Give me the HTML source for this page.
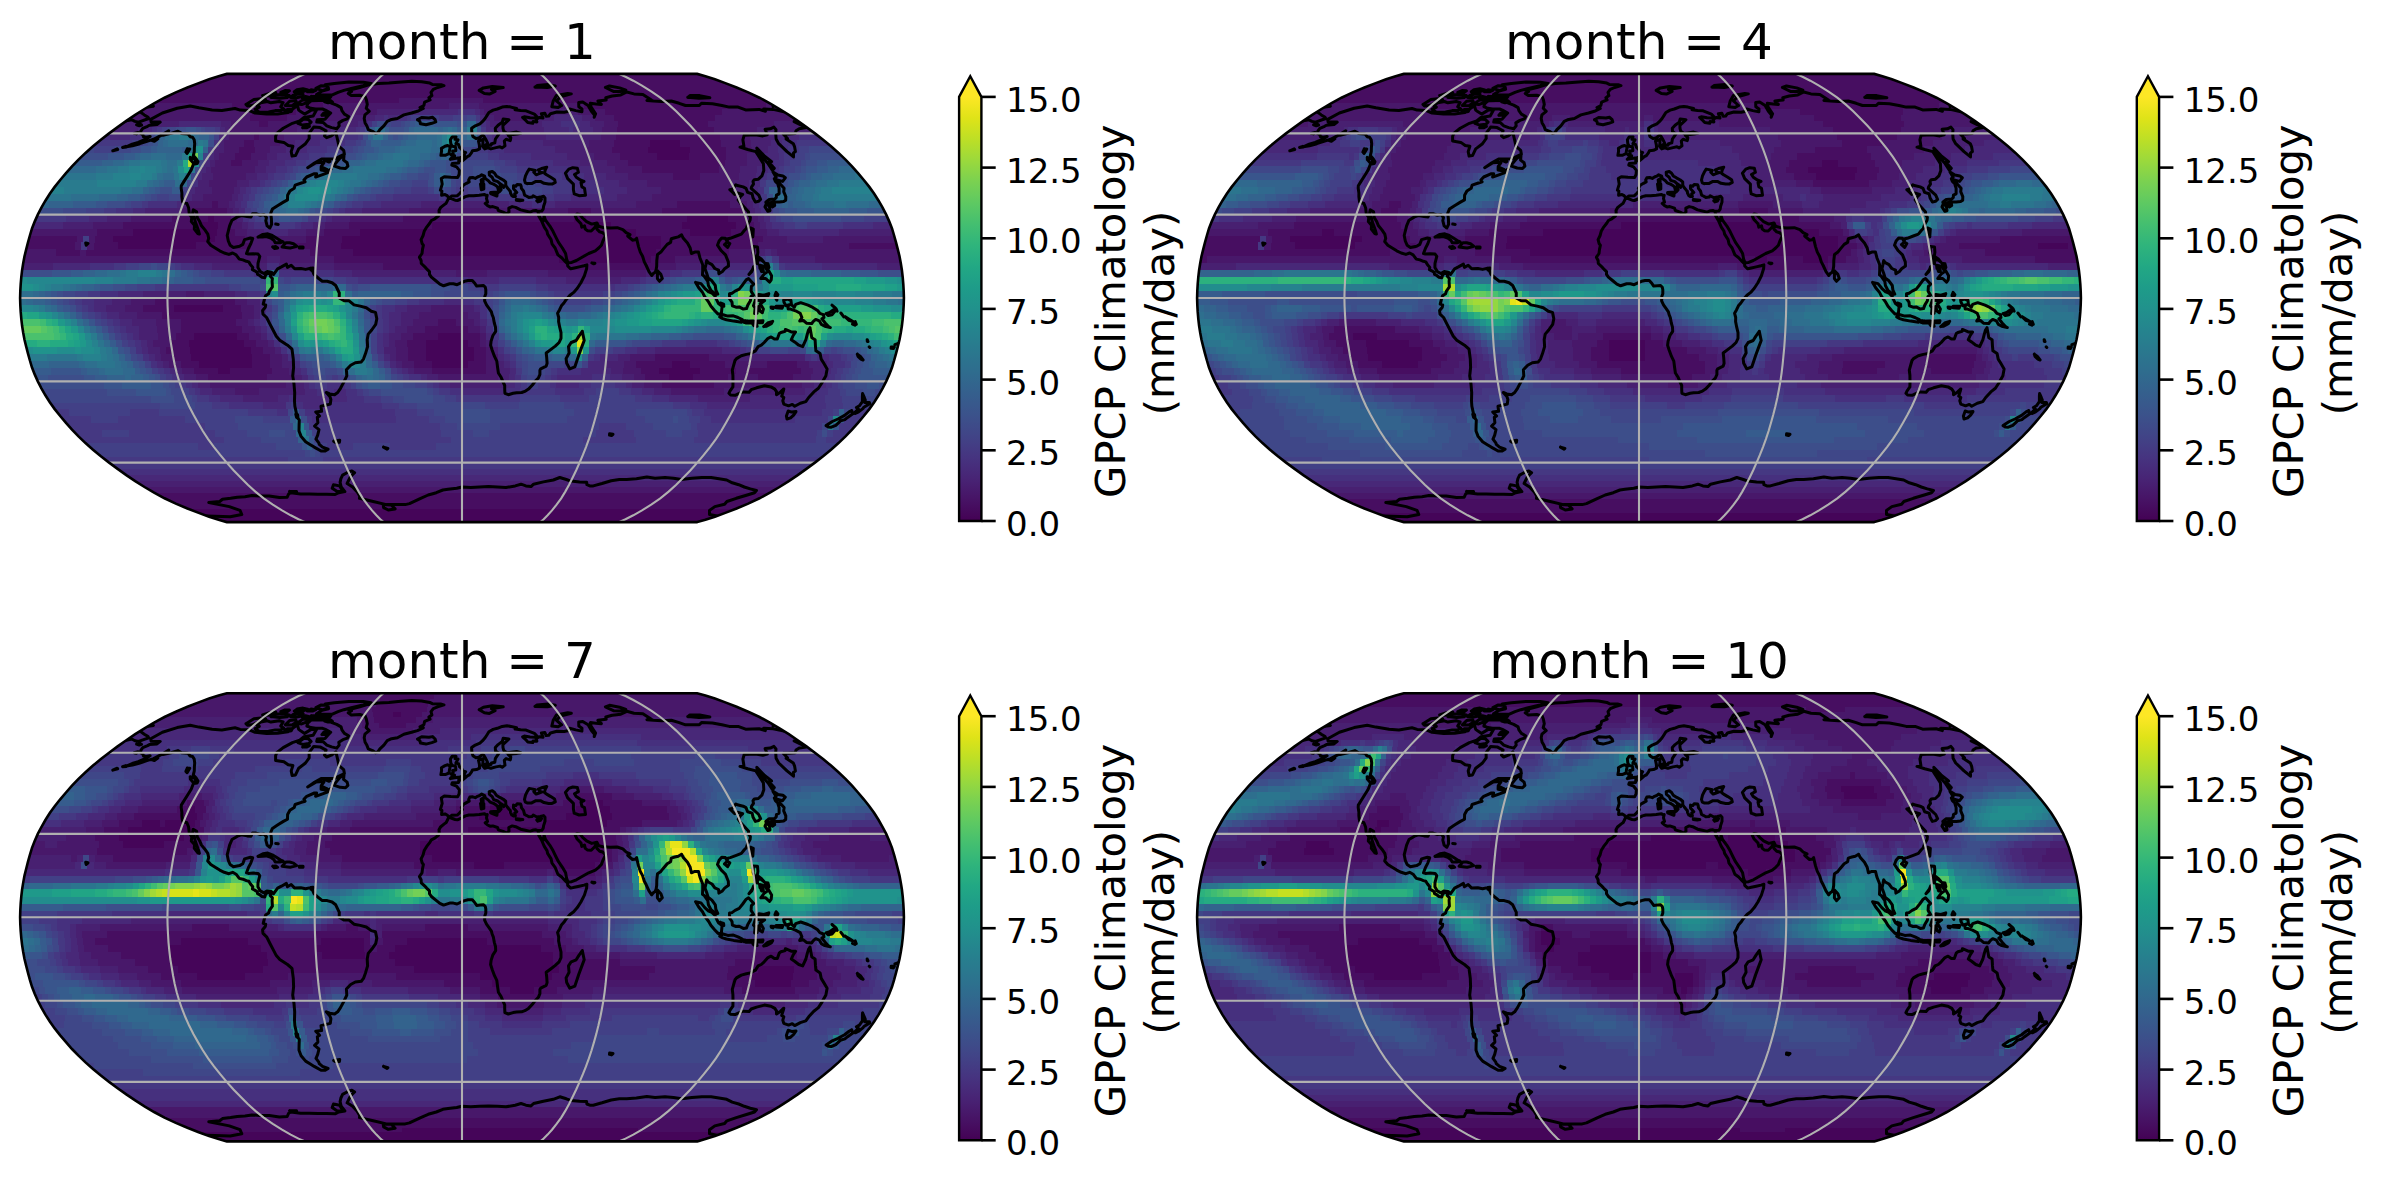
<!DOCTYPE html><html><head><meta charset="utf-8"><title>GPCP Climatology</title><style>html,body{margin:0;padding:0;background:#fff}svg{display:block}text{font-family:"DejaVu Sans","Liberation Sans",sans-serif;fill:#000}</style></head><body><svg width="2381" height="1181" viewBox="0 0 2381 1181">
<defs>
<linearGradient id="vg" gradientUnits="userSpaceOnUse" x1="0" y1="-201.1" x2="0" y2="223.0"><stop offset="0.00" stop-color="#fde725"/><stop offset="0.05" stop-color="#dfe318"/><stop offset="0.10" stop-color="#bddf26"/><stop offset="0.15" stop-color="#9bd93c"/><stop offset="0.20" stop-color="#7ad151"/><stop offset="0.25" stop-color="#5ec962"/><stop offset="0.30" stop-color="#44bf70"/><stop offset="0.35" stop-color="#2fb47c"/><stop offset="0.40" stop-color="#22a884"/><stop offset="0.45" stop-color="#1e9c89"/><stop offset="0.50" stop-color="#21918c"/><stop offset="0.55" stop-color="#25848e"/><stop offset="0.60" stop-color="#2a788e"/><stop offset="0.65" stop-color="#2f6c8e"/><stop offset="0.70" stop-color="#355f8d"/><stop offset="0.75" stop-color="#3b528b"/><stop offset="0.80" stop-color="#414487"/><stop offset="0.85" stop-color="#463480"/><stop offset="0.90" stop-color="#482475"/><stop offset="0.95" stop-color="#471365"/><stop offset="1.00" stop-color="#440154"/></linearGradient>
<clipPath id="cp"><path d="M235.2,224.1L243.4,221.8L252.9,218.7L263.3,214.9L274.6,210.5L286.2,205.6L297.5,200.3L307.9,194.7L317.5,189.0L326.8,183.1L335.7,177.1L344.4,170.9L352.9,164.6L361.1,158.2L369.0,151.7L376.5,145.1L383.5,138.4L390.0,131.7L396.0,124.8L401.8,118.0L407.3,111.1L412.2,104.2L416.6,97.3L420.6,90.3L424.2,83.4L427.3,76.4L430.0,69.5L432.1,62.5L434.0,55.6L435.8,48.6L437.5,41.7L438.8,34.7L439.9,27.8L440.7,20.8L441.3,13.9L441.7,6.9L441.9,0.0L441.7,-6.9L441.3,-13.9L440.7,-20.8L439.9,-27.8L438.8,-34.7L437.5,-41.7L435.8,-48.6L434.0,-55.6L432.1,-62.5L430.0,-69.5L427.3,-76.4L424.2,-83.4L420.6,-90.3L416.6,-97.3L412.2,-104.2L407.3,-111.1L401.8,-118.0L396.0,-124.8L390.0,-131.7L383.5,-138.4L376.5,-145.1L369.0,-151.7L361.1,-158.2L352.9,-164.6L344.4,-170.9L335.7,-177.1L326.8,-183.1L317.5,-189.0L307.9,-194.7L297.5,-200.3L286.2,-205.6L274.6,-210.5L263.3,-214.9L252.9,-218.7L243.4,-221.8L235.2,-224.1L-235.2,-224.1L-243.4,-221.8L-252.9,-218.7L-263.3,-214.9L-274.6,-210.5L-286.2,-205.6L-297.5,-200.3L-307.9,-194.7L-317.5,-189.0L-326.8,-183.1L-335.7,-177.1L-344.4,-170.9L-352.9,-164.6L-361.1,-158.2L-369.0,-151.7L-376.5,-145.1L-383.5,-138.4L-390.0,-131.7L-396.0,-124.8L-401.8,-118.0L-407.3,-111.1L-412.2,-104.2L-416.6,-97.3L-420.6,-90.3L-424.2,-83.4L-427.3,-76.4L-430.0,-69.5L-432.1,-62.5L-434.0,-55.6L-435.8,-48.6L-437.5,-41.7L-438.8,-34.7L-439.9,-27.8L-440.7,-20.8L-441.3,-13.9L-441.7,-6.9L-441.9,0.0L-441.7,6.9L-441.3,13.9L-440.7,20.8L-439.9,27.8L-438.8,34.7L-437.5,41.7L-435.8,48.6L-434.0,55.6L-432.1,62.5L-430.0,69.5L-427.3,76.4L-424.2,83.4L-420.6,90.3L-416.6,97.3L-412.2,104.2L-407.3,111.1L-401.8,118.0L-396.0,124.8L-390.0,131.7L-383.5,138.4L-376.5,145.1L-369.0,151.7L-361.1,158.2L-352.9,164.6L-344.4,170.9L-335.7,177.1L-326.8,183.1L-317.5,189.0L-307.9,194.7L-297.5,200.3L-286.2,205.6L-274.6,210.5L-263.3,214.9L-252.9,218.7L-243.4,221.8L-235.2,224.1Z"/></clipPath>
<path id="ol" d="M235.2,224.1L243.4,221.8L252.9,218.7L263.3,214.9L274.6,210.5L286.2,205.6L297.5,200.3L307.9,194.7L317.5,189.0L326.8,183.1L335.7,177.1L344.4,170.9L352.9,164.6L361.1,158.2L369.0,151.7L376.5,145.1L383.5,138.4L390.0,131.7L396.0,124.8L401.8,118.0L407.3,111.1L412.2,104.2L416.6,97.3L420.6,90.3L424.2,83.4L427.3,76.4L430.0,69.5L432.1,62.5L434.0,55.6L435.8,48.6L437.5,41.7L438.8,34.7L439.9,27.8L440.7,20.8L441.3,13.9L441.7,6.9L441.9,0.0L441.7,-6.9L441.3,-13.9L440.7,-20.8L439.9,-27.8L438.8,-34.7L437.5,-41.7L435.8,-48.6L434.0,-55.6L432.1,-62.5L430.0,-69.5L427.3,-76.4L424.2,-83.4L420.6,-90.3L416.6,-97.3L412.2,-104.2L407.3,-111.1L401.8,-118.0L396.0,-124.8L390.0,-131.7L383.5,-138.4L376.5,-145.1L369.0,-151.7L361.1,-158.2L352.9,-164.6L344.4,-170.9L335.7,-177.1L326.8,-183.1L317.5,-189.0L307.9,-194.7L297.5,-200.3L286.2,-205.6L274.6,-210.5L263.3,-214.9L252.9,-218.7L243.4,-221.8L235.2,-224.1L-235.2,-224.1L-243.4,-221.8L-252.9,-218.7L-263.3,-214.9L-274.6,-210.5L-286.2,-205.6L-297.5,-200.3L-307.9,-194.7L-317.5,-189.0L-326.8,-183.1L-335.7,-177.1L-344.4,-170.9L-352.9,-164.6L-361.1,-158.2L-369.0,-151.7L-376.5,-145.1L-383.5,-138.4L-390.0,-131.7L-396.0,-124.8L-401.8,-118.0L-407.3,-111.1L-412.2,-104.2L-416.6,-97.3L-420.6,-90.3L-424.2,-83.4L-427.3,-76.4L-430.0,-69.5L-432.1,-62.5L-434.0,-55.6L-435.8,-48.6L-437.5,-41.7L-438.8,-34.7L-439.9,-27.8L-440.7,-20.8L-441.3,-13.9L-441.7,-6.9L-441.9,0.0L-441.7,6.9L-441.3,13.9L-440.7,20.8L-439.9,27.8L-438.8,34.7L-437.5,41.7L-435.8,48.6L-434.0,55.6L-432.1,62.5L-430.0,69.5L-427.3,76.4L-424.2,83.4L-420.6,90.3L-416.6,97.3L-412.2,104.2L-407.3,111.1L-401.8,118.0L-396.0,124.8L-390.0,131.7L-383.5,138.4L-376.5,145.1L-369.0,151.7L-361.1,158.2L-352.9,164.6L-344.4,170.9L-335.7,177.1L-326.8,183.1L-317.5,189.0L-307.9,194.7L-297.5,200.3L-286.2,205.6L-274.6,210.5L-263.3,214.9L-252.9,218.7L-243.4,221.8L-235.2,224.1Z"/>
<g id="ov"><g clip-path="url(#cp)"><path d="M-311.3 -178.6L-299.6 -185L-284.8 -189.7L-271.8 -192L-263.1 -190.2L-249.9 -188.1L-240.1 -187.4L-227 -189.5L-221.8 -187.9L-213.2 -187.6L-206.9 -185L-195.4 -183.9L-184.3 -184.1L-174.1 -185.5L-164.6 -192.5L-163.3 -187.9L-161 -186.2L-157.4 -183.9L-150.8 -187.9L-145.5 -187.9L-148.8 -182L-158 -180.5L-162.3 -177.1L-169.6 -174.7L-178.8 -169.7L-185.3 -164.6L-186.4 -161.6L-186.4 -156.9L-178.1 -155.6L-173.8 -152.5L-169.1 -151.7L-170.8 -146.4L-169.9 -141.9L-166.5 -142.4L-163.3 -149.1L-156.5 -154.3L-152.8 -159.5L-152.9 -164.6L-148.3 -170.9L-141.9 -170.4L-135.9 -167.2L-137.5 -162.1L-135.4 -160.3L-130.6 -162.1L-126.1 -165.4L-124.4 -158.2L-123 -151.7L-118.3 -147.7L-117.6 -143.8L-127.7 -138.9L-140.4 -138.9L-148.5 -134.4L-154.3 -130.3L-146.1 -135.2L-139.5 -135.7L-138.1 -135.2L-140.8 -131.7L-140.9 -128.1L-134.7 -127L-130.8 -128.9L-134 -125.4L-141.5 -122.7L-146.4 -121L-145.4 -124.3L-147.6 -124.3L-155.3 -121L-158.1 -118L-156.9 -116.1L-160.6 -115L-166.9 -112.8L-167.8 -109.7L-172.1 -107L-174.4 -102.8L-174.5 -98.1L-178.6 -95.9L-184.1 -92.5L-189.6 -88.9L-191.3 -84.8L-190.6 -79.2L-190.4 -73.6L-192.2 -70L-194.9 -72.2L-196.2 -77.3L-195.5 -80.6L-198 -83.4L-201.6 -82.8L-206 -84.2L-209.6 -84.2L-211 -81.1L-214.9 -81.4L-220.6 -82.5L-224.5 -81.1L-230 -77.8L-232.4 -72.2L-234.8 -62.5L-233.7 -57L-231.9 -52.8L-228.6 -50.6L-222.4 -51.7L-219.2 -53.6L-217.4 -58.4L-211.6 -60L-209.3 -59.5L-211.2 -54.2L-213.4 -50L-215.5 -44.5L-213.6 -43.9L-208.8 -44.2L-203.9 -43.9L-202.2 -41.7L-204 -34.7L-204.1 -30.6L-201.7 -26.4L-198.1 -24.5L-194.8 -26.4L-190.7 -25.8L-188.4 -23.6L-184.4 -29.2L-180.6 -31.1L-175.6 -33.9L-174.6 -30.6L-170.8 -32.8L-167.3 -29.2L-161.2 -29.5L-156.4 -28.6L-151.4 -29.7L-149.1 -26.4L-148 -23.6L-143.3 -19.5L-139.7 -16.7L-134.8 -16.7L-129.9 -15.3L-126.3 -12.5L-122.7 -5L-122.8 0L-117.8 2.8L-112.9 2.8L-108 6.9L-101.8 8.1L-95.7 9.7L-90.7 13.3L-86.5 14.4L-85.2 20.8L-86.3 26.4L-90.3 32L-93.8 36.1L-94.8 41.7L-94.4 48.6L-96.5 55.6L-98.5 61.1L-100.7 63.9L-106.7 64.7L-111.3 67.2L-115.6 71.7L-115.2 77.8L-117.8 83.4L-121.5 90.3L-124.3 94.5L-127.4 96.7L-132.2 95.9L-135.7 94.5L-132.1 98.6L-131.1 101.4L-131.7 106.1L-141 108.3L-140.4 113.3L-146.3 113.9L-142.4 118L-144.7 119.4L-144.1 124.8L-147.4 128.1L-143 131.7L-144.3 137.1L-146 141.1L-143.2 144.8L-142.7 146.4L-139.5 149.1L-133.9 151.2L-136.8 153L-140.9 153L-147.8 149.1L-152.1 146.4L-156.4 143.8L-160.9 138.4L-163 133L-162.9 127.6L-162.7 122.1L-164.7 119.4L-165.9 113.9L-167.1 108.3L-167.5 102.8L-167.3 94.5L-168 86.1L-169.3 77.8L-168.4 69.5L-168.7 61.1L-170 51.1L-174.5 47.2L-182.2 42.2L-185.7 38.3L-188.3 33.3L-191.9 26.4L-195.4 19.5L-199 16.1L-199.4 12.5L-196.7 9.2L-196.3 6.9L-198.8 6.1L-197.6 1.4L-196.4 -2.2L-193.4 -4.2L-192.6 -6.9L-189.6 -11.1L-189.9 -16.7L-189.6 -19.5L-191.7 -21.7L-190.8 -23.6L-194.4 -25L-196.5 -22.8L-197.1 -20.3L-200 -20.8L-202.6 -22.8L-204.5 -23.6L-204.7 -25.6L-207.3 -27.2L-209.6 -28.3L-209.2 -30.6L-211.5 -33.3L-213.2 -36.1L-215.6 -36.7L-219.1 -38.1L-222.7 -38.9L-225.9 -43.1L-229.3 -45L-233.1 -43.6L-237.8 -45L-242.3 -47.2L-246.8 -50L-251.2 -52.8L-254.3 -56.4L-253.3 -59.7L-254.2 -63.9L-257.1 -68.1L-260.5 -72.2L-262.3 -76.4L-264.8 -80.6L-265.4 -86.1L-268.8 -88.1L-269.4 -84.8L-267.5 -79.2L-266.3 -75L-264.8 -70.9L-263.3 -66.7L-262.6 -63.9L-264.2 -64.5L-267.7 -68.9L-267.5 -72.8L-270.7 -76.4L-270.2 -80.6L-272.7 -84.2L-273.4 -90.3L-275.1 -94.5L-279.4 -95.9L-280.1 -101.4L-280.1 -105L-280.8 -109.7L-280.7 -112.2L-278 -116.6L-273.6 -123.5L-270.8 -128.1L-268.6 -133.8L-264.8 -134.4L-264 -136.3L-265.8 -139.2L-268.7 -142.4L-267.7 -146.4L-267.6 -150.4L-267.3 -154.3L-267.8 -158.2L-269.4 -160.8L-271.9 -161.3L-274 -164.1L-280.4 -164.6L-284.1 -166.7L-291.1 -164.6L-299 -162.8L-293.2 -167.2L-301.8 -162.1L-308.4 -158.7L-314.3 -156.9L-322.2 -154.3L-329.5 -152.2L-335.7 -151.2L-329.8 -153.8L-323.8 -155.6L-316.1 -159L-311.9 -161.6L-315.7 -160.8L-318.5 -161.3L-319.1 -163.3L-321.5 -164.6L-321 -167.2L-319.2 -169.7L-314.4 -171.7L-312.6 -172.7L-305 -173.4L-301.8 -175.9L-305.6 -175.9L-310.9 -176.1L-311.3 -178.6M-12.9 -100L-14.9 -102.3L-17 -103.4L-20.4 -102.8L-20.1 -107L-21.6 -107.8L-19.8 -113.9L-20.7 -119.4L-17.7 -121.3L-11.1 -120.7L-4.4 -120.5L-2.9 -123.5L-2.6 -127.6L-5.4 -131.1L-10.2 -133L-9.7 -134.6L-3.4 -134.9L-3.2 -137.6L.4 -137.1L3.4 -139.7L5.3 -141.4L7.4 -142.4L9.4 -145.1L10.4 -147.2L14.5 -147.7L17.6 -149.1L17.4 -153L16.5 -156.9L21 -158.7L20.9 -154.3L20.5 -151.7L22.7 -149.1L25.8 -150.1L28.9 -149.1L34 -150.4L38 -151.2L40.2 -150.1L43 -152.2L42.3 -156.9L44.1 -158.7L48.3 -157.4L48.8 -160.3L46.4 -162.6L51.2 -163.6L55.1 -163.9L58.8 -164.6L54.6 -165.9L48.9 -165.1L45.1 -164.4L41.8 -166.7L41 -169.7L40.9 -172.7L45.7 -177.1L46.9 -178.3L41.2 -179.1L40.3 -175.9L36.1 -172.7L33.3 -169.7L33.5 -166.4L36.9 -164.1L35.6 -162.1L33.4 -159L32.8 -155.1L29.5 -154.3L29 -152.7L26.3 -153L25.3 -155.6L23.6 -159L21.8 -162.1L20.7 -162.8L16.9 -160L14 -159.5L10.9 -161.6L9.8 -165.9L9.6 -169.7L13.3 -172.2L17.9 -174.2L20.6 -176.6L23.1 -179.5L25.4 -183.1L26.9 -185.5L31.1 -187.9L35.3 -189L40.2 -190.9L44.9 -191.6L48.9 -190.9L54.6 -189.5L53.1 -188.3L58.6 -187.6L64.1 -187.2L72.4 -183.9L75.2 -181L73.7 -180L68.1 -180.3L62.3 -181.2L60.6 -180.5L64.3 -177.1L65.8 -175.4L70.7 -174.7L71.1 -176.4L74.9 -176.1L74.1 -178.6L77.2 -180.5L81 -180L79.4 -184.3L82.9 -184.8L84.1 -181.7L86.7 -182L88.5 -184.3L94.9 -186L102.2 -185.8L107.1 -186.7L107.6 -189L113.8 -187.4L119.9 -186.2L120 -189L116.8 -191.3L116.7 -195.4L120.7 -195.9L126.1 -192.5L129.4 -186.7L132.5 -183.1L132.2 -180.7L133.6 -184.3L129 -191.3L128.3 -194.7L133.9 -194.1L139.4 -193.6L135.9 -197L144.2 -198.1L143.8 -200.3L150.2 -202L158.8 -203.1L164.8 -206L172 -204.1L180.9 -203.5L189.4 -198.1L184.9 -197.6L191.6 -197L199.7 -196.5L209.3 -197L217.2 -194.7L223.5 -192.5L230.4 -192.5L237.3 -192.5L239.5 -194.7L250.4 -194.3L259.9 -192.5L267.3 -190.9L276.1 -190.9L283.6 -188.1L290.3 -188.3L297.1 -188.6L303.4 -186.7L301.7 -189L311.2 -188.6L322 -186.2M-322 -186.2L-317.7 -183.1L-313.9 -180.7L-313.3 -179.5L-323.4 -175.9L-327.1 -176.6L-330.2 -178.3L-335.7 -177.1M335.7 -177.1L334.7 -175.9L332.1 -176.4L340.8 -172.2L344.2 -170.4L337.2 -169.2L334 -167.2L333.3 -164.6L326.1 -164.1L321.2 -164.1L325.5 -159.5L324.1 -159L331.3 -154.3L332.6 -151.2L333.4 -146.4L331.5 -145.1L331.5 -141.1L325 -146.4L316.7 -154.3L314.1 -159L313.7 -164.6L314 -168.4L311.9 -170.9L308.3 -169.2L303.1 -168.7L305.3 -163.3L300.8 -162.1L293.5 -163.3L282.2 -162.8L280.9 -158.2L281.9 -151.7L278 -150.9L285.7 -148.5L293.8 -146.4L297.2 -141.1L301.4 -134.4L301.8 -127.6L299.9 -122.1L296.4 -118.8L292.3 -118.3L291 -116.6L291.5 -113.9L289.6 -111.1L289.2 -109.7L296.7 -102.8L298.6 -98.6L296.5 -96.7L293.4 -95.9L291.1 -100L290.1 -104.2L285.6 -105.6L284 -109.7L281.2 -111.1L275.3 -112.5L273.8 -113.3L270.3 -108.9L267.8 -108.3L270.7 -105.6L272.7 -103.6L275.5 -105L280.7 -103.6L278.3 -101.4L276.2 -98.1L278.8 -94.5L282.7 -90.3L286.6 -86.1L286.4 -83.4L288.4 -80.6L288.1 -77.8L285.6 -73.6L284.3 -69.5L282.3 -67.5L279.4 -63.9L274.3 -62L268.2 -59.7L265.9 -59.2L265.1 -56.4L263.4 -59.7L259.7 -60L257.1 -57L255.5 -52.8L259.3 -47.2L263.5 -43.1L266.3 -36.1L266.5 -32L262.6 -29.2L260.4 -26.4L256.9 -24.2L256.6 -27.8L252.8 -29.5L250 -33.3L246.2 -35.3L244.7 -37.5L243.9 -33.3L243 -29.2L244.6 -25L246.1 -20L249.9 -17.2L253.3 -12.5L253.9 -7.8L255.8 -3.9L254 -3.6L249 -7.5L246.4 -12.5L245.8 -16.7L242.3 -21.7L240.5 -23.1L240.7 -27.8L240.7 -33.3L237.9 -40.3L236.5 -45.9L232.8 -45.9L229.4 -44.5L228.2 -50L225.5 -55L221.3 -59.7L219.6 -63.1L216.3 -61.1L212.8 -60.3L209.3 -59.2L208.6 -55.6L205.2 -53.6L201 -48.6L198.9 -45.9L195.5 -43.6L194.8 -37.5L194.7 -32L194.2 -28.6L193.2 -25.8L191.3 -24.5L189.7 -22.5L187 -26.4L184.2 -32.5L182.3 -36.1L180.6 -41.7L178.3 -45.9L176.5 -51.4L175.5 -55.6L174.6 -59.7L174 -58.4L170.5 -57.8L165.7 -62L168 -63.4L164.1 -65.3L160.9 -68.4L155.2 -70.3L148 -70L140.8 -70.6L136.6 -71.7L135 -75L129.7 -73.9L124.6 -76.4L120.6 -80L117.8 -83.4L114.9 -83.9L113.3 -82L114.9 -78.6L119 -74.2L119.8 -70.9L121.6 -71.7L122.5 -72.2L123.3 -68.9L125.6 -67.2L129.2 -67L132.5 -70.3L134.1 -72.8L135 -68.9L137.7 -66.1L140.7 -65.3L143.6 -62.5L140.9 -57L139.4 -52.8L136.7 -50L133.3 -47.2L126.7 -44.5L119.2 -40.3L114.4 -37.5L109.7 -35.6L106 -35.3L104.6 -38.9L103.6 -44.5L100.4 -50L96.5 -55.6L93.7 -61.1L91 -66.7L87.7 -72.2L83.5 -77.8L82.1 -82L81.4 -77.3L78.6 -79.2L76.8 -83.4L75.8 -86.7L79.8 -87L81.2 -88.9L81.6 -91.7L83 -95.9L83 -100L81.6 -101.7L78.3 -100.9L74.9 -100.3L71.2 -102.3L70.2 -100.9L66.8 -100.6L64.3 -102L62.6 -102.8L61.5 -107L59.4 -109.7L59.2 -111.7L58.6 -113.3L55.2 -113.6L53.8 -111.7L51.5 -112.2L51.5 -109.2L53.1 -107.5L54.8 -105.6L52.7 -104.2L53.4 -101.4L51.5 -101.4L49.8 -102.3L48.5 -105L48.3 -106.7L47.1 -108.1L45.3 -110.3L43.8 -112.5L43.7 -116.1L41.3 -118L37.8 -119.9L34.3 -122.1L32.6 -124.8L30.3 -126.5L27.2 -125.7L27.4 -122.9L30.2 -120.7L31.7 -117.7L35.8 -116.3L37.8 -114.4L41.8 -111.7L41.7 -110.6L38.4 -112.5L37.6 -110.3L39.1 -108.3L37.6 -106.4L35.9 -105.3L36.4 -107.8L35.5 -111.1L33.4 -112.8L31.5 -113.9L28.1 -115.2L26.4 -117.2L23.4 -119.4L22.6 -121.8L19.7 -123.2L17.7 -121.8L15.5 -121L13.3 -119.6L10.7 -120.5L7.8 -120.2L6.7 -118L7.2 -116.1L4.5 -114.7L1.6 -113L-.7 -109.7L.5 -107.8L-1.4 -105.6L-2.3 -104.5L-4.6 -102.3L-10.1 -102L-12.9 -100M65.2 -114.4L69.7 -114.4L73.9 -116.6L78.4 -116.6L82 -114.7L86.7 -113.9L90 -113.9L93.3 -115.5L92.6 -118.3L88.8 -120.7L84.6 -123.2L82.5 -124.8L83.1 -127.6L84.7 -130.8L82.6 -130.3L79.5 -129.5L76.4 -128.1L78 -125.7L80.2 -125.4L77.1 -124.3L74.2 -123.2L71.8 -125.7L73.3 -127.6L69.9 -128.4L67.2 -128.9L65.2 -125.7L63.5 -122.1L62.5 -118L63.3 -115.2L65.2 -114.4M112.2 -104.2L117.1 -102.3L123.5 -102.8L122.5 -109.7L119.9 -111.1L119 -115.2L122 -116.6L118.3 -118L114.3 -120.7L112.5 -123.5L116.4 -125.7L115.3 -129.8L110.8 -130.3L106.8 -128.9L103.4 -124.8L105.7 -119.4L111.4 -113.9L111.4 -108.3L112.2 -104.2M-13.6 -99.5L-12.2 -99.8L-6.9 -97.8L-4.6 -97.5L0 -99.5L3.4 -101.4L6.9 -102.3L11.5 -102.3L17.2 -102.8L22.5 -103.6L24.1 -102.3L25.2 -102.8L24.5 -99.5L25.5 -95.9L23.2 -94.5L25.6 -92.3L28 -91.1L30.8 -91.4L35.5 -89.8L36.3 -87.5L41.1 -85.9L44.7 -84.2L47 -86.1L46.8 -89.8L50.2 -91.4L53.7 -90.6L58.6 -88.1L63.4 -87L68.1 -85.9L71.5 -87.3L73.9 -87.5L75.8 -86.7L76.8 -83.4L76.7 -82L79.5 -77.3L82.3 -70.9L85 -66.7L85.6 -63.9L89.1 -58.4L90 -54.2L93.1 -50L95.9 -43.1L99.7 -40.3L103.6 -36.1L105.6 -34.2L105.7 -32L108.7 -29.2L112.3 -30L117.2 -31.1L122 -32.2L124.9 -33.1L124.6 -29.2L122.4 -22.2L118.9 -15.3L115.3 -9.7L111.7 -5.6L108 -2.8L104.3 1.4L101.9 5L99.4 7.8L97.6 11.7L95.6 15.3L96.7 19.5L96.6 23.6L97.7 29.2L99 34.7L99 40.3L97.1 44.5L93.3 48.1L89 51.4L84.2 55L84.7 59.7L85.1 65.3L84.2 68.1L78.7 70.9L77.9 72.2L77.9 76.4L76.4 80L73.1 83.4L70.4 87L66.5 91.1L62.8 93.4L59.7 94.5L54.6 94.8L51.1 95.3L46.3 96.7L42.9 95.3L42.7 91.1L42.7 87.5L40.8 83.4L39.1 79.2L36.4 75L35.6 69.5L34.8 63.1L32.5 58.4L30.2 52.2L28.6 47.2L29.1 43.1L30.9 37.5L33.7 33.3L33.5 29.2L32.3 25L31.3 19.5L30.1 16.7L29.4 13.9L27.5 11.1L24.5 6.9L22.6 2.8L22.8 -1.4L23.8 -4.2L23.8 -8.3L23.3 -10.8L21.6 -12.5L18.4 -12.2L14.7 -11.9L12.3 -15.3L10.3 -17.5L6.1 -17.5L2.5 -16.7L0 -15.6L-4.9 -13.3L-8.6 -14.2L-12.3 -14.2L-18.4 -12.2L-22.1 -13.9L-26.5 -17.5L-30.6 -20.8L-32.5 -23.6L-32.5 -26.4L-35.4 -29.2L-36.6 -30.6L-40.7 -34.5L-40.9 -37.5L-42.6 -40.8L-40 -44.5L-39.5 -48.6L-38.6 -52.8L-39.8 -54.2L-40.9 -58.4L-38.9 -62.5L-37.8 -66.7L-35.3 -70.9L-32.1 -75L-30.6 -77.5L-27.2 -79.2L-23.6 -82L-22.8 -84.8L-23 -87.5L-21.5 -90.3L-17.7 -93.4L-15.8 -94.8L-14.3 -97.8L-13.6 -99.5M-86.3 -164.6L-89.5 -166.7L-93.7 -168.4L-95.2 -172.2L-96.9 -175.1L-97.8 -179.5L-97.1 -183.1L-92.8 -186.7L-95.8 -189.7L-94.7 -193.6L-95.6 -198.1L-96.8 -201.3L-102.3 -202.8L-110.7 -202.4L-113.8 -204.5L-110.4 -206.6L-113.4 -207.6L-102.2 -210.5L-94 -212.9L-83.8 -214.4L-73.1 -214.9L-63.8 -215.8L-50.3 -216.7L-40.4 -216.2L-32.2 -214.9L-29.7 -213.6L-20.8 -213.2L-18 -212.4L-24.4 -210.5L-28.7 -208.6L-31 -205.6L-30.1 -202.4L-33.1 -200.3L-31.9 -198.1L-37.4 -195.9L-38.1 -192.5L-42 -190.4L-38.7 -189.5L-44.6 -186.7L-50.4 -185L-58.1 -183.1L-64.6 -179.5L-70.4 -178.6L-74.8 -176.6L-78.1 -172.2L-82.1 -168.4L-84.1 -165.4L-86.3 -164.6M-125.2 -169.2L-130.4 -170.4L-135.2 -172.2L-138.9 -175.6L-145.3 -175.9L-144.7 -178.3L-137 -178.8L-134.2 -182L-131.3 -185L-136.6 -187.9L-139.4 -189L-146.4 -189L-151.2 -189.7L-155.1 -191.3L-154.3 -194.3L-150.9 -197.2L-142.9 -197.6L-136.4 -197.4L-132.5 -195.9L-130 -194.7L-125.3 -192.9L-120.9 -190.4L-120.1 -187.4L-117.6 -183.9L-113.4 -181.5L-114.7 -179.1L-119.1 -177.6L-123.2 -175.1L-122.8 -172.2L-125.2 -169.2M-206.9 -188.6L-202.6 -185.8L-193.4 -186L-186.8 -187.4L-181.4 -187.4L-178.2 -189L-181.3 -191.3L-178.9 -195.4L-182.8 -196.5L-191.1 -195.2L-194.6 -196.5L-201.3 -195.2L-205.3 -192.5L-202.7 -190.9L-206.9 -188.6M-216 -193.6L-214.5 -192L-209.6 -192.5L-202.2 -195.9L-196.4 -198.5L-201.4 -199.2L-208.1 -198.5L-216 -193.6M-145.4 -203.5L-137.7 -203.1L-129.6 -203.1L-124 -205.6L-118.1 -207.6L-110.7 -209.6L-99 -212.4L-91 -214.6L-98.7 -215.8L-113 -215.9L-127.7 -214.6L-136.8 -213.2L-133.8 -210.9L-133.4 -208.6L-139.9 -207L-145.4 -203.5M-150.7 -201.6L-140.9 -201.6L-131.2 -201.3L-133 -199.4L-143.2 -199.2L-152.7 -199.6L-150.7 -201.6M-191.1 -200.7L-182.3 -199.8L-174.9 -200.5L-172.6 -202.4L-178 -203.3L-187.7 -203.3L-191.1 -200.7M-146.1 -209.6L-139.4 -207.4L-133.8 -209.6L-135.4 -212L-141.2 -212.2L-146.1 -209.6M-164.8 -194.1L-160.3 -193.4L-153.8 -195.9L-154.2 -198.1L-159.3 -198.1L-164.8 -194.1M-176.7 -192.5L-170 -192.2L-165.3 -195.4L-166.4 -197.6L-172.4 -196.7L-176.7 -192.5M-164 -174.7L-159.4 -172.9L-153.3 -173.7L-150.9 -175.9L-153.8 -178.6L-158.1 -179.1L-164 -174.7M-128.3 -132.2L-121.8 -130L-116.5 -129.5L-114.1 -131.9L-114.9 -135.2L-118.4 -137.9L-118 -142.4L-122.1 -139.7L-125.5 -135.7L-128.3 -132.2M-271.8 -140.6L-267 -138.9L-265.8 -134.4L-268.7 -134.9L-271.7 -138.4L-271.8 -140.6M-204 -60.9L-199.1 -63.6L-194.2 -64.2L-189.7 -62.5L-185.2 -59.7L-181.8 -57.5L-178.9 -56.1L-182.1 -55.3L-186.9 -55.3L-187.9 -57.5L-191.2 -60L-195.8 -61.4L-199.4 -61.1L-204 -60.9M-179.9 -51.1L-176.1 -55.3L-172.4 -55.3L-168.5 -54.2L-165.3 -51.7L-168.1 -50.9L-171.8 -50L-174.2 -50.3L-179.9 -51.1M-189.3 -51.1L-186.1 -51.4L-184.4 -50L-187.6 -49.5L-189.3 -51.1M-162.5 -51.1L-158.9 -51.1L-159 -50L-162.6 -50L-162.5 -51.1M-44.5 -178.3L-40.4 -180.5L-33.1 -180L-29.4 -180.7L-26.9 -178.3L-26.2 -176.1L-30.2 -174.7L-36 -173.2L-41.5 -174.2L-42.1 -176.6L-44.5 -178.3M-11.7 -138.7L-7.4 -139.5L-2.1 -140.3L2.7 -141.6L2.1 -143.2L3.6 -145.6L.6 -146.4L0 -148.3L-2.5 -150.6L-3.5 -153.5L-6.1 -154.3L-4 -158.2L-7 -158.7L-6 -161L-9.9 -161L-11.6 -158.2L-11.2 -154.3L-9.8 -151.7L-6.6 -151.2L-6.2 -148.5L-6.2 -147.2L-9.4 -146.9L-8.8 -144.6L-10.9 -143.2L-7.4 -142.2L-9.5 -141.1L-11.7 -138.7M-21.1 -142.7L-16.8 -142.7L-13 -144.3L-12.5 -147.7L-11.7 -151.2L-14.3 -152.5L-17 -151.7L-20.6 -149.6L-20.4 -146.9L-21.1 -142.7M17.2 -207.6L22.4 -204.5L27.4 -203.9L33.1 -206.6L29.5 -208.6L41.2 -210.5L30.3 -211.5L21.4 -210.1L17.2 -207.6M89.8 -191.3L96.2 -190.6L99.6 -192.5L94.5 -197L98.4 -201.3L109.3 -204.1L105.8 -204.5L94.4 -202.4L91.2 -197L89.8 -191.3M73 -210.9L85.4 -210.5L93.3 -212L86.1 -213.4L75 -212.4L73 -210.9M151.4 -206.6L158 -206.4L163.9 -207.8L157.6 -210.1L147.5 -212L143.4 -210.5L151.4 -206.6M225.8 -200.7L237 -199.8L247.9 -200.3L237.7 -202.4L227.9 -202.4L225.8 -200.7M311.1 -191.3L311.8 -192.5M-311.8 -192.5L-308.6 -191.8L-314.1 -191.1M304.2 -94.5L307.5 -95.3L312.9 -96.1L317.2 -95.9L321.6 -96.4L323.7 -97.8L323.8 -101.4L321.7 -106.4L322.1 -109.7L317.5 -114.7L315.8 -113.9L317.1 -109.7L317.1 -104.2L314.4 -102.8L314.3 -100.6L312.8 -98.9L307.2 -98.6L303.8 -95.9L304.2 -94.5M304.3 -94.2L307.4 -91.7L308 -87.3L305.9 -86.7L303 -91.1L304.3 -94.2M308 -94.2L312.3 -95L312.7 -92.5L310.4 -91.1L308 -94.2M314.9 -115.2L315.2 -118L320.6 -116.6L323.3 -120.2L320.9 -122.1L315.9 -122.9L311 -125.9L314.1 -120.7L312.3 -119.4L313.4 -116.6L314.9 -115.2M310.5 -127.6L312.3 -129.8L306.8 -135.7L309.6 -136.3L302 -142.4L294.8 -149.9L295.3 -147.7L300 -141.1L306.1 -134.4L310.5 -127.6M288.9 -70L291.3 -68.9L290.8 -61.1L288.3 -63.9L288.9 -70M262.5 -53.4L265.2 -55.9L267.8 -54.5L265.6 -50.6L262.5 -53.4M195.5 -27.2L198.9 -23.6L200.3 -19.5L197.5 -16.7L195.4 -19.5L195.5 -27.2M291.3 -51.4L295.5 -51.1L295.9 -45.9L295.3 -41.7L299.3 -38.9L302.2 -35.6L299 -38.1L296.5 -38.3L293.6 -39.7L291.2 -44.5L291.3 -51.4M298.8 -19.5L302.1 -23.9L306.7 -27.2L309.6 -22.2L309.2 -18.1L307.6 -15.8L303.7 -19.5L298.8 -19.5M303 -34.7L306 -34.2L306.9 -30.6L305.5 -27.8L304 -30.6L303 -34.7M297.6 -32.8L300.7 -32L301.4 -26.4L299.5 -26.4L297.6 -32.8M287 -23.6L289.7 -26.4L291.7 -31.4L290.7 -28.6L287 -23.6M267.5 -4.2L270 -4.7L273.1 -6.9L277.2 -8.9L280.7 -13.3L284.2 -18.1L286.5 -19.5L290.4 -15.3L291.7 -13.9L289.4 -11.7L289.1 -6.9L291.6 -2.8L288.9 -1.4L288.4 2.8L285.9 6.9L284.5 10.6L281.3 11.1L277.2 8.9L274 9.2L270.4 7.8L270 4.2L267.6 .8L267.5 -4.2M233.6 -15.6L239 -14.4L242.8 -9.7L246.6 -6.1L249.8 -5L252.8 -2.2L254.8 2.2L256.5 5.6L260.1 8.3L259.3 16.1L256.1 16.1L252.6 12.5L249 8.3L246.7 4.2L243 -.8L240.5 -5.6L236.7 -10.3L233.6 -15.6M257.7 18.9L261 16.7L265.8 18.1L271.4 17.8L276 19.5L280.3 21.7L279.6 24.2L271.6 23.1L264.4 21.7L260.8 20.6L257.7 18.9M283.8 23.3L291.2 23.1L291.1 24.7L283.7 25L283.8 23.3M293.1 23.3L301 22.8L300.4 24.7L293 24.7L293.1 23.3M301.7 28.6L305.7 25L310.7 23.3L309.3 25.6L304.2 28.3L301.7 28.6M292.6 15.6L293.1 9.7L291.5 7.8L294.1 0L295.1 -2.5L297 -3.6L301.9 -2.8L306.8 -4.4L305.6 -1.4L302.7 -1.1L298.3 -1.4L295.3 -1.4L294.8 2.2L297.8 2.5L302.7 2.5L299.4 5L298.2 5.6L301.4 11.1L300.3 14.7L297.9 13.1L296.9 8.3L295.1 9.7L295.1 15.3L292.6 15.6M313 -2.8L314.1 -5.6L315.9 -3.3L314.7 -.8L314.9 2.2L313.5 0L313 -2.8M314 8.3L320.9 8.3L320.1 10.3L314 9.7L314 8.3M321.6 2.2L325.3 1.1L328.9 2.2L329.5 6.9L332.4 9.2L333.7 6.4L338.7 4.7L346 7.2L350.8 9.4L355.6 12.5L357.8 15.3L361.4 16.7L362 19.5L359.9 20.8L363.2 25L366.5 28.6L368.3 29.5L362.8 28.3L359.4 26.4L357.3 22.8L353.7 21.4L351.1 23.6L349.7 25.6L344.8 25.3L341.4 22.5L337.7 23.1L339.9 19.5L338.2 15.3L333.5 12.8L328.6 11.1L326.2 11.1L325.8 8.3L328.3 6.4L323.9 7.8L322 4.2L321.6 2.2M364 15.6L367.7 14.4L371.5 11.7L373.5 12.5L370 16.7L366.3 17.5L364 15.6M370 7.2L374 10.6L375.1 13.1L373.3 10L370 7.2M383.3 18.9L388 21.7L391 23.6L386.7 22.2L383.3 18.9M405.2 41.7L406 43.6L405.3 43.3L405.2 41.7M395.3 56.1L398.4 58.4L401.1 62L398.9 61.1L396 58.4L395.3 56.1M429.2 48.9L432.4 48.9L431.5 50.6L429.1 50.3L429.2 48.9M348 29.7L349.8 39.7L353.1 41.7L353.5 48.6L353.9 52.8L358.1 55.6L359.2 61.1L361.8 65.3L365.1 70.9L363.9 77.8L360 84.8L356.4 90.3L351.8 93.9L346.7 99.5L343.8 103.6L338.3 105.3L332.7 108.3L330.3 106.4L326.6 107.8L321.8 106.1L320.8 102.8L321.8 99.5L319.7 98.1L321.3 93.1L321.8 90.9L318.6 93.9L314.5 96.7L314.5 93.6L312.8 91.1L309 88.9L302.4 87.8L294.6 89.8L289.2 91.7L287.1 94.2L281.4 93.9L277.3 95.3L273.1 97.3L268.6 97L266.9 95.3L268.1 92.8L270.9 88.9L271 83.4L270.9 77.3L270.3 72.2L271.4 68.1L273 62.5L274.5 60.6L279.3 57.8L284.4 56.4L288.2 55.6L293.5 52.8L296.1 48.6L299.3 47.2L302.2 44.5L306 40.3L309.1 38.9L312.4 41.1L315.3 41.1L317.3 35.6L318.9 34.5L323.2 33.3L323.4 31.4L329.2 33.9L333.6 33.9L331.2 37.5L329.3 41.7L332.6 43.9L336.8 47.2L340.7 48.6L343.9 41.7L345.3 36.1L346.5 32L348 29.7M326.2 113L329.6 114.1L334 113.6L331.6 117.2L328.6 119.9L325 121L324.4 118L326.2 113M400.6 95.6L402.2 99.2L403.3 102L402.8 104.5L407.4 104.5L407.8 105.6L401.9 109.2L400.9 110.6L396.6 113.9L393.3 115.5L393 114.4L396.4 111.1L394.4 109.5L397.4 107.8L400.4 103.6L400.4 98.1L400.6 95.6M389.7 112.5L390.8 115.8L385.6 119.4L382.9 121.6L378.5 122.9L373.8 127.3L369.3 129.2L366.3 128.9L364.1 127.6L370.3 123.5L376 121L382.6 117.4L387.1 113.9L389.7 112.5M120.3 33.3L122.2 42.5L119.9 48.6L116.8 57L112.8 68.9L107.8 70.9L104.7 65.3L104.1 60.6L107.1 55L106.5 48.6L109.2 44.5L114.2 42.5L116.9 38.1L120.3 33.3M-376.3 -55L-374 -54.5L-375.8 -52.8L-376.3 -55M147.6 135.7L151 136.3L149.5 137.6L147.5 137.1L147.6 135.7M-128.3 143.2L-122.3 142.2L-122.6 144.3L-126.8 144.3L-128.3 143.2M-78.5 149.1L-74.1 150.4L-74.9 151.2L-78.5 149.1M28.6 -105.6L35.4 -106.1L34.9 -102L28.6 -104.5L28.6 -105.6M18.5 -113.9L21.8 -113.9L21.8 -108.9L19.3 -108.3L18.5 -113.9M19.2 -118L21.1 -119.4L21.1 -115.2L19.5 -115.5L19.2 -118M54.3 -98.6L60.8 -97.8L57.9 -97.3L54.3 -97.8L54.3 -98.6M74.8 -97.3L79.6 -98.9L78.5 -97L75.8 -96.1L74.8 -97.3M-254.9 218L-231.8 218.7L-220.2 216.5L-222 212.4L-232.7 208.6L-253.2 204.5L-242.3 203.5L-239.5 201.3L-231.4 200.3L-224.7 199.2L-217 198.7L-210.1 197.6L-201.2 198.1L-192.8 198.1L-182.6 199.6L-174.8 199.2L-173.3 195.9L-171.1 194.7L-161.4 195.9L-152.9 195.9L-144.1 196.3L-135.6 196.3L-126.9 196.5L-123.2 194.7L-117.1 193.6L-120.8 189L-121.9 184.3L-121.1 180.7L-119.4 177.1L-115 174.7L-110.1 172.9L-107.4 174.7L-111.3 178.3L-113.2 182L-114.9 185.5L-109.4 189L-105 193.6L-102.3 198.1L-102.5 200.3L-88.8 203.5L-75.7 206.6L-66.2 206.6L-56.8 206.6L-52.5 205.6L-45.6 202.4L-41.3 200.3L-33.8 197L-25.7 194.7L-19.1 192L-13.9 191.3L-5.3 190.2L0 189L8.8 189.5L17.6 189L26.5 188.6L35.3 189L44 189.5L53.2 187.9L59 186.2L63.9 187.9L69 188.6L71.6 186.2L81.4 183.9L91.3 182L97.8 179.5L104.3 181.5L108.9 183.1L117.6 183.9L124.6 184.3L124.9 186.7L127.8 187.9L131.3 187.9L140 185.5L149.2 182.7L157.3 181.5L164.7 181.5L174.4 180.7L184.9 179.1L193.1 180.3L203 179.5L211.5 180.3L219.5 181.5L229.9 180.3L239.9 179.5L249.1 179.5L257 180.7L264.7 182L270.2 184.8L276.7 186.7L282.3 189L288.3 190.9L294.5 192.5L292.5 194.7L285.3 197L274.3 200.3L264.9 203.5L262.6 206.2L252.8 208.6L247.5 212.4L247.5 216.5L254.9 218M-199.4 -202.4L-194.3 -202L-186.6 -203.5L-186.3 -205.4L-191.7 -204.9L-199.4 -202.4M-171.4 -200.7L-165.3 -200.3L-159.7 -201.6L-158.9 -203.7L-163.2 -204.1L-168.8 -202.8L-171.4 -200.7M-159.7 -200L-156.3 -199.4L-153.4 -200.9L-156.4 -201.6L-159.7 -200M-167.7 -206.2L-159.8 -206.2L-154.3 -208L-159 -209.2L-165 -208.2L-167.7 -206.2M-154.8 -206.4L-149.5 -206.2L-146.2 -207.6L-151 -208.2L-154.8 -206.4M-181.2 -205.6L-175.2 -205.4L-172.6 -207.2L-177 -207.4L-181.2 -205.6M-177.2 -187.2L-174.8 -185.8L-170.8 -186.5L-169.6 -188.8L-174.2 -188.6L-177.2 -187.2M-140.1 -182.7L-135.9 -182.9L-135.1 -184.8L-138.2 -185L-140.1 -182.7M-137.3 -196.3L-133.9 -195.2L-129.5 -195.9L-131.3 -197.4L-135.5 -197.4L-137.3 -196.3M-159.3 -170.2L-155.5 -170.2L-152.6 -171.7L-156.1 -172.2L-159.3 -170.2M-137.6 -137.9L-132.9 -136L-132.1 -136.5L-135.4 -138.1L-137.6 -137.9M-140.1 -129.2L-135.9 -127.8L-135.3 -128.7L-139.1 -130.3L-140.1 -129.2M-274.7 -149.3L-272.2 -149.1L-274.9 -144.6L-276.1 -145.9L-274.7 -149.3M-310.5 -157.7L-307.6 -156.7L-304.2 -159.2L-306.6 -159.5L-310.5 -157.7M-339.4 -150.6L-335.6 -150.9L-336.2 -151.7L-339.4 -150.6M-349.2 -147.2L-344.3 -148.5L-344.8 -149.1L-349.2 -147.2M-325.4 -173.2L-322.7 -172.2L-320.4 -172.9L-321.9 -173.9L-325.4 -173.2M-327.8 -164.6L-325.5 -164.1L-323.8 -165.6L-327.8 -164.6M293.2 -37.2L295.4 -37L295.5 -34.2L294.2 -35L293.2 -37.2M297.6 -32.8L300.4 -32L299.5 -29.2L298 -29.5L297.6 -32.8M303.4 -31.7L305.1 -31.1L305.9 -28.3L304.7 -28.3L303.4 -31.7M258.4 5L261.6 6.1L261.8 8.3L259.6 7.2L258.4 5M280.2 22.8L283.1 22.8L282.3 24.5L280.2 22.8M283.8 23.1L285.6 23.1L284.9 24.7L283.7 24.5L283.8 23.1M290.9 26.4L294.6 26.7L295.1 28.3L292 27.8L290.9 26.4M309.1 8.9L312 9.2L311 10.6L309.3 10L309.1 8.9M129.9 -35L132.9 -34.7L131.7 -34.2L129.9 -35M22.9 -152.5L25.4 -154.3L25.2 -152.2L22.9 -152.5M-150.9 -29.7L-149 -30L-149.1 -28.1L-151 -28.1L-150.9 -29.7M-186.3 -73.9L-183.8 -73.6M-166.2 116.3L-164.5 116.6L-163.9 120.5L-165.4 119.4L-166.2 116.3M-128.5 186.7L-122.4 187.9L-118.8 193.6L-124.8 193.6L-129.8 190.2L-128.5 186.7M-172.4 193.4L-165.5 193.4L-165.3 194.5L-171.5 194.3L-172.4 193.4M-78.8 206.6L-70.7 207L-66.9 210.9L-73.7 212L-78.4 209.6L-78.8 206.6M432.9 46.7L436.4 45.3M407.2 48.9L407.8 49.5M393.2 23.6L394.3 26.4M390.5 26.1L393 27.2M378.9 15L381.8 18.9" fill="none" stroke="#000" stroke-width="3" stroke-linejoin="round" stroke-linecap="round"/><path d="M-352.9 164.6H352.9M-424.2 83.4H424.2M-441.9 0H441.9M-424.2 -83.4H424.2M-352.9 -164.6H352.9M-156.8 224.1L-163.5 221.3L-171.3 217.3L-180 212.4L-189.2 206.6L-198.3 200.3L-206.6 193.6L-214.2 186.7L-221.4 179.5L-228.5 172.2L-235.3 164.6L-241.8 156.9L-248 149.1L-253.9 141.1L-259.2 133L-264 124.8L-268.6 116.6L-272.9 108.3L-276.6 100L-279.9 91.7L-282.8 83.4L-285.3 75L-287.3 66.7L-288.9 58.4L-290.3 50L-291.7 41.7L-292.7 33.3L-293.5 25L-294 16.7L-294.4 8.3L-294.6 0L-294.4 -8.3L-294 -16.7L-293.5 -25L-292.7 -33.3L-291.7 -41.7L-290.3 -50L-288.9 -58.4L-287.3 -66.7L-285.3 -75L-282.8 -83.4L-279.9 -91.7L-276.6 -100L-272.9 -108.3L-268.6 -116.6L-264 -124.8L-259.2 -133L-253.9 -141.1L-248 -149.1L-241.8 -156.9L-235.3 -164.6L-228.5 -172.2L-221.4 -179.5L-214.2 -186.7L-206.6 -193.6L-198.3 -200.3L-189.2 -206.6L-180 -212.4L-171.3 -217.3L-163.5 -221.3L-156.8 -224.1M-78.4 224.1L-81.7 221.3L-85.6 217.3L-90 212.4L-94.6 206.6L-99.2 200.3L-103.3 193.6L-107.1 186.7L-110.7 179.5L-114.2 172.2L-117.6 164.6L-120.9 156.9L-124 149.1L-126.9 141.1L-129.6 133L-132 124.8L-134.3 116.6L-136.4 108.3L-138.3 100L-139.9 91.7L-141.4 83.4L-142.6 75L-143.6 66.7L-144.4 58.4L-145.2 50L-145.8 41.7L-146.3 33.3L-146.7 25L-147 16.7L-147.2 8.3L-147.3 0L-147.2 -8.3L-147 -16.7L-146.7 -25L-146.3 -33.3L-145.8 -41.7L-145.2 -50L-144.4 -58.4L-143.6 -66.7L-142.6 -75L-141.4 -83.4L-139.9 -91.7L-138.3 -100L-136.4 -108.3L-134.3 -116.6L-132 -124.8L-129.6 -133L-126.9 -141.1L-124 -149.1L-120.9 -156.9L-117.6 -164.6L-114.2 -172.2L-110.7 -179.5L-107.1 -186.7L-103.3 -193.6L-99.2 -200.3L-94.6 -206.6L-90 -212.4L-85.6 -217.3L-81.7 -221.3L-78.4 -224.1M0 224.1L0 221.3L0 217.3L0 212.4L0 206.6L0 200.3L0 193.6L0 186.7L0 179.5L0 172.2L0 164.6L0 156.9L0 149.1L0 141.1L0 133L0 124.8L0 116.6L0 108.3L0 100L0 91.7L0 83.4L0 75L0 66.7L0 58.4L0 50L0 41.7L0 33.3L0 25L0 16.7L0 8.3L0 0L0 -8.3L0 -16.7L0 -25L0 -33.3L0 -41.7L0 -50L0 -58.4L0 -66.7L0 -75L0 -83.4L0 -91.7L0 -100L0 -108.3L0 -116.6L0 -124.8L0 -133L0 -141.1L0 -149.1L0 -156.9L0 -164.6L0 -172.2L0 -179.5L0 -186.7L0 -193.6L0 -200.3L0 -206.6L0 -212.4L0 -217.3L0 -221.3L0 -224.1M78.4 224.1L81.7 221.3L85.6 217.3L90 212.4L94.6 206.6L99.2 200.3L103.3 193.6L107.1 186.7L110.7 179.5L114.2 172.2L117.6 164.6L120.9 156.9L124 149.1L126.9 141.1L129.6 133L132 124.8L134.3 116.6L136.4 108.3L138.3 100L139.9 91.7L141.4 83.4L142.6 75L143.6 66.7L144.4 58.4L145.2 50L145.8 41.7L146.3 33.3L146.7 25L147 16.7L147.2 8.3L147.3 0L147.2 -8.3L147 -16.7L146.7 -25L146.3 -33.3L145.8 -41.7L145.2 -50L144.4 -58.4L143.6 -66.7L142.6 -75L141.4 -83.4L139.9 -91.7L138.3 -100L136.4 -108.3L134.3 -116.6L132 -124.8L129.6 -133L126.9 -141.1L124 -149.1L120.9 -156.9L117.6 -164.6L114.2 -172.2L110.7 -179.5L107.1 -186.7L103.3 -193.6L99.2 -200.3L94.6 -206.6L90 -212.4L85.6 -217.3L81.7 -221.3L78.4 -224.1M156.8 224.1L163.5 221.3L171.3 217.3L180 212.4L189.2 206.6L198.3 200.3L206.6 193.6L214.2 186.7L221.4 179.5L228.5 172.2L235.3 164.6L241.8 156.9L248 149.1L253.9 141.1L259.2 133L264 124.8L268.6 116.6L272.9 108.3L276.6 100L279.9 91.7L282.8 83.4L285.3 75L287.3 66.7L288.9 58.4L290.3 50L291.7 41.7L292.7 33.3L293.5 25L294 16.7L294.4 8.3L294.6 0L294.4 -8.3L294 -16.7L293.5 -25L292.7 -33.3L291.7 -41.7L290.3 -50L288.9 -58.4L287.3 -66.7L285.3 -75L282.8 -83.4L279.9 -91.7L276.6 -100L272.9 -108.3L268.6 -116.6L264 -124.8L259.2 -133L253.9 -141.1L248 -149.1L241.8 -156.9L235.3 -164.6L228.5 -172.2L221.4 -179.5L214.2 -186.7L206.6 -193.6L198.3 -200.3L189.2 -206.6L180 -212.4L171.3 -217.3L163.5 -221.3L156.8 -224.1" fill="none" stroke="#b0b0b0" stroke-width="2.1"/></g><use href="#ol" fill="none" stroke="#000" stroke-width="2.6"/></g>
</defs>
<g transform="translate(462.0 298.0)">
<g clip-path="url(#cp)"><use href="#ol" fill="#450559"/>
<g shape-rendering="crispEdges"><path fill="#470e61" d="M-284.4 205.6h568.7v5.3h-568.7zM-295.9 200.3h591.8v5.6h-591.8zM-306.8 194.7h613.6v5.8h-613.6zM-316.8 189h633.6v6h-633.6zM-326.2 183.1h652.4v6.2h-652.4zM-335.3 177.1h670.5v6.3h-670.5zM-344.1 170.9h688.2v6.5h-688.2zM-352.7 164.6h705.4v6.6h-705.4zM-361 158.2h722.1v6.7h-722.1zM-369.1 151.7h738.2v6.8h-738.2zM-376.8 145.1h753.6v6.9h-753.6zM-384.1 138.4h768.2v7h-768.2zM-390.8 131.7h781.6v7.1h-781.6zM-397 124.8h794.1v7.1h-794.1zM-403 118h805.9v7.2h-805.9zM-408.6 111.1h817.2v7.2h-817.2zM-413.8 104.2h827.5v7.2h-827.5zM-418.4 97.3h836.8v7.2h-836.8zM-422.6 90.3h845.3v7.2h-845.3zM-426.5 83.4h853v7.2h-853zM-429.8 76.4h636.9v7.2h-636.9zM230.7 76.4h199.2v7.2h-199.2zM-432.7 69.5h188.6v7.2h-188.6zM-232.2 69.5h428.7v7.2h-428.7zM238.2 69.5h194.5v7.2h-194.5zM-435.1 62.5h171.6v7.2h-171.6zM-209.6 62.5h179.6v7.2h-179.6zM6 62.5h203.6v7.2h-203.6zM227.5 62.5h207.6v7.2h-207.6zM-437.1 55.6h166.4v7.2h-166.4zM-210.5 55.6h174.4v7.2h-174.4zM12 55.6h425.1v7.2h-425.1zM-439 48.6h167.1v7.2h-167.1zM-211.4 48.6h175.2v7.2h-175.2zM12.1 48.6h426.9v7.2h-426.9zM-440.7 41.7h167.8v7.2h-167.8zM-218.3 41.7h182v7.2h-182zM6.1 41.7h434.6v7.2h-434.6zM-442.2 34.7h174.4v7.2h-174.4zM-225.2 34.7h200.8v7.2h-200.8zM0 34.7h442.2v7.2h-442.2zM-443.4 27.8h886.7v7.2h-886.7zM-444.3 20.8h888.6v7.2h-888.6zM-445 13.9h890v7.2h-890zM-445.5 6.9h157.3v7.2h-157.3zM-239.1 6.9h684.7v7.2h-684.7zM-445.8 0h891.6v7.2h-891.6zM-445.8 -6.9h891.6v7.2h-891.6zM-445.5 -13.9h891v7.2h-891zM-445 -20.8h890v7.2h-890zM-444.3 -27.8h888.6v7.2h-888.6zM-443.4 -34.7h886.7v7.2h-886.7zM-442.2 -41.7h539.6v7.2h-539.6zM188.7 -41.7h253.5v7.2h-253.5zM-440.7 -48.6h331.5v7.2h-331.5zM194.1 -48.6h246.6v7.2h-246.6zM-439 -55.6h94.6v7.2h-94.6zM-265.8 -55.6h145v7.2h-145zM199.4 -55.6h239.6v7.2h-239.6zM-437.1 -62.5h88.2v7.2h-88.2zM-246.6 -62.5h126.3v7.2h-126.3zM198.5 -62.5h238.6v7.2h-238.6zM-435.1 -69.5h105.8v7.2h-105.8zM-245.5 -69.5h143.7v7.2h-143.7zM173.6 -69.5h53.9v7.2h-53.9zM269.4 -69.5h165.7v7.2h-165.7zM-432.7 -76.4h164.8v7.2h-164.8zM-244.1 -76.4h214.4v7.2h-214.4zM148.9 -76.4h71.5v7.2h-71.5zM273.9 -76.4h158.8v7.2h-158.8zM-429.8 -83.4h175.5v7.2h-175.5zM-248.4 -83.4h360.8v7.2h-360.8zM124.2 -83.4h100.5v7.2h-100.5zM266.2 -83.4h163.7v7.2h-163.7zM-426.5 -90.3h853v7.2h-853zM-422.6 -97.3h845.3v7.2h-845.3zM-418.4 -104.2h836.8v7.2h-836.8zM-413.8 -111.1h827.5v7.2h-827.5zM-408.6 -118h817.2v7.2h-817.2zM-403 -124.8h805.9v7.2h-805.9zM-397 -131.7h794.1v7.1h-794.1zM-390.8 -138.4h781.6v7.1h-781.6zM-384.1 -145.1h579.4v7h-579.4zM227 -145.1h157.1v7h-157.1zM-376.8 -151.7h563.2v6.9h-563.2zM227.8 -151.7h149v6.9h-149zM-369.1 -158.2h556.7v6.8h-556.7zM218 -158.2h151v6.8h-151zM-361 -164.6h722.1v6.7h-722.1zM-352.7 -170.9h705.4v6.6h-705.4zM-344.1 -177.1h688.2v6.5h-688.2zM-335.3 -183.1h670.5v6.3h-670.5zM-326.2 -189h652.4v6.2h-652.4zM-316.8 -194.7h633.6v6h-633.6zM-306.8 -200.3h613.6v5.8h-613.6zM-295.9 -205.6h591.8v5.6h-591.8zM-284.4 -210.5h568.7v5.3h-568.7zM-272.9 -214.9h545.7v4.7h-545.7zM-262 -218.7h524v4.1h-524zM-252 -221.8h504v3.4h-504zM-243.1 -224.1h486.2v2.6h-486.2z"/><path fill="#48186a" d="M-316.8 189h633.6v6h-633.6zM-326.2 183.1h652.4v6.2h-652.4zM-335.3 177.1h670.5v6.3h-670.5zM-344.1 170.9h688.2v6.5h-688.2zM-352.7 164.6h705.4v6.6h-705.4zM-361 158.2h722.1v6.7h-722.1zM-369.1 151.7h738.2v6.8h-738.2zM-376.8 145.1h753.6v6.9h-753.6zM-384.1 138.4h768.2v7h-768.2zM-390.8 131.7h781.6v7.1h-781.6zM-397 124.8h794.1v7.1h-794.1zM-403 118h805.9v7.2h-805.9zM-408.6 111.1h817.2v7.2h-817.2zM-413.8 104.2h827.5v7.2h-827.5zM-418.4 97.3h836.8v7.2h-836.8zM-422.6 90.3h845.3v7.2h-845.3zM-426.5 83.4h626v7.2h-626zM252.3 83.4h174.2v7.2h-174.2zM-429.8 76.4h175.5v7.2h-175.5zM-195.2 76.4h378.5v7.2h-378.5zM266.2 76.4h29.6v7.2h-29.6zM331.2 76.4h98.6v7.2h-98.6zM-432.7 69.5h164.8v7.2h-164.8zM-190.5 69.5h160.8v7.2h-160.8zM23.8 69.5h154.8v7.2h-154.8zM273.9 69.5h11.9v7.2h-11.9zM339.4 69.5h93.3v7.2h-93.3zM-435.1 62.5h153.7v7.2h-153.7zM-191.6 62.5h143.7v7.2h-143.7zM23.9 62.5h149.7v7.2h-149.7zM263.4 62.5h41.9v7.2h-41.9zM335.3 62.5h99.8v7.2h-99.8zM-437.1 55.6h148.4v7.2h-148.4zM-192.5 55.6h138.4v7.2h-138.4zM24.1 55.6h168.4v7.2h-168.4zM246.6 55.6h190.5v7.2h-190.5zM-439 48.6h142.9v7.2h-142.9zM-199.4 48.6h145v7.2h-145zM24.2 48.6h414.8v7.2h-414.8zM-440.7 41.7h149.6v7.2h-149.6zM-206.2 41.7h151.6v7.2h-151.6zM18.2 41.7h422.5v7.2h-422.5zM-442.2 34.7h156.1v7.2h-156.1zM-213 34.7h164.3v7.2h-164.3zM18.3 34.7h423.9v7.2h-423.9zM-443.4 27.8h162.7v7.2h-162.7zM-219.7 27.8h183.1v7.2h-183.1zM6.1 27.8h437.3v7.2h-437.3zM-444.3 20.8h163v7.2h-163zM-226.3 20.8h201.8v7.2h-201.8zM-6.1 20.8h450.4v7.2h-450.4zM-445 13.9h144.9v7.2h-144.9zM-220.5 13.9h665.5v7.2h-665.5zM-445.5 6.9h126.6v7.2h-126.6zM-220.8 6.9h666.3v7.2h-666.3zM-445.8 0h139v7.2h-139zM-227 0h672.9v7.2h-672.9zM-445.8 -6.9h891.6v7.2h-891.6zM-445.5 -13.9h891v7.2h-891zM-445 -20.8h890v7.2h-890zM-444.3 -27.8h888.6v7.2h-888.6zM-443.4 -34.7h364v7.2h-364zM195.3 -34.7h248.1v7.2h-248.1zM-442.2 -41.7h314.4v7.2h-314.4zM213 -41.7h229.2v7.2h-229.2zM-440.7 -48.6h34.3v7.2h-34.3zM-382.1 -48.6h6.1v7.2h-6.1zM-230.5 -48.6h78.8v7.2h-78.8zM266.9 -48.6h173.8v7.2h-173.8zM-386.6 -55.6h18.1v7.2h-18.1zM-211.4 -55.6h42.3v7.2h-42.3zM296 -55.6h90.6v7.2h-90.6zM-385 -62.5h18v7.2h-18zM-216.6 -62.5h60.2v7.2h-60.2zM300.8 -62.5h136.3v7.2h-136.3zM-435.1 -69.5h69.9v7.2h-69.9zM-227.5 -69.5h89.8v7.2h-89.8zM293.4 -69.5h141.7v7.2h-141.7zM-432.7 -76.4h93.3v7.2h-93.3zM-232.2 -76.4h119.1v7.2h-119.1zM291.8 -76.4h141v7.2h-141zM-429.8 -83.4h140v7.2h-140zM-230.7 -83.4h171.5v7.2h-171.5zM283.9 -83.4h145.9v7.2h-145.9zM-426.5 -90.3h156.6v7.2h-156.6zM-234.7 -90.3h340.3v7.2h-340.3zM129.1 -90.3h70.4v7.2h-70.4zM281.7 -90.3h144.8v7.2h-144.8zM-422.6 -97.3h172.6v7.2h-172.6zM-244.2 -97.3h459.3v7.2h-459.3zM267.5 -97.3h155.2v7.2h-155.2zM-418.4 -104.2h836.8v7.2h-836.8zM-413.8 -111.1h827.5v7.2h-827.5zM-408.6 -118h817.2v7.2h-817.2zM-403 -124.8h613.5v7.2h-613.5zM238.3 -124.8h164.7v7.2h-164.7zM-397 -131.7h577.2v7.1h-577.2zM256.6 -131.7h140.5v7.1h-140.5zM-390.8 -138.4h159.8v7.1h-159.8zM-220.3 -138.4h386.8v7.1h-386.8zM263.3 -138.4h127.6v7.1h-127.6zM-384.1 -145.1h157.1v7h-157.1zM-211.2 -145.1h369.5v7h-369.5zM263.9 -145.1h120.1v7h-120.1zM-376.8 -151.7h154.2v6.9h-154.2zM-207.1 -151.7h357.3v6.9h-357.3zM264.1 -151.7h112.7v6.9h-112.7zM-369.1 -158.2h151v6.8h-151zM-207.9 -158.2h360v6.8h-360zM258.6 -158.2h110.5v6.8h-110.5zM-361 -164.6h152.8v6.7h-152.8zM-203.3 -164.6h357v6.7h-357zM257.9 -164.6h103.2v6.7h-103.2zM-352.7 -170.9h507.7v6.6h-507.7zM251.8 -170.9h100.9v6.6h-100.9zM-344.1 -177.1h141v6.5h-141zM-193.7 -177.1h349.5v6.5h-349.5zM245.6 -177.1h98.5v6.5h-98.5zM-335.3 -183.1h123.6v6.3h-123.6zM-174.8 -183.1h326.7v6.3h-326.7zM253.1 -183.1h82.2v6.3h-82.2zM-326.2 -189h115.9v6.2h-115.9zM-165.6 -189h308.8v6.2h-308.8zM259.6 -189h66.7v6.2h-66.7zM-316.8 -194.7h86.5v6h-86.5zM-139 -194.7h260.7v6h-260.7zM304.1 -194.7h12.7v6h-12.7zM-63.1 -200.3h84.1v5.8h-84.1z"/><path fill="#482071" d="M-326.2 183.1h652.4v6.2h-652.4zM-335.3 177.1h670.5v6.3h-670.5zM-344.1 170.9h688.2v6.5h-688.2zM-352.7 164.6h705.4v6.6h-705.4zM-361 158.2h722.1v6.7h-722.1zM-369.1 151.7h738.2v6.8h-738.2zM-376.8 145.1h753.6v6.9h-753.6zM-384.1 138.4h768.2v7h-768.2zM-390.8 131.7h781.6v7.1h-781.6zM-397 124.8h794.1v7.1h-794.1zM-403 118h805.9v7.2h-805.9zM-408.6 111.1h817.2v7.2h-817.2zM-413.8 104.2h827.5v7.2h-827.5zM-418.4 97.3h836.8v7.2h-836.8zM-422.6 90.3h195.9v7.2h-195.9zM-203.5 90.3h412.8v7.2h-412.8zM261.7 90.3h161v7.2h-161zM-426.5 83.4h174.2v7.2h-174.2zM-176 83.4h357.9v7.2h-357.9zM340.3 83.4h86.1v7.2h-86.1zM-429.8 76.4h163.7v7.2h-163.7zM-171.5 76.4h147.9v7.2h-147.9zM35.5 76.4h136v7.2h-136zM349 76.4h80.9v7.2h-80.9zM-432.7 69.5h152.9v7.2h-152.9zM-172.7 69.5h125v7.2h-125zM35.7 69.5h125v7.2h-125zM351.3 69.5h81.4v7.2h-81.4zM-435.1 62.5h141.7v7.2h-141.7zM-179.6 62.5h119.7v7.2h-119.7zM35.9 62.5h125.7v7.2h-125.7zM347.3 62.5h87.8v7.2h-87.8zM-437.1 55.6h136.3v7.2h-136.3zM-180.5 55.6h114.3v7.2h-114.3zM36.1 55.6h132.3v7.2h-132.3zM276.7 55.6h160.4v7.2h-160.4zM-439 48.6h136.9v7.2h-136.9zM-187.3 48.6h120.8v7.2h-120.8zM30.2 48.6h408.7v7.2h-408.7zM-440.7 41.7h131.4v7.2h-131.4zM-194.1 41.7h127.4v7.2h-127.4zM24.3 41.7h416.4v7.2h-416.4zM-442.2 34.7h137.9v7.2h-137.9zM-200.8 34.7h140v7.2h-140zM24.3 34.7h417.8v7.2h-417.8zM-443.4 27.8h138.3v7.2h-138.3zM-207.5 27.8h152.6v7.2h-152.6zM18.3 27.8h425.1v7.2h-425.1zM-444.3 20.8h138.5v7.2h-138.5zM-214 20.8h165.1v7.2h-165.1zM12.2 20.8h432.1v7.2h-432.1zM-445 13.9h120.4v7.2h-120.4zM-208.3 13.9h165.4v7.2h-165.4zM6.1 13.9h438.9v7.2h-438.9zM-445.5 6.9h108.2v7.2h-108.2zM-208.5 6.9h177.8v7.2h-177.8zM0 6.9h445.5v7.2h-445.5zM-445.8 0h114.5v7.2h-114.5zM-214.8 0h660.6v7.2h-660.6zM-445.8 -6.9h169.7v7.2h-169.7zM-257.7 -6.9h703.5v7.2h-703.5zM-445.5 -13.9h891v7.2h-891zM-445 -20.8h890v7.2h-890zM-444.3 -27.8h438.2v7.2h-438.2zM24.5 -27.8h61.2v7.2h-61.2zM183.5 -27.8h260.8v7.2h-260.8zM-443.4 -34.7h315.2v7.2h-315.2zM213.6 -34.7h229.8v7.2h-229.8zM-194.7 -41.7h12.2v7.2h-12.2zM292.1 -41.7h60.9v7.2h-60.9zM297.2 -48.6h18.2v7.2h-18.2zM-380.6 -55.6h6v7.2h-6zM-379 -62.5h6v7.2h-6zM324.8 -62.5h36.1v7.2h-36.1zM-215.5 -69.5h59.9v7.2h-59.9zM305.4 -69.5h129.7v7.2h-129.7zM-432.7 -76.4h63.5v7.2h-63.5zM-220.3 -76.4h83.4v7.2h-83.4zM297.7 -76.4h135v7.2h-135zM-429.8 -83.4h98.6v7.2h-98.6zM-224.8 -83.4h112.4v7.2h-112.4zM295.7 -83.4h134.1v7.2h-134.1zM-426.5 -90.3h144.8v7.2h-144.8zM-228.8 -90.3h176v7.2h-176zM287.5 -90.3h139v7.2h-139zM-422.6 -97.3h149.4v7.2h-149.4zM-232.6 -97.3h407v7.2h-407zM284.9 -97.3h137.7v7.2h-137.7zM-418.4 -104.2h159.4v7.2h-159.4zM-230.2 -104.2h420.2v7.2h-420.2zM276.3 -104.2h142.1v7.2h-142.1zM-413.8 -111.1h163.4v7.2h-163.4zM-227.6 -111.1h426.8v7.2h-426.8zM267.5 -111.1h146.3v7.2h-146.3zM-408.6 -118h155.7v7.2h-155.7zM-224.8 -118h410.2v7.2h-410.2zM269.7 -118h138.9v7.2h-138.9zM-403 -124.8h153.6v7.2h-153.6zM-216.1 -124.8h382.3v7.2h-382.3zM277.1 -124.8h125.9v7.2h-125.9zM-397 -131.7h145.9v7.1h-145.9zM-207.4 -131.7h360.3v7.1h-360.3zM278.4 -131.7h118.6v7.1h-118.6zM-390.8 -138.4h143.7v7.1h-143.7zM-204.2 -138.4h349.2v7.1h-349.2zM284.7 -138.4h106.1v7.1h-106.1zM-384.1 -145.1h141.3v7h-141.3zM-195.3 -145.1h327.3v7h-327.3zM285.1 -145.1h99v7h-99zM-376.8 -151.7h138.6v6.9h-138.6zM-191.6 -151.7h315.8v6.9h-315.8zM290 -151.7h86.8v6.9h-86.8zM-369.1 -158.2h130.8v6.8h-130.8zM-182.5 -158.2h309.3v6.8h-309.3zM289 -158.2h80.1v6.8h-80.1zM-361 -164.6h128v6.7h-128zM-178.5 -164.6h317.4v6.7h-317.4zM287.6 -164.6h73.4v6.7h-73.4zM-352.7 -170.9h120.2v6.6h-120.2zM-164.7 -170.9h305.1v6.6h-305.1zM295.4 -170.9h57.3v6.6h-57.3zM-344.1 -177.1h112.6v6.5h-112.6zM-151.2 -177.1h292.9v6.5h-292.9zM311.8 -177.1h32.3v6.5h-32.3zM-115 -183.1h147.2v6.3h-147.2zM73.6 -183.1h59.8v6.3h-59.8zM-85 -189h107.4v6.2h-107.4zM89.5 -189h26.9v6.2h-26.9zM-13 -194.7h30.4v6h-30.4z"/><path fill="#482878" d="M-335.3 177.1h670.5v6.3h-670.5zM-344.1 170.9h688.2v6.5h-688.2zM-352.7 164.6h705.4v6.6h-705.4zM-361 158.2h722.1v6.7h-722.1zM-369.1 151.7h738.2v6.8h-738.2zM-376.8 145.1h753.6v6.9h-753.6zM-384.1 138.4h768.2v7h-768.2zM-390.8 131.7h781.6v7.1h-781.6zM-397 124.8h794.1v7.1h-794.1zM-403 118h805.9v7.2h-805.9zM-408.6 111.1h817.2v7.2h-817.2zM-413.8 104.2h827.5v7.2h-827.5zM-418.4 97.3h199.7v7.2h-199.7zM-184.2 97.3h420.2v7.2h-420.2zM287.8 97.3h130.6v7.2h-130.6zM-422.6 90.3h172.6v7.2h-172.6zM-157 90.3h348.9v7.2h-348.9zM343.1 90.3h79.6v7.2h-79.6zM-426.5 83.4h162.4v7.2h-162.4zM-158.4 83.4h146.7v7.2h-146.7zM41.1 83.4h129.1v7.2h-129.1zM352.1 83.4h74.4v7.2h-74.4zM-429.8 76.4h151.9v7.2h-151.9zM-159.7 76.4h124.2v7.2h-124.2zM47.3 76.4h112.4v7.2h-112.4zM360.8 76.4h69.1v7.2h-69.1zM-432.7 69.5h146.9v7.2h-146.9zM-166.7 69.5h113.1v7.2h-113.1zM47.6 69.5h101.2v7.2h-101.2zM363.2 69.5h69.5v7.2h-69.5zM-435.1 62.5h135.7v7.2h-135.7zM-167.6 62.5h101.8v7.2h-101.8zM41.9 62.5h101.8v7.2h-101.8zM365.2 62.5h69.9v7.2h-69.9zM-437.1 55.6h130.3v7.2h-130.3zM-174.4 55.6h102.3v7.2h-102.3zM36.1 55.6h120.3v7.2h-120.3zM342.9 55.6h94.2v7.2h-94.2zM-439 48.6h124.8v7.2h-124.8zM-181.2 48.6h102.7v7.2h-102.7zM36.2 48.6h157.1v7.2h-157.1zM259.8 48.6h179.2v7.2h-179.2zM-440.7 41.7h125.3v7.2h-125.3zM-188 41.7h115.2v7.2h-115.2zM30.3 41.7h410.4v7.2h-410.4zM-442.2 34.7h119.6v7.2h-119.6zM-194.7 34.7h121.7v7.2h-121.7zM24.3 34.7h417.8v7.2h-417.8zM-443.4 27.8h119.9v7.2h-119.9zM-201.4 27.8h134.3v7.2h-134.3zM24.4 27.8h419v7.2h-419zM-444.3 20.8h114.1v7.2h-114.1zM-207.9 20.8h146.8v7.2h-146.8zM18.3 20.8h426v7.2h-426zM-445 13.9h102v7.2h-102zM-202.1 13.9h140.9v7.2h-140.9zM18.4 13.9h426.6v7.2h-426.6zM-445.5 6.9h89.8v7.2h-89.8zM-202.4 6.9h147.2v7.2h-147.2zM12.3 6.9h433.2v7.2h-433.2zM-445.8 0h96v7.2h-96zM-202.5 0h648.3v7.2h-648.3zM-445.8 -6.9h126.7v7.2h-126.7zM-227 -6.9h672.9v7.2h-672.9zM-445.5 -13.9h891v7.2h-891zM-445 -20.8h549.1v7.2h-549.1zM159.3 -20.8h285.8v7.2h-285.8zM-444.3 -27.8h334.2v7.2h-334.2zM195.7 -27.8h248.6v7.2h-248.6zM-408.9 -34.7h158.7v7.2h-158.7zM-195.3 -34.7h12.2v7.2h-12.2zM238 -34.7h177v7.2h-177zM292.1 -41.7h24.3v7.2h-24.3zM303.3 -48.6h6.1v7.2h-6.1zM-380.6 -55.6h6v7.2h-6zM-379 -62.5h6v7.2h-6zM-197.6 -69.5h23.9v7.2h-23.9zM317.3 -69.5h59.9v7.2h-59.9zM-432.7 -76.4h33.8v7.2h-33.8zM-214.4 -76.4h65.5v7.2h-65.5zM303.7 -76.4h129v7.2h-129zM-429.8 -83.4h75v7.2h-75zM-218.8 -83.4h88.7v7.2h-88.7zM301.6 -83.4h128.2v7.2h-128.2zM-426.5 -90.3h109.6v7.2h-109.6zM-223 -90.3h123.2v7.2h-123.2zM293.4 -90.3h133.1v7.2h-133.1zM-422.6 -97.3h143.5v7.2h-143.5zM-226.8 -97.3h186.1v7.2h-186.1zM46.5 -97.3h46.5v7.2h-46.5zM290.7 -97.3h131.9v7.2h-131.9zM-418.4 -104.2h147.9v7.2h-147.9zM-224.5 -104.2h379.9v7.2h-379.9zM287.8 -104.2h130.6v7.2h-130.6zM-413.8 -111.1h146.3v7.2h-146.3zM-222 -111.1h387v7.2h-387zM284.6 -111.1h129.2v7.2h-129.2zM-408.6 -118h144.5v7.2h-144.5zM-213.5 -118h370.9v7.2h-370.9zM286.6 -118h122v7.2h-122zM-403 -124.8h142.5v7.2h-142.5zM-205 -124.8h349.1v7.2h-349.1zM293.7 -124.8h109.3v7.2h-109.3zM-397 -131.7h140.5v7.1h-140.5zM-196.5 -131.7h327.5v7.1h-327.5zM294.8 -131.7h102.3v7.1h-102.3zM-390.8 -138.4h138.3v7.1h-138.3zM-193.4 -138.4h311.6v7.1h-311.6zM300.9 -138.4h90v7.1h-90zM-384.1 -145.1h136v7h-136zM-184.8 -145.1h290.3v7h-290.3zM300.9 -145.1h83.2v7h-83.2zM-376.8 -151.7h128.3v6.9h-128.3zM-176 -151.7h269.2v6.9h-269.2zM305.5 -151.7h71.3v6.9h-71.3zM-369.1 -158.2h125.7v6.8h-125.7zM-167.3 -158.2h248.5v6.8h-248.5zM309.3 -158.2h59.8v6.8h-59.8zM-361 -164.6h123v6.7h-123zM-153.7 -164.6h198.4v6.7h-198.4zM84.3 -164.6h34.7v6.7h-34.7zM312.4 -164.6h48.6v6.7h-48.6zM-324.5 -170.9h87.2v6.6h-87.2zM-130.8 -170.9h164.7v6.6h-164.7zM82.3 -170.9h48.4v6.6h-48.4zM-283.4 -177.1h42.5v6.5h-42.5zM-103.9 -177.1h132.3v6.5h-132.3zM80.3 -177.1h47.2v6.5h-47.2zM-87.4 -183.1h110.4v6.3h-110.4zM92 -183.1h27.6v6.3h-27.6zM-49.2 -189h67.1v6.2h-67.1z"/><path fill="#46307e" d="M-344.1 170.9h688.2v6.5h-688.2zM-352.7 164.6h705.4v6.6h-705.4zM-361 158.2h722.1v6.7h-722.1zM-369.1 151.7h738.2v6.8h-738.2zM-376.8 145.1h753.6v6.9h-753.6zM-384.1 138.4h768.2v7h-768.2zM-390.8 131.7h781.6v7.1h-781.6zM-397 124.8h794.1v7.1h-794.1zM-403 118h805.9v7.2h-805.9zM-408.6 111.1h817.2v7.2h-817.2zM-413.8 104.2h214.6v7.2h-214.6zM-176.4 104.2h17.1v7.2h-17.1zM-136.6 104.2h381.3v7.2h-381.3zM324.4 104.2h89.4v7.2h-89.4zM-418.4 97.3h176.7v7.2h-176.7zM-172.7 97.3h5.8v7.2h-5.8zM-115.1 97.3h322.3v7.2h-322.3zM345.3 97.3h73.1v7.2h-73.1zM-422.6 90.3h161v7.2h-161zM-145.4 90.3h17.4v7.2h-17.4zM-116.3 90.3h116.3v7.2h-116.3zM40.7 90.3h139.5v7.2h-139.5zM354.7 90.3h68v7.2h-68zM-426.5 83.4h156.6v7.2h-156.6zM-152.6 83.4h129.1v7.2h-129.1zM52.8 83.4h41.1v7.2h-41.1zM117.4 83.4h46.9v7.2h-46.9zM363.8 83.4h62.7v7.2h-62.7zM-429.8 76.4h145.9v7.2h-145.9zM-153.8 76.4h112.4v7.2h-112.4zM53.2 76.4h41.4v7.2h-41.4zM130.1 76.4h17.7v7.2h-17.7zM366.7 76.4h63.1v7.2h-63.1zM-432.7 69.5h141v7.2h-141zM-160.8 69.5h101.2v7.2h-101.2zM53.6 69.5h65.5v7.2h-65.5zM369.2 69.5h63.5v7.2h-63.5zM-435.1 62.5h129.7v7.2h-129.7zM-167.6 62.5h95.8v7.2h-95.8zM47.9 62.5h77.8v7.2h-77.8zM371.2 62.5h63.9v7.2h-63.9zM-437.1 55.6h124.3v7.2h-124.3zM-174.4 55.6h96.2v7.2h-96.2zM42.1 55.6h96.2v7.2h-96.2zM342.9 55.6h18v7.2h-18zM366.9 55.6h70.2v7.2h-70.2zM-439 48.6h118.8v7.2h-118.8zM-181.2 48.6h102.7v7.2h-102.7zM36.2 48.6h138.9v7.2h-138.9zM277.9 48.6h161.1v7.2h-161.1zM-440.7 41.7h119.2v7.2h-119.2zM-188 41.7h109.2v7.2h-109.2zM30.3 41.7h410.4v7.2h-410.4zM-442.2 34.7h113.5v7.2h-113.5zM-194.7 34.7h115.6v7.2h-115.6zM30.4 34.7h411.8v7.2h-411.8zM-443.4 27.8h107.7v7.2h-107.7zM-195.3 27.8h122v7.2h-122zM24.4 27.8h419v7.2h-419zM-444.3 20.8h101.8v7.2h-101.8zM-201.8 20.8h128.4v7.2h-128.4zM24.5 20.8h419.8v7.2h-419.8zM-445 13.9h89.8v7.2h-89.8zM-202.1 13.9h128.6v7.2h-128.6zM18.4 13.9h426.6v7.2h-426.6zM-445.5 6.9h77.6v7.2h-77.6zM-196.2 6.9h128.8v7.2h-128.8zM18.4 6.9h427.1v7.2h-427.1zM-445.8 0h77.6v7.2h-77.6zM-202.5 0h184.1v7.2h-184.1zM0 0h445.8v7.2h-445.8zM-445.8 -6.9h102.2v7.2h-102.2zM-214.8 -6.9h660.6v7.2h-660.6zM-445.5 -13.9h891v7.2h-891zM-445 -20.8h451.1v7.2h-451.1zM36.8 -20.8h36.8v7.2h-36.8zM177.6 -20.8h267.4v7.2h-267.4zM-444.3 -27.8h315.9v7.2h-315.9zM207.9 -27.8h236.4v7.2h-236.4zM-372.2 -34.7h103.7v7.2h-103.7zM-195.3 -34.7h12.2v7.2h-12.2zM292.9 -34.7h67.1v7.2h-67.1zM298.2 -41.7h18.3v7.2h-18.3zM-380.6 -55.6h6v7.2h-6zM-379 -62.5h6v7.2h-6zM-208.4 -76.4h47.6v7.2h-47.6zM309.6 -76.4h101.2v7.2h-101.2zM-429.8 -83.4h57.2v7.2h-57.2zM-218.8 -83.4h82.8v7.2h-82.8zM307.6 -83.4h122.3v7.2h-122.3zM-426.5 -90.3h97.9v7.2h-97.9zM-217.1 -90.3h99.8v7.2h-99.8zM299.3 -90.3h127.2v7.2h-127.2zM-422.6 -97.3h137.7v7.2h-137.7zM-221 -97.3h139.5v7.2h-139.5zM69.8 -97.3h11.6v7.2h-11.6zM296.5 -97.3h126.1v7.2h-126.1zM-418.4 -104.2h142.1v7.2h-142.1zM-218.7 -104.2h328.1v7.2h-328.1zM299.3 -104.2h119.1v7.2h-119.1zM-413.8 -111.1h140.6v7.2h-140.6zM-216.3 -111.1h358.5v7.2h-358.5zM295.9 -111.1h117.8v7.2h-117.8zM-408.6 -118h144.5v7.2h-144.5zM-202.3 -118h337.2v7.2h-337.2zM297.8 -118h110.8v7.2h-110.8zM-403 -124.8h137v7.2h-137zM-193.9 -124.8h315.8v7.2h-315.8zM299.2 -124.8h103.7v7.2h-103.7zM-397 -131.7h135v7.1h-135zM-185.6 -131.7h294.8v7.1h-294.8zM305.7 -131.7h91.3v7.1h-91.3zM-390.8 -138.4h132.9v7.1h-132.9zM-177.3 -138.4h268.6v7.1h-268.6zM311.6 -138.4h79.2v7.1h-79.2zM-384.1 -145.1h130.7v7h-130.7zM-168.9 -145.1h237.6v7h-237.6zM316.7 -145.1h67.3v7h-67.3zM-376.8 -151.7h128.3v6.9h-128.3zM-155.3 -151.7h196.8v6.9h-196.8zM315.8 -151.7h61v6.9h-61zM-369.1 -158.2h125.7v6.8h-125.7zM-142 -158.2h172.4v6.8h-172.4zM319.5 -158.2h49.6v6.8h-49.6zM-361 -164.6h9v6.7h-9zM-332.2 -164.6h89.3v6.7h-89.3zM-124 -164.6h153.7v6.7h-153.7zM337.2 -164.6h23.8v6.7h-23.8zM-310 -170.9h67.8v6.6h-67.8zM-106.5 -170.9h130.8v6.6h-130.8zM106.5 -170.9h4.8v6.6h-4.8zM-94.5 -177.1h118.1v6.5h-118.1zM99.2 -177.1h18.9v6.5h-18.9zM-78.2 -183.1h4.6v6.3h-4.6zM-64.4 -183.1h82.8v6.3h-82.8zM-4.5 -189h17.9v6.2h-17.9z"/><path fill="#453882" d="M-352.7 164.6h705.4v6.6h-705.4zM-361 158.2h722.1v6.7h-722.1zM-369.1 151.7h738.2v6.8h-738.2zM-376.8 145.1h753.6v6.9h-753.6zM-384.1 138.4h768.2v7h-768.2zM-390.8 131.7h781.6v7.1h-781.6zM-397 124.8h794.1v7.1h-794.1zM-403 118h253.4v7.2h-253.4zM-66.5 118h315.8v7.2h-315.8zM332.5 118h70.5v7.2h-70.5zM-408.6 111.1h223.2v7.2h-223.2zM-174.2 111.1h16.9v7.2h-16.9zM-67.4 111.1h309.1v7.2h-309.1zM359.6 111.1h49v7.2h-49zM-413.8 104.2h180.4v7.2h-180.4zM-176.4 104.2h11.4v7.2h-11.4zM-79.7 104.2h307.3v7.2h-307.3zM364.2 104.2h49.5v7.2h-49.5zM-418.4 97.3h165.2v7.2h-165.2zM-97.8 97.3h287.8v7.2h-287.8zM362.6 97.3h55.8v7.2h-55.8zM-422.6 90.3h155.2v7.2h-155.2zM-104.7 90.3h93v7.2h-93zM58.1 90.3h34.9v7.2h-34.9zM122.1 90.3h46.5v7.2h-46.5zM366.3 90.3h56.3v7.2h-56.3zM-426.5 83.4h150.7v7.2h-150.7zM-146.7 83.4h11.7v7.2h-11.7zM-117.4 83.4h88v7.2h-88zM58.7 83.4h29.3v7.2h-29.3zM129.1 83.4h23.5v7.2h-23.5zM369.7 83.4h56.8v7.2h-56.8zM-429.8 76.4h140v7.2h-140zM-153.8 76.4h100.5v7.2h-100.5zM59.1 76.4h29.6v7.2h-29.6zM372.6 76.4h57.2v7.2h-57.2zM-432.7 69.5h135v7.2h-135zM-154.8 69.5h89.3v7.2h-89.3zM53.6 69.5h41.7v7.2h-41.7zM375.1 69.5h57.6v7.2h-57.6zM-435.1 62.5h123.7v7.2h-123.7zM-161.7 62.5h89.8v7.2h-89.8zM53.9 62.5h71.8v7.2h-71.8zM383.2 62.5h51.9v7.2h-51.9zM-437.1 55.6h118.3v7.2h-118.3zM-168.4 55.6h90.2v7.2h-90.2zM48.1 55.6h84.2v7.2h-84.2zM348.9 55.6h6v7.2h-6zM379 55.6h58.1v7.2h-58.1zM-439 48.6h112.7v7.2h-112.7zM-175.2 48.6h90.6v7.2h-90.6zM42.3 48.6h120.8v7.2h-120.8zM283.9 48.6h155v7.2h-155zM-440.7 41.7h113.2v7.2h-113.2zM-182 41.7h97v7.2h-97zM36.4 41.7h188v7.2h-188zM254.7 41.7h186v7.2h-186zM-442.2 34.7h107.5v7.2h-107.5zM-188.7 34.7h103.5v7.2h-103.5zM30.4 34.7h411.8v7.2h-411.8zM-443.4 27.8h101.6v7.2h-101.6zM-195.3 27.8h115.9v7.2h-115.9zM30.5 27.8h412.9v7.2h-412.9zM-444.3 20.8h95.7v7.2h-95.7zM-195.7 20.8h116.2v7.2h-116.2zM24.5 20.8h419.8v7.2h-419.8zM-445 13.9h83.6v7.2h-83.6zM-196 13.9h116.4v7.2h-116.4zM24.5 13.9h420.5v7.2h-420.5zM-445.5 6.9h71.5v7.2h-71.5zM-196.2 6.9h116.5v7.2h-116.5zM24.5 6.9h421v7.2h-421zM-445.8 0h65.4v7.2h-65.4zM-196.4 0h153.4v7.2h-153.4zM12.3 0h433.5v7.2h-433.5zM-445.8 -6.9h83.8v7.2h-83.8zM-202.5 -6.9h648.3v7.2h-648.3zM-445.5 -13.9h531.4v7.2h-531.4zM153.3 -13.9h292.2v7.2h-292.2zM-445 -20.8h340.9v7.2h-340.9zM183.8 -20.8h261.3v7.2h-261.3zM-444.3 -27.8h236.4v7.2h-236.4zM-195.7 -27.8h12.2v7.2h-12.2zM220.2 -27.8h224.2v7.2h-224.2zM-347.8 -34.7h67.1v7.2h-67.1zM292.9 -34.7h30.5v7.2h-30.5zM298.2 -41.7h18.3v7.2h-18.3zM-380.6 -55.6h6v7.2h-6zM-379 -62.5h6v7.2h-6zM-196.5 -76.4h29.8v7.2h-29.8zM321.5 -76.4h59.5v7.2h-59.5zM-429.8 -83.4h33.6v7.2h-33.6zM-212.9 -83.4h71v7.2h-71zM307.6 -83.4h122.3v7.2h-122.3zM-426.5 -90.3h80.3v7.2h-80.3zM-217.1 -90.3h93.9v7.2h-93.9zM305.1 -90.3h121.4v7.2h-121.4zM-422.6 -97.3h108.7v7.2h-108.7zM-215.1 -97.3h116.3v7.2h-116.3zM302.4 -97.3h120.3v7.2h-120.3zM-418.4 -104.2h142.1v7.2h-142.1zM-213 -104.2h143.9v7.2h-143.9zM-23 -104.2h5.8v7.2h-5.8zM34.5 -104.2h57.6v7.2h-57.6zM299.3 -104.2h119.1v7.2h-119.1zM-413.8 -111.1h140.6v7.2h-140.6zM-210.6 -111.1h324.4v7.2h-324.4zM301.6 -111.1h112.1v7.2h-112.1zM-408.6 -118h138.9v7.2h-138.9zM-196.7 -118h309.1v7.2h-309.1zM297.8 -118h110.8v7.2h-110.8zM-403 -124.8h137v7.2h-137zM-188.4 -124.8h288.1v7.2h-288.1zM304.8 -124.8h98.2v7.2h-98.2zM-397 -131.7h135v7.1h-135zM-174.7 -131.7h256.6v7.1h-256.6zM316.6 -131.7h80.4v7.1h-80.4zM-390.8 -138.4h132.9v7.1h-132.9zM-166.5 -138.4h220.3v7.1h-220.3zM322.3 -138.4h68.5v7.1h-68.5zM-384.1 -145.1h130.7v7h-130.7zM-153.1 -145.1h190v7h-190zM322 -145.1h62.1v7h-62.1zM-376.8 -151.7h128.3v6.9h-128.3zM-134.6 -151.7h160.5v6.9h-160.5zM326.2 -151.7h50.6v6.9h-50.6zM-369.1 -158.2h120.6v6.8h-120.6zM-116.6 -158.2h142v6.8h-142zM334.7 -158.2h34.4v6.8h-34.4zM-322.3 -164.6h79.3v6.7h-79.3zM-104.1 -164.6h128.9v6.7h-128.9zM-305.1 -170.9h63v6.6h-63zM-101.7 -170.9h125.9v6.6h-125.9zM-89.7 -177.1h108.6v6.5h-108.6zM-55.2 -183.1h73.6v6.3h-73.6z"/><path fill="#424086" d="M-173.6 158.2h34.7v6.7h-34.7zM-369.1 151.7h738.2v6.8h-738.2zM-376.8 145.1h112.7v6.9h-112.7zM-248.5 145.1h113.9v6.9h-113.9zM-108.7 145.1h36.2v6.9h-36.2zM-25.9 145.1h402.7v6.9h-402.7zM-237.6 138.4h95v7h-95zM-10.6 138.4h132v7h-132zM174.2 138.4h58.1v7h-58.1zM353.7 138.4h10.6v7h-10.6zM-360 131.7h26.9v7.1h-26.9zM-247.1 131.7h102.1v7.1h-102.1zM-21.5 131.7h155.8v7.1h-155.8zM171.9 131.7h64.5v7.1h-64.5zM354.6 131.7h16.1v7.1h-16.1zM-256.6 124.8h103.7v7.1h-103.7zM-21.8 124.8h158.3v7.1h-158.3zM163.8 124.8h71v7.1h-71zM360.3 124.8h16.4v7.1h-16.4zM-371.3 118h27.7v7.2h-27.7zM-277.1 118h121.9v7.2h-121.9zM-33.2 118h271.5v7.2h-271.5zM365.7 118h16.6v7.2h-16.6zM-393.4 111.1h61.8v7.2h-61.8zM-303.5 111.1h89.9v7.2h-89.9zM-174.2 111.1h16.9v7.2h-16.9zM-45 111.1h275.4v7.2h-275.4zM370.9 111.1h16.9v7.2h-16.9zM-413.8 104.2h163.4v7.2h-163.4zM-170.7 104.2h5.7v7.2h-5.7zM-62.6 104.2h273.2v7.2h-273.2zM381.3 104.2h32.5v7.2h-32.5zM-418.4 97.3h153.7v7.2h-153.7zM-80.6 97.3h74.8v7.2h-74.8zM57.6 97.3h40.3v7.2h-40.3zM126.6 97.3h46v7.2h-46zM379.9 97.3h38.5v7.2h-38.5zM-422.6 90.3h149.4v7.2h-149.4zM-98.8 90.3h75.6v7.2h-75.6zM133.7 90.3h23.3v7.2h-23.3zM377.9 90.3h44.7v7.2h-44.7zM-426.5 83.4h144.8v7.2h-144.8zM-111.5 83.4h76.3v7.2h-76.3zM64.5 83.4h11.7v7.2h-11.7zM375.5 83.4h50.9v7.2h-50.9zM-429.8 76.4h134.1v7.2h-134.1zM-147.9 76.4h17.7v7.2h-17.7zM-124.2 76.4h65.1v7.2h-65.1zM59.1 76.4h23.7v7.2h-23.7zM378.5 76.4h51.3v7.2h-51.3zM-432.7 69.5h129v7.2h-129zM-154.8 69.5h83.4v7.2h-83.4zM59.5 69.5h29.8v7.2h-29.8zM381.1 69.5h51.6v7.2h-51.6zM-435.1 62.5h123.7v7.2h-123.7zM-161.7 62.5h83.8v7.2h-83.8zM53.9 62.5h71.8v7.2h-71.8zM389.2 62.5h45.9v7.2h-45.9zM-437.1 55.6h118.3v7.2h-118.3zM-168.4 55.6h84.2v7.2h-84.2zM54.1 55.6h72.2v7.2h-72.2zM385 55.6h52.1v7.2h-52.1zM-439 48.6h112.7v7.2h-112.7zM-175.2 48.6h90.6v7.2h-90.6zM42.3 48.6h108.7v7.2h-108.7zM296 48.6h142.9v7.2h-142.9zM-440.7 41.7h107.1v7.2h-107.1zM-182 41.7h97v7.2h-97zM36.4 41.7h163.8v7.2h-163.8zM266.9 41.7h173.8v7.2h-173.8zM-442.2 34.7h101.4v7.2h-101.4zM-188.7 34.7h103.5v7.2h-103.5zM36.5 34.7h405.7v7.2h-405.7zM-443.4 27.8h95.5v7.2h-95.5zM-189.2 27.8h103.7v7.2h-103.7zM30.5 27.8h412.9v7.2h-412.9zM-444.3 20.8h89.6v7.2h-89.6zM-195.7 20.8h110.1v7.2h-110.1zM30.6 20.8h413.7v7.2h-413.7zM-445 13.9h77.5v7.2h-77.5zM-196 13.9h110.3v7.2h-110.3zM24.5 13.9h420.5v7.2h-420.5zM-445.5 6.9h65.3v7.2h-65.3zM-190.1 6.9h104.2v7.2h-104.2zM24.5 6.9h421v7.2h-421zM-445.8 0h59.2v7.2h-59.2zM-196.4 0h141.1v7.2h-141.1zM24.5 0h421.3v7.2h-421.3zM-445.8 -6.9h71.5v7.2h-71.5zM-196.4 -6.9h288.4v7.2h-288.4zM141.1 -6.9h304.7v7.2h-304.7zM-445.5 -13.9h138.9v7.2h-138.9zM-233 -13.9h251.4v7.2h-251.4zM36.8 -13.9h36.8v7.2h-36.8zM165.6 -13.9h279.9v7.2h-279.9zM-445 -20.8h328.6v7.2h-328.6zM196 -20.8h249v7.2h-249zM-444.3 -27.8h205.8v7.2h-205.8zM-195.7 -27.8h12.2v7.2h-12.2zM238.5 -27.8h24.5v7.2h-24.5zM293.5 -27.8h150.8v7.2h-150.8zM-335.6 -34.7h48.8v7.2h-48.8zM299 -34.7h18.3v7.2h-18.3zM298.2 -41.7h12.2v7.2h-12.2zM-379 -62.5h6v7.2h-6zM333.4 -76.4h11.9v7.2h-11.9zM-207 -83.4h53.2v7.2h-53.2zM313.5 -83.4h116.4v7.2h-116.4zM-426.5 -90.3h68.5v7.2h-68.5zM-211.2 -90.3h82.1v7.2h-82.1zM311 -90.3h115.5v7.2h-115.5zM-422.6 -97.3h102.8v7.2h-102.8zM-215.1 -97.3h104.7v7.2h-104.7zM308.2 -97.3h114.5v7.2h-114.5zM-418.4 -104.2h136.4v7.2h-136.4zM-207.2 -104.2h120.9v7.2h-120.9zM63.3 -104.2h17.3v7.2h-17.3zM305.1 -104.2h113.4v7.2h-113.4zM-413.8 -111.1h140.6v7.2h-140.6zM-204.9 -111.1h153.7v7.2h-153.7zM-34.1 -111.1h28.5v7.2h-28.5zM5.7 -111.1h85.4v7.2h-85.4zM301.6 -111.1h112.1v7.2h-112.1zM-408.6 -118h138.9v7.2h-138.9zM-191.1 -118h281v7.2h-281zM303.5 -118h105.2v7.2h-105.2zM-403 -124.8h137v7.2h-137zM-177.3 -124.8h249.4v7.2h-249.4zM315.8 -124.8h87.1v7.2h-87.1zM-397 -131.7h135v7.1h-135zM-169.2 -131.7h223.8v7.1h-223.8zM322.1 -131.7h75v7.1h-75zM-390.8 -138.4h132.9v7.1h-132.9zM-155.8 -138.4h198.8v7.1h-198.8zM327.7 -138.4h63.1v7.1h-63.1zM-384.1 -145.1h130.7v7h-130.7zM-137.3 -145.1h163.6v7h-163.6zM332.6 -145.1h51.5v7h-51.5zM-376.8 -151.7h123.1v6.9h-123.1zM-119.1 -151.7h134.6v6.9h-134.6zM336.6 -151.7h40.2v6.9h-40.2zM-329.6 -158.2h81.1v6.8h-81.1zM-106.5 -158.2h126.8v6.8h-126.8zM-317.4 -164.6h74.4v6.7h-74.4zM-99.2 -164.6h119v6.7h-119zM-300.3 -170.9h53.3v6.6h-53.3zM-96.9 -170.9h116.2v6.6h-116.2zM-89.7 -177.1h108.6v6.5h-108.6zM-50.6 -183.1h27.6v6.3h-27.6zM-9.2 -183.1h23v6.3h-23z"/><path fill="#3f4788" d="M-157.2 151.7h15.2v6.8h-15.2zM-186.4 145.1h41.4v6.9h-41.4zM-200.6 138.4h52.8v7h-52.8zM-214.9 131.7h64.5v7.1h-64.5zM10.7 131.7h16.1v7.1h-16.1zM204.2 131.7h16.1v7.1h-16.1zM360 131.7h5.4v7.1h-5.4zM-223.8 124.8h71v7.1h-71zM-5.5 124.8h43.7v7.1h-43.7zM191.1 124.8h38.2v7.1h-38.2zM360.3 124.8h16.4v7.1h-16.4zM-227.2 118h27.7v7.2h-27.7zM-171.8 118h16.6v7.2h-16.6zM-16.6 118h121.9v7.2h-121.9zM182.9 118h44.3v7.2h-44.3zM365.7 118h16.6v7.2h-16.6zM-174.2 111.1h11.2v7.2h-11.2zM-28.1 111.1h140.5v7.2h-140.5zM174.2 111.1h50.6v7.2h-50.6zM376.5 111.1h11.2v7.2h-11.2zM-301.6 104.2h34.1v7.2h-34.1zM-45.5 104.2h68.3v7.2h-68.3zM56.9 104.2h45.5v7.2h-45.5zM-418.4 97.3h147.9v7.2h-147.9zM-69.1 97.3h51.8v7.2h-51.8zM402.9 97.3h15.5v7.2h-15.5zM-422.6 90.3h143.5v7.2h-143.5zM-93 90.3h64v7.2h-64zM383.8 90.3h38.9v7.2h-38.9zM-426.5 83.4h139v7.2h-139zM-105.6 83.4h58.7v7.2h-58.7zM381.4 83.4h45.1v7.2h-45.1zM-429.8 76.4h128.2v7.2h-128.2zM-141.9 76.4h5.9v7.2h-5.9zM-118.3 76.4h53.2v7.2h-53.2zM65.1 76.4h11.8v7.2h-11.8zM384.4 76.4h45.4v7.2h-45.4zM-432.7 69.5h123.1v7.2h-123.1zM-148.9 69.5h77.4v7.2h-77.4zM59.5 69.5h23.8v7.2h-23.8zM387 69.5h45.7v7.2h-45.7zM-435.1 62.5h117.8v7.2h-117.8zM-155.7 62.5h77.8v7.2h-77.8zM59.9 62.5h41.9v7.2h-41.9zM107.8 62.5h12v7.2h-12zM389.2 62.5h45.9v7.2h-45.9zM-437.1 55.6h112.3v7.2h-112.3zM-162.4 55.6h78.2v7.2h-78.2zM54.1 55.6h72.2v7.2h-72.2zM391 55.6h46.1v7.2h-46.1zM-439 48.6h106.7v7.2h-106.7zM-169.1 48.6h78.5v7.2h-78.5zM48.3 48.6h84.6v7.2h-84.6zM308.1 48.6h18.1v7.2h-18.1zM338.3 48.6h30.2v7.2h-30.2zM374.5 48.6h64.4v7.2h-64.4zM-440.7 41.7h101v7.2h-101zM-175.9 41.7h84.9v7.2h-84.9zM42.5 41.7h145.6v7.2h-145.6zM272.9 41.7h167.8v7.2h-167.8zM-442.2 34.7h95.3v7.2h-95.3zM-182.6 34.7h91.3v7.2h-91.3zM36.5 34.7h405.7v7.2h-405.7zM-443.4 27.8h89.4v7.2h-89.4zM-189.2 27.8h103.7v7.2h-103.7zM30.5 27.8h412.9v7.2h-412.9zM-444.3 20.8h83.5v7.2h-83.5zM-189.6 20.8h104v7.2h-104zM30.6 20.8h413.7v7.2h-413.7zM-445 13.9h71.4v7.2h-71.4zM-189.9 13.9h98v7.2h-98zM30.6 13.9h414.4v7.2h-414.4zM-445.5 6.9h59.2v7.2h-59.2zM-190.1 6.9h98.1v7.2h-98.1zM30.7 6.9h414.8v7.2h-414.8zM-445.8 0h53.1v7.2h-53.1zM-196.4 0h128.9v7.2h-128.9zM30.7 0h67.5v7.2h-67.5zM128.9 0h317v7.2h-317zM-445.8 -6.9h59.2v7.2h-59.2zM-196.4 -6.9h214.8v7.2h-214.8zM30.7 -6.9h55.2v7.2h-55.2zM153.4 -6.9h292.4v7.2h-292.4zM-445.5 -13.9h120.5v7.2h-120.5zM-220.8 -13.9h226.9v7.2h-226.9zM171.7 -13.9h273.8v7.2h-273.8zM-445 -20.8h267.4v7.2h-267.4zM-171.5 -20.8h42.9v7.2h-42.9zM202.1 -20.8h242.9v7.2h-242.9zM-444.3 -27.8h193.6v7.2h-193.6zM-195.7 -27.8h12.2v7.2h-12.2zM244.6 -27.8h12.2v7.2h-12.2zM293.5 -27.8h150.8v7.2h-150.8zM-323.4 -34.7h30.5v7.2h-30.5zM299 -34.7h18.3v7.2h-18.3zM304.3 -41.7h6.1v7.2h-6.1zM-201.1 -83.4h47.3v7.2h-47.3zM319.4 -83.4h82.8v7.2h-82.8zM-426.5 -90.3h50.9v7.2h-50.9zM-205.4 -90.3h70.4v7.2h-70.4zM311 -90.3h115.5v7.2h-115.5zM-422.6 -97.3h91.2v7.2h-91.2zM-209.3 -97.3h93v7.2h-93zM308.2 -97.3h114.5v7.2h-114.5zM-418.4 -104.2h113.4v7.2h-113.4zM-293.5 -104.2h11.5v7.2h-11.5zM-207.2 -104.2h115.1v7.2h-115.1zM305.1 -104.2h113.4v7.2h-113.4zM-413.8 -111.1h134.9v7.2h-134.9zM-199.2 -111.1h130.9v7.2h-130.9zM-28.5 -111.1h17.1v7.2h-17.1zM34.1 -111.1h45.5v7.2h-45.5zM301.6 -111.1h112.1v7.2h-112.1zM-408.6 -118h138.9v7.2h-138.9zM-185.4 -118h134.9v7.2h-134.9zM-33.7 -118h28.1v7.2h-28.1zM5.6 -118h67.4v7.2h-67.4zM303.5 -118h105.2v7.2h-105.2zM-403 -124.8h137v7.2h-137zM-171.8 -124.8h227.2v7.2h-227.2zM321.4 -124.8h81.6v7.2h-81.6zM-397 -131.7h135v7.1h-135zM-163.8 -131.7h202v7.1h-202zM333 -131.7h64v7.1h-64zM-390.8 -138.4h132.9v7.1h-132.9zM-145.1 -138.4h177.3v7.1h-177.3zM338.5 -138.4h52.4v7.1h-52.4zM-384.1 -145.1h125.4v7h-125.4zM-126.7 -145.1h132v7h-132zM343.1 -145.1h41v7h-41zM-376.8 -151.7h9.2v6.9h-9.2zM-346.9 -151.7h93.2v6.9h-93.2zM-108.7 -151.7h119.1v6.9h-119.1zM346.9 -151.7h29.9v6.9h-29.9zM-319.5 -158.2h71v6.8h-71zM-101.4 -158.2h116.6v6.8h-116.6zM-312.4 -164.6h64.5v6.7h-64.5zM-99.2 -164.6h119v6.7h-119zM-295.4 -170.9h38.7v6.6h-38.7zM-96.9 -170.9h116.2v6.6h-116.2zM-85 -177.1h14.2v6.5h-14.2zM-61.4 -177.1h80.3v6.5h-80.3zM4.6 -183.1h9.2v6.3h-9.2z"/><path fill="#3d4e8a" d="M-152.1 151.7h5.1v6.8h-5.1zM-160.5 145.1h15.5v6.9h-15.5zM-163.6 138.4h15.8v7h-15.8zM-193.4 131.7h16.1v7.1h-16.1zM-166.5 131.7h16.1v7.1h-16.1zM360 131.7h5.4v7.1h-5.4zM-169.2 124.8h16.4v7.1h-16.4zM365.7 124.8h10.9v7.1h-10.9zM-171.8 118h16.6v7.2h-16.6zM0 118h27.7v7.2h-27.7zM210.6 118h5.5v7.2h-5.5zM371.3 118h11.1v7.2h-11.1zM-168.6 111.1h5.6v7.2h-5.6zM0 111.1h28.1v7.2h-28.1zM376.5 111.1h5.6v7.2h-5.6zM-310.8 97.3h23v7.2h-23zM-57.6 97.3h28.8v7.2h-28.8zM-354.7 90.3h64v7.2h-64zM-81.4 90.3h46.5v7.2h-46.5zM401.2 90.3h11.6v7.2h-11.6zM-426.5 83.4h133.1v7.2h-133.1zM-105.6 83.4h46.9v7.2h-46.9zM393.1 83.4h33.3v7.2h-33.3zM-429.8 76.4h128.2v7.2h-128.2zM-112.4 76.4h41.4v7.2h-41.4zM390.4 76.4h39.5v7.2h-39.5zM-432.7 69.5h123.1v7.2h-123.1zM-142.9 69.5h6v7.2h-6zM-125 69.5h53.6v7.2h-53.6zM65.5 69.5h11.9v7.2h-11.9zM393 69.5h39.7v7.2h-39.7zM-435.1 62.5h117.8v7.2h-117.8zM-149.7 62.5h65.9v7.2h-65.9zM65.9 62.5h18v7.2h-18zM113.8 62.5h6v7.2h-6zM395.2 62.5h39.9v7.2h-39.9zM-437.1 55.6h106.3v7.2h-106.3zM-162.4 55.6h72.2v7.2h-72.2zM60.2 55.6h66.2v7.2h-66.2zM397 55.6h40.1v7.2h-40.1zM-439 48.6h106.7v7.2h-106.7zM-169.1 48.6h78.5v7.2h-78.5zM54.4 48.6h78.5v7.2h-78.5zM344.3 48.6h18.1v7.2h-18.1zM380.6 48.6h58.4v7.2h-58.4zM-440.7 41.7h101v7.2h-101zM-175.9 41.7h84.9v7.2h-84.9zM42.5 41.7h127.4v7.2h-127.4zM279 41.7h161.7v7.2h-161.7zM-442.2 34.7h95.3v7.2h-95.3zM-182.6 34.7h91.3v7.2h-91.3zM36.5 34.7h405.7v7.2h-405.7zM-443.4 27.8h89.4v7.2h-89.4zM-189.2 27.8h97.6v7.2h-97.6zM36.6 27.8h406.8v7.2h-406.8zM-444.3 20.8h77.4v7.2h-77.4zM-189.6 20.8h97.8v7.2h-97.8zM30.6 20.8h413.7v7.2h-413.7zM-445 13.9h65.3v7.2h-65.3zM-189.9 13.9h98v7.2h-98zM30.6 13.9h414.4v7.2h-414.4zM-445.5 6.9h59.2v7.2h-59.2zM-184 6.9h92v7.2h-92zM30.7 6.9h414.8v7.2h-414.8zM-445.8 0h47v7.2h-47zM-190.2 0h110.5v7.2h-110.5zM36.8 0h55.2v7.2h-55.2zM141.1 0h304.7v7.2h-304.7zM-445.8 -6.9h47v7.2h-47zM-196.4 -6.9h178v7.2h-178zM36.8 -6.9h36.8v7.2h-36.8zM159.5 -6.9h286.3v7.2h-286.3zM-445.5 -13.9h108.2v7.2h-108.2zM-202.4 -13.9h92v7.2h-92zM-104.2 -13.9h92v7.2h-92zM177.8 -13.9h267.7v7.2h-267.7zM-445 -20.8h242.9v7.2h-242.9zM-196 -20.8h12.3v7.2h-12.3zM208.3 -20.8h236.8v7.2h-236.8zM-444.3 -27.8h181.3v7.2h-181.3zM-195.7 -27.8h12.2v7.2h-12.2zM244.6 -27.8h12.2v7.2h-12.2zM299.7 -27.8h144.7v7.2h-144.7zM-311.2 -34.7h6.1v7.2h-6.1zM299 -34.7h18.3v7.2h-18.3zM304.3 -41.7h6.1v7.2h-6.1zM-189.3 -83.4h29.6v7.2h-29.6zM331.2 -83.4h47.3v7.2h-47.3zM-426.5 -90.3h27.5v7.2h-27.5zM-205.4 -90.3h64.5v7.2h-64.5zM316.9 -90.3h109.6v7.2h-109.6zM-422.6 -97.3h85.4v7.2h-85.4zM-203.5 -97.3h81.4v7.2h-81.4zM314 -97.3h108.7v7.2h-108.7zM-418.4 -104.2h107.6v7.2h-107.6zM-201.5 -104.2h97.8v7.2h-97.8zM305.1 -104.2h113.4v7.2h-113.4zM-413.8 -111.1h134.9v7.2h-134.9zM-193.5 -111.1h113.8v7.2h-113.8zM-28.5 -111.1h11.4v7.2h-11.4zM39.8 -111.1h11.4v7.2h-11.4zM307.3 -111.1h106.4v7.2h-106.4zM-408.6 -118h133.2v7.2h-133.2zM-179.8 -118h118v7.2h-118zM-33.7 -118h22.5v7.2h-22.5zM33.7 -118h16.9v7.2h-16.9zM320.3 -118h88.3v7.2h-88.3zM-403 -124.8h131.4v7.2h-131.4zM-166.2 -124.8h121.9v7.2h-121.9zM-33.2 -124.8h22.2v7.2h-22.2zM11.1 -124.8h27.7v7.2h-27.7zM326.9 -124.8h76v7.2h-76zM-397 -131.7h129.6v7.1h-129.6zM-152.8 -131.7h141.9v7.1h-141.9zM10.9 -131.7h21.8v7.1h-21.8zM338.5 -131.7h58.6v7.1h-58.6zM-390.8 -138.4h127.6v7.1h-127.6zM-134.3 -138.4h123.6v7.1h-123.6zM343.8 -138.4h47v7.1h-47zM-384.1 -145.1h125.4v7h-125.4zM-116.1 -145.1h110.9v7h-110.9zM348.4 -145.1h35.7v7h-35.7zM-331.4 -151.7h77.7v6.9h-77.7zM-103.6 -151.7h103.6v6.9h-103.6zM-314.4 -158.2h65.9v6.8h-65.9zM-96.3 -158.2h111.6v6.8h-111.6zM-307.4 -164.6h59.5v6.7h-59.5zM-99.2 -164.6h119v6.7h-119zM-285.7 -170.9h24.2v6.6h-24.2zM-92 -170.9h111.4v6.6h-111.4zM-85 -177.1h9.4v6.5h-9.4zM-56.7 -177.1h70.9v6.5h-70.9z"/><path fill="#39558c" d="M-160.5 145.1h10.4v6.9h-10.4zM-163.6 138.4h15.8v7h-15.8zM-166.5 131.7h16.1v7.1h-16.1zM-169.2 124.8h16.4v7.1h-16.4zM365.7 124.8h10.9v7.1h-10.9zM-171.8 118h11.1v7.2h-11.1zM371.3 118h11.1v7.2h-11.1zM-168.6 111.1h5.6v7.2h-5.6zM376.5 111.1h5.6v7.2h-5.6zM-325.6 90.3h29.1v7.2h-29.1zM-357.9 83.4h58.7v7.2h-58.7zM-99.8 83.4h29.3v7.2h-29.3zM404.9 83.4h11.7v7.2h-11.7zM-429.8 76.4h15.8v7.2h-15.8zM-378.5 76.4h71v7.2h-71zM-112.4 76.4h41.4v7.2h-41.4zM396.3 76.4h33.6v7.2h-33.6zM-432.7 69.5h117.1v7.2h-117.1zM-119.1 69.5h41.7v7.2h-41.7zM398.9 69.5h33.8v7.2h-33.8zM-435.1 62.5h111.8v7.2h-111.8zM-143.7 62.5h59.9v7.2h-59.9zM113.8 62.5h6v7.2h-6zM401.2 62.5h33.9v7.2h-33.9zM-437.1 55.6h106.3v7.2h-106.3zM-162.4 55.6h72.2v7.2h-72.2zM66.2 55.6h60.2v7.2h-60.2zM403 55.6h34.1v7.2h-34.1zM-439 48.6h100.7v7.2h-100.7zM-169.1 48.6h78.5v7.2h-78.5zM54.4 48.6h72.5v7.2h-72.5zM344.3 48.6h18.1v7.2h-18.1zM392.7 48.6h46.3v7.2h-46.3zM-440.7 41.7h95v7.2h-95zM-175.9 41.7h84.9v7.2h-84.9zM48.5 41.7h115.2v7.2h-115.2zM285.1 41.7h155.6v7.2h-155.6zM-442.2 34.7h89.2v7.2h-89.2zM-176.5 34.7h85.2v7.2h-85.2zM42.6 34.7h188.7v7.2h-188.7zM261.7 34.7h180.5v7.2h-180.5zM-443.4 27.8h83.3v7.2h-83.3zM-183.1 27.8h91.5v7.2h-91.5zM36.6 27.8h406.8v7.2h-406.8zM-444.3 20.8h77.4v7.2h-77.4zM-189.6 20.8h97.8v7.2h-97.8zM36.7 20.8h407.6v7.2h-407.6zM-445 13.9h65.3v7.2h-65.3zM-183.8 13.9h85.8v7.2h-85.8zM36.8 13.9h408.3v7.2h-408.3zM-445.5 6.9h53.1v7.2h-53.1zM-184 6.9h85.8v7.2h-85.8zM36.8 6.9h61.3v7.2h-61.3zM122.6 6.9h322.9v7.2h-322.9zM-445.8 0h40.8v7.2h-40.8zM-190.2 0h104.3v7.2h-104.3zM36.8 0h49.1v7.2h-49.1zM147.3 0h298.5v7.2h-298.5zM-445.8 -6.9h40.8v7.2h-40.8zM-196.4 -6.9h165.7v7.2h-165.7zM43 -6.9h24.5v7.2h-24.5zM165.7 -6.9h280.1v7.2h-280.1zM-445.5 -13.9h96v7.2h-96zM-196.2 -13.9h79.7v7.2h-79.7zM-92 -13.9h61.3v7.2h-61.3zM184 -13.9h261.5v7.2h-261.5zM-445 -20.8h187.8v7.2h-187.8zM-196 -20.8h12.3v7.2h-12.3zM214.4 -20.8h49v7.2h-49zM269.5 -20.8h175.5v7.2h-175.5zM-409.7 -27.8h140.7v7.2h-140.7zM-195.7 -27.8h12.2v7.2h-12.2zM299.7 -27.8h116.2v7.2h-116.2zM299 -34.7h18.3v7.2h-18.3zM-183.4 -83.4h11.8v7.2h-11.8zM-199.5 -90.3h52.8v7.2h-52.8zM322.7 -90.3h103.8v7.2h-103.8zM-422.6 -97.3h68v7.2h-68zM-197.7 -97.3h69.8v7.2h-69.8zM314 -97.3h108.7v7.2h-108.7zM-418.4 -104.2h101.8v7.2h-101.8zM-195.7 -104.2h86.3v7.2h-86.3zM310.8 -104.2h107.6v7.2h-107.6zM-413.8 -111.1h112.1v7.2h-112.1zM-290.3 -111.1h11.4v7.2h-11.4zM-187.8 -111.1h96.8v7.2h-96.8zM307.3 -111.1h106.4v7.2h-106.4zM-408.6 -118h133.2v7.2h-133.2zM-174.2 -118h101.2v7.2h-101.2zM-28.1 -118h16.9v7.2h-16.9zM325.9 -118h82.7v7.2h-82.7zM-403 -124.8h131.4v7.2h-131.4zM-166.2 -124.8h110.8v7.2h-110.8zM-27.7 -124.8h16.6v7.2h-16.6zM338 -124.8h65v7.2h-65zM-397 -131.7h129.6v7.1h-129.6zM-147.4 -131.7h109.2v7.1h-109.2zM-27.3 -131.7h10.9v7.1h-10.9zM343.9 -131.7h53.1v7.1h-53.1zM-390.8 -138.4h127.6v7.1h-127.6zM-128.9 -138.4h112.8v7.1h-112.8zM354.6 -138.4h36.2v7.1h-36.2zM-353.7 -145.1h95v7h-95zM-105.6 -145.1h100.3v7h-100.3zM-321 -151.7h67.3v6.9h-67.3zM-98.4 -151.7h98.4v6.9h-98.4zM-309.3 -158.2h55.8v6.8h-55.8zM-96.3 -158.2h111.6v6.8h-111.6zM-307.4 -164.6h59.5v6.7h-59.5zM-94.2 -164.6h24.8v6.7h-24.8zM-64.5 -164.6h79.3v6.7h-79.3zM-276.1 -170.9h9.7v6.6h-9.7zM-92 -170.9h19.4v6.6h-19.4zM-58.1 -170.9h77.5v6.6h-77.5zM-52 -177.1h47.2v6.5h-47.2zM0 -177.1h14.2v6.5h-14.2z"/><path fill="#365c8d" d="M-155.3 145.1h5.2v6.9h-5.2zM-163.6 138.4h10.6v7h-10.6zM-166.5 131.7h16.1v7.1h-16.1zM-169.2 124.8h10.9v7.1h-10.9zM365.7 124.8h5.5v7.1h-5.5zM-171.8 118h11.1v7.2h-11.1zM371.3 118h5.5v7.2h-5.5zM-168.6 111.1h5.6v7.2h-5.6zM376.5 111.1h5.6v7.2h-5.6zM-340.3 83.4h29.3v7.2h-29.3zM-93.9 83.4h11.7v7.2h-11.7zM-366.7 76.4h53.2v7.2h-53.2zM-106.5 76.4h29.6v7.2h-29.6zM-432.7 69.5h21.9v7.2h-21.9zM-381.1 69.5h59.5v7.2h-59.5zM-119.1 69.5h41.7v7.2h-41.7zM410.9 69.5h21.9v7.2h-21.9zM-435.1 62.5h105.8v7.2h-105.8zM-131.7 62.5h47.9v7.2h-47.9zM407.1 62.5h27.9v7.2h-27.9zM-437.1 55.6h100.2v7.2h-100.2zM-156.4 55.6h66.2v7.2h-66.2zM72.2 55.6h54.1v7.2h-54.1zM409 55.6h28.1v7.2h-28.1zM-439 48.6h94.6v7.2h-94.6zM-169.1 48.6h78.5v7.2h-78.5zM60.4 48.6h66.5v7.2h-66.5zM344.3 48.6h18.1v7.2h-18.1zM398.7 48.6h40.2v7.2h-40.2zM-440.7 41.7h95v7.2h-95zM-169.8 41.7h72.8v7.2h-72.8zM48.5 41.7h97v7.2h-97zM291.1 41.7h149.6v7.2h-149.6zM-442.2 34.7h89.2v7.2h-89.2zM-176.5 34.7h79.1v7.2h-79.1zM42.6 34.7h176.5v7.2h-176.5zM273.9 34.7h168.3v7.2h-168.3zM-443.4 27.8h83.3v7.2h-83.3zM-183.1 27.8h85.4v7.2h-85.4zM36.6 27.8h406.8v7.2h-406.8zM-444.3 20.8h71.3v7.2h-71.3zM-183.5 20.8h85.6v7.2h-85.6zM36.7 20.8h407.6v7.2h-407.6zM-445 13.9h59.1v7.2h-59.1zM-183.8 13.9h85.8v7.2h-85.8zM36.8 13.9h408.3v7.2h-408.3zM-445.5 6.9h46.9v7.2h-46.9zM-184 6.9h85.8v7.2h-85.8zM36.8 6.9h55.2v7.2h-55.2zM128.8 6.9h316.7v7.2h-316.7zM-445.8 0h34.7v7.2h-34.7zM-184.1 0h92v7.2h-92zM43 0h36.8v7.2h-36.8zM153.4 0h292.4v7.2h-292.4zM-445.8 -6.9h34.7v7.2h-34.7zM-196.4 -6.9h147.3v7.2h-147.3zM171.8 -6.9h274v7.2h-274zM-445.5 -13.9h83.7v7.2h-83.7zM-196.2 -13.9h12.3v7.2h-12.3zM-171.7 -13.9h55.2v7.2h-55.2zM190.1 -13.9h255.4v7.2h-255.4zM-445 -20.8h175.5v7.2h-175.5zM-196 -20.8h12.3v7.2h-12.3zM232.8 -20.8h30.6v7.2h-30.6zM275.6 -20.8h12.3v7.2h-12.3zM294 -20.8h151v7.2h-151zM-391.4 -27.8h116.2v7.2h-116.2zM-195.7 -27.8h12.2v7.2h-12.2zM299.7 -27.8h97.8v7.2h-97.8zM299 -34.7h18.3v7.2h-18.3zM-193.6 -90.3h41.1v7.2h-41.1zM334.5 -90.3h70.4v7.2h-70.4zM-422.6 -97.3h56.3v7.2h-56.3zM-197.7 -97.3h69.8v7.2h-69.8zM314 -97.3h108.7v7.2h-108.7zM-418.4 -104.2h96.1v7.2h-96.1zM-189.9 -104.2h74.8v7.2h-74.8zM310.8 -104.2h107.6v7.2h-107.6zM-413.8 -111.1h106.4v7.2h-106.4zM-290.3 -111.1h11.4v7.2h-11.4zM-182.1 -111.1h85.4v7.2h-85.4zM307.3 -111.1h106.4v7.2h-106.4zM-408.6 -118h133.2v7.2h-133.2zM-174.2 -118h95.5v7.2h-95.5zM-28.1 -118h16.9v7.2h-16.9zM331.5 -118h77.1v7.2h-77.1zM-403 -124.8h131.4v7.2h-131.4zM-160.7 -124.8h99.7v7.2h-99.7zM-27.7 -124.8h16.6v7.2h-16.6zM343.6 -124.8h59.4v7.2h-59.4zM-397 -131.7h129.6v7.1h-129.6zM-141.9 -131.7h98.3v7.1h-98.3zM354.8 -131.7h42.2v7.1h-42.2zM-390.8 -138.4h127.6v7.1h-127.6zM-118.2 -138.4h86v7.1h-86zM365.3 -138.4h25.5v7.1h-25.5zM-337.9 -145.1h79.2v7h-79.2zM-100.3 -145.1h89.7v7h-89.7zM-310.7 -151.7h57v6.9h-57zM-88 -151.7h82.8v6.9h-82.8zM-304.2 -158.2h50.7v6.8h-50.7zM-91.3 -158.2h91.3v6.8h-91.3zM-302.5 -164.6h49.6v6.7h-49.6zM-94.2 -164.6h19.8v6.7h-19.8zM-59.5 -164.6h74.4v6.7h-74.4zM-92 -170.9h19.4v6.6h-19.4zM-53.3 -170.9h67.8v6.6h-67.8zM-47.2 -177.1h18.9v6.5h-18.9zM4.7 -177.1h9.4v6.5h-9.4z"/><path fill="#33638d" d="M-155.3 145.1h5.2v6.9h-5.2zM-163.6 138.4h10.6v7h-10.6zM-166.5 131.7h10.7v7.1h-10.7zM-169.2 124.8h10.9v7.1h-10.9zM365.7 124.8h5.5v7.1h-5.5zM-166.2 118h5.5v7.2h-5.5zM371.3 118h5.5v7.2h-5.5zM376.5 111.1h5.6v7.2h-5.6zM-354.9 76.4h35.5v7.2h-35.5zM-106.5 76.4h29.6v7.2h-29.6zM-375.1 69.5h47.6v7.2h-47.6zM-119.1 69.5h35.7v7.2h-35.7zM-435.1 62.5h105.8v7.2h-105.8zM-125.7 62.5h35.9v7.2h-35.9zM413.1 62.5h22v7.2h-22zM-437.1 55.6h100.2v7.2h-100.2zM-138.4 55.6h48.1v7.2h-48.1zM90.2 55.6h12v7.2h-12zM108.3 55.6h18v7.2h-18zM409 55.6h28.1v7.2h-28.1zM-439 48.6h94.6v7.2h-94.6zM-163.1 48.6h66.5v7.2h-66.5zM60.4 48.6h66.5v7.2h-66.5zM344.3 48.6h12.1v7.2h-12.1zM404.7 48.6h34.2v7.2h-34.2zM-440.7 41.7h88.9v7.2h-88.9zM-169.8 41.7h72.8v7.2h-72.8zM54.6 41.7h78.8v7.2h-78.8zM297.2 41.7h143.5v7.2h-143.5zM-442.2 34.7h83.1v7.2h-83.1zM-176.5 34.7h79.1v7.2h-79.1zM42.6 34.7h164.3v7.2h-164.3zM273.9 34.7h168.3v7.2h-168.3zM-443.4 27.8h77.2v7.2h-77.2zM-183.1 27.8h85.4v7.2h-85.4zM36.6 27.8h406.8v7.2h-406.8zM-444.3 20.8h71.3v7.2h-71.3zM-183.5 20.8h85.6v7.2h-85.6zM36.7 20.8h407.6v7.2h-407.6zM-445 13.9h59.1v7.2h-59.1zM-183.8 13.9h85.8v7.2h-85.8zM36.8 13.9h408.3v7.2h-408.3zM-445.5 6.9h40.8v7.2h-40.8zM-177.8 6.9h79.7v7.2h-79.7zM42.9 6.9h42.9v7.2h-42.9zM141 6.9h304.5v7.2h-304.5zM-445.8 0h28.5v7.2h-28.5zM-178 0h85.9v7.2h-85.9zM43 0h30.7v7.2h-30.7zM159.5 0h286.3v7.2h-286.3zM-445.8 -6.9h28.5v7.2h-28.5zM-196.4 -6.9h12.3v7.2h-12.3zM-178 -6.9h67.5v7.2h-67.5zM-104.3 -6.9h43v7.2h-43zM178 -6.9h267.9v7.2h-267.9zM-445.5 -13.9h77.6v7.2h-77.6zM-196.2 -13.9h12.3v7.2h-12.3zM-165.6 -13.9h49.1v7.2h-49.1zM196.2 -13.9h249.3v7.2h-249.3zM-445 -20.8h157.1v7.2h-157.1zM-196 -20.8h12.3v7.2h-12.3zM238.9 -20.8h18.4v7.2h-18.4zM300.1 -20.8h144.9v7.2h-144.9zM-379.1 -27.8h97.8v7.2h-97.8zM-195.7 -27.8h12.2v7.2h-12.2zM299.7 -27.8h79.5v7.2h-79.5zM299 -34.7h12.2v7.2h-12.2zM-187.8 -90.3h35.2v7.2h-35.2zM352.1 -90.3h35.2v7.2h-35.2zM-422.6 -97.3h33.1v7.2h-33.1zM-191.9 -97.3h58.1v7.2h-58.1zM319.8 -97.3h5.8v7.2h-5.8zM331.4 -97.3h91.2v7.2h-91.2zM-418.4 -104.2h84.6v7.2h-84.6zM-184.2 -104.2h69.1v7.2h-69.1zM310.8 -104.2h107.6v7.2h-107.6zM-413.8 -111.1h100.8v7.2h-100.8zM-182.1 -111.1h79.7v7.2h-79.7zM307.3 -111.1h11.4v7.2h-11.4zM330.1 -111.1h83.7v7.2h-83.7zM-408.6 -118h110.8v7.2h-110.8zM-286.6 -118h11.2v7.2h-11.2zM-168.6 -118h84.3v7.2h-84.3zM-22.5 -118h5.6v7.2h-5.6zM337.2 -118h71.4v7.2h-71.4zM-403 -124.8h131.4v7.2h-131.4zM-155.2 -124.8h83.1v7.2h-83.1zM-22.2 -124.8h5.5v7.2h-5.5zM349.1 -124.8h53.9v7.2h-53.9zM-397 -131.7h129.6v7.1h-129.6zM-136.5 -131.7h81.9v7.1h-81.9zM365.7 -131.7h31.3v7.1h-31.3zM-360 -138.4h96.7v7.1h-96.7zM-112.8 -138.4h75.2v7.1h-75.2zM-327.3 -145.1h68.6v7h-68.6zM-95 -145.1h68.6v7h-68.6zM-21.1 -145.1h10.6v7h-10.6zM-305.5 -151.7h25.9v6.9h-25.9zM-274.4 -151.7h20.7v6.9h-20.7zM-82.8 -151.7h77.7v6.9h-77.7zM-304.2 -158.2h50.7v6.8h-50.7zM-91.3 -158.2h10.1v6.8h-10.1zM-60.8 -158.2h60.8v6.8h-60.8zM-302.5 -164.6h49.6v6.7h-49.6zM-94.2 -164.6h19.8v6.7h-19.8zM-54.5 -164.6h69.4v6.7h-69.4zM-87.2 -170.9h9.7v6.6h-9.7zM-53.3 -170.9h48.4v6.6h-48.4zM0 -170.9h14.5v6.6h-14.5zM-42.5 -177.1h4.7v6.5h-4.7zM4.7 -177.1h9.4v6.5h-9.4z"/><path fill="#30698e" d="M-158.4 138.4h5.3v7h-5.3zM-166.5 131.7h10.7v7.1h-10.7zM-169.2 124.8h10.9v7.1h-10.9zM365.7 124.8h5.5v7.1h-5.5zM-166.2 118h5.5v7.2h-5.5zM371.3 118h5.5v7.2h-5.5zM-337.1 76.4h5.9v7.2h-5.9zM-100.5 76.4h17.7v7.2h-17.7zM-363.2 69.5h35.7v7.2h-35.7zM-113.1 69.5h29.8v7.2h-29.8zM-435.1 62.5h22v7.2h-22zM-383.2 62.5h47.9v7.2h-47.9zM-125.7 62.5h35.9v7.2h-35.9zM425.1 62.5h10v7.2h-10zM-437.1 55.6h94.2v7.2h-94.2zM-132.3 55.6h36.1v7.2h-36.1zM108.3 55.6h12v7.2h-12zM415.1 55.6h22v7.2h-22zM-439 48.6h94.6v7.2h-94.6zM-163.1 48.6h66.5v7.2h-66.5zM66.5 48.6h60.4v7.2h-60.4zM344.3 48.6h12.1v7.2h-12.1zM404.7 48.6h34.2v7.2h-34.2zM-440.7 41.7h88.9v7.2h-88.9zM-169.8 41.7h72.8v7.2h-72.8zM54.6 41.7h78.8v7.2h-78.8zM297.2 41.7h72.8v7.2h-72.8zM382.1 41.7h58.6v7.2h-58.6zM-442.2 34.7h83.1v7.2h-83.1zM-176.5 34.7h79.1v7.2h-79.1zM48.7 34.7h140v7.2h-140zM280 34.7h162.2v7.2h-162.2zM-443.4 27.8h77.2v7.2h-77.2zM-177 27.8h79.3v7.2h-79.3zM42.7 27.8h400.7v7.2h-400.7zM-444.3 20.8h65.2v7.2h-65.2zM-183.5 20.8h85.6v7.2h-85.6zM36.7 20.8h407.6v7.2h-407.6zM-445 13.9h53v7.2h-53zM-183.8 13.9h79.6v7.2h-79.6zM42.9 13.9h61.3v7.2h-61.3zM116.4 13.9h328.6v7.2h-328.6zM-445.5 6.9h40.8v7.2h-40.8zM-177.8 6.9h79.7v7.2h-79.7zM42.9 6.9h42.9v7.2h-42.9zM147.2 6.9h298.3v7.2h-298.3zM-445.8 0h16.3v7.2h-16.3zM-178 0h79.8v7.2h-79.8zM49.1 0h18.4v7.2h-18.4zM165.7 0h280.1v7.2h-280.1zM-445.8 -6.9h22.4v7.2h-22.4zM-196.4 -6.9h12.3v7.2h-12.3zM-171.8 -6.9h61.4v7.2h-61.4zM184.1 -6.9h261.7v7.2h-261.7zM-445.5 -13.9h65.3v7.2h-65.3zM-196.2 -13.9h12.3v7.2h-12.3zM-128.8 -13.9h12.3v7.2h-12.3zM202.4 -13.9h243.1v7.2h-243.1zM-445 -20.8h151v7.2h-151zM-196 -20.8h12.3v7.2h-12.3zM245 -20.8h12.3v7.2h-12.3zM300.1 -20.8h144.9v7.2h-144.9zM-366.9 -27.8h79.5v7.2h-79.5zM-195.7 -27.8h12.2v7.2h-12.2zM299.7 -27.8h48.9v7.2h-48.9zM305.1 -34.7h6.1v7.2h-6.1zM-181.9 -90.3h23.5v7.2h-23.5zM-422.6 -97.3h9.8v7.2h-9.8zM-186.1 -97.3h46.5v7.2h-46.5zM343.1 -97.3h79.6v7.2h-79.6zM-418.4 -104.2h73.1v7.2h-73.1zM-184.2 -104.2h63.3v7.2h-63.3zM310.8 -104.2h11.5v7.2h-11.5zM333.8 -104.2h84.6v7.2h-84.6zM-413.8 -111.1h95.1v7.2h-95.1zM-176.4 -111.1h68.3v7.2h-68.3zM335.8 -111.1h78v7.2h-78zM-408.6 -118h105.2v7.2h-105.2zM-286.6 -118h11.2v7.2h-11.2zM-168.6 -118h78.7v7.2h-78.7zM-22.5 -118h5.6v7.2h-5.6zM348.4 -118h60.2v7.2h-60.2zM-403 -124.8h131.4v7.2h-131.4zM-149.6 -124.8h72v7.2h-72zM-22.2 -124.8h5.5v7.2h-5.5zM360.2 -124.8h42.8v7.2h-42.8zM-397 -131.7h129.6v7.1h-129.6zM-131 -131.7h71v7.1h-71zM376.7 -131.7h20.4v7.1h-20.4zM-349.2 -138.4h86v7.1h-86zM-102.1 -138.4h59.1v7.1h-59.1zM-322 -145.1h63.3v7h-63.3zM-84.5 -145.1h52.8v7h-52.8zM-274.4 -151.7h15.5v6.9h-15.5zM-67.3 -151.7h62.1v6.9h-62.1zM-299.2 -158.2h45.6v6.8h-45.6zM-55.8 -158.2h50.7v6.8h-50.7zM-297.5 -164.6h34.7v6.7h-34.7zM-89.3 -164.6h9.9v6.7h-9.9zM-44.6 -164.6h39.7v6.7h-39.7zM5 -164.6h9.9v6.7h-9.9zM-87.2 -170.9h9.7v6.6h-9.7zM-48.4 -170.9h24.2v6.6h-24.2zM-19.4 -170.9h14.5v6.6h-14.5zM4.8 -170.9h9.7v6.6h-9.7zM4.7 -177.1h9.4v6.5h-9.4z"/><path fill="#2e6f8e" d="M-158.4 138.4h5.3v7h-5.3zM-161.2 131.7h5.4v7.1h-5.4zM-163.8 124.8h5.5v7.1h-5.5zM365.7 124.8h5.5v7.1h-5.5zM-166.2 118h5.5v7.2h-5.5zM371.3 118h5.5v7.2h-5.5zM-94.6 76.4h5.9v7.2h-5.9zM-357.3 69.5h17.9v7.2h-17.9zM-113.1 69.5h23.8v7.2h-23.8zM-377.2 62.5h35.9v7.2h-35.9zM-119.7 62.5h23.9v7.2h-23.9zM-437.1 55.6h94.2v7.2h-94.2zM-132.3 55.6h36.1v7.2h-36.1zM114.3 55.6h6v7.2h-6zM421.1 55.6h16v7.2h-16zM-439 48.6h88.6v7.2h-88.6zM-163.1 48.6h66.5v7.2h-66.5zM72.5 48.6h54.4v7.2h-54.4zM350.4 48.6h6v7.2h-6zM410.8 48.6h28.2v7.2h-28.2zM-440.7 41.7h82.8v7.2h-82.8zM-169.8 41.7h72.8v7.2h-72.8zM60.7 41.7h66.7v7.2h-66.7zM303.3 41.7h60.7v7.2h-60.7zM394.2 41.7h46.5v7.2h-46.5zM-442.2 34.7h77v7.2h-77zM-170.4 34.7h73v7.2h-73zM48.7 34.7h127.8v7.2h-127.8zM286 34.7h156.1v7.2h-156.1zM-443.4 27.8h71.1v7.2h-71.1zM-177 27.8h79.3v7.2h-79.3zM42.7 27.8h201.4v7.2h-201.4zM262.4 27.8h181v7.2h-181zM-444.3 20.8h65.2v7.2h-65.2zM-177.3 20.8h73.4v7.2h-73.4zM42.8 20.8h401.5v7.2h-401.5zM-445 13.9h53v7.2h-53zM-177.6 13.9h73.5v7.2h-73.5zM42.9 13.9h49v7.2h-49zM128.6 13.9h316.4v7.2h-316.4zM-445.5 6.9h34.7v7.2h-34.7zM-177.8 6.9h73.6v7.2h-73.6zM49.1 6.9h30.7v7.2h-30.7zM153.3 6.9h292.2v7.2h-292.2zM-445.8 0h10.1v7.2h-10.1zM-178 0h79.8v7.2h-79.8zM171.8 0h274v7.2h-274zM-445.8 -6.9h16.3v7.2h-16.3zM-196.4 -6.9h12.3v7.2h-12.3zM-171.8 -6.9h61.4v7.2h-61.4zM184.1 -6.9h261.7v7.2h-261.7zM-445.5 -13.9h59.2v7.2h-59.2zM-196.2 -13.9h12.3v7.2h-12.3zM-128.8 -13.9h6.1v7.2h-6.1zM208.5 -13.9h237v7.2h-237zM-445 -20.8h144.9v7.2h-144.9zM-196 -20.8h12.3v7.2h-12.3zM245 -20.8h12.3v7.2h-12.3zM300.1 -20.8h144.9v7.2h-144.9zM-354.7 -27.8h67.3v7.2h-67.3zM299.7 -27.8h24.5v7.2h-24.5zM305.1 -34.7h6.1v7.2h-6.1zM-176 -90.3h11.7v7.2h-11.7zM-180.3 -97.3h40.7v7.2h-40.7zM348.9 -97.3h58.1v7.2h-58.1zM-418.4 -104.2h55.8v7.2h-55.8zM-178.4 -104.2h51.8v7.2h-51.8zM316.6 -104.2h5.8v7.2h-5.8zM339.6 -104.2h78.8v7.2h-78.8zM-413.8 -111.1h95.1v7.2h-95.1zM-176.4 -111.1h68.3v7.2h-68.3zM341.5 -111.1h72.3v7.2h-72.3zM-408.6 -118h99.5v7.2h-99.5zM-286.6 -118h5.6v7.2h-5.6zM-163 -118h67.4v7.2h-67.4zM354 -118h54.6v7.2h-54.6zM-403 -124.8h103.7v7.2h-103.7zM-288.1 -124.8h16.6v7.2h-16.6zM-144.1 -124.8h61v7.2h-61zM371.3 -124.8h31.7v7.2h-31.7zM-365.7 -131.7h98.3v7.1h-98.3zM-120.1 -131.7h54.6v7.1h-54.6zM-338.5 -138.4h75.2v7.1h-75.2zM-96.7 -138.4h43v7.1h-43zM-311.5 -145.1h15.8v7h-15.8zM-279.8 -145.1h21.1v7h-21.1zM-79.2 -145.1h37v7h-37zM-274.4 -151.7h15.5v6.9h-15.5zM-62.1 -151.7h31.1v6.9h-31.1zM-20.7 -151.7h15.5v6.9h-15.5zM-294.1 -158.2h20.3v6.8h-20.3zM-263.7 -158.2h10.1v6.8h-10.1zM-45.6 -158.2h15.2v6.8h-15.2zM-25.4 -158.2h20.3v6.8h-20.3zM-297.5 -164.6h29.8v6.7h-29.8zM-89.3 -164.6h9.9v6.7h-9.9zM-24.8 -164.6h19.8v6.7h-19.8zM5 -164.6h9.9v6.7h-9.9zM-87.2 -170.9h9.7v6.6h-9.7zM-14.5 -170.9h4.8v6.6h-4.8zM4.8 -170.9h9.7v6.6h-9.7z"/><path fill="#2b758e" d="M-158.4 138.4h5.3v7h-5.3zM-161.2 131.7h5.4v7.1h-5.4zM-163.8 124.8h5.5v7.1h-5.5zM365.7 124.8h5.5v7.1h-5.5zM-166.2 118h5.5v7.2h-5.5zM371.3 118h5.5v7.2h-5.5zM-107.2 69.5h17.9v7.2h-17.9zM-365.2 62.5h18v7.2h-18zM-119.7 62.5h23.9v7.2h-23.9zM-437.1 55.6h88.2v7.2h-88.2zM-126.3 55.6h30.1v7.2h-30.1zM114.3 55.6h6v7.2h-6zM427.1 55.6h10v7.2h-10zM-439 48.6h88.6v7.2h-88.6zM-163.1 48.6h66.5v7.2h-66.5zM72.5 48.6h54.4v7.2h-54.4zM416.8 48.6h22.1v7.2h-22.1zM-440.7 41.7h82.8v7.2h-82.8zM-163.8 41.7h66.7v7.2h-66.7zM60.7 41.7h66.7v7.2h-66.7zM309.3 41.7h24.3v7.2h-24.3zM339.7 41.7h24.3v7.2h-24.3zM400.3 41.7h40.4v7.2h-40.4zM-442.2 34.7h77v7.2h-77zM-170.4 34.7h66.9v7.2h-66.9zM54.8 34.7h109.5v7.2h-109.5zM286 34.7h156.1v7.2h-156.1zM-443.4 27.8h71.1v7.2h-71.1zM-177 27.8h73.2v7.2h-73.2zM48.8 27.8h183.1v7.2h-183.1zM268.5 27.8h174.9v7.2h-174.9zM-444.3 20.8h59v7.2h-59zM-177.3 20.8h73.4v7.2h-73.4zM42.8 20.8h401.5v7.2h-401.5zM-445 13.9h46.9v7.2h-46.9zM-177.6 13.9h73.5v7.2h-73.5zM49 13.9h42.9v7.2h-42.9zM134.8 13.9h310.3v7.2h-310.3zM-445.5 6.9h28.5v7.2h-28.5zM-177.8 6.9h73.6v7.2h-73.6zM49.1 6.9h24.5v7.2h-24.5zM159.4 6.9h286.1v7.2h-286.1zM-171.8 0h73.6v7.2h-73.6zM178 0h257.7v7.2h-257.7zM-196.4 -6.9h12.3v7.2h-12.3zM-165.7 -6.9h49.1v7.2h-49.1zM190.2 -6.9h255.6v7.2h-255.6zM-445.5 -13.9h53.1v7.2h-53.1zM-196.2 -13.9h12.3v7.2h-12.3zM214.6 -13.9h49.1v7.2h-49.1zM269.8 -13.9h175.7v7.2h-175.7zM-445 -20.8h132.6v7.2h-132.6zM-196 -20.8h12.3v7.2h-12.3zM245 -20.8h12.3v7.2h-12.3zM300.1 -20.8h144.9v7.2h-144.9zM-342.5 -27.8h48.9v7.2h-48.9zM299.7 -27.8h18.3v7.2h-18.3zM305.1 -34.7h6.1v7.2h-6.1zM-180.3 -97.3h34.9v7.2h-34.9zM372.1 -97.3h11.6v7.2h-11.6zM-418.4 -104.2h27v7.2h-27zM-178.4 -104.2h51.8v7.2h-51.8zM351.1 -104.2h67.3v7.2h-67.3zM-413.8 -111.1h83.7v7.2h-83.7zM-170.7 -111.1h56.9v7.2h-56.9zM352.9 -111.1h60.9v7.2h-60.9zM-408.6 -118h93.9v7.2h-93.9zM-157.3 -118h56.2v7.2h-56.2zM365.3 -118h43.3v7.2h-43.3zM-403 -124.8h98.2v7.2h-98.2zM-288.1 -124.8h16.6v7.2h-16.6zM-138.5 -124.8h44.3v7.2h-44.3zM393.4 -124.8h9.5v7.2h-9.5zM-354.8 -131.7h60v7.1h-60zM-289.3 -131.7h21.8v7.1h-21.8zM-109.2 -131.7h32.8v7.1h-32.8zM-333.1 -138.4h37.6v7.1h-37.6zM-284.7 -138.4h21.5v7.1h-21.5zM-86 -138.4h26.9v7.1h-26.9zM-279.8 -145.1h21.1v7h-21.1zM-68.6 -145.1h15.8v7h-15.8zM-269.2 -151.7h10.4v6.9h-10.4zM-20.7 -151.7h10.4v6.9h-10.4zM-263.7 -158.2h10.1v6.8h-10.1zM-20.3 -158.2h15.2v6.8h-15.2zM-292.6 -164.6h24.8v6.7h-24.8zM-89.3 -164.6h9.9v6.7h-9.9zM-19.8 -164.6h14.9v6.7h-14.9zM4.8 -170.9h9.7v6.6h-9.7z"/><path fill="#297b8e" d="M-161.2 131.7h5.4v7.1h-5.4zM-163.8 124.8h5.5v7.1h-5.5zM365.7 124.8h5.5v7.1h-5.5zM371.3 118h5.5v7.2h-5.5zM-107.2 69.5h11.9v7.2h-11.9zM-119.7 62.5h23.9v7.2h-23.9zM-437.1 55.6h22v7.2h-22zM-385 55.6h30.1v7.2h-30.1zM-126.3 55.6h30.1v7.2h-30.1zM114.3 55.6h6v7.2h-6zM-439 48.6h82.5v7.2h-82.5zM-157.1 48.6h6v7.2h-6zM-138.9 48.6h42.3v7.2h-42.3zM84.6 48.6h42.3v7.2h-42.3zM416.8 48.6h22.1v7.2h-22.1zM-440.7 41.7h76.8v7.2h-76.8zM-163.8 41.7h60.7v7.2h-60.7zM66.7 41.7h60.7v7.2h-60.7zM339.7 41.7h24.3v7.2h-24.3zM406.4 41.7h34.3v7.2h-34.3zM-442.2 34.7h77v7.2h-77zM-170.4 34.7h66.9v7.2h-66.9zM54.8 34.7h79.1v7.2h-79.1zM292.1 34.7h150.1v7.2h-150.1zM-443.4 27.8h65v7.2h-65zM-177 27.8h73.2v7.2h-73.2zM48.8 27.8h177v7.2h-177zM274.6 27.8h168.8v7.2h-168.8zM-444.3 20.8h59v7.2h-59zM-177.3 20.8h73.4v7.2h-73.4zM48.9 20.8h395.4v7.2h-395.4zM-445 13.9h46.9v7.2h-46.9zM-177.6 13.9h67.4v7.2h-67.4zM49 13.9h36.8v7.2h-36.8zM140.9 13.9h304.1v7.2h-304.1zM-445.5 6.9h28.5v7.2h-28.5zM-171.7 6.9h67.5v7.2h-67.5zM61.3 6.9h6.1v7.2h-6.1zM165.6 6.9h279.9v7.2h-279.9zM-171.8 0h67.5v7.2h-67.5zM178 0h245.5v7.2h-245.5zM-196.4 -6.9h12.3v7.2h-12.3zM-159.5 -6.9h18.4v7.2h-18.4zM-135 -6.9h18.4v7.2h-18.4zM196.4 -6.9h233.2v7.2h-233.2zM-445.5 -13.9h46.9v7.2h-46.9zM-196.2 -13.9h12.3v7.2h-12.3zM220.8 -13.9h42.9v7.2h-42.9zM269.8 -13.9h24.5v7.2h-24.5zM300.5 -13.9h145v7.2h-145zM-445 -20.8h120.4v7.2h-120.4zM-196 -20.8h12.3v7.2h-12.3zM245 -20.8h12.3v7.2h-12.3zM300.1 -20.8h144.9v7.2h-144.9zM-336.3 -27.8h36.7v7.2h-36.7zM299.7 -27.8h18.3v7.2h-18.3zM305.1 -34.7h6.1v7.2h-6.1zM-174.4 -97.3h23.3v7.2h-23.3zM-172.7 -104.2h40.3v7.2h-40.3zM356.9 -104.2h61.6v7.2h-61.6zM-413.8 -111.1h72.3v7.2h-72.3zM-170.7 -111.1h51.2v7.2h-51.2zM358.5 -111.1h55.2v7.2h-55.2zM-408.6 -118h93.9v7.2h-93.9zM-157.3 -118h45v7.2h-45zM376.5 -118h32.1v7.2h-32.1zM-365.7 -124.8h61v7.2h-61zM-282.6 -124.8h5.5v7.2h-5.5zM-133 -124.8h27.7v7.2h-27.7zM-343.9 -131.7h43.7v7.1h-43.7zM-283.9 -131.7h16.4v7.1h-16.4zM-322.3 -138.4h21.5v7.1h-21.5zM-284.7 -138.4h21.5v7.1h-21.5zM-279.8 -145.1h21.1v7h-21.1zM-269.2 -151.7h10.4v6.9h-10.4zM-15.5 -151.7h5.2v6.9h-5.2zM-263.7 -158.2h5.1v6.8h-5.1zM-20.3 -158.2h15.2v6.8h-15.2zM-282.7 -164.6h9.9v6.7h-9.9zM-19.8 -164.6h14.9v6.7h-14.9zM4.8 -170.9h9.7v6.6h-9.7z"/><path fill="#26828e" d="M-161.2 131.7h5.4v7.1h-5.4zM-163.8 124.8h5.5v7.1h-5.5zM371.3 118h5.5v7.2h-5.5zM-113.8 62.5h12v7.2h-12zM-379 55.6h18v7.2h-18zM-126.3 55.6h24.1v7.2h-24.1zM114.3 55.6h6v7.2h-6zM-439 48.6h76.5v7.2h-76.5zM-138.9 48.6h36.2v7.2h-36.2zM90.6 48.6h12.1v7.2h-12.1zM108.7 48.6h18.1v7.2h-18.1zM422.9 48.6h16.1v7.2h-16.1zM-440.7 41.7h76.8v7.2h-76.8zM-163.8 41.7h60.7v7.2h-60.7zM66.7 41.7h60.7v7.2h-60.7zM345.7 41.7h18.2v7.2h-18.2zM406.4 41.7h34.3v7.2h-34.3zM-442.2 34.7h70.9v7.2h-70.9zM-170.4 34.7h66.9v7.2h-66.9zM60.9 34.7h66.9v7.2h-66.9zM292.1 34.7h150.1v7.2h-150.1zM-443.4 27.8h65v7.2h-65zM-170.9 27.8h67.1v7.2h-67.1zM54.9 27.8h164.8v7.2h-164.8zM280.7 27.8h162.7v7.2h-162.7zM-444.3 20.8h59v7.2h-59zM-177.3 20.8h73.4v7.2h-73.4zM55 20.8h48.9v7.2h-48.9zM116.2 20.8h328.1v7.2h-328.1zM-445 13.9h40.8v7.2h-40.8zM-177.6 13.9h67.4v7.2h-67.4zM55.1 13.9h24.5v7.2h-24.5zM147 13.9h298v7.2h-298zM-445.5 6.9h22.4v7.2h-22.4zM-171.7 6.9h61.3v7.2h-61.3zM171.7 6.9h273.8v7.2h-273.8zM-165.7 0h61.4v7.2h-61.4zM184.1 0h227v7.2h-227zM-196.4 -6.9h12.3v7.2h-12.3zM-135 -6.9h18.4v7.2h-18.4zM196.4 -6.9h214.8v7.2h-214.8zM-445.5 -13.9h34.7v7.2h-34.7zM-196.2 -13.9h12.3v7.2h-12.3zM233 -13.9h24.5v7.2h-24.5zM269.8 -13.9h18.4v7.2h-18.4zM300.5 -13.9h145v7.2h-145zM-445 -20.8h95.9v7.2h-95.9zM-196 -20.8h12.3v7.2h-12.3zM245 -20.8h12.3v7.2h-12.3zM300.1 -20.8h144.9v7.2h-144.9zM-324.1 -27.8h18.3v7.2h-18.3zM305.8 -27.8h12.2v7.2h-12.2zM305.1 -34.7h6.1v7.2h-6.1zM-174.4 -97.3h17.4v7.2h-17.4zM-172.7 -104.2h34.5v7.2h-34.5zM-413.8 -111.1h15.4v7.2h-15.4zM-165 -111.1h39.8v7.2h-39.8zM369.9 -111.1h43.8v7.2h-43.8zM-365.3 -118h39.3v7.2h-39.3zM-151.7 -118h33.7v7.2h-33.7zM-349.1 -124.8h38.8v7.2h-38.8zM-282.6 -124.8h5.5v7.2h-5.5zM-333 -131.7h27.3v7.1h-27.3zM-283.9 -131.7h10.9v7.1h-10.9zM-279.4 -138.4h16.1v7.1h-16.1zM-274.5 -145.1h15.8v7h-15.8zM-269.2 -151.7h10.4v6.9h-10.4zM-20.3 -158.2h10.1v6.8h-10.1zM-14.9 -164.6h5v6.7h-5zM9.7 -170.9h4.8v6.6h-4.8z"/><path fill="#24878e" d="M-161.2 131.7h5.4v7.1h-5.4zM-163.8 124.8h5.5v7.1h-5.5zM371.3 118h5.5v7.2h-5.5zM-113.8 62.5h12v7.2h-12zM-120.3 55.6h18v7.2h-18zM114.3 55.6h6v7.2h-6zM-439 48.6h76.5v7.2h-76.5zM-132.9 48.6h30.2v7.2h-30.2zM90.6 48.6h12.1v7.2h-12.1zM108.7 48.6h18.1v7.2h-18.1zM428.9 48.6h10v7.2h-10zM-440.7 41.7h70.7v7.2h-70.7zM-163.8 41.7h60.7v7.2h-60.7zM72.8 41.7h54.6v7.2h-54.6zM345.7 41.7h12.1v7.2h-12.1zM412.4 41.7h28.3v7.2h-28.3zM-442.2 34.7h70.9v7.2h-70.9zM-170.4 34.7h66.9v7.2h-66.9zM60.9 34.7h66.9v7.2h-66.9zM298.2 34.7h144v7.2h-144zM-443.4 27.8h65v7.2h-65zM-170.9 27.8h67.1v7.2h-67.1zM54.9 27.8h158.7v7.2h-158.7zM280.7 27.8h162.7v7.2h-162.7zM-444.3 20.8h52.9v7.2h-52.9zM-171.2 20.8h61.2v7.2h-61.2zM55 20.8h42.8v7.2h-42.8zM116.2 20.8h6.1v7.2h-6.1zM140.7 20.8h303.7v7.2h-303.7zM-445 13.9h40.8v7.2h-40.8zM-171.5 13.9h61.3v7.2h-61.3zM61.3 13.9h18.4v7.2h-18.4zM153.1 13.9h291.9v7.2h-291.9zM-445.5 6.9h16.3v7.2h-16.3zM-171.7 6.9h61.3v7.2h-61.3zM171.7 6.9h273.8v7.2h-273.8zM-165.7 0h61.4v7.2h-61.4zM190.2 0h202.5v7.2h-202.5zM-190.2 -6.9h6.1v7.2h-6.1zM-128.9 -6.9h12.3v7.2h-12.3zM202.5 -6.9h116.6v7.2h-116.6zM331.4 -6.9h18.4v7.2h-18.4zM374.3 -6.9h18.4v7.2h-18.4zM-445.5 -13.9h28.5v7.2h-28.5zM-196.2 -13.9h12.3v7.2h-12.3zM239.1 -13.9h18.4v7.2h-18.4zM269.8 -13.9h18.4v7.2h-18.4zM300.5 -13.9h145v7.2h-145zM-445 -20.8h77.5v7.2h-77.5zM-196 -20.8h12.3v7.2h-12.3zM300.1 -20.8h144.9v7.2h-144.9zM305.8 -27.8h12.2v7.2h-12.2zM-166.9 -104.2h28.8v7.2h-28.8zM-165 -111.1h34.1v7.2h-34.1zM-146.1 -118h22.5v7.2h-22.5zM-332.5 -124.8h11.1v7.2h-11.1zM-322.1 -131.7h5.5v7.1h-5.5zM-283.9 -131.7h10.9v7.1h-10.9zM-279.4 -138.4h16.1v7.1h-16.1zM-274.5 -145.1h10.6v7h-10.6zM-269.2 -151.7h10.4v6.9h-10.4zM-15.2 -158.2h5.1v6.8h-5.1zM-14.9 -164.6h5v6.7h-5z"/><path fill="#228d8d" d="M371.3 118h5.5v7.2h-5.5zM-120.3 55.6h18v7.2h-18zM114.3 55.6h6v7.2h-6zM-439 48.6h70.5v7.2h-70.5zM-132.9 48.6h30.2v7.2h-30.2zM108.7 48.6h18.1v7.2h-18.1zM428.9 48.6h10v7.2h-10zM-440.7 41.7h70.7v7.2h-70.7zM-163.8 41.7h60.7v7.2h-60.7zM72.8 41.7h54.6v7.2h-54.6zM345.7 41.7h12.1v7.2h-12.1zM418.5 41.7h22.2v7.2h-22.2zM-442.2 34.7h64.9v7.2h-64.9zM-164.3 34.7h60.9v7.2h-60.9zM66.9 34.7h60.9v7.2h-60.9zM298.2 34.7h73v7.2h-73zM389.5 34.7h52.7v7.2h-52.7zM-443.4 27.8h58.9v7.2h-58.9zM-170.9 27.8h61v7.2h-61zM61 27.8h67.1v7.2h-67.1zM152.6 27.8h36.6v7.2h-36.6zM280.7 27.8h162.7v7.2h-162.7zM-444.3 20.8h52.9v7.2h-52.9zM-171.2 20.8h61.2v7.2h-61.2zM61.2 20.8h30.6v7.2h-30.6zM146.8 20.8h97.8v7.2h-97.8zM263 20.8h181.3v7.2h-181.3zM-445 13.9h34.6v7.2h-34.6zM-171.5 13.9h55.1v7.2h-55.1zM159.3 13.9h285.8v7.2h-285.8zM-171.7 6.9h55.2v7.2h-55.2zM177.8 6.9h267.7v7.2h-267.7zM-165.7 0h55.2v7.2h-55.2zM190.2 0h171.8v7.2h-171.8zM-190.2 -6.9h6.1v7.2h-6.1zM-128.9 -6.9h12.3v7.2h-12.3zM208.6 -6.9h49.1v7.2h-49.1zM263.9 -6.9h49.1v7.2h-49.1zM-445.5 -13.9h22.4v7.2h-22.4zM-196.2 -13.9h12.3v7.2h-12.3zM239.1 -13.9h18.4v7.2h-18.4zM275.9 -13.9h12.3v7.2h-12.3zM306.6 -13.9h138.9v7.2h-138.9zM-445 -20.8h10.1v7.2h-10.1zM-196 -20.8h12.3v7.2h-12.3zM306.3 -20.8h138.8v7.2h-138.8zM305.8 -27.8h12.2v7.2h-12.2zM-166.9 -104.2h23v7.2h-23zM-159.4 -111.1h28.5v7.2h-28.5zM-283.9 -131.7h10.9v7.1h-10.9zM-279.4 -138.4h16.1v7.1h-16.1zM-274.5 -145.1h10.6v7h-10.6zM-269.2 -151.7h10.4v6.9h-10.4zM-15.2 -158.2h5.1v6.8h-5.1zM-14.9 -164.6h5v6.7h-5z"/><path fill="#20938c" d="M-120.3 55.6h18v7.2h-18zM114.3 55.6h6v7.2h-6zM-428.9 48.6h24.2v7.2h-24.2zM-386.6 48.6h6v7.2h-6zM-126.9 48.6h24.2v7.2h-24.2zM108.7 48.6h18.1v7.2h-18.1zM-440.7 41.7h64.7v7.2h-64.7zM-157.7 41.7h54.6v7.2h-54.6zM72.8 41.7h54.6v7.2h-54.6zM345.7 41.7h12.1v7.2h-12.1zM418.5 41.7h22.2v7.2h-22.2zM-442.2 34.7h64.9v7.2h-64.9zM-164.3 34.7h54.8v7.2h-54.8zM66.9 34.7h60.9v7.2h-60.9zM304.3 34.7h60.9v7.2h-60.9zM401.7 34.7h40.5v7.2h-40.5zM-443.4 27.8h58.9v7.2h-58.9zM-170.9 27.8h61v7.2h-61zM61 27.8h67.1v7.2h-67.1zM286.8 27.8h156.6v7.2h-156.6zM-444.3 20.8h46.8v7.2h-46.8zM-171.2 20.8h61.2v7.2h-61.2zM61.2 20.8h24.5v7.2h-24.5zM152.9 20.8h85.6v7.2h-85.6zM269.1 20.8h175.2v7.2h-175.2zM-445 13.9h34.6v7.2h-34.6zM-171.5 13.9h55.1v7.2h-55.1zM165.4 13.9h279.6v7.2h-279.6zM-165.6 6.9h49.1v7.2h-49.1zM184 6.9h245.3v7.2h-245.3zM-159.5 0h18.4v7.2h-18.4zM-135 0h18.4v7.2h-18.4zM196.4 0h116.6v7.2h-116.6zM325.2 0h30.7v7.2h-30.7zM-128.9 -6.9h12.3v7.2h-12.3zM214.8 -6.9h43v7.2h-43zM270 -6.9h30.7v7.2h-30.7zM-445.5 -13.9h16.3v7.2h-16.3zM-196.2 -13.9h12.3v7.2h-12.3zM239.1 -13.9h18.4v7.2h-18.4zM275.9 -13.9h12.3v7.2h-12.3zM306.6 -13.9h138.9v7.2h-138.9zM-196 -20.8h12.3v7.2h-12.3zM306.3 -20.8h128.6v7.2h-128.6zM305.8 -27.8h6.1v7.2h-6.1zM-153.7 -111.1h11.4v7.2h-11.4zM-278.4 -131.7h5.5v7.1h-5.5zM-279.4 -138.4h10.7v7.1h-10.7zM-274.5 -145.1h10.6v7h-10.6zM-264.1 -151.7h5.2v6.9h-5.2zM-15.2 -158.2h5.1v6.8h-5.1z"/><path fill="#1f998a" d="M-120.3 55.6h12v7.2h-12zM-126.9 48.6h24.2v7.2h-24.2zM108.7 48.6h12.1v7.2h-12.1zM-440.7 41.7h64.7v7.2h-64.7zM-157.7 41.7h6.1v7.2h-6.1zM-145.6 41.7h36.4v7.2h-36.4zM78.8 41.7h48.5v7.2h-48.5zM345.7 41.7h12.1v7.2h-12.1zM424.6 41.7h16.1v7.2h-16.1zM-442.2 34.7h64.9v7.2h-64.9zM-164.3 34.7h54.8v7.2h-54.8zM66.9 34.7h60.9v7.2h-60.9zM304.3 34.7h60.9v7.2h-60.9zM407.8 34.7h34.4v7.2h-34.4zM-443.4 27.8h58.9v7.2h-58.9zM-164.8 27.8h54.9v7.2h-54.9zM67.1 27.8h36.6v7.2h-36.6zM109.8 27.8h18.3v7.2h-18.3zM286.8 27.8h156.6v7.2h-156.6zM-444.3 20.8h46.8v7.2h-46.8zM-171.2 20.8h61.2v7.2h-61.2zM67.3 20.8h18.3v7.2h-18.3zM165.1 20.8h67.3v7.2h-67.3zM275.2 20.8h169.1v7.2h-169.1zM-445 13.9h28.5v7.2h-28.5zM-171.5 13.9h55.1v7.2h-55.1zM171.5 13.9h273.5v7.2h-273.5zM-165.6 6.9h42.9v7.2h-42.9zM184 6.9h226.9v7.2h-226.9zM-128.9 0h12.3v7.2h-12.3zM196.4 0h116.6v7.2h-116.6zM331.4 0h18.4v7.2h-18.4zM-128.9 -6.9h12.3v7.2h-12.3zM220.9 -6.9h36.8v7.2h-36.8zM270 -6.9h30.7v7.2h-30.7zM-196.2 -13.9h12.3v7.2h-12.3zM245.3 -13.9h12.3v7.2h-12.3zM275.9 -13.9h6.1v7.2h-6.1zM306.6 -13.9h138.9v7.2h-138.9zM-196 -20.8h12.3v7.2h-12.3zM306.3 -20.8h116.4v7.2h-116.4zM305.8 -27.8h6.1v7.2h-6.1zM-278.4 -131.7h5.5v7.1h-5.5zM-279.4 -138.4h10.7v7.1h-10.7zM-274.5 -145.1h10.6v7h-10.6z"/><path fill="#1fa088" d="M-114.3 55.6h6v7.2h-6zM-126.9 48.6h18.1v7.2h-18.1zM114.8 48.6h6v7.2h-6zM-440.7 41.7h58.6v7.2h-58.6zM-139.5 41.7h30.3v7.2h-30.3zM91 41.7h12.1v7.2h-12.1zM109.2 41.7h18.2v7.2h-18.2zM345.7 41.7h12.1v7.2h-12.1zM430.6 41.7h10.1v7.2h-10.1zM-442.2 34.7h58.8v7.2h-58.8zM-164.3 34.7h54.8v7.2h-54.8zM73 34.7h54.8v7.2h-54.8zM310.4 34.7h24.3v7.2h-24.3zM340.8 34.7h24.3v7.2h-24.3zM407.8 34.7h34.4v7.2h-34.4zM-443.4 27.8h52.8v7.2h-52.8zM-164.8 27.8h54.9v7.2h-54.9zM67.1 27.8h30.5v7.2h-30.5zM115.9 27.8h12.2v7.2h-12.2zM292.9 27.8h150.5v7.2h-150.5zM-444.3 20.8h40.7v7.2h-40.7zM-171.2 20.8h55v7.2h-55zM73.4 20.8h6.1v7.2h-6.1zM177.3 20.8h48.9v7.2h-48.9zM275.2 20.8h169.1v7.2h-169.1zM-445 13.9h22.4v7.2h-22.4zM-165.4 13.9h49v7.2h-49zM177.6 13.9h267.4v7.2h-267.4zM-165.6 6.9h42.9v7.2h-42.9zM190.1 6.9h208.5v7.2h-208.5zM-128.9 0h12.3v7.2h-12.3zM202.5 0h55.2v7.2h-55.2zM263.9 0h43v7.2h-43zM337.5 0h6.1v7.2h-6.1zM-128.9 -6.9h12.3v7.2h-12.3zM233.2 -6.9h24.5v7.2h-24.5zM270 -6.9h24.5v7.2h-24.5zM-196.2 -13.9h12.3v7.2h-12.3zM245.3 -13.9h12.3v7.2h-12.3zM331.1 -13.9h104.2v7.2h-104.2zM-196 -20.8h12.3v7.2h-12.3zM306.3 -20.8h98v7.2h-98zM305.8 -27.8h6.1v7.2h-6.1zM-278.4 -131.7h5.5v7.1h-5.5zM-279.4 -138.4h10.7v7.1h-10.7zM-274.5 -145.1h10.6v7h-10.6z"/><path fill="#21a585" d="M-120.8 48.6h12.1v7.2h-12.1zM114.8 48.6h6v7.2h-6zM-440.7 41.7h52.5v7.2h-52.5zM-133.4 41.7h24.3v7.2h-24.3zM97 41.7h6.1v7.2h-6.1zM109.2 41.7h18.2v7.2h-18.2zM345.7 41.7h12.1v7.2h-12.1zM430.6 41.7h10.1v7.2h-10.1zM-442.2 34.7h58.8v7.2h-58.8zM-158.2 34.7h48.7v7.2h-48.7zM73 34.7h30.4v7.2h-30.4zM109.5 34.7h18.3v7.2h-18.3zM316.5 34.7h12.2v7.2h-12.2zM340.8 34.7h18.3v7.2h-18.3zM413.8 34.7h28.3v7.2h-28.3zM-443.4 27.8h52.8v7.2h-52.8zM-164.8 27.8h48.8v7.2h-48.8zM73.2 27.8h18.3v7.2h-18.3zM115.9 27.8h6.1v7.2h-6.1zM299 27.8h144.4v7.2h-144.4zM-444.3 20.8h40.7v7.2h-40.7zM-165.1 20.8h48.9v7.2h-48.9zM189.6 20.8h30.6v7.2h-30.6zM281.3 20.8h163v7.2h-163zM-445 13.9h22.4v7.2h-22.4zM-165.4 13.9h42.9v7.2h-42.9zM183.8 13.9h261.3v7.2h-261.3zM-159.4 6.9h30.7v7.2h-30.7zM196.2 6.9h116.5v7.2h-116.5zM318.9 6.9h49.1v7.2h-49.1zM-128.9 0h12.3v7.2h-12.3zM208.6 0h49.1v7.2h-49.1zM270 0h36.8v7.2h-36.8zM-128.9 -6.9h12.3v7.2h-12.3zM239.3 -6.9h18.4v7.2h-18.4zM270 -6.9h24.5v7.2h-24.5zM-196.2 -13.9h12.3v7.2h-12.3zM245.3 -13.9h12.3v7.2h-12.3zM355.7 -13.9h67.5v7.2h-67.5zM-196 -20.8h12.3v7.2h-12.3zM306.3 -20.8h12.3v7.2h-12.3zM330.8 -20.8h61.3v7.2h-61.3zM305.8 -27.8h6.1v7.2h-6.1zM-278.4 -131.7h5.5v7.1h-5.5zM-279.4 -138.4h10.7v7.1h-10.7zM-274.5 -145.1h10.6v7h-10.6z"/><path fill="#25ab82" d="M-120.8 48.6h12.1v7.2h-12.1zM114.8 48.6h6v7.2h-6zM-440.7 41.7h46.5v7.2h-46.5zM-133.4 41.7h24.3v7.2h-24.3zM109.2 41.7h18.2v7.2h-18.2zM351.8 41.7h6.1v7.2h-6.1zM-442.2 34.7h52.7v7.2h-52.7zM-158.2 34.7h42.6v7.2h-42.6zM73 34.7h30.4v7.2h-30.4zM109.5 34.7h18.3v7.2h-18.3zM340.8 34.7h18.3v7.2h-18.3zM419.9 34.7h22.3v7.2h-22.3zM-443.4 27.8h46.7v7.2h-46.7zM-164.8 27.8h48.8v7.2h-48.8zM73.2 27.8h12.2v7.2h-12.2zM115.9 27.8h6.1v7.2h-6.1zM305.1 27.8h79.3v7.2h-79.3zM390.6 27.8h52.8v7.2h-52.8zM-444.3 20.8h40.7v7.2h-40.7zM-165.1 20.8h48.9v7.2h-48.9zM281.3 20.8h163v7.2h-163zM-445 13.9h10.1v7.2h-10.1zM-165.4 13.9h42.9v7.2h-42.9zM189.9 13.9h255.1v7.2h-255.1zM-153.3 6.9h18.4v7.2h-18.4zM202.4 6.9h104.2v7.2h-104.2zM325 6.9h36.8v7.2h-36.8zM-128.9 0h12.3v7.2h-12.3zM214.8 0h43v7.2h-43zM270 0h36.8v7.2h-36.8zM-128.9 -6.9h12.3v7.2h-12.3zM239.3 -6.9h18.4v7.2h-18.4zM270 -6.9h24.5v7.2h-24.5zM-196.2 -13.9h12.3v7.2h-12.3zM245.3 -13.9h6.1v7.2h-6.1zM374.1 -13.9h24.5v7.2h-24.5zM-196 -20.8h12.3v7.2h-12.3zM306.3 -20.8h12.3v7.2h-12.3zM-279.4 -138.4h10.7v7.1h-10.7zM-269.2 -145.1h5.3v7h-5.3z"/><path fill="#2cb17e" d="M114.8 48.6h6v7.2h-6zM-424.6 41.7h12.1v7.2h-12.1zM-127.4 41.7h12.1v7.2h-12.1zM109.2 41.7h18.2v7.2h-18.2zM-442.2 34.7h46.6v7.2h-46.6zM-158.2 34.7h42.6v7.2h-42.6zM79.1 34.7h6.1v7.2h-6.1zM109.5 34.7h18.3v7.2h-18.3zM346.9 34.7h12.2v7.2h-12.2zM426 34.7h16.2v7.2h-16.2zM-443.4 27.8h46.7v7.2h-46.7zM-164.8 27.8h48.8v7.2h-48.8zM73.2 27.8h12.2v7.2h-12.2zM115.9 27.8h6.1v7.2h-6.1zM305.1 27.8h67.1v7.2h-67.1zM402.8 27.8h40.6v7.2h-40.6zM-444.3 20.8h34.6v7.2h-34.6zM-165.1 20.8h48.9v7.2h-48.9zM281.3 20.8h163v7.2h-163zM-165.4 13.9h42.9v7.2h-42.9zM196 13.9h36.8v7.2h-36.8zM238.9 13.9h12.3v7.2h-12.3zM257.3 13.9h171.5v7.2h-171.5zM202.4 6.9h104.2v7.2h-104.2zM325 6.9h30.7v7.2h-30.7zM-128.9 0h12.3v7.2h-12.3zM233.2 0h24.5v7.2h-24.5zM270 0h30.7v7.2h-30.7zM-128.9 -6.9h12.3v7.2h-12.3zM239.3 -6.9h12.3v7.2h-12.3zM270 -6.9h18.4v7.2h-18.4zM-196.2 -13.9h12.3v7.2h-12.3zM-196 -20.8h12.3v7.2h-12.3zM-274 -138.4h5.4v7.1h-5.4zM-269.2 -145.1h5.3v7h-5.3z"/><path fill="#34b679" d="M114.8 48.6h6v7.2h-6zM-121.3 41.7h6.1v7.2h-6.1zM109.2 41.7h12.1v7.2h-12.1zM-442.2 34.7h46.6v7.2h-46.6zM-146.1 34.7h30.4v7.2h-30.4zM115.6 34.7h6.1v7.2h-6.1zM346.9 34.7h12.2v7.2h-12.2zM432.1 34.7h10.1v7.2h-10.1zM-443.4 27.8h40.6v7.2h-40.6zM-158.7 27.8h42.7v7.2h-42.7zM115.9 27.8h6.1v7.2h-6.1zM311.2 27.8h54.9v7.2h-54.9zM408.9 27.8h34.5v7.2h-34.5zM-444.3 20.8h28.5v7.2h-28.5zM-165.1 20.8h42.8v7.2h-42.8zM281.3 20.8h163v7.2h-163zM-159.3 13.9h30.6v7.2h-30.6zM202.1 13.9h24.5v7.2h-24.5zM263.4 13.9h42.9v7.2h-42.9zM318.5 13.9h61.3v7.2h-61.3zM208.5 6.9h98.1v7.2h-98.1zM331.1 6.9h24.5v7.2h-24.5zM-128.9 0h12.3v7.2h-12.3zM233.2 0h18.4v7.2h-18.4zM270 0h30.7v7.2h-30.7zM-128.9 -6.9h6.1v7.2h-6.1zM239.3 -6.9h12.3v7.2h-12.3zM276.1 -6.9h12.3v7.2h-12.3zM-196.2 -13.9h12.3v7.2h-12.3zM-196 -20.8h12.3v7.2h-12.3zM-274 -138.4h5.4v7.1h-5.4zM-269.2 -145.1h5.3v7h-5.3z"/><path fill="#3fbc73" d="M114.8 48.6h6v7.2h-6zM115.2 41.7h6.1v7.2h-6.1zM-442.2 34.7h40.5v7.2h-40.5zM-140 34.7h18.3v7.2h-18.3zM115.6 34.7h6.1v7.2h-6.1zM346.9 34.7h12.2v7.2h-12.2zM432.1 34.7h10.1v7.2h-10.1zM-443.4 27.8h40.6v7.2h-40.6zM-158.7 27.8h36.6v7.2h-36.6zM317.3 27.8h18.3v7.2h-18.3zM341.7 27.8h18.3v7.2h-18.3zM421.1 27.8h22.3v7.2h-22.3zM-444.3 20.8h28.5v7.2h-28.5zM-159 20.8h36.7v7.2h-36.7zM287.4 20.8h12.2v7.2h-12.2zM318 20.8h61.2v7.2h-61.2zM409.7 20.8h34.6v7.2h-34.6zM-159.3 13.9h30.6v7.2h-30.6zM275.6 13.9h30.6v7.2h-30.6zM324.6 13.9h36.8v7.2h-36.8zM239.1 6.9h12.3v7.2h-12.3zM263.7 6.9h42.9v7.2h-42.9zM331.1 6.9h24.5v7.2h-24.5zM239.3 0h12.3v7.2h-12.3zM270 0h30.7v7.2h-30.7zM239.3 -6.9h12.3v7.2h-12.3zM276.1 -6.9h12.3v7.2h-12.3zM-196.2 -13.9h12.3v7.2h-12.3zM-274 -138.4h5.4v7.1h-5.4zM-269.2 -145.1h5.3v7h-5.3z"/><path fill="#4ac16d" d="M114.8 48.6h6v7.2h-6zM115.2 41.7h6.1v7.2h-6.1zM-442.2 34.7h34.4v7.2h-34.4zM-133.9 34.7h6.1v7.2h-6.1zM115.6 34.7h6.1v7.2h-6.1zM346.9 34.7h12.2v7.2h-12.2zM-443.4 27.8h34.5v7.2h-34.5zM-152.6 27.8h30.5v7.2h-30.5zM323.4 27.8h6.1v7.2h-6.1zM347.8 27.8h12.2v7.2h-12.2zM427.2 27.8h16.2v7.2h-16.2zM-444.3 20.8h22.3v7.2h-22.3zM-159 20.8h36.7v7.2h-36.7zM287.4 20.8h6.1v7.2h-6.1zM318 20.8h42.8v7.2h-42.8zM422 20.8h22.3v7.2h-22.3zM-153.1 13.9h18.4v7.2h-18.4zM281.8 13.9h18.4v7.2h-18.4zM324.6 13.9h36.8v7.2h-36.8zM239.1 6.9h12.3v7.2h-12.3zM269.8 6.9h30.7v7.2h-30.7zM331.1 6.9h18.4v7.2h-18.4zM239.3 0h12.3v7.2h-12.3zM276.1 0h18.4v7.2h-18.4zM245.5 -6.9h6.1v7.2h-6.1zM276.1 -6.9h12.3v7.2h-12.3zM-196.2 -13.9h12.3v7.2h-12.3zM-274 -138.4h5.4v7.1h-5.4zM-269.2 -145.1h5.3v7h-5.3z"/><path fill="#56c667" d="M114.8 48.6h6v7.2h-6zM115.2 41.7h6.1v7.2h-6.1zM115.6 34.7h6.1v7.2h-6.1zM346.9 34.7h6.1v7.2h-6.1zM-443.4 27.8h28.4v7.2h-28.4zM-152.6 27.8h30.5v7.2h-30.5zM347.8 27.8h6.1v7.2h-6.1zM433.3 27.8h10.1v7.2h-10.1zM-152.9 20.8h24.5v7.2h-24.5zM330.2 20.8h24.5v7.2h-24.5zM281.8 13.9h18.4v7.2h-18.4zM330.8 13.9h24.5v7.2h-24.5zM239.1 6.9h12.3v7.2h-12.3zM288.2 6.9h12.3v7.2h-12.3zM337.3 6.9h12.3v7.2h-12.3zM239.3 0h12.3v7.2h-12.3zM276.1 0h18.4v7.2h-18.4zM245.5 -6.9h6.1v7.2h-6.1zM276.1 -6.9h12.3v7.2h-12.3zM-190.1 -13.9h6.1v7.2h-6.1zM-274 -138.4h5.4v7.1h-5.4zM-269.2 -145.1h5.3v7h-5.3z"/><path fill="#65cb5e" d="M114.8 48.6h6v7.2h-6zM115.2 41.7h6.1v7.2h-6.1zM115.6 34.7h6.1v7.2h-6.1zM346.9 34.7h6.1v7.2h-6.1zM-443.4 27.8h22.3v7.2h-22.3zM-146.5 27.8h18.3v7.2h-18.3zM347.8 27.8h6.1v7.2h-6.1zM-152.9 20.8h24.5v7.2h-24.5zM287.9 13.9h12.3v7.2h-12.3zM330.8 13.9h24.5v7.2h-24.5zM239.1 6.9h12.3v7.2h-12.3zM288.2 6.9h12.3v7.2h-12.3zM239.3 0h12.3v7.2h-12.3zM276.1 0h12.3v7.2h-12.3zM276.1 -6.9h12.3v7.2h-12.3zM-274 -138.4h5.4v7.1h-5.4zM-269.2 -145.1h5.3v7h-5.3z"/><path fill="#73d056" d="M114.8 48.6h6v7.2h-6zM115.2 41.7h6.1v7.2h-6.1zM115.6 34.7h6.1v7.2h-6.1zM-140.4 27.8h6.1v7.2h-6.1zM-146.8 20.8h12.2v7.2h-12.2zM287.9 13.9h6.1v7.2h-6.1zM330.8 13.9h18.4v7.2h-18.4zM294.3 6.9h6.1v7.2h-6.1zM276.1 0h12.3v7.2h-12.3zM276.1 -6.9h12.3v7.2h-12.3zM-274 -138.4h5.4v7.1h-5.4zM-269.2 -145.1h5.3v7h-5.3z"/><path fill="#84d44b" d="M114.8 48.6h6v7.2h-6zM115.2 41.7h6.1v7.2h-6.1zM115.6 34.7h6.1v7.2h-6.1zM336.9 13.9h12.3v7.2h-12.3zM276.1 -6.9h6.1v7.2h-6.1zM-274 -138.4h5.4v7.1h-5.4z"/><path fill="#93d741" d="M115.2 41.7h6.1v7.2h-6.1zM115.6 34.7h6.1v7.2h-6.1zM-274 -138.4h5.4v7.1h-5.4z"/><path fill="#a2da37" d="M115.2 41.7h6.1v7.2h-6.1zM115.6 34.7h6.1v7.2h-6.1zM-274 -138.4h5.4v7.1h-5.4z"/><path fill="#b5de2b" d="M115.2 41.7h6.1v7.2h-6.1zM-274 -138.4h5.4v7.1h-5.4z"/><path fill="#c5e021" d="M115.2 41.7h6.1v7.2h-6.1z"/><path fill="#d8e219" d="M115.2 41.7h6.1v7.2h-6.1z"/><path fill="#e7e419" d="M115.2 41.7h6.1v7.2h-6.1z"/></g></g>
<use href="#ov"/>
<text x="0" y="-239.4" font-size="50" text-anchor="middle">month = 1</text>
<g transform="translate(0.0 0)"><path d="M497.1 223.0V-201.1L508.25 -221.8L519.4 -201.1V223.0Z" fill="url(#vg)" stroke="#000" stroke-width="2.4" stroke-linejoin="miter"/><path d="M519.4 223.0h14.3" stroke="#000" stroke-width="2.6"/><text x="544.0" y="238.0" font-size="34">0.0</text><path d="M519.4 152.3h14.3" stroke="#000" stroke-width="2.6"/><text x="544.0" y="167.3" font-size="34">2.5</text><path d="M519.4 81.6h14.3" stroke="#000" stroke-width="2.6"/><text x="544.0" y="96.6" font-size="34">5.0</text><path d="M519.4 10.9h14.3" stroke="#000" stroke-width="2.6"/><text x="544.0" y="25.9" font-size="34">7.5</text><path d="M519.4 -59.7h14.3" stroke="#000" stroke-width="2.6"/><text x="544.0" y="-44.7" font-size="34">10.0</text><path d="M519.4 -130.4h14.3" stroke="#000" stroke-width="2.6"/><text x="544.0" y="-115.4" font-size="34">12.5</text><path d="M519.4 -201.1h14.3" stroke="#000" stroke-width="2.6"/><text x="544.0" y="-186.1" font-size="34">15.0</text><text transform="translate(663.0 13.2) rotate(-90)" font-size="41.7" text-anchor="middle">GPCP Climatology</text><text transform="translate(712.0 15.0) rotate(-90)" font-size="41.7" text-anchor="middle">(mm/day)</text></g>
</g>
<g transform="translate(1639.0 298.0)">
<g clip-path="url(#cp)"><use href="#ol" fill="#450559"/>
<g shape-rendering="crispEdges"><path fill="#470e61" d="M-272.9 210.5h545.7v4.7h-545.7zM-284.4 205.6h568.7v5.3h-568.7zM-295.9 200.3h591.8v5.6h-591.8zM-306.8 194.7h613.6v5.8h-613.6zM-316.8 189h633.6v6h-633.6zM-326.2 183.1h652.4v6.2h-652.4zM-335.3 177.1h670.5v6.3h-670.5zM-344.1 170.9h688.2v6.5h-688.2zM-352.7 164.6h705.4v6.6h-705.4zM-361 158.2h722.1v6.7h-722.1zM-369.1 151.7h738.2v6.8h-738.2zM-376.8 145.1h753.6v6.9h-753.6zM-384.1 138.4h768.2v7h-768.2zM-390.8 131.7h781.6v7.1h-781.6zM-397 124.8h794.1v7.1h-794.1zM-403 118h805.9v7.2h-805.9zM-408.6 111.1h817.2v7.2h-817.2zM-413.8 104.2h827.5v7.2h-827.5zM-418.4 97.3h836.8v7.2h-836.8zM-422.6 90.3h845.3v7.2h-845.3zM-426.5 83.4h853v7.2h-853zM-429.8 76.4h859.7v7.2h-859.7zM-432.7 69.5h865.4v7.2h-865.4zM-435.1 62.5h177.6v7.2h-177.6zM-221.5 62.5h656.6v7.2h-656.6zM-437.1 55.6h166.4v7.2h-166.4zM-216.6 55.6h186.5v7.2h-186.5zM6 55.6h431.1v7.2h-431.1zM-439 48.6h167.1v7.2h-167.1zM-217.5 48.6h187.3v7.2h-187.3zM6 48.6h432.9v7.2h-432.9zM-440.7 41.7h167.8v7.2h-167.8zM-230.5 41.7h200.2v7.2h-200.2zM6.1 41.7h434.6v7.2h-434.6zM-442.2 34.7h156.1v7.2h-156.1zM-261.7 34.7h703.9v7.2h-703.9zM-443.4 27.8h886.7v7.2h-886.7zM-444.3 20.8h888.6v7.2h-888.6zM-445 13.9h890v7.2h-890zM-445.5 6.9h891v7.2h-891zM-445.8 0h891.6v7.2h-891.6zM-445.8 -6.9h891.6v7.2h-891.6zM-445.5 -13.9h891v7.2h-891zM-445 -20.8h890v7.2h-890zM-444.3 -27.8h888.6v7.2h-888.6zM-443.4 -34.7h886.7v7.2h-886.7zM-442.2 -41.7h557.8v7.2h-557.8zM127.8 -41.7h36.5v7.2h-36.5zM188.7 -41.7h253.5v7.2h-253.5zM-440.7 -48.6h331.5v7.2h-331.5zM200.2 -48.6h240.5v7.2h-240.5zM-439 -55.6h94.6v7.2h-94.6zM-283.9 -55.6h151v7.2h-151zM199.4 -55.6h199.4v7.2h-199.4zM428.9 -55.6h10v7.2h-10zM-437.1 -62.5h88.2v7.2h-88.2zM-276.7 -62.5h144.4v7.2h-144.4zM198.5 -62.5h238.6v7.2h-238.6zM-435.1 -69.5h117.8v7.2h-117.8zM-305.4 -69.5h209.6v7.2h-209.6zM179.6 -69.5h255.5v7.2h-255.5zM-432.7 -76.4h414.9v7.2h-414.9zM142.9 -76.4h289.8v7.2h-289.8zM-429.8 -83.4h542.2v7.2h-542.2zM118.3 -83.4h311.6v7.2h-311.6zM-426.5 -90.3h853v7.2h-853zM-422.6 -97.3h845.3v7.2h-845.3zM-418.4 -104.2h836.8v7.2h-836.8zM-413.8 -111.1h827.5v7.2h-827.5zM-408.6 -118h817.2v7.2h-817.2zM-403 -124.8h580.3v7.2h-580.3zM216.1 -124.8h186.9v7.2h-186.9zM-397 -131.7h566.3v7.1h-566.3zM218.4 -131.7h178.7v7.1h-178.7zM-390.8 -138.4h573.5v7.1h-573.5zM198.8 -138.4h192v7.1h-192zM-384.1 -145.1h768.2v7h-768.2zM-376.8 -151.7h753.6v6.9h-753.6zM-369.1 -158.2h738.2v6.8h-738.2zM-361 -164.6h722.1v6.7h-722.1zM-352.7 -170.9h705.4v6.6h-705.4zM-344.1 -177.1h688.2v6.5h-688.2zM-335.3 -183.1h670.5v6.3h-670.5zM-326.2 -189h652.4v6.2h-652.4zM-316.8 -194.7h633.6v6h-633.6zM-306.8 -200.3h613.6v5.8h-613.6zM-295.9 -205.6h591.8v5.6h-591.8zM-284.4 -210.5h568.7v5.3h-568.7zM-272.9 -214.9h545.7v4.7h-545.7zM-262 -218.7h524v4.1h-524zM-252 -221.8h504v3.4h-504zM-243.1 -224.1h486.2v2.6h-486.2z"/><path fill="#48186a" d="M-306.8 194.7h613.6v5.8h-613.6zM-316.8 189h633.6v6h-633.6zM-326.2 183.1h652.4v6.2h-652.4zM-335.3 177.1h670.5v6.3h-670.5zM-344.1 170.9h688.2v6.5h-688.2zM-352.7 164.6h705.4v6.6h-705.4zM-361 158.2h722.1v6.7h-722.1zM-369.1 151.7h738.2v6.8h-738.2zM-376.8 145.1h753.6v6.9h-753.6zM-384.1 138.4h768.2v7h-768.2zM-390.8 131.7h781.6v7.1h-781.6zM-397 124.8h794.1v7.1h-794.1zM-403 118h805.9v7.2h-805.9zM-408.6 111.1h817.2v7.2h-817.2zM-413.8 104.2h827.5v7.2h-827.5zM-418.4 97.3h836.8v7.2h-836.8zM-422.6 90.3h845.3v7.2h-845.3zM-426.5 83.4h853v7.2h-853zM-429.8 76.4h465.3v7.2h-465.3zM53.2 76.4h376.6v7.2h-376.6zM-432.7 69.5h170.7v7.2h-170.7zM-208.4 69.5h190.5v7.2h-190.5zM65.5 69.5h137v7.2h-137zM238.2 69.5h53.6v7.2h-53.6zM333.4 69.5h99.3v7.2h-99.3zM-435.1 62.5h153.7v7.2h-153.7zM-197.6 62.5h155.7v7.2h-155.7zM65.9 62.5h137.7v7.2h-137.7zM245.5 62.5h41.9v7.2h-41.9zM335.3 62.5h99.8v7.2h-99.8zM-437.1 55.6h148.4v7.2h-148.4zM-192.5 55.6h144.4v7.2h-144.4zM60.2 55.6h228.6v7.2h-228.6zM336.9 55.6h100.2v7.2h-100.2zM-439 48.6h142.9v7.2h-142.9zM-199.4 48.6h151v7.2h-151zM48.3 48.6h390.6v7.2h-390.6zM-440.7 41.7h137.4v7.2h-137.4zM-206.2 41.7h163.8v7.2h-163.8zM24.3 41.7h416.4v7.2h-416.4zM-442.2 34.7h131.8v7.2h-131.8zM-219.1 34.7h182.6v7.2h-182.6zM12.2 34.7h430v7.2h-430zM-443.4 27.8h138.3v7.2h-138.3zM-244.1 27.8h687.5v7.2h-687.5zM-444.3 20.8h888.6v7.2h-888.6zM-445 13.9h890v7.2h-890zM-445.5 6.9h891v7.2h-891zM-445.8 0h891.6v7.2h-891.6zM-445.8 -6.9h891.6v7.2h-891.6zM-445.5 -13.9h891v7.2h-891zM-445 -20.8h890v7.2h-890zM-444.3 -27.8h888.6v7.2h-888.6zM-443.4 -34.7h553.2v7.2h-553.2zM189.2 -34.7h254.2v7.2h-254.2zM-432.1 -41.7h304.3v7.2h-304.3zM206.9 -41.7h188.7v7.2h-188.7zM-248.7 -48.6h84.9v7.2h-84.9zM212.3 -48.6h133.4v7.2h-133.4zM-380.6 -55.6h12.1v7.2h-12.1zM-223.5 -55.6h36.2v7.2h-36.2zM217.5 -55.6h102.7v7.2h-102.7zM-379 -62.5h12v7.2h-12zM-228.6 -62.5h54.1v7.2h-54.1zM210.5 -62.5h150.4v7.2h-150.4zM-435.1 -69.5h63.9v7.2h-63.9zM-233.5 -69.5h83.8v7.2h-83.8zM203.6 -69.5h231.5v7.2h-231.5zM-432.7 -76.4h87.4v7.2h-87.4zM-238.2 -76.4h119.1v7.2h-119.1zM190.5 -76.4h242.2v7.2h-242.2zM-429.8 -83.4h163.7v7.2h-163.7zM-242.5 -83.4h212.9v7.2h-212.9zM159.7 -83.4h270.2v7.2h-270.2zM-426.5 -90.3h168.3v7.2h-168.3zM-240.6 -90.3h340.3v7.2h-340.3zM129.1 -90.3h297.4v7.2h-297.4zM-422.6 -97.3h172.6v7.2h-172.6zM-238.4 -97.3h661v7.2h-661zM-418.4 -104.2h836.8v7.2h-836.8zM-413.8 -111.1h827.5v7.2h-827.5zM-408.6 -118h582.8v7.2h-582.8zM230.4 -118h178.2v7.2h-178.2zM-403 -124.8h558.1v7.2h-558.1zM238.3 -124.8h164.7v7.2h-164.7zM-397 -131.7h544.4v7.1h-544.4zM240.2 -131.7h156.8v7.1h-156.8zM-390.8 -138.4h541.2v7.1h-541.2zM236.4 -138.4h154.4v7.1h-154.4zM-384.1 -145.1h542.5v7h-542.5zM232.3 -145.1h151.8v7h-151.8zM-376.8 -151.7h552.8v6.9h-552.8zM227.8 -151.7h149v6.9h-149zM-369.1 -158.2h571.9v6.8h-571.9zM243.4 -158.2h125.7v6.8h-125.7zM-361 -164.6h559.4v6.7h-559.4zM257.9 -164.6h103.2v6.7h-103.2zM-352.7 -170.9h546.4v6.6h-546.4zM261.5 -170.9h91.2v6.6h-91.2zM-344.1 -177.1h528.3v6.5h-528.3zM264.5 -177.1h79.6v6.5h-79.6zM-335.3 -183.1h510.1v6.3h-510.1zM262.3 -183.1h73v6.3h-73zM-326.2 -189h487.3v6.2h-487.3zM264 -189h62.2v6.2h-62.2zM-316.8 -194.7h103.9v6h-103.9zM-152.1 -194.7h269.3v6h-269.3zM299.8 -194.7h17v6h-17z"/><path fill="#482071" d="M-316.8 189h633.6v6h-633.6zM-326.2 183.1h652.4v6.2h-652.4zM-335.3 177.1h670.5v6.3h-670.5zM-344.1 170.9h688.2v6.5h-688.2zM-352.7 164.6h705.4v6.6h-705.4zM-361 158.2h722.1v6.7h-722.1zM-369.1 151.7h738.2v6.8h-738.2zM-376.8 145.1h753.6v6.9h-753.6zM-384.1 138.4h768.2v7h-768.2zM-390.8 131.7h781.6v7.1h-781.6zM-397 124.8h794.1v7.1h-794.1zM-403 118h805.9v7.2h-805.9zM-408.6 111.1h817.2v7.2h-817.2zM-413.8 104.2h827.5v7.2h-827.5zM-418.4 97.3h836.8v7.2h-836.8zM-422.6 90.3h845.3v7.2h-845.3zM-426.5 83.4h455.8v7.2h-455.8zM58.7 83.4h367.8v7.2h-367.8zM-429.8 76.4h169.6v7.2h-169.6zM-201.1 76.4h183.4v7.2h-183.4zM71 76.4h118.3v7.2h-118.3zM260.2 76.4h11.8v7.2h-11.8zM337.1 76.4h92.7v7.2h-92.7zM-432.7 69.5h152.9v7.2h-152.9zM-184.6 69.5h137v7.2h-137zM77.4 69.5h101.2v7.2h-101.2zM345.4 69.5h87.4v7.2h-87.4zM-435.1 62.5h141.7v7.2h-141.7zM-179.6 62.5h119.7v7.2h-119.7zM77.8 62.5h101.8v7.2h-101.8zM347.3 62.5h87.8v7.2h-87.8zM-437.1 55.6h136.3v7.2h-136.3zM-174.4 55.6h108.3v7.2h-108.3zM78.2 55.6h114.3v7.2h-114.3zM342.9 55.6h94.2v7.2h-94.2zM-439 48.6h130.9v7.2h-130.9zM-181.2 48.6h114.8v7.2h-114.8zM66.5 48.6h223.5v7.2h-223.5zM338.3 48.6h100.7v7.2h-100.7zM-440.7 41.7h125.3v7.2h-125.3zM-194.1 41.7h127.4v7.2h-127.4zM42.5 41.7h398.2v7.2h-398.2zM-442.2 34.7h125.7v7.2h-125.7zM-206.9 34.7h121.7v7.2h-121.7zM-66.9 34.7h6.1v7.2h-6.1zM24.3 34.7h417.8v7.2h-417.8zM-443.4 27.8h126v7.2h-126zM-219.7 27.8h128.2v7.2h-128.2zM-67.1 27.8h24.4v7.2h-24.4zM12.2 27.8h431.2v7.2h-431.2zM-444.3 20.8h144.7v7.2h-144.7zM-263 20.8h177.3v7.2h-177.3zM-73.4 20.8h517.7v7.2h-517.7zM-445 13.9h890v7.2h-890zM-445.5 6.9h891v7.2h-891zM-445.8 0h891.6v7.2h-891.6zM-445.8 -6.9h891.6v7.2h-891.6zM-445.5 -13.9h891v7.2h-891zM-445 -20.8h890v7.2h-890zM-444.3 -27.8h888.6v7.2h-888.6zM-443.4 -34.7h327.4v7.2h-327.4zM79.3 -34.7h18.3v7.2h-18.3zM195.3 -34.7h248.1v7.2h-248.1zM-194.7 -41.7h12.2v7.2h-12.2zM219.1 -41.7h103.5v7.2h-103.5zM218.3 -48.6h66.7v7.2h-66.7zM-380.6 -55.6h6v7.2h-6zM223.5 -55.6h72.5v7.2h-72.5zM-379 -62.5h6v7.2h-6zM216.6 -62.5h90.2v7.2h-90.2zM-221.5 -69.5h47.9v7.2h-47.9zM209.6 -69.5h173.6v7.2h-173.6zM-432.7 -76.4h51.6v7.2h-51.6zM-226.3 -76.4h77.4v7.2h-77.4zM202.5 -76.4h230.3v7.2h-230.3zM-429.8 -83.4h86.8v7.2h-86.8zM-230.7 -83.4h118.3v7.2h-118.3zM195.2 -83.4h234.7v7.2h-234.7zM-426.5 -90.3h144.8v7.2h-144.8zM-228.8 -90.3h199.5v7.2h-199.5zM164.3 -90.3h262.2v7.2h-262.2zM-422.6 -97.3h155.2v7.2h-155.2zM-226.8 -97.3h325.6v7.2h-325.6zM133.7 -97.3h288.9v7.2h-288.9zM-418.4 -104.2h159.4v7.2h-159.4zM-224.5 -104.2h642.9v7.2h-642.9zM-413.8 -111.1h157.7v7.2h-157.7zM-227.6 -111.1h409.8v7.2h-409.8zM233.3 -111.1h180.4v7.2h-180.4zM-408.6 -118h155.7v7.2h-155.7zM-219.2 -118h376.5v7.2h-376.5zM252.9 -118h155.7v7.2h-155.7zM-403 -124.8h153.6v7.2h-153.6zM-216.1 -124.8h349.1v7.2h-349.1zM260.4 -124.8h142.5v7.2h-142.5zM-397 -131.7h145.9v7.1h-145.9zM-207.4 -131.7h338.5v7.1h-338.5zM262 -131.7h135v7.1h-135zM-390.8 -138.4h143.7v7.1h-143.7zM-204.2 -138.4h333.1v7.1h-333.1zM263.3 -138.4h127.6v7.1h-127.6zM-384.1 -145.1h136v7h-136zM-195.3 -145.1h327.3v7h-327.3zM274.5 -145.1h109.6v7h-109.6zM-376.8 -151.7h133.4v6.9h-133.4zM-191.6 -151.7h326.2v6.9h-326.2zM284.8 -151.7h92v6.9h-92zM-369.1 -158.2h130.8v6.8h-130.8zM-187.6 -158.2h329.6v6.8h-329.6zM294.1 -158.2h75v6.8h-75zM-361 -164.6h128v6.7h-128zM-183.5 -164.6h322.3v6.7h-322.3zM302.5 -164.6h58.5v6.7h-58.5zM-352.7 -170.9h120.2v6.6h-120.2zM-169.5 -170.9h300.3v6.6h-300.3zM310 -170.9h42.7v6.6h-42.7zM-330.6 -177.1h94.5v6.5h-94.5zM-137 -177.1h217.3v6.5h-217.3zM-87.4 -183.1h18.4v6.3h-18.4zM4.6 -183.1h9.2v6.3h-9.2z"/><path fill="#482878" d="M-326.2 183.1h652.4v6.2h-652.4zM-335.3 177.1h670.5v6.3h-670.5zM-344.1 170.9h688.2v6.5h-688.2zM-352.7 164.6h705.4v6.6h-705.4zM-361 158.2h722.1v6.7h-722.1zM-369.1 151.7h738.2v6.8h-738.2zM-376.8 145.1h753.6v6.9h-753.6zM-384.1 138.4h768.2v7h-768.2zM-390.8 131.7h781.6v7.1h-781.6zM-397 124.8h794.1v7.1h-794.1zM-403 118h805.9v7.2h-805.9zM-408.6 111.1h817.2v7.2h-817.2zM-413.8 104.2h827.5v7.2h-827.5zM-418.4 97.3h836.8v7.2h-836.8zM-422.6 90.3h845.3v7.2h-845.3zM-426.5 83.4h180v7.2h-180zM-205.4 83.4h193.6v7.2h-193.6zM70.4 83.4h111.5v7.2h-111.5zM340.3 83.4h86.1v7.2h-86.1zM-429.8 76.4h151.9v7.2h-151.9zM-177.4 76.4h130.1v7.2h-130.1zM82.8 76.4h82.8v7.2h-82.8zM349 76.4h80.9v7.2h-80.9zM-432.7 69.5h141v7.2h-141zM-166.7 69.5h101.2v7.2h-101.2zM89.3 69.5h71.5v7.2h-71.5zM351.3 69.5h81.4v7.2h-81.4zM-435.1 62.5h129.7v7.2h-129.7zM-161.7 62.5h77.8v7.2h-77.8zM89.8 62.5h65.9v7.2h-65.9zM353.3 62.5h81.8v7.2h-81.8zM-437.1 55.6h124.3v7.2h-124.3zM-162.4 55.6h72.2v7.2h-72.2zM90.2 55.6h78.2v7.2h-78.2zM348.9 55.6h88.2v7.2h-88.2zM-439 48.6h118.8v7.2h-118.8zM-169.1 48.6h78.5v7.2h-78.5zM78.5 48.6h126.9v7.2h-126.9zM344.3 48.6h94.6v7.2h-94.6zM-440.7 41.7h119.2v7.2h-119.2zM-182 41.7h91v7.2h-91zM60.7 41.7h242.6v7.2h-242.6zM333.6 41.7h107.1v7.2h-107.1zM-442.2 34.7h113.5v7.2h-113.5zM-194.7 34.7h97.4v7.2h-97.4zM36.5 34.7h405.7v7.2h-405.7zM-443.4 27.8h119.9v7.2h-119.9zM-207.5 27.8h109.8v7.2h-109.8zM24.4 27.8h419v7.2h-419zM-444.3 20.8h132.4v7.2h-132.4zM-238.5 20.8h140.7v7.2h-140.7zM-61.2 20.8h18.3v7.2h-18.3zM6.1 20.8h438.2v7.2h-438.2zM-445 13.9h890v7.2h-890zM-445.5 6.9h891v7.2h-891zM-445.8 0h891.6v7.2h-891.6zM-445.8 -6.9h891.6v7.2h-891.6zM-445.5 -13.9h891v7.2h-891zM-445 -20.8h890v7.2h-890zM-444.3 -27.8h554.4v7.2h-554.4zM183.5 -27.8h260.8v7.2h-260.8zM-402.8 -34.7h152.6v7.2h-152.6zM-201.4 -34.7h61v7.2h-61zM219.7 -34.7h189.2v7.2h-189.2zM225.2 -41.7h54.8v7.2h-54.8zM224.4 -48.6h48.5v7.2h-48.5zM-380.6 -55.6h6v7.2h-6zM229.6 -55.6h54.4v7.2h-54.4zM-379 -62.5h6v7.2h-6zM228.6 -62.5h72.2v7.2h-72.2zM-209.6 -69.5h18v7.2h-18zM209.6 -69.5h107.8v7.2h-107.8zM-220.3 -76.4h53.6v7.2h-53.6zM208.4 -76.4h224.3v7.2h-224.3zM-429.8 -83.4h63.1v7.2h-63.1zM-224.8 -83.4h88.7v7.2h-88.7zM207 -83.4h222.8v7.2h-222.8zM-426.5 -90.3h97.9v7.2h-97.9zM-223 -90.3h123.2v7.2h-123.2zM211.2 -90.3h215.2v7.2h-215.2zM-422.6 -97.3h143.5v7.2h-143.5zM-221 -97.3h215.1v7.2h-215.1zM162.8 -97.3h17.4v7.2h-17.4zM226.8 -97.3h195.9v7.2h-195.9zM-418.4 -104.2h147.9v7.2h-147.9zM-218.7 -104.2h322.3v7.2h-322.3zM143.9 -104.2h40.3v7.2h-40.3zM241.7 -104.2h176.7v7.2h-176.7zM-413.8 -111.1h146.3v7.2h-146.3zM-216.3 -111.1h387v7.2h-387zM256.1 -111.1h157.7v7.2h-157.7zM-408.6 -118h144.5v7.2h-144.5zM-213.5 -118h331.5v7.2h-331.5zM269.7 -118h138.9v7.2h-138.9zM-403 -124.8h137v7.2h-137zM-205 -124.8h315.8v7.2h-315.8zM277.1 -124.8h125.9v7.2h-125.9zM-397 -131.7h135v7.1h-135zM-196.5 -131.7h305.7v7.1h-305.7zM283.9 -131.7h113.2v7.1h-113.2zM-390.8 -138.4h132.9v7.1h-132.9zM-188 -138.4h290.1v7.1h-290.1zM295.5 -138.4h95.3v7.1h-95.3zM-384.1 -145.1h130.7v7h-130.7zM-179.5 -145.1h279.8v7h-279.8zM311.5 -145.1h72.6v7h-72.6zM-376.8 -151.7h123.1v6.9h-123.1zM-170.9 -151.7h264.1v6.9h-264.1zM326.2 -151.7h50.6v6.9h-50.6zM-369.1 -158.2h120.6v6.8h-120.6zM-157.2 -158.2h238.3v6.8h-238.3zM344.8 -158.2h24.3v6.8h-24.3zM-317.4 -164.6h74.4v6.7h-74.4zM-109.1 -164.6h128.9v6.7h-128.9zM-295.4 -170.9h53.3v6.6h-53.3zM-101.7 -170.9h67.8v6.6h-67.8zM-14.5 -170.9h4.8v6.6h-4.8zM0 -170.9h19.4v6.6h-19.4zM-89.7 -177.1h18.9v6.5h-18.9zM4.7 -177.1h9.4v6.5h-9.4z"/><path fill="#46307e" d="M-335.3 177.1h670.5v6.3h-670.5zM-344.1 170.9h688.2v6.5h-688.2zM-352.7 164.6h705.4v6.6h-705.4zM-361 158.2h722.1v6.7h-722.1zM-369.1 151.7h738.2v6.8h-738.2zM-376.8 145.1h753.6v6.9h-753.6zM-384.1 138.4h768.2v7h-768.2zM-390.8 131.7h781.6v7.1h-781.6zM-397 124.8h794.1v7.1h-794.1zM-403 118h805.9v7.2h-805.9zM-408.6 111.1h817.2v7.2h-817.2zM-413.8 104.2h827.5v7.2h-827.5zM-418.4 97.3h836.8v7.2h-836.8zM-422.6 90.3h416.8v7.2h-416.8zM69.8 90.3h116.3v7.2h-116.3zM337.2 90.3h85.4v7.2h-85.4zM-426.5 83.4h162.4v7.2h-162.4zM-164.3 83.4h123.2v7.2h-123.2zM88 83.4h70.4v7.2h-70.4zM357.9 83.4h68.5v7.2h-68.5zM-429.8 76.4h145.9v7.2h-145.9zM-153.8 76.4h88.7v7.2h-88.7zM100.5 76.4h29.6v7.2h-29.6zM366.7 76.4h63.1v7.2h-63.1zM-432.7 69.5h129v7.2h-129zM-148.9 69.5h59.5v7.2h-59.5zM101.2 69.5h23.8v7.2h-23.8zM363.2 69.5h69.5v7.2h-69.5zM-435.1 62.5h123.7v7.2h-123.7zM-149.7 62.5h47.9v7.2h-47.9zM101.8 62.5h23.9v7.2h-23.9zM359.2 62.5h75.8v7.2h-75.8zM-437.1 55.6h118.3v7.2h-118.3zM-156.4 55.6h54.1v7.2h-54.1zM102.3 55.6h30.1v7.2h-30.1zM354.9 55.6h82.2v7.2h-82.2zM-439 48.6h112.7v7.2h-112.7zM-163.1 48.6h60.4v7.2h-60.4zM90.6 48.6h90.6v7.2h-90.6zM350.4 48.6h88.6v7.2h-88.6zM-440.7 41.7h107.1v7.2h-107.1zM-169.8 41.7h66.7v7.2h-66.7zM72.8 41.7h206.2v7.2h-206.2zM345.7 41.7h95v7.2h-95zM-442.2 34.7h107.5v7.2h-107.5zM-182.6 34.7h79.1v7.2h-79.1zM48.7 34.7h393.5v7.2h-393.5zM-443.4 27.8h107.7v7.2h-107.7zM-195.3 27.8h91.5v7.2h-91.5zM30.5 27.8h412.9v7.2h-412.9zM-444.3 20.8h126.3v7.2h-126.3zM-214 20.8h116.2v7.2h-116.2zM18.3 20.8h426v7.2h-426zM-445 13.9h359.3v7.2h-359.3zM-61.3 13.9h24.5v7.2h-24.5zM0 13.9h445v7.2h-445zM-445.5 6.9h891v7.2h-891zM-445.8 0h891.6v7.2h-891.6zM-445.8 -6.9h891.6v7.2h-891.6zM-445.5 -13.9h891v7.2h-891zM-445 -20.8h890v7.2h-890zM-444.3 -27.8h340.3v7.2h-340.3zM-55 -27.8h159v7.2h-159zM189.6 -27.8h254.7v7.2h-254.7zM-195.3 -34.7h12.2v7.2h-12.2zM231.9 -34.7h48.8v7.2h-48.8zM286.8 -34.7h30.5v7.2h-30.5zM231.3 -41.7h36.5v7.2h-36.5zM230.5 -48.6h36.4v7.2h-36.4zM-380.6 -55.6h6v7.2h-6zM229.6 -55.6h42.3v7.2h-42.3zM-379 -62.5h6v7.2h-6zM234.6 -62.5h60.2v7.2h-60.2zM215.5 -69.5h95.8v7.2h-95.8zM-214.4 -76.4h35.7v7.2h-35.7zM208.4 -76.4h184.6v7.2h-184.6zM-429.8 -83.4h33.6v7.2h-33.6zM-218.8 -83.4h65.1v7.2h-65.1zM207 -83.4h222.8v7.2h-222.8zM-426.5 -90.3h74.4v7.2h-74.4zM-217.1 -90.3h93.9v7.2h-93.9zM240.6 -90.3h185.9v7.2h-185.9zM-422.6 -97.3h108.7v7.2h-108.7zM-221 -97.3h139.5v7.2h-139.5zM250 -97.3h172.6v7.2h-172.6zM-418.4 -104.2h136.4v7.2h-136.4zM-218.7 -104.2h276.3v7.2h-276.3zM161.2 -104.2h5.8v7.2h-5.8zM270.5 -104.2h147.9v7.2h-147.9zM-413.8 -111.1h140.6v7.2h-140.6zM-210.6 -111.1h301.6v7.2h-301.6zM278.9 -111.1h134.9v7.2h-134.9zM-408.6 -118h133.2v7.2h-133.2zM-202.3 -118h292.2v7.2h-292.2zM292.2 -118h116.4v7.2h-116.4zM-403 -124.8h131.4v7.2h-131.4zM-193.9 -124.8h277.1v7.2h-277.1zM299.2 -124.8h103.7v7.2h-103.7zM-397 -131.7h129.6v7.1h-129.6zM-185.6 -131.7h262v7.1h-262zM305.7 -131.7h91.3v7.1h-91.3zM-390.8 -138.4h127.6v7.1h-127.6zM-171.9 -138.4h231v7.1h-231zM327.7 -138.4h63.1v7.1h-63.1zM-384.1 -145.1h125.4v7h-125.4zM-153.1 -145.1h153.1v7h-153.1zM353.7 -145.1h30.4v7h-30.4zM-321 -151.7h67.3v6.9h-67.3zM-119.1 -151.7h113.9v6.9h-113.9zM-309.3 -158.2h60.8v6.8h-60.8zM-101.4 -158.2h71v6.8h-71zM-20.3 -158.2h15.2v6.8h-15.2zM5.1 -158.2h10.1v6.8h-10.1zM-302.5 -164.6h54.5v6.7h-54.5zM-99.2 -164.6h59.5v6.7h-59.5zM-14.9 -164.6h9.9v6.7h-9.9zM5 -164.6h9.9v6.7h-9.9zM-290.6 -170.9h43.6v6.6h-43.6zM-96.9 -170.9h24.2v6.6h-24.2zM4.8 -170.9h9.7v6.6h-9.7zM-85 -177.1h9.4v6.5h-9.4zM4.7 -177.1h9.4v6.5h-9.4z"/><path fill="#453882" d="M-344.1 170.9h688.2v6.5h-688.2zM-352.7 164.6h705.4v6.6h-705.4zM-361 158.2h722.1v6.7h-722.1zM-369.1 151.7h738.2v6.8h-738.2zM-376.8 145.1h753.6v6.9h-753.6zM-384.1 138.4h768.2v7h-768.2zM-390.8 131.7h781.6v7.1h-781.6zM-397 124.8h794.1v7.1h-794.1zM-403 118h805.9v7.2h-805.9zM-408.6 111.1h817.2v7.2h-817.2zM-413.8 104.2h827.5v7.2h-827.5zM-418.4 97.3h424.2v7.2h-424.2zM63.3 97.3h132.4v7.2h-132.4zM247.5 97.3h17.3v7.2h-17.3zM328.1 97.3h90.3v7.2h-90.3zM-422.6 90.3h172.6v7.2h-172.6zM-157 90.3h122.1v7.2h-122.1zM93 90.3h52.3v7.2h-52.3zM366.3 90.3h56.3v7.2h-56.3zM-426.5 83.4h150.7v7.2h-150.7zM-140.8 83.4h82.1v7.2h-82.1zM404.9 83.4h21.6v7.2h-21.6zM-429.8 76.4h134.1v7.2h-134.1zM-141.9 76.4h47.3v7.2h-47.3zM408.1 76.4h21.7v7.2h-21.7zM-432.7 69.5h123.1v7.2h-123.1zM-142.9 69.5h41.7v7.2h-41.7zM113.1 69.5h6v7.2h-6zM404.9 69.5h27.8v7.2h-27.8zM-435.1 62.5h117.8v7.2h-117.8zM-143.7 62.5h41.9v7.2h-41.9zM107.8 62.5h18v7.2h-18zM395.2 62.5h39.9v7.2h-39.9zM-437.1 55.6h106.3v7.2h-106.3zM-150.4 55.6h42.1v7.2h-42.1zM102.3 55.6h24.1v7.2h-24.1zM360.9 55.6h76.2v7.2h-76.2zM-439 48.6h106.7v7.2h-106.7zM-157.1 48.6h48.3v7.2h-48.3zM102.7 48.6h36.2v7.2h-36.2zM356.4 48.6h82.5v7.2h-82.5zM-440.7 41.7h101v7.2h-101zM-163.8 41.7h54.6v7.2h-54.6zM84.9 41.7h139.5v7.2h-139.5zM351.8 41.7h88.9v7.2h-88.9zM-442.2 34.7h101.4v7.2h-101.4zM-176.5 34.7h66.9v7.2h-66.9zM60.9 34.7h249.5v7.2h-249.5zM334.7 34.7h107.5v7.2h-107.5zM-443.4 27.8h101.6v7.2h-101.6zM-189.2 27.8h85.4v7.2h-85.4zM36.6 27.8h406.8v7.2h-406.8zM-444.3 20.8h120.2v7.2h-120.2zM-201.8 20.8h97.8v7.2h-97.8zM24.5 20.8h419.8v7.2h-419.8zM-445 13.9h353.1v7.2h-353.1zM12.3 13.9h432.8v7.2h-432.8zM-445.5 6.9h891v7.2h-891zM-445.8 0h891.6v7.2h-891.6zM-445.8 -6.9h891.6v7.2h-891.6zM-445.5 -13.9h891v7.2h-891zM-445 -20.8h555.3v7.2h-555.3zM177.6 -20.8h267.4v7.2h-267.4zM-444.3 -27.8h322v7.2h-322zM-36.7 -27.8h61.2v7.2h-61.2zM79.5 -27.8h18.3v7.2h-18.3zM189.6 -27.8h18.3v7.2h-18.3zM220.2 -27.8h224.2v7.2h-224.2zM238 -34.7h30.5v7.2h-30.5zM299 -34.7h12.2v7.2h-12.2zM237.4 -41.7h24.3v7.2h-24.3zM236.5 -48.6h24.3v7.2h-24.3zM-380.6 -55.6h6v7.2h-6zM235.6 -55.6h30.2v7.2h-30.2zM-379 -62.5h6v7.2h-6zM234.6 -62.5h54.1v7.2h-54.1zM215.5 -69.5h18v7.2h-18zM239.5 -69.5h65.9v7.2h-65.9zM-202.5 -76.4h11.9v7.2h-11.9zM208.4 -76.4h23.8v7.2h-23.8zM238.2 -76.4h89.3v7.2h-89.3zM333.4 -76.4h35.7v7.2h-35.7zM-429.8 -83.4h9.9v7.2h-9.9zM-212.9 -83.4h53.2v7.2h-53.2zM212.9 -83.4h11.8v7.2h-11.8zM242.5 -83.4h187.4v7.2h-187.4zM-426.5 -90.3h56.8v7.2h-56.8zM-217.1 -90.3h82.1v7.2h-82.1zM246.4 -90.3h180v7.2h-180zM-422.6 -97.3h91.2v7.2h-91.2zM-215.1 -97.3h110.5v7.2h-110.5zM267.5 -97.3h155.2v7.2h-155.2zM-418.4 -104.2h113.4v7.2h-113.4zM-213 -104.2h143.9v7.2h-143.9zM282 -104.2h136.4v7.2h-136.4zM-413.8 -111.1h129.2v7.2h-129.2zM-204.9 -111.1h239v7.2h-239zM290.3 -111.1h123.5v7.2h-123.5zM-408.6 -118h127.6v7.2h-127.6zM-196.7 -118h224.8v7.2h-224.8zM303.5 -118h105.2v7.2h-105.2zM-403 -124.8h125.9v7.2h-125.9zM-182.9 -124.8h155.2v7.2h-155.2zM310.3 -124.8h92.7v7.2h-92.7zM-397 -131.7h129.6v7.1h-129.6zM-169.2 -131.7h136.5v7.1h-136.5zM327.5 -131.7h69.5v7.1h-69.5zM-390.8 -138.4h127.6v7.1h-127.6zM-150.4 -138.4h112.8v7.1h-112.8zM360 -138.4h30.9v7.1h-30.9zM-322 -145.1h31.7v7h-31.7zM-285.1 -145.1h26.4v7h-26.4zM-121.4 -145.1h84.5v7h-84.5zM-279.6 -151.7h25.9v6.9h-25.9zM-98.4 -151.7h62.1v6.9h-62.1zM-15.5 -151.7h5.2v6.9h-5.2zM-299.2 -158.2h45.6v6.8h-45.6zM-96.3 -158.2h55.8v6.8h-55.8zM-15.2 -158.2h10.1v6.8h-10.1zM-297.5 -164.6h49.6v6.7h-49.6zM-94.2 -164.6h19.8v6.7h-19.8zM5 -164.6h9.9v6.7h-9.9zM-280.9 -170.9h19.4v6.6h-19.4zM-92 -170.9h19.4v6.6h-19.4zM4.8 -170.9h9.7v6.6h-9.7z"/><path fill="#424086" d="M-352.7 164.6h705.4v6.6h-705.4zM-361 158.2h722.1v6.7h-722.1zM-369.1 151.7h738.2v6.8h-738.2zM-376.8 145.1h753.6v6.9h-753.6zM-384.1 138.4h768.2v7h-768.2zM-390.8 131.7h781.6v7.1h-781.6zM-397 124.8h794.1v7.1h-794.1zM-403 118h805.9v7.2h-805.9zM-408.6 111.1h817.2v7.2h-817.2zM-413.8 104.2h442.2v7.2h-442.2zM45.5 104.2h239v7.2h-239zM330.1 104.2h83.7v7.2h-83.7zM-418.4 97.3h193.9v7.2h-193.9zM-172.7 97.3h5.8v7.2h-5.8zM-149.7 97.3h120.9v7.2h-120.9zM92.1 97.3h51.8v7.2h-51.8zM-407 90.3h139.5v7.2h-139.5zM-133.7 90.3h81.4v7.2h-81.4zM-410.7 83.4h123.2v7.2h-123.2zM-135 83.4h46.9v7.2h-46.9zM-419.9 76.4h118.3v7.2h-118.3zM-136 76.4h35.5v7.2h-35.5zM-432.7 69.5h117.1v7.2h-117.1zM-137 69.5h29.8v7.2h-29.8zM422.8 69.5h10v7.2h-10zM-435.1 62.5h105.8v7.2h-105.8zM-137.7 62.5h29.9v7.2h-29.9zM107.8 62.5h12v7.2h-12zM413.1 62.5h22v7.2h-22zM-437.1 55.6h100.2v7.2h-100.2zM-144.4 55.6h36.1v7.2h-36.1zM108.3 55.6h18v7.2h-18zM372.9 55.6h6v7.2h-6zM397 55.6h40.1v7.2h-40.1zM-439 48.6h100.7v7.2h-100.7zM-151 48.6h42.3v7.2h-42.3zM102.7 48.6h30.2v7.2h-30.2zM362.5 48.6h76.5v7.2h-76.5zM-440.7 41.7h95v7.2h-95zM-157.7 41.7h48.5v7.2h-48.5zM97 41.7h91v7.2h-91zM357.8 41.7h82.8v7.2h-82.8zM-442.2 34.7h95.3v7.2h-95.3zM-170.4 34.7h60.9v7.2h-60.9zM73 34.7h213v7.2h-213zM346.9 34.7h95.3v7.2h-95.3zM-443.4 27.8h95.5v7.2h-95.5zM-183.1 27.8h73.2v7.2h-73.2zM48.8 27.8h394.6v7.2h-394.6zM-444.3 20.8h108v7.2h-108zM-195.7 20.8h91.7v7.2h-91.7zM30.6 20.8h413.7v7.2h-413.7zM-445 13.9h144.9v7.2h-144.9zM-251.1 13.9h159.3v7.2h-159.3zM18.4 13.9h426.6v7.2h-426.6zM-445.5 6.9h408.7v7.2h-408.7zM0 6.9h445.5v7.2h-445.5zM-445.8 0h891.6v7.2h-891.6zM-445.8 -6.9h891.6v7.2h-891.6zM-445.5 -13.9h891v7.2h-891zM-445 -20.8h549.1v7.2h-549.1zM183.8 -20.8h261.3v7.2h-261.3zM-444.3 -27.8h309.8v7.2h-309.8zM-18.3 -27.8h18.3v7.2h-18.3zM85.6 -27.8h12.2v7.2h-12.2zM232.4 -27.8h211.9v7.2h-211.9zM244.1 -34.7h12.2v7.2h-12.2zM237.4 -41.7h18.3v7.2h-18.3zM236.5 -48.6h24.3v7.2h-24.3zM241.6 -55.6h18.1v7.2h-18.1zM240.6 -62.5h48.1v7.2h-48.1zM215.5 -69.5h12v7.2h-12zM239.5 -69.5h65.9v7.2h-65.9zM208.4 -76.4h23.8v7.2h-23.8zM244.1 -76.4h71.5v7.2h-71.5zM-207 -83.4h35.5v7.2h-35.5zM242.5 -83.4h171.5v7.2h-171.5zM-426.5 -90.3h39.2v7.2h-39.2zM-211.2 -90.3h64.5v7.2h-64.5zM252.3 -90.3h174.2v7.2h-174.2zM-422.6 -97.3h73.8v7.2h-73.8zM-209.3 -97.3h87.2v7.2h-87.2zM279.1 -97.3h143.5v7.2h-143.5zM-418.4 -104.2h101.8v7.2h-101.8zM-207.2 -104.2h115.1v7.2h-115.1zM287.8 -104.2h130.6v7.2h-130.6zM-413.8 -111.1h112.1v7.2h-112.1zM-204.9 -111.1h136.6v7.2h-136.6zM301.6 -111.1h112.1v7.2h-112.1zM-408.6 -118h122v7.2h-122zM-191.1 -118h134.9v7.2h-134.9zM314.7 -118h93.9v7.2h-93.9zM-403 -124.8h125.9v7.2h-125.9zM-177.3 -124.8h127.4v7.2h-127.4zM321.4 -124.8h81.6v7.2h-81.6zM-397 -131.7h124.1v7.1h-124.1zM-158.3 -131.7h109.2v7.1h-109.2zM349.4 -131.7h47.7v7.1h-47.7zM-338.5 -138.4h43v7.1h-43zM-284.7 -138.4h16.1v7.1h-16.1zM-128.9 -138.4h86v7.1h-86zM-279.8 -145.1h15.8v7h-15.8zM-100.3 -145.1h58.1v7h-58.1zM-274.4 -151.7h15.5v6.9h-15.5zM-88 -151.7h46.6v6.9h-46.6zM-289 -158.2h10.1v6.8h-10.1zM-268.7 -158.2h15.2v6.8h-15.2zM-91.3 -158.2h10.1v6.8h-10.1zM-55.8 -158.2h5.1v6.8h-5.1zM-292.6 -164.6h39.7v6.7h-39.7zM-94.2 -164.6h19.8v6.7h-19.8zM-92 -170.9h14.5v6.6h-14.5z"/><path fill="#3f4788" d="M-317.4 158.2h178.5v6.7h-178.5zM9.9 158.2h218.2v6.7h-218.2zM-369.1 151.7h738.2v6.8h-738.2zM-376.8 145.1h753.6v6.9h-753.6zM-384.1 138.4h768.2v7h-768.2zM-390.8 131.7h781.6v7.1h-781.6zM-397 124.8h794.1v7.1h-794.1zM-403 118h805.9v7.2h-805.9zM-399 111.1h674.3v7.2h-674.3zM370.9 111.1h16.9v7.2h-16.9zM-387 104.2h182.1v7.2h-182.1zM-176.4 104.2h17.1v7.2h-17.1zM-136.6 104.2h108.1v7.2h-108.1zM85.4 104.2h74v7.2h-74zM381.3 104.2h5.7v7.2h-5.7zM-385.6 97.3h138.1v7.2h-138.1zM-126.6 97.3h80.6v7.2h-80.6zM-389.6 90.3h110.5v7.2h-110.5zM-127.9 90.3h58.1v7.2h-58.1zM-399 83.4h99.8v7.2h-99.8zM-129.1 83.4h23.5v7.2h-23.5zM-408.1 76.4h94.6v7.2h-94.6zM-136 76.4h29.6v7.2h-29.6zM-422.8 69.5h101.2v7.2h-101.2zM-137 69.5h29.8v7.2h-29.8zM-435.1 62.5h99.8v7.2h-99.8zM-137.7 62.5h29.9v7.2h-29.9zM425.1 62.5h10v7.2h-10zM-437.1 55.6h94.2v7.2h-94.2zM-138.4 55.6h24.1v7.2h-24.1zM108.3 55.6h12v7.2h-12zM415.1 55.6h22v7.2h-22zM-439 48.6h94.6v7.2h-94.6zM-151 48.6h36.2v7.2h-36.2zM102.7 48.6h24.2v7.2h-24.2zM368.5 48.6h70.5v7.2h-70.5zM-440.7 41.7h88.9v7.2h-88.9zM-157.7 41.7h42.5v7.2h-42.5zM103.1 41.7h30.3v7.2h-30.3zM357.8 41.7h82.8v7.2h-82.8zM-442.2 34.7h89.2v7.2h-89.2zM-164.3 34.7h48.7v7.2h-48.7zM79.1 34.7h182.6v7.2h-182.6zM353 34.7h89.2v7.2h-89.2zM-443.4 27.8h89.4v7.2h-89.4zM-177 27.8h67.1v7.2h-67.1zM54.9 27.8h388.5v7.2h-388.5zM-444.3 20.8h101.8v7.2h-101.8zM-195.7 20.8h85.6v7.2h-85.6zM36.7 20.8h407.6v7.2h-407.6zM-445 13.9h132.6v7.2h-132.6zM-232.8 13.9h6.1v7.2h-6.1zM-202.1 13.9h104.1v7.2h-104.1zM24.5 13.9h420.5v7.2h-420.5zM-445.5 6.9h365.8v7.2h-365.8zM12.3 6.9h433.2v7.2h-433.2zM-445.8 0h891.6v7.2h-891.6zM-445.8 -6.9h891.6v7.2h-891.6zM-445.5 -13.9h555.9v7.2h-555.9zM177.8 -13.9h267.7v7.2h-267.7zM-445 -20.8h549.1v7.2h-549.1zM189.9 -20.8h255.1v7.2h-255.1zM-444.3 -27.8h260.8v7.2h-260.8zM-171.2 -27.8h24.5v7.2h-24.5zM238.5 -27.8h205.8v7.2h-205.8zM242.6 -48.6h12.1v7.2h-12.1zM246.6 -62.5h36.1v7.2h-36.1zM245.5 -69.5h53.9v7.2h-53.9zM214.4 -76.4h11.9v7.2h-11.9zM244.1 -76.4h65.5v7.2h-65.5zM-201.1 -83.4h17.7v7.2h-17.7zM248.4 -83.4h147.9v7.2h-147.9zM-426.5 -90.3h21.6v7.2h-21.6zM-211.2 -90.3h58.7v7.2h-58.7zM258.2 -90.3h168.3v7.2h-168.3zM-422.6 -97.3h62.1v7.2h-62.1zM-209.3 -97.3h81.4v7.2h-81.4zM284.9 -97.3h137.7v7.2h-137.7zM-418.4 -104.2h90.3v7.2h-90.3zM-207.2 -104.2h103.6v7.2h-103.6zM293.5 -104.2h124.9v7.2h-124.9zM-413.8 -111.1h100.8v7.2h-100.8zM-199.2 -111.1h113.8v7.2h-113.8zM313 -111.1h100.8v7.2h-100.8zM-408.6 -118h99.5v7.2h-99.5zM-185.4 -118h112.4v7.2h-112.4zM320.3 -118h88.3v7.2h-88.3zM-403 -124.8h98.2v7.2h-98.2zM-288.1 -124.8h5.5v7.2h-5.5zM-166.2 -124.8h105.3v7.2h-105.3zM332.5 -124.8h70.5v7.2h-70.5zM-397 -131.7h96.8v7.1h-96.8zM-289.3 -131.7h16.4v7.1h-16.4zM-147.4 -131.7h92.8v7.1h-92.8zM371.2 -131.7h25.8v7.1h-25.8zM-284.7 -138.4h16.1v7.1h-16.1zM-112.8 -138.4h59.1v7.1h-59.1zM-279.8 -145.1h15.8v7h-15.8zM-89.7 -145.1h42.2v7h-42.2zM-274.4 -151.7h15.5v6.9h-15.5zM-67.3 -151.7h15.5v6.9h-15.5zM-263.7 -158.2h5.1v6.8h-5.1zM-287.6 -164.6h19.8v6.7h-19.8zM-89.3 -164.6h9.9v6.7h-9.9zM-87.2 -170.9h9.7v6.6h-9.7z"/><path fill="#3d4e8a" d="M-278.9 151.7h101.4v6.8h-101.4zM-152.1 151.7h5.1v6.8h-5.1zM65.9 151.7h111.6v6.8h-111.6zM-310.7 145.1h139.8v6.9h-139.8zM-160.5 145.1h15.5v6.9h-15.5zM10.4 145.1h227.8v6.9h-227.8zM-332.6 138.4h184.8v7h-184.8zM-21.1 138.4h290.3v7h-290.3zM-349.2 131.7h198.8v7.1h-198.8zM-96.7 131.7h381.4v7.1h-381.4zM354.6 131.7h16.1v7.1h-16.1zM-354.8 124.8h202v7.1h-202zM-114.6 124.8h393v7.1h-393zM360.3 124.8h16.4v7.1h-16.4zM-354.6 118h171.8v7.2h-171.8zM-171.8 118h16.6v7.2h-16.6zM-116.4 118h88.7v7.2h-88.7zM22.2 118h227.2v7.2h-227.2zM365.7 118h16.6v7.2h-16.6zM-359.6 111.1h157.3v7.2h-157.3zM-174.2 111.1h16.9v7.2h-16.9zM-118 111.1h78.7v7.2h-78.7zM78.7 111.1h101.2v7.2h-101.2zM376.5 111.1h11.2v7.2h-11.2zM-364.2 104.2h136.6v7.2h-136.6zM-170.7 104.2h5.7v7.2h-5.7zM-113.8 104.2h68.3v7.2h-68.3zM-374.1 97.3h109.4v7.2h-109.4zM-109.4 97.3h46v7.2h-46zM-377.9 90.3h93v7.2h-93zM-393.1 83.4h88v7.2h-88zM-123.2 83.4h11.7v7.2h-11.7zM-402.2 76.4h82.8v7.2h-82.8zM-130.1 76.4h17.7v7.2h-17.7zM-416.8 69.5h89.3v7.2h-89.3zM-131 69.5h23.8v7.2h-23.8zM-425.1 62.5h89.8v7.2h-89.8zM-131.7 62.5h18v7.2h-18zM-437.1 55.6h88.2v7.2h-88.2zM-132.3 55.6h18v7.2h-18zM108.3 55.6h12v7.2h-12zM421.1 55.6h16v7.2h-16zM-439 48.6h88.6v7.2h-88.6zM-145 48.6h24.2v7.2h-24.2zM108.7 48.6h18.1v7.2h-18.1zM398.7 48.6h40.2v7.2h-40.2zM-440.7 41.7h82.8v7.2h-82.8zM-151.6 41.7h36.4v7.2h-36.4zM103.1 41.7h24.3v7.2h-24.3zM363.9 41.7h76.8v7.2h-76.8zM-442.2 34.7h83.1v7.2h-83.1zM-164.3 34.7h48.7v7.2h-48.7zM97.4 34.7h146.1v7.2h-146.1zM359.1 34.7h83.1v7.2h-83.1zM-443.4 27.8h77.2v7.2h-77.2zM-177 27.8h61v7.2h-61zM67.1 27.8h244.1v7.2h-244.1zM329.5 27.8h113.8v7.2h-113.8zM-444.3 20.8h89.6v7.2h-89.6zM-189.6 20.8h79.5v7.2h-79.5zM42.8 20.8h401.5v7.2h-401.5zM-445 13.9h126.5v7.2h-126.5zM-202.1 13.9h104.1v7.2h-104.1zM30.6 13.9h414.4v7.2h-414.4zM-445.5 6.9h230.9v7.2h-230.9zM-208.5 6.9h122.6v7.2h-122.6zM18.4 6.9h427.1v7.2h-427.1zM-445.8 0h891.6v7.2h-891.6zM-445.8 -6.9h151.3v7.2h-151.3zM-282.3 -6.9h405v7.2h-405zM128.9 -6.9h317v7.2h-317zM-445.5 -13.9h549.7v7.2h-549.7zM184 -13.9h261.5v7.2h-261.5zM-445 -20.8h328.6v7.2h-328.6zM-73.5 -20.8h171.5v7.2h-171.5zM189.9 -20.8h18.4v7.2h-18.4zM226.6 -20.8h218.4v7.2h-218.4zM-444.3 -27.8h211.9v7.2h-211.9zM-195.7 -27.8h12.2v7.2h-12.2zM244.6 -27.8h6.1v7.2h-6.1zM293.5 -27.8h24.5v7.2h-24.5zM324.1 -27.8h120.2v7.2h-120.2zM258.7 -62.5h18v7.2h-18zM251.5 -69.5h47.9v7.2h-47.9zM214.4 -76.4h11.9v7.2h-11.9zM244.1 -76.4h59.5v7.2h-59.5zM248.4 -83.4h130.1v7.2h-130.1zM-426.5 -90.3h9.9v7.2h-9.9zM-205.4 -90.3h41.1v7.2h-41.1zM258.2 -90.3h168.3v7.2h-168.3zM-422.6 -97.3h50.5v7.2h-50.5zM-203.5 -97.3h64v7.2h-64zM290.7 -97.3h131.9v7.2h-131.9zM-418.4 -104.2h78.8v7.2h-78.8zM-201.5 -104.2h86.3v7.2h-86.3zM299.3 -104.2h119.1v7.2h-119.1zM-413.8 -111.1h95.1v7.2h-95.1zM-193.5 -111.1h102.4v7.2h-102.4zM318.7 -111.1h95.1v7.2h-95.1zM-408.6 -118h93.9v7.2h-93.9zM-179.8 -118h95.5v7.2h-95.5zM325.9 -118h82.7v7.2h-82.7zM-403 -124.8h92.7v7.2h-92.7zM-160.7 -124.8h88.7v7.2h-88.7zM349.1 -124.8h53.9v7.2h-53.9zM-338.5 -131.7h27.3v7.1h-27.3zM-283.9 -131.7h5.5v7.1h-5.5zM-131 -131.7h65.5v7.1h-65.5zM-284.7 -138.4h16.1v7.1h-16.1zM-102.1 -138.4h43v7.1h-43zM-279.8 -145.1h15.8v7h-15.8zM-73.9 -145.1h15.8v7h-15.8zM-269.2 -151.7h10.4v6.9h-10.4zM-263.7 -158.2h5.1v6.8h-5.1zM-282.7 -164.6h9.9v6.7h-9.9z"/><path fill="#39558c" d="M-253.7 145.1h57v6.9h-57zM-155.3 145.1h5.2v6.9h-5.2zM-290.3 138.4h100.3v7h-100.3zM-163.6 138.4h10.6v7h-10.6zM58.1 138.4h137.3v7h-137.3zM-311.6 131.7h123.6v7.1h-123.6zM-166.5 131.7h16.1v7.1h-16.1zM37.6 131.7h188v7.1h-188zM360 131.7h5.4v7.1h-5.4zM-322.1 124.8h131v7.1h-131zM-169.2 124.8h16.4v7.1h-16.4zM43.7 124.8h174.7v7.1h-174.7zM365.7 124.8h10.9v7.1h-10.9zM-332.5 118h127.4v7.2h-127.4zM-171.8 118h16.6v7.2h-16.6zM-88.7 118h27.7v7.2h-27.7zM83.1 118h94.2v7.2h-94.2zM371.3 118h11.1v7.2h-11.1zM-342.8 111.1h123.6v7.2h-123.6zM-168.6 111.1h5.6v7.2h-5.6zM-101.2 111.1h45v7.2h-45zM376.5 111.1h5.6v7.2h-5.6zM-352.9 104.2h108.1v7.2h-108.1zM-96.8 104.2h34.1v7.2h-34.1zM-362.6 97.3h86.3v7.2h-86.3zM-372.1 90.3h75.6v7.2h-75.6zM-381.4 83.4h70.4v7.2h-70.4zM-396.3 76.4h71v7.2h-71zM-130.1 76.4h17.7v7.2h-17.7zM-404.9 69.5h71.5v7.2h-71.5zM-131 69.5h17.9v7.2h-17.9zM-419.1 62.5h77.8v7.2h-77.8zM-131.7 62.5h18v7.2h-18zM-437.1 55.6h88.2v7.2h-88.2zM-132.3 55.6h12v7.2h-12zM-439 48.6h82.5v7.2h-82.5zM-138.9 48.6h18.1v7.2h-18.1zM108.7 48.6h12.1v7.2h-12.1zM410.8 48.6h28.2v7.2h-28.2zM-440.7 41.7h76.8v7.2h-76.8zM-151.6 41.7h30.3v7.2h-30.3zM109.2 41.7h18.2v7.2h-18.2zM370 41.7h70.7v7.2h-70.7zM-442.2 34.7h77v7.2h-77zM-158.2 34.7h42.6v7.2h-42.6zM103.5 34.7h30.4v7.2h-30.4zM146.1 34.7h73v7.2h-73zM359.1 34.7h83.1v7.2h-83.1zM-443.4 27.8h71.1v7.2h-71.1zM-170.9 27.8h54.9v7.2h-54.9zM73.2 27.8h219.7v7.2h-219.7zM341.7 27.8h101.6v7.2h-101.6zM-444.3 20.8h65.2v7.2h-65.2zM-183.5 20.8h73.4v7.2h-73.4zM48.9 20.8h395.4v7.2h-395.4zM-445 13.9h59.1v7.2h-59.1zM-373.6 13.9h42.9v7.2h-42.9zM-196 13.9h91.9v7.2h-91.9zM30.6 13.9h414.4v7.2h-414.4zM-445.5 6.9h53.1v7.2h-53.1zM-374.1 6.9h85.8v7.2h-85.8zM-282.1 6.9h61.3v7.2h-61.3zM-202.4 6.9h116.5v7.2h-116.5zM24.5 6.9h421v7.2h-421zM-445.8 0h34.7v7.2h-34.7zM-362 0h12.3v7.2h-12.3zM-245.5 0h24.5v7.2h-24.5zM-208.6 0h190.2v7.2h-190.2zM6.1 0h439.7v7.2h-439.7zM-445.8 -6.9h71.5v7.2h-71.5zM-239.3 -6.9h349.8v7.2h-349.8zM178 -6.9h267.9v7.2h-267.9zM-445.5 -13.9h549.7v7.2h-549.7zM190.1 -13.9h255.4v7.2h-255.4zM-445 -20.8h322.5v7.2h-322.5zM-55.1 -20.8h91.9v7.2h-91.9zM79.6 -20.8h18.4v7.2h-18.4zM196 -20.8h6.1v7.2h-6.1zM232.8 -20.8h212.3v7.2h-212.3zM-444.3 -27.8h199.7v7.2h-199.7zM-195.7 -27.8h12.2v7.2h-12.2zM299.7 -27.8h12.2v7.2h-12.2zM336.3 -27.8h108v7.2h-108zM251.5 -69.5h47.9v7.2h-47.9zM214.4 -76.4h11.9v7.2h-11.9zM250.1 -76.4h53.6v7.2h-53.6zM248.4 -83.4h88.7v7.2h-88.7zM-199.5 -90.3h29.3v7.2h-29.3zM269.9 -90.3h146.7v7.2h-146.7zM-422.6 -97.3h33.1v7.2h-33.1zM-197.7 -97.3h52.3v7.2h-52.3zM290.7 -97.3h131.9v7.2h-131.9zM-418.4 -104.2h67.3v7.2h-67.3zM-195.7 -104.2h74.8v7.2h-74.8zM305.1 -104.2h113.4v7.2h-113.4zM-413.8 -111.1h89.4v7.2h-89.4zM-187.8 -111.1h85.4v7.2h-85.4zM324.4 -111.1h89.4v7.2h-89.4zM-408.6 -118h88.3v7.2h-88.3zM-168.6 -118h78.7v7.2h-78.7zM331.5 -118h77.1v7.2h-77.1zM-403 -124.8h87.1v7.2h-87.1zM-149.6 -124.8h66.5v7.2h-66.5zM360.2 -124.8h42.8v7.2h-42.8zM-283.9 -131.7h5.5v7.1h-5.5zM-114.6 -131.7h38.2v7.1h-38.2zM-279.4 -138.4h10.7v7.1h-10.7zM-274.5 -145.1h10.6v7h-10.6zM-269.2 -151.7h5.2v6.9h-5.2z"/><path fill="#365c8d" d="M-248.1 138.4h37v7h-37zM-158.4 138.4h5.3v7h-5.3zM-284.7 131.7h80.6v7.1h-80.6zM-166.5 131.7h10.7v7.1h-10.7zM107.4 131.7h43v7.1h-43zM360 131.7h5.4v7.1h-5.4zM-300.2 124.8h92.8v7.1h-92.8zM-169.2 124.8h10.9v7.1h-10.9zM365.7 124.8h10.9v7.1h-10.9zM-315.8 118h99.7v7.2h-99.7zM-171.8 118h11.1v7.2h-11.1zM371.3 118h11.1v7.2h-11.1zM-325.9 111.1h89.9v7.2h-89.9zM-168.6 111.1h5.6v7.2h-5.6zM376.5 111.1h5.6v7.2h-5.6zM-341.5 104.2h79.7v7.2h-79.7zM-351.1 97.3h63.3v7.2h-63.3zM-360.5 90.3h52.3v7.2h-52.3zM-375.5 83.4h52.8v7.2h-52.8zM-390.4 76.4h59.1v7.2h-59.1zM-124.2 76.4h11.8v7.2h-11.8zM-398.9 69.5h59.5v7.2h-59.5zM-131 69.5h17.9v7.2h-17.9zM-413.1 62.5h65.9v7.2h-65.9zM-131.7 62.5h18v7.2h-18zM-427.1 55.6h72.2v7.2h-72.2zM-439 48.6h76.5v7.2h-76.5zM108.7 48.6h12.1v7.2h-12.1zM422.9 48.6h16.1v7.2h-16.1zM-440.7 41.7h70.7v7.2h-70.7zM-145.6 41.7h18.2v7.2h-18.2zM109.2 41.7h18.2v7.2h-18.2zM400.3 41.7h40.4v7.2h-40.4zM-442.2 34.7h70.9v7.2h-70.9zM-158.2 34.7h36.5v7.2h-36.5zM109.5 34.7h18.3v7.2h-18.3zM365.2 34.7h77v7.2h-77zM-443.4 27.8h65v7.2h-65zM-164.8 27.8h48.8v7.2h-48.8zM79.3 27.8h189.2v7.2h-189.2zM347.8 27.8h95.5v7.2h-95.5zM-444.3 20.8h59v7.2h-59zM-183.5 20.8h67.3v7.2h-67.3zM55 20.8h389.3v7.2h-389.3zM-445 13.9h46.9v7.2h-46.9zM-367.5 13.9h24.5v7.2h-24.5zM-196 13.9h91.9v7.2h-91.9zM36.8 13.9h408.3v7.2h-408.3zM-445.5 6.9h34.7v7.2h-34.7zM-367.9 6.9h49.1v7.2h-49.1zM-245.3 6.9h18.4v7.2h-18.4zM-202.4 6.9h110.4v7.2h-110.4zM24.5 6.9h421v7.2h-421zM-445.8 0h16.3v7.2h-16.3zM-202.5 0h171.8v7.2h-171.8zM18.4 0h92v7.2h-92zM141.1 0h304.7v7.2h-304.7zM-445.8 -6.9h28.5v7.2h-28.5zM-220.9 -6.9h325.2v7.2h-325.2zM190.2 -6.9h255.6v7.2h-255.6zM-445.5 -13.9h543.6v7.2h-543.6zM196.2 -13.9h12.3v7.2h-12.3zM226.9 -13.9h218.6v7.2h-218.6zM-445 -20.8h322.5v7.2h-322.5zM-49 -20.8h79.6v7.2h-79.6zM238.9 -20.8h206.1v7.2h-206.1zM-444.3 -27.8h187.5v7.2h-187.5zM-195.7 -27.8h12.2v7.2h-12.2zM299.7 -27.8h6.1v7.2h-6.1zM348.6 -27.8h95.7v7.2h-95.7zM251.5 -69.5h41.9v7.2h-41.9zM214.4 -76.4h11.9v7.2h-11.9zM250.1 -76.4h53.6v7.2h-53.6zM254.3 -83.4h71v7.2h-71zM281.7 -90.3h123.2v7.2h-123.2zM-422.6 -97.3h21.4v7.2h-21.4zM-197.7 -97.3h40.7v7.2h-40.7zM296.5 -97.3h126.1v7.2h-126.1zM-418.4 -104.2h55.8v7.2h-55.8zM-189.9 -104.2h57.6v7.2h-57.6zM310.8 -104.2h107.6v7.2h-107.6zM-413.8 -111.1h78v7.2h-78zM-182.1 -111.1h68.3v7.2h-68.3zM330.1 -111.1h83.7v7.2h-83.7zM-408.6 -118h82.7v7.2h-82.7zM-163 -118h61.8v7.2h-61.8zM342.8 -118h65.8v7.2h-65.8zM-343.6 -124.8h22.2v7.2h-22.2zM-138.5 -124.8h44.3v7.2h-44.3zM-279.4 -138.4h5.4v7.1h-5.4zM-274.5 -145.1h5.3v7h-5.3zM-269.2 -151.7h5.2v6.9h-5.2z"/><path fill="#33638d" d="M-241.8 131.7h5.4v7.1h-5.4zM-161.2 131.7h5.4v7.1h-5.4zM-278.4 124.8h49.1v7.1h-49.1zM-163.8 124.8h5.5v7.1h-5.5zM365.7 124.8h5.5v7.1h-5.5zM-299.2 118h61v7.2h-61zM-166.2 118h5.5v7.2h-5.5zM371.3 118h5.5v7.2h-5.5zM-314.7 111.1h61.8v7.2h-61.8zM376.5 111.1h5.6v7.2h-5.6zM-324.4 104.2h45.5v7.2h-45.5zM-333.8 97.3h34.5v7.2h-34.5zM-348.9 90.3h29.1v7.2h-29.1zM-363.8 83.4h35.2v7.2h-35.2zM-378.5 76.4h41.4v7.2h-41.4zM-393 69.5h47.6v7.2h-47.6zM-125 69.5h11.9v7.2h-11.9zM-407.1 62.5h53.9v7.2h-53.9zM-125.7 62.5h6v7.2h-6zM-421.1 55.6h60.2v7.2h-60.2zM-439 48.6h70.5v7.2h-70.5zM114.8 48.6h6v7.2h-6zM428.9 48.6h10v7.2h-10zM-440.7 41.7h64.7v7.2h-64.7zM-139.5 41.7h12.1v7.2h-12.1zM109.2 41.7h12.1v7.2h-12.1zM412.4 41.7h28.3v7.2h-28.3zM-442.2 34.7h64.9v7.2h-64.9zM-152.1 34.7h30.4v7.2h-30.4zM109.5 34.7h18.3v7.2h-18.3zM377.3 34.7h64.9v7.2h-64.9zM-443.4 27.8h58.9v7.2h-58.9zM-164.8 27.8h42.7v7.2h-42.7zM109.8 27.8h18.3v7.2h-18.3zM140.4 27.8h115.9v7.2h-115.9zM353.9 27.8h89.4v7.2h-89.4zM-444.3 20.8h46.8v7.2h-46.8zM-177.3 20.8h61.2v7.2h-61.2zM61.2 20.8h383.1v7.2h-383.1zM-445 13.9h34.6v7.2h-34.6zM-189.9 13.9h79.6v7.2h-79.6zM42.9 13.9h402.1v7.2h-402.1zM-445.5 6.9h22.4v7.2h-22.4zM-361.8 6.9h24.5v7.2h-24.5zM-196.2 6.9h104.2v7.2h-104.2zM30.7 6.9h85.8v7.2h-85.8zM128.8 6.9h316.7v7.2h-316.7zM-202.5 0h165.7v7.2h-165.7zM24.5 0h79.8v7.2h-79.8zM171.8 0h263.9v7.2h-263.9zM-208.6 -6.9h306.8v7.2h-306.8zM202.5 -6.9h243.3v7.2h-243.3zM-445.5 -13.9h543.6v7.2h-543.6zM233 -13.9h212.5v7.2h-212.5zM-445 -20.8h316.4v7.2h-316.4zM-36.8 -20.8h61.3v7.2h-61.3zM238.9 -20.8h12.3v7.2h-12.3zM269.5 -20.8h175.5v7.2h-175.5zM-444.3 -27.8h181.3v7.2h-181.3zM-195.7 -27.8h12.2v7.2h-12.2zM360.8 -27.8h83.5v7.2h-83.5zM257.5 -69.5h35.9v7.2h-35.9zM250.1 -76.4h47.6v7.2h-47.6zM254.3 -83.4h59.1v7.2h-59.1zM293.4 -90.3h93.9v7.2h-93.9zM-422.6 -97.3h9.8v7.2h-9.8zM-186.1 -97.3h23.3v7.2h-23.3zM296.5 -97.3h126.1v7.2h-126.1zM-418.4 -104.2h44.3v7.2h-44.3zM-184.2 -104.2h46v7.2h-46zM322.3 -104.2h96.1v7.2h-96.1zM-413.8 -111.1h66.6v7.2h-66.6zM-176.4 -111.1h56.9v7.2h-56.9zM335.8 -111.1h78v7.2h-78zM-408.6 -118h71.4v7.2h-71.4zM-157.3 -118h45v7.2h-45zM354 -118h54.6v7.2h-54.6zM-274.5 -145.1h5.3v7h-5.3z"/><path fill="#30698e" d="M-161.2 131.7h5.4v7.1h-5.4zM-163.8 124.8h5.5v7.1h-5.5zM365.7 124.8h5.5v7.1h-5.5zM-166.2 118h5.5v7.2h-5.5zM371.3 118h5.5v7.2h-5.5zM-366.7 76.4h17.7v7.2h-17.7zM-387 69.5h29.8v7.2h-29.8zM-125 69.5h6v7.2h-6zM-401.2 62.5h41.9v7.2h-41.9zM-415.1 55.6h48.1v7.2h-48.1zM-428.9 48.6h54.4v7.2h-54.4zM-440.7 41.7h64.7v7.2h-64.7zM109.2 41.7h12.1v7.2h-12.1zM424.6 41.7h16.1v7.2h-16.1zM-442.2 34.7h58.8v7.2h-58.8zM-152.1 34.7h24.3v7.2h-24.3zM109.5 34.7h12.2v7.2h-12.2zM401.7 34.7h40.5v7.2h-40.5zM-443.4 27.8h46.7v7.2h-46.7zM-158.7 27.8h36.6v7.2h-36.6zM109.8 27.8h18.3v7.2h-18.3zM164.8 27.8h79.3v7.2h-79.3zM360 27.8h83.3v7.2h-83.3zM-444.3 20.8h40.7v7.2h-40.7zM-177.3 20.8h61.2v7.2h-61.2zM67.3 20.8h30.6v7.2h-30.6zM110.1 20.8h18.3v7.2h-18.3zM140.7 20.8h303.7v7.2h-303.7zM-445 13.9h22.4v7.2h-22.4zM-189.9 13.9h79.6v7.2h-79.6zM49 13.9h61.3v7.2h-61.3zM134.8 13.9h310.3v7.2h-310.3zM-445.5 6.9h10.1v7.2h-10.1zM-196.2 6.9h104.2v7.2h-104.2zM36.8 6.9h67.5v7.2h-67.5zM147.2 6.9h298.3v7.2h-298.3zM-202.5 0h159.5v7.2h-159.5zM30.7 0h73.6v7.2h-73.6zM190.2 0h233.2v7.2h-233.2zM-202.5 -6.9h300.7v7.2h-300.7zM220.9 -6.9h202.5v7.2h-202.5zM-445.5 -13.9h335.1v7.2h-335.1zM-98.1 -13.9h134.9v7.2h-134.9zM61.3 -13.9h30.7v7.2h-30.7zM233 -13.9h212.5v7.2h-212.5zM-445 -20.8h310.3v7.2h-310.3zM-30.6 -20.8h55.1v7.2h-55.1zM269.5 -20.8h18.4v7.2h-18.4zM294 -20.8h151v7.2h-151zM-385.3 -27.8h110.1v7.2h-110.1zM-195.7 -27.8h12.2v7.2h-12.2zM373 -27.8h55v7.2h-55zM257.5 -69.5h29.9v7.2h-29.9zM256 -76.4h41.7v7.2h-41.7zM260.2 -83.4h41.4v7.2h-41.4zM293.4 -90.3h46.9v7.2h-46.9zM346.2 -90.3h29.3v7.2h-29.3zM302.4 -97.3h110.5v7.2h-110.5zM-418.4 -104.2h27v7.2h-27zM-178.4 -104.2h28.8v7.2h-28.8zM333.8 -104.2h84.6v7.2h-84.6zM-413.8 -111.1h49.5v7.2h-49.5zM-165 -111.1h34.1v7.2h-34.1zM341.5 -111.1h72.3v7.2h-72.3zM-408.6 -118h26.5v7.2h-26.5zM359.6 -118h49v7.2h-49z"/><path fill="#2e6f8e" d="M-163.8 124.8h5.5v7.1h-5.5zM365.7 124.8h5.5v7.1h-5.5zM371.3 118h5.5v7.2h-5.5zM-389.2 62.5h18v7.2h-18zM-403 55.6h30.1v7.2h-30.1zM-422.9 48.6h42.3v7.2h-42.3zM-440.7 41.7h58.6v7.2h-58.6zM115.2 41.7h6.1v7.2h-6.1zM430.6 41.7h10.1v7.2h-10.1zM-442.2 34.7h52.7v7.2h-52.7zM-146.1 34.7h18.3v7.2h-18.3zM109.5 34.7h12.2v7.2h-12.2zM413.8 34.7h28.3v7.2h-28.3zM-443.4 27.8h40.6v7.2h-40.6zM-158.7 27.8h36.6v7.2h-36.6zM115.9 27.8h6.1v7.2h-6.1zM195.3 27.8h36.6v7.2h-36.6zM366.1 27.8h77.2v7.2h-77.2zM-444.3 20.8h28.5v7.2h-28.5zM-171.2 20.8h55v7.2h-55zM73.4 20.8h18.3v7.2h-18.3zM152.9 20.8h140.7v7.2h-140.7zM324.1 20.8h120.2v7.2h-120.2zM-445 13.9h10.1v7.2h-10.1zM-183.8 13.9h73.5v7.2h-73.5zM55.1 13.9h49v7.2h-49zM147 13.9h298v7.2h-298zM-196.2 6.9h98.1v7.2h-98.1zM42.9 6.9h61.3v7.2h-61.3zM165.6 6.9h263.7v7.2h-263.7zM-196.4 0h141.1v7.2h-141.1zM36.8 0h61.4v7.2h-61.4zM202.5 0h202.5v7.2h-202.5zM-202.5 -6.9h300.7v7.2h-300.7zM227 -6.9h178v7.2h-178zM-445.5 -13.9h329v7.2h-329zM-98.1 -13.9h134.9v7.2h-134.9zM239.1 -13.9h206.4v7.2h-206.4zM-445 -20.8h261.3v7.2h-261.3zM-171.5 -20.8h24.5v7.2h-24.5zM-24.5 -20.8h30.6v7.2h-30.6zM275.6 -20.8h12.3v7.2h-12.3zM300.1 -20.8h12.3v7.2h-12.3zM318.5 -20.8h126.5v7.2h-126.5zM-366.9 -27.8h85.6v7.2h-85.6zM-195.7 -27.8h12.2v7.2h-12.2zM385.3 -27.8h18.3v7.2h-18.3zM257.5 -69.5h29.9v7.2h-29.9zM256 -76.4h41.7v7.2h-41.7zM260.2 -83.4h35.5v7.2h-35.5zM299.3 -90.3h29.3v7.2h-29.3zM302.4 -97.3h104.7v7.2h-104.7zM-418.4 -104.2h15.5v7.2h-15.5zM339.6 -104.2h78.8v7.2h-78.8zM-413.8 -111.1h32.5v7.2h-32.5zM347.2 -111.1h66.6v7.2h-66.6zM376.5 -118h16.9v7.2h-16.9z"/><path fill="#2b758e" d="M365.7 124.8h5.5v7.1h-5.5zM371.3 118h5.5v7.2h-5.5zM-410.8 48.6h24.2v7.2h-24.2zM-430.6 41.7h36.4v7.2h-36.4zM-442.2 34.7h40.5v7.2h-40.5zM-140 34.7h6.1v7.2h-6.1zM115.6 34.7h6.1v7.2h-6.1zM426 34.7h16.2v7.2h-16.2zM-443.4 27.8h34.5v7.2h-34.5zM-158.7 27.8h36.6v7.2h-36.6zM408.9 27.8h34.5v7.2h-34.5zM-444.3 20.8h16.2v7.2h-16.2zM-171.2 20.8h48.9v7.2h-48.9zM171.2 20.8h104v7.2h-104zM330.2 20.8h114.1v7.2h-114.1zM-183.8 13.9h67.4v7.2h-67.4zM61.3 13.9h36.8v7.2h-36.8zM165.4 13.9h269.5v7.2h-269.5zM-190.1 6.9h92v7.2h-92zM42.9 6.9h55.2v7.2h-55.2zM184 6.9h226.9v7.2h-226.9zM-196.4 0h116.6v7.2h-116.6zM43 0h55.2v7.2h-55.2zM208.6 0h171.8v7.2h-171.8zM-196.4 -6.9h220.9v7.2h-220.9zM49.1 -6.9h43v7.2h-43zM233.2 -6.9h147.3v7.2h-147.3zM-445.5 -13.9h329v7.2h-329zM-85.8 -13.9h116.5v7.2h-116.5zM239.1 -13.9h18.4v7.2h-18.4zM263.7 -13.9h181.8v7.2h-181.8zM-445 -20.8h261.3v7.2h-261.3zM-165.4 -20.8h6.1v7.2h-6.1zM324.6 -20.8h120.4v7.2h-120.4zM-354.7 -27.8h67.3v7.2h-67.3zM263.4 -69.5h18v7.2h-18zM256 -76.4h41.7v7.2h-41.7zM260.2 -83.4h35.5v7.2h-35.5zM305.1 -90.3h23.5v7.2h-23.5zM308.2 -97.3h11.6v7.2h-11.6zM348.9 -97.3h46.5v7.2h-46.5zM345.3 -104.2h73.1v7.2h-73.1zM-413.8 -111.1h15.4v7.2h-15.4zM352.9 -111.1h60.9v7.2h-60.9z"/><path fill="#297b8e" d="M365.7 124.8h5.5v7.1h-5.5zM371.3 118h5.5v7.2h-5.5zM-418.5 41.7h12.1v7.2h-12.1zM-432.1 34.7h18.3v7.2h-18.3zM-443.4 27.8h16.2v7.2h-16.2zM-152.6 27.8h24.4v7.2h-24.4zM427.2 27.8h16.2v7.2h-16.2zM-171.2 20.8h48.9v7.2h-48.9zM189.6 20.8h73.4v7.2h-73.4zM336.3 20.8h61.2v7.2h-61.2zM-183.8 13.9h67.4v7.2h-67.4zM67.4 13.9h24.5v7.2h-24.5zM183.8 13.9h220.5v7.2h-220.5zM-190.1 6.9h92v7.2h-92zM49.1 6.9h49.1v7.2h-49.1zM196.2 6.9h196.2v7.2h-196.2zM-196.4 0h110.5v7.2h-110.5zM49.1 0h49.1v7.2h-49.1zM220.9 0h153.4v7.2h-153.4zM-196.4 -6.9h184.1v7.2h-184.1zM67.5 -6.9h18.4v7.2h-18.4zM233.2 -6.9h135v7.2h-135zM-445.5 -13.9h322.9v7.2h-322.9zM-79.7 -13.9h110.4v7.2h-110.4zM239.1 -13.9h12.3v7.2h-12.3zM263.7 -13.9h49.1v7.2h-49.1zM318.9 -13.9h126.6v7.2h-126.6zM-445 -20.8h261.3v7.2h-261.3zM324.6 -20.8h120.4v7.2h-120.4zM263.4 -69.5h18v7.2h-18zM256 -76.4h35.7v7.2h-35.7zM266.2 -83.4h23.7v7.2h-23.7zM305.1 -90.3h17.6v7.2h-17.6zM360.5 -97.3h11.6v7.2h-11.6zM351.1 -104.2h51.8v7.2h-51.8zM364.2 -111.1h39.8v7.2h-39.8z"/><path fill="#26828e" d="M371.3 118h5.5v7.2h-5.5zM-152.6 27.8h24.4v7.2h-24.4zM-165.1 20.8h42.8v7.2h-42.8zM195.7 20.8h55v7.2h-55zM342.5 20.8h42.8v7.2h-42.8zM-177.6 13.9h61.3v7.2h-61.3zM73.5 13.9h18.4v7.2h-18.4zM189.9 13.9h202.1v7.2h-202.1zM-190.1 6.9h92v7.2h-92zM61.3 6.9h30.7v7.2h-30.7zM202.4 6.9h184v7.2h-184zM-196.4 0h104.3v7.2h-104.3zM55.2 0h36.8v7.2h-36.8zM233.2 0h135v7.2h-135zM-196.4 -6.9h171.8v7.2h-171.8zM233.2 -6.9h128.9v7.2h-128.9zM-445.5 -13.9h108.2v7.2h-108.2zM-239.1 -13.9h116.5v7.2h-116.5zM-73.6 -13.9h104.2v7.2h-104.2zM239.1 -13.9h12.3v7.2h-12.3zM269.8 -13.9h36.8v7.2h-36.8zM318.9 -13.9h126.6v7.2h-126.6zM-445 -20.8h236.8v7.2h-236.8zM-196 -20.8h12.3v7.2h-12.3zM324.6 -20.8h120.4v7.2h-120.4zM262 -76.4h29.8v7.2h-29.8zM272.1 -83.4h11.8v7.2h-11.8zM311 -90.3h5.9v7.2h-5.9zM362.6 -104.2h28.8v7.2h-28.8z"/><path fill="#24878e" d="M371.3 118h5.5v7.2h-5.5zM-146.5 27.8h12.2v7.2h-12.2zM-165.1 20.8h42.8v7.2h-42.8zM207.9 20.8h24.5v7.2h-24.5zM354.7 20.8h24.5v7.2h-24.5zM-177.6 13.9h55.1v7.2h-55.1zM79.6 13.9h6.1v7.2h-6.1zM202.1 13.9h104.1v7.2h-104.1zM312.4 13.9h73.5v7.2h-73.5zM-190.1 6.9h92v7.2h-92zM67.5 6.9h24.5v7.2h-24.5zM214.6 6.9h165.6v7.2h-165.6zM-196.4 0h104.3v7.2h-104.3zM67.5 0h24.5v7.2h-24.5zM233.2 0h128.9v7.2h-128.9zM-196.4 -6.9h165.7v7.2h-165.7zM239.3 -6.9h18.4v7.2h-18.4zM263.9 -6.9h49.1v7.2h-49.1zM319.1 -6.9h36.8v7.2h-36.8zM-445.5 -13.9h77.6v7.2h-77.6zM-220.8 -13.9h92v7.2h-92zM-61.3 -13.9h85.8v7.2h-85.8zM245.3 -13.9h6.1v7.2h-6.1zM269.8 -13.9h24.5v7.2h-24.5zM325 -13.9h120.5v7.2h-120.5zM-445 -20.8h218.4v7.2h-218.4zM-196 -20.8h12.3v7.2h-12.3zM330.8 -20.8h114.3v7.2h-114.3zM262 -76.4h29.8v7.2h-29.8z"/><path fill="#228d8d" d="M-159 20.8h30.6v7.2h-30.6zM360.8 20.8h12.2v7.2h-12.2zM-177.6 13.9h55.1v7.2h-55.1zM208.3 13.9h91.9v7.2h-91.9zM318.5 13.9h67.4v7.2h-67.4zM-184 6.9h79.7v7.2h-79.7zM73.6 6.9h12.3v7.2h-12.3zM226.9 6.9h147.2v7.2h-147.2zM-190.2 0h92v7.2h-92zM73.6 0h12.3v7.2h-12.3zM233.2 0h128.9v7.2h-128.9zM-196.4 -6.9h85.9v7.2h-85.9zM-98.2 -6.9h61.4v7.2h-61.4zM239.3 -6.9h12.3v7.2h-12.3zM263.9 -6.9h43v7.2h-43zM325.2 -6.9h24.5v7.2h-24.5zM-445.5 -13.9h53.1v7.2h-53.1zM-196.2 -13.9h61.3v7.2h-61.3zM-42.9 -13.9h42.9v7.2h-42.9zM12.3 -13.9h12.3v7.2h-12.3zM269.8 -13.9h24.5v7.2h-24.5zM325 -13.9h120.5v7.2h-120.5zM-445 -20.8h206.1v7.2h-206.1zM-196 -20.8h12.3v7.2h-12.3zM330.8 -20.8h114.3v7.2h-114.3zM262 -76.4h23.8v7.2h-23.8z"/><path fill="#20938c" d="M-159 20.8h30.6v7.2h-30.6zM-177.6 13.9h55.1v7.2h-55.1zM232.8 13.9h49v7.2h-49zM318.5 13.9h61.3v7.2h-61.3zM-184 6.9h79.7v7.2h-79.7zM233 6.9h141v7.2h-141zM-190.2 0h92v7.2h-92zM239.3 0h18.4v7.2h-18.4zM263.9 0h98.2v7.2h-98.2zM-196.4 -6.9h85.9v7.2h-85.9zM-85.9 -6.9h43v7.2h-43zM239.3 -6.9h12.3v7.2h-12.3zM263.9 -6.9h43v7.2h-43zM331.4 -6.9h12.3v7.2h-12.3zM-196.2 -13.9h12.3v7.2h-12.3zM-177.8 -13.9h42.9v7.2h-42.9zM269.8 -13.9h18.4v7.2h-18.4zM325 -13.9h120.5v7.2h-120.5zM-445 -20.8h193.9v7.2h-193.9zM-196 -20.8h12.3v7.2h-12.3zM336.9 -20.8h108.1v7.2h-108.1zM267.9 -76.4h17.9v7.2h-17.9z"/><path fill="#1f998a" d="M-152.9 20.8h24.5v7.2h-24.5zM-171.5 13.9h49v7.2h-49zM238.9 13.9h30.6v7.2h-30.6zM324.6 13.9h49v7.2h-49zM-184 6.9h79.7v7.2h-79.7zM239.1 6.9h128.8v7.2h-128.8zM-190.2 0h92v7.2h-92zM239.3 0h12.3v7.2h-12.3zM263.9 0h49.1v7.2h-49.1zM319.1 0h36.8v7.2h-36.8zM-196.4 -6.9h85.9v7.2h-85.9zM-79.8 -6.9h24.5v7.2h-24.5zM239.3 -6.9h12.3v7.2h-12.3zM270 -6.9h30.7v7.2h-30.7zM-196.2 -13.9h12.3v7.2h-12.3zM-177.8 -13.9h36.8v7.2h-36.8zM269.8 -13.9h18.4v7.2h-18.4zM331.1 -13.9h98.1v7.2h-98.1zM-445 -20.8h187.8v7.2h-187.8zM-196 -20.8h12.3v7.2h-12.3zM336.9 -20.8h108.1v7.2h-108.1zM267.9 -76.4h11.9v7.2h-11.9z"/><path fill="#1fa088" d="M-152.9 20.8h18.3v7.2h-18.3zM-171.5 13.9h42.9v7.2h-42.9zM245 13.9h6.1v7.2h-6.1zM324.6 13.9h49v7.2h-49zM-184 6.9h79.7v7.2h-79.7zM239.1 6.9h18.4v7.2h-18.4zM269.8 6.9h36.8v7.2h-36.8zM318.9 6.9h49.1v7.2h-49.1zM-190.2 0h92v7.2h-92zM239.3 0h12.3v7.2h-12.3zM270 0h36.8v7.2h-36.8zM319.1 0h36.8v7.2h-36.8zM-196.4 -6.9h85.9v7.2h-85.9zM239.3 -6.9h12.3v7.2h-12.3zM270 -6.9h30.7v7.2h-30.7zM-196.2 -13.9h12.3v7.2h-12.3zM-171.7 -13.9h24.5v7.2h-24.5zM275.9 -13.9h12.3v7.2h-12.3zM331.1 -13.9h79.7v7.2h-79.7zM-445 -20.8h181.6v7.2h-181.6zM-196 -20.8h12.3v7.2h-12.3zM343 -20.8h102v7.2h-102z"/><path fill="#21a585" d="M-146.8 20.8h12.2v7.2h-12.2zM-171.5 13.9h42.9v7.2h-42.9zM324.6 13.9h42.9v7.2h-42.9zM-177.8 6.9h73.6v7.2h-73.6zM239.1 6.9h12.3v7.2h-12.3zM269.8 6.9h36.8v7.2h-36.8zM318.9 6.9h42.9v7.2h-42.9zM-190.2 0h92v7.2h-92zM239.3 0h12.3v7.2h-12.3zM270 0h36.8v7.2h-36.8zM325.2 0h30.7v7.2h-30.7zM-196.4 -6.9h79.8v7.2h-79.8zM245.5 -6.9h6.1v7.2h-6.1zM270 -6.9h30.7v7.2h-30.7zM-196.2 -13.9h12.3v7.2h-12.3zM-171.7 -13.9h18.4v7.2h-18.4zM275.9 -13.9h12.3v7.2h-12.3zM337.3 -13.9h61.3v7.2h-61.3zM-445 -20.8h175.5v7.2h-175.5zM-196 -20.8h12.3v7.2h-12.3zM343 -20.8h102v7.2h-102z"/><path fill="#25ab82" d="M-165.4 13.9h36.8v7.2h-36.8zM330.8 13.9h30.6v7.2h-30.6zM-177.8 6.9h67.5v7.2h-67.5zM239.1 6.9h12.3v7.2h-12.3zM275.9 6.9h24.5v7.2h-24.5zM318.9 6.9h42.9v7.2h-42.9zM-184.1 0h79.8v7.2h-79.8zM239.3 0h12.3v7.2h-12.3zM270 0h36.8v7.2h-36.8zM325.2 0h24.5v7.2h-24.5zM-196.4 -6.9h79.8v7.2h-79.8zM270 -6.9h24.5v7.2h-24.5zM-196.2 -13.9h12.3v7.2h-12.3zM275.9 -13.9h6.1v7.2h-6.1zM343.4 -13.9h30.7v7.2h-30.7zM-445 -20.8h169.4v7.2h-169.4zM-196 -20.8h12.3v7.2h-12.3zM349.1 -20.8h95.9v7.2h-95.9z"/><path fill="#2cb17e" d="M-165.4 13.9h36.8v7.2h-36.8zM330.8 13.9h30.6v7.2h-30.6zM-177.8 6.9h67.5v7.2h-67.5zM275.9 6.9h24.5v7.2h-24.5zM325 6.9h36.8v7.2h-36.8zM-184.1 0h79.8v7.2h-79.8zM239.3 0h12.3v7.2h-12.3zM270 0h30.7v7.2h-30.7zM331.4 0h18.4v7.2h-18.4zM-196.4 -6.9h12.3v7.2h-12.3zM-178 -6.9h61.4v7.2h-61.4zM270 -6.9h24.5v7.2h-24.5zM-196.2 -13.9h12.3v7.2h-12.3zM275.9 -13.9h6.1v7.2h-6.1zM-445 -20.8h157.1v7.2h-157.1zM-196 -20.8h12.3v7.2h-12.3zM355.3 -20.8h89.8v7.2h-89.8z"/><path fill="#34b679" d="M-159.3 13.9h24.5v7.2h-24.5zM330.8 13.9h24.5v7.2h-24.5zM-177.8 6.9h67.5v7.2h-67.5zM294.3 6.9h6.1v7.2h-6.1zM325 6.9h30.7v7.2h-30.7zM-178 0h73.6v7.2h-73.6zM270 0h30.7v7.2h-30.7zM331.4 0h18.4v7.2h-18.4zM-196.4 -6.9h12.3v7.2h-12.3zM-178 -6.9h61.4v7.2h-61.4zM270 -6.9h18.4v7.2h-18.4zM-196.2 -13.9h12.3v7.2h-12.3zM-361.4 -20.8h67.4v7.2h-67.4zM-196 -20.8h12.3v7.2h-12.3zM361.4 -20.8h73.5v7.2h-73.5z"/><path fill="#3fbc73" d="M-159.3 13.9h24.5v7.2h-24.5zM336.9 13.9h12.3v7.2h-12.3zM-171.7 6.9h55.2v7.2h-55.2zM325 6.9h30.7v7.2h-30.7zM-178 0h73.6v7.2h-73.6zM270 0h30.7v7.2h-30.7zM331.4 0h12.3v7.2h-12.3zM-190.2 -6.9h6.1v7.2h-6.1zM-178 -6.9h36.8v7.2h-36.8zM-135 -6.9h18.4v7.2h-18.4zM270 -6.9h18.4v7.2h-18.4zM-196.2 -13.9h12.3v7.2h-12.3zM-196 -20.8h12.3v7.2h-12.3zM367.5 -20.8h55.1v7.2h-55.1z"/><path fill="#4ac16d" d="M-153.1 13.9h12.3v7.2h-12.3zM336.9 13.9h12.3v7.2h-12.3zM-171.7 6.9h55.2v7.2h-55.2zM325 6.9h30.7v7.2h-30.7zM-178 0h73.6v7.2h-73.6zM276.1 0h18.4v7.2h-18.4zM-190.2 -6.9h6.1v7.2h-6.1zM-171.8 -6.9h30.7v7.2h-30.7zM-128.9 -6.9h12.3v7.2h-12.3zM276.1 -6.9h12.3v7.2h-12.3zM-196.2 -13.9h12.3v7.2h-12.3zM-196 -20.8h12.3v7.2h-12.3zM379.8 -20.8h30.6v7.2h-30.6z"/><path fill="#56c667" d="M-147 13.9h6.1v7.2h-6.1zM-171.7 6.9h42.9v7.2h-42.9zM331.1 6.9h24.5v7.2h-24.5zM-178 0h73.6v7.2h-73.6zM276.1 0h12.3v7.2h-12.3zM-190.2 -6.9h6.1v7.2h-6.1zM-171.8 -6.9h24.5v7.2h-24.5zM-128.9 -6.9h6.1v7.2h-6.1zM276.1 -6.9h12.3v7.2h-12.3zM-196.2 -13.9h12.3v7.2h-12.3zM-196 -20.8h6.1v7.2h-6.1zM385.9 -20.8h12.3v7.2h-12.3z"/><path fill="#65cb5e" d="M-171.7 6.9h36.8v7.2h-36.8zM331.1 6.9h24.5v7.2h-24.5zM-171.8 0h67.5v7.2h-67.5zM276.1 0h12.3v7.2h-12.3zM-190.2 -6.9h6.1v7.2h-6.1zM-171.8 -6.9h18.4v7.2h-18.4zM-128.9 -6.9h6.1v7.2h-6.1zM276.1 -6.9h12.3v7.2h-12.3zM-196.2 -13.9h12.3v7.2h-12.3z"/><path fill="#73d056" d="M-165.6 6.9h30.7v7.2h-30.7zM331.1 6.9h18.4v7.2h-18.4zM-171.8 0h61.4v7.2h-61.4zM276.1 0h6.1v7.2h-6.1zM-165.7 -6.9h6.1v7.2h-6.1zM276.1 -6.9h6.1v7.2h-6.1zM-196.2 -13.9h12.3v7.2h-12.3z"/><path fill="#84d44b" d="M-165.6 6.9h24.5v7.2h-24.5zM331.1 6.9h18.4v7.2h-18.4zM-171.8 0h30.7v7.2h-30.7zM-135 0h24.5v7.2h-24.5zM276.1 -6.9h6.1v7.2h-6.1zM-196.2 -13.9h12.3v7.2h-12.3z"/><path fill="#93d741" d="M-159.4 6.9h18.4v7.2h-18.4zM337.3 6.9h12.3v7.2h-12.3zM-171.8 0h30.7v7.2h-30.7zM-128.9 0h18.4v7.2h-18.4zM276.1 -6.9h6.1v7.2h-6.1zM-196.2 -13.9h12.3v7.2h-12.3z"/><path fill="#a2da37" d="M337.3 6.9h6.1v7.2h-6.1zM-165.7 0h18.4v7.2h-18.4zM-128.9 0h18.4v7.2h-18.4zM-196.2 -13.9h12.3v7.2h-12.3z"/><path fill="#b5de2b" d="M-128.9 0h18.4v7.2h-18.4zM-190.1 -13.9h6.1v7.2h-6.1z"/><path fill="#c5e021" d="M-128.9 0h18.4v7.2h-18.4z"/><path fill="#d8e219" d="M-128.9 0h12.3v7.2h-12.3z"/><path fill="#e7e419" d="M-128.9 0h12.3v7.2h-12.3z"/><path fill="#f6e620" d="M-122.7 0h6.1v7.2h-6.1z"/></g></g>
<use href="#ov"/>
<text x="0" y="-239.4" font-size="50" text-anchor="middle">month = 4</text>
<g transform="translate(0.7 0)"><path d="M497.1 223.0V-201.1L508.25 -221.8L519.4 -201.1V223.0Z" fill="url(#vg)" stroke="#000" stroke-width="2.4" stroke-linejoin="miter"/><path d="M519.4 223.0h14.3" stroke="#000" stroke-width="2.6"/><text x="544.0" y="238.0" font-size="34">0.0</text><path d="M519.4 152.3h14.3" stroke="#000" stroke-width="2.6"/><text x="544.0" y="167.3" font-size="34">2.5</text><path d="M519.4 81.6h14.3" stroke="#000" stroke-width="2.6"/><text x="544.0" y="96.6" font-size="34">5.0</text><path d="M519.4 10.9h14.3" stroke="#000" stroke-width="2.6"/><text x="544.0" y="25.9" font-size="34">7.5</text><path d="M519.4 -59.7h14.3" stroke="#000" stroke-width="2.6"/><text x="544.0" y="-44.7" font-size="34">10.0</text><path d="M519.4 -130.4h14.3" stroke="#000" stroke-width="2.6"/><text x="544.0" y="-115.4" font-size="34">12.5</text><path d="M519.4 -201.1h14.3" stroke="#000" stroke-width="2.6"/><text x="544.0" y="-186.1" font-size="34">15.0</text><text transform="translate(663.0 13.2) rotate(-90)" font-size="41.7" text-anchor="middle">GPCP Climatology</text><text transform="translate(712.0 15.0) rotate(-90)" font-size="41.7" text-anchor="middle">(mm/day)</text></g>
</g>
<g transform="translate(462.0 917.3)">
<g clip-path="url(#cp)"><use href="#ol" fill="#450559"/>
<g shape-rendering="crispEdges"><path fill="#470e61" d="M-272.9 210.5h213.1v4.7h-213.1zM175.5 210.5h97.4v4.7h-97.4zM-284.4 205.6h568.7v5.3h-568.7zM-295.9 200.3h591.8v5.6h-591.8zM-306.8 194.7h613.6v5.8h-613.6zM-316.8 189h633.6v6h-633.6zM-326.2 183.1h652.4v6.2h-652.4zM-335.3 177.1h670.5v6.3h-670.5zM-344.1 170.9h688.2v6.5h-688.2zM-352.7 164.6h705.4v6.6h-705.4zM-361 158.2h722.1v6.7h-722.1zM-369.1 151.7h738.2v6.8h-738.2zM-376.8 145.1h753.6v6.9h-753.6zM-384.1 138.4h768.2v7h-768.2zM-390.8 131.7h781.6v7.1h-781.6zM-397 124.8h794.1v7.1h-794.1zM-403 118h805.9v7.2h-805.9zM-408.6 111.1h817.2v7.2h-817.2zM-413.8 104.2h827.5v7.2h-827.5zM-418.4 97.3h836.8v7.2h-836.8zM-422.6 90.3h845.3v7.2h-845.3zM-426.5 83.4h853v7.2h-853zM-429.8 76.4h859.7v7.2h-859.7zM-432.7 69.5h480.4v7.2h-480.4zM71.5 69.5h361.3v7.2h-361.3zM-435.1 62.5h465v7.2h-465zM83.8 62.5h209.6v7.2h-209.6zM329.3 62.5h105.8v7.2h-105.8zM-437.1 55.6h172.4v7.2h-172.4zM-216.6 55.6h234.6v7.2h-234.6zM90.2 55.6h198.5v7.2h-198.5zM330.8 55.6h106.3v7.2h-106.3zM-439 48.6h155v7.2h-155zM-199.4 48.6h151v7.2h-151zM96.7 48.6h199.4v7.2h-199.4zM332.3 48.6h106.7v7.2h-106.7zM-440.7 41.7h149.6v7.2h-149.6zM-194.1 41.7h127.4v7.2h-127.4zM91 41.7h349.7v7.2h-349.7zM-442.2 34.7h150.1v7.2h-150.1zM-194.7 34.7h54.8v7.2h-54.8zM-97.4 34.7h24.3v7.2h-24.3zM91.3 34.7h350.9v7.2h-350.9zM-443.4 27.8h150.5v7.2h-150.5zM-201.4 27.8h54.9v7.2h-54.9zM-97.6 27.8h30.5v7.2h-30.5zM79.3 27.8h364v7.2h-364zM-444.3 20.8h163v7.2h-163zM-214 20.8h73.4v7.2h-73.4zM-97.8 20.8h42.8v7.2h-42.8zM24.5 20.8h419.8v7.2h-419.8zM-445 13.9h890v7.2h-890zM-445.5 6.9h891v7.2h-891zM-445.8 0h891.6v7.2h-891.6zM-445.8 -6.9h891.6v7.2h-891.6zM-445.5 -13.9h891v7.2h-891zM-445 -20.8h890v7.2h-890zM-444.3 -27.8h888.6v7.2h-888.6zM-443.4 -34.7h886.7v7.2h-886.7zM-442.2 -41.7h884.4v7.2h-884.4zM-440.7 -48.6h881.4v7.2h-881.4zM-439 -55.6h451v7.2h-451zM42.3 -55.6h54.4v7.2h-54.4zM132.9 -55.6h306.1v7.2h-306.1zM-437.1 -62.5h407v7.2h-407zM138.4 -62.5h298.7v7.2h-298.7zM-435.1 -69.5h393.2v7.2h-393.2zM143.7 -69.5h291.4v7.2h-291.4zM-432.7 -76.4h93.3v7.2h-93.3zM-297.7 -76.4h256v7.2h-256zM142.9 -76.4h289.8v7.2h-289.8zM-429.8 -83.4h86.8v7.2h-86.8zM-278 -83.4h254.3v7.2h-254.3zM141.9 -83.4h287.9v7.2h-287.9zM-426.5 -90.3h92v7.2h-92zM-269.9 -90.3h275.8v7.2h-275.8zM140.8 -90.3h285.7v7.2h-285.7zM-422.6 -97.3h102.8v7.2h-102.8zM-302.4 -97.3h5.8v7.2h-5.8zM-267.5 -97.3h348.9v7.2h-348.9zM145.4 -97.3h277.3v7.2h-277.3zM-418.4 -104.2h136.4v7.2h-136.4zM-264.8 -104.2h282v7.2h-282zM57.6 -104.2h46v7.2h-46zM149.7 -104.2h268.8v7.2h-268.8zM-413.8 -111.1h140.6v7.2h-140.6zM-267.5 -111.1h295.9v7.2h-295.9zM45.5 -111.1h68.3v7.2h-68.3zM148 -111.1h265.8v7.2h-265.8zM-408.6 -118h532.2v7.2h-532.2zM140.5 -118h268.1v7.2h-268.1zM-403 -124.8h805.9v7.2h-805.9zM-397 -131.7h794.1v7.1h-794.1zM-390.8 -138.4h781.6v7.1h-781.6zM-384.1 -145.1h768.2v7h-768.2zM-376.8 -151.7h753.6v6.9h-753.6zM-369.1 -158.2h738.2v6.8h-738.2zM-361 -164.6h722.1v6.7h-722.1zM-352.7 -170.9h705.4v6.6h-705.4zM-344.1 -177.1h688.2v6.5h-688.2zM-335.3 -183.1h670.5v6.3h-670.5zM-326.2 -189h652.4v6.2h-652.4zM-316.8 -194.7h633.6v6h-633.6zM-306.8 -200.3h613.6v5.8h-613.6zM-295.9 -205.6h227v5.6h-227zM-60.8 -205.6h356.7v5.6h-356.7zM-284.4 -210.5h568.7v5.3h-568.7zM-272.9 -214.9h545.7v4.7h-545.7zM-262 -218.7h524v4.1h-524zM-252 -221.8h504v3.4h-504zM-243.1 -224.1h486.2v2.6h-486.2z"/><path fill="#48186a" d="M-306.8 194.7h613.6v5.8h-613.6zM-316.8 189h633.6v6h-633.6zM-326.2 183.1h652.4v6.2h-652.4zM-335.3 177.1h670.5v6.3h-670.5zM-344.1 170.9h688.2v6.5h-688.2zM-352.7 164.6h705.4v6.6h-705.4zM-361 158.2h722.1v6.7h-722.1zM-369.1 151.7h738.2v6.8h-738.2zM-376.8 145.1h753.6v6.9h-753.6zM-384.1 138.4h768.2v7h-768.2zM-390.8 131.7h781.6v7.1h-781.6zM-397 124.8h794.1v7.1h-794.1zM-403 118h805.9v7.2h-805.9zM-408.6 111.1h817.2v7.2h-817.2zM-413.8 104.2h827.5v7.2h-827.5zM-418.4 97.3h836.8v7.2h-836.8zM-422.6 90.3h845.3v7.2h-845.3zM-426.5 83.4h853v7.2h-853zM-429.8 76.4h465.3v7.2h-465.3zM76.9 76.4h353v7.2h-353zM-432.7 69.5h450.6v7.2h-450.6zM95.3 69.5h184.6v7.2h-184.6zM333.4 69.5h99.3v7.2h-99.3zM-435.1 62.5h153.7v7.2h-153.7zM-191.6 62.5h173.6v7.2h-173.6zM113.8 62.5h155.7v7.2h-155.7zM347.3 62.5h87.8v7.2h-87.8zM-437.1 55.6h136.3v7.2h-136.3zM-174.4 55.6h108.3v7.2h-108.3zM186.5 55.6h78.2v7.2h-78.2zM354.9 55.6h82.2v7.2h-82.2zM-439 48.6h124.8v7.2h-124.8zM193.3 48.6h72.5v7.2h-72.5zM356.4 48.6h82.5v7.2h-82.5zM-440.7 41.7h113.2v7.2h-113.2zM157.7 41.7h115.2v7.2h-115.2zM351.8 41.7h88.9v7.2h-88.9zM-442.2 34.7h101.4v7.2h-101.4zM115.6 34.7h176.5v7.2h-176.5zM334.7 34.7h107.5v7.2h-107.5zM-443.4 27.8h89.4v7.2h-89.4zM-91.5 27.8h6.1v7.2h-6.1zM103.7 27.8h339.6v7.2h-339.6zM-444.3 20.8h77.4v7.2h-77.4zM-91.7 20.8h12.2v7.2h-12.2zM91.7 20.8h352.6v7.2h-352.6zM-445 13.9h89.8v7.2h-89.8zM-196 13.9h49v7.2h-49zM-91.9 13.9h12.3v7.2h-12.3zM79.6 13.9h365.4v7.2h-365.4zM-445.5 6.9h175.7v7.2h-175.7zM-233 6.9h116.5v7.2h-116.5zM-104.2 6.9h67.5v7.2h-67.5zM6.1 6.9h439.4v7.2h-439.4zM-445.8 0h891.6v7.2h-891.6zM-445.8 -6.9h891.6v7.2h-891.6zM-445.5 -13.9h891v7.2h-891zM-445 -20.8h890v7.2h-890zM-444.3 -27.8h888.6v7.2h-888.6zM-443.4 -34.7h886.7v7.2h-886.7zM-442.2 -41.7h884.4v7.2h-884.4zM-440.7 -48.6h537.7v7.2h-537.7zM133.4 -48.6h307.3v7.2h-307.3zM-439 -55.6h390.6v7.2h-390.6zM145 -55.6h294v7.2h-294zM-437.1 -62.5h88.2v7.2h-88.2zM-288.7 -62.5h168.4v7.2h-168.4zM150.4 -62.5h286.7v7.2h-286.7zM-435.1 -69.5h69.9v7.2h-69.9zM-275.4 -69.5h143.7v7.2h-143.7zM149.7 -69.5h285.4v7.2h-285.4zM-432.7 -76.4h69.5v7.2h-69.5zM-267.9 -76.4h131v7.2h-131zM154.8 -76.4h277.9v7.2h-277.9zM-429.8 -83.4h63.1v7.2h-63.1zM-266.2 -83.4h136v7.2h-136zM153.8 -83.4h276.1v7.2h-276.1zM-426.5 -90.3h68.5v7.2h-68.5zM-258.2 -90.3h146.7v7.2h-146.7zM158.4 -90.3h268v7.2h-268zM-422.6 -97.3h79.6v7.2h-79.6zM-261.7 -97.3h232.6v7.2h-232.6zM180.3 -97.3h242.4v7.2h-242.4zM-418.4 -104.2h90.3v7.2h-90.3zM-259 -104.2h247.5v7.2h-247.5zM207.2 -104.2h211.2v7.2h-211.2zM-413.8 -111.1h129.2v7.2h-129.2zM-256.1 -111.1h250.4v7.2h-250.4zM204.9 -111.1h208.9v7.2h-208.9zM-408.6 -118h133.2v7.2h-133.2zM-258.5 -118h286.6v7.2h-286.6zM45 -118h56.2v7.2h-56.2zM179.8 -118h228.8v7.2h-228.8zM-403 -124.8h519.3v7.2h-519.3zM149.6 -124.8h253.4v7.2h-253.4zM-397 -131.7h794.1v7.1h-794.1zM-390.8 -138.4h781.6v7.1h-781.6zM-384.1 -145.1h768.2v7h-768.2zM-376.8 -151.7h753.6v6.9h-753.6zM-369.1 -158.2h738.2v6.8h-738.2zM-361 -164.6h722.1v6.7h-722.1zM-352.7 -170.9h705.4v6.6h-705.4zM-344.1 -177.1h688.2v6.5h-688.2zM-335.3 -183.1h670.5v6.3h-670.5zM-326.2 -189h652.4v6.2h-652.4zM-316.8 -194.7h234.2v6h-234.2zM-56.5 -194.7h373.3v6h-373.3zM-306.8 -200.3h218.5v5.8h-218.5zM-46.3 -200.3h353.1v5.8h-353.1zM-295.9 -205.6h206.7v5.6h-206.7zM-40.5 -205.6h336.5v5.6h-336.5zM-284.4 -210.5h194.8v5.3h-194.8zM-35 -210.5h319.4v5.3h-319.4zM-272.9 -214.9h187v4.7h-187zM-33.6 -214.9h306.5v4.7h-306.5zM-262 -218.7h179.6v4.1h-179.6zM-32.2 -218.7h294.2v4.1h-294.2zM-252 -221.8h169.3v3.4h-169.3zM-27.6 -221.8h279.5v3.4h-279.5z"/><path fill="#482071" d="M-326.2 183.1h652.4v6.2h-652.4zM-335.3 177.1h670.5v6.3h-670.5zM-344.1 170.9h688.2v6.5h-688.2zM-352.7 164.6h705.4v6.6h-705.4zM-361 158.2h722.1v6.7h-722.1zM-369.1 151.7h738.2v6.8h-738.2zM-376.8 145.1h753.6v6.9h-753.6zM-384.1 138.4h768.2v7h-768.2zM-390.8 131.7h781.6v7.1h-781.6zM-397 124.8h794.1v7.1h-794.1zM-403 118h805.9v7.2h-805.9zM-408.6 111.1h817.2v7.2h-817.2zM-413.8 104.2h827.5v7.2h-827.5zM-418.4 97.3h836.8v7.2h-836.8zM-422.6 90.3h845.3v7.2h-845.3zM-426.5 83.4h461.7v7.2h-461.7zM82.1 83.4h344.3v7.2h-344.3zM-429.8 76.4h447.6v7.2h-447.6zM100.5 76.4h183.4v7.2h-183.4zM337.1 76.4h92.7v7.2h-92.7zM-432.7 69.5h152.9v7.2h-152.9zM-184.6 69.5h172.7v7.2h-172.7zM131 69.5h131v7.2h-131zM357.3 69.5h75.5v7.2h-75.5zM-435.1 62.5h123.7v7.2h-123.7zM-149.7 62.5h59.9v7.2h-59.9zM371.2 62.5h63.9v7.2h-63.9zM-437.1 55.6h112.3v7.2h-112.3zM379 55.6h58.1v7.2h-58.1zM-439 48.6h94.6v7.2h-94.6zM374.5 48.6h64.4v7.2h-64.4zM-440.7 41.7h76.8v7.2h-76.8zM363.9 41.7h76.8v7.2h-76.8zM-442.2 34.7h70.9v7.2h-70.9zM158.2 34.7h103.5v7.2h-103.5zM353 34.7h89.2v7.2h-89.2zM-443.4 27.8h65v7.2h-65zM122 27.8h170.9v7.2h-170.9zM335.6 27.8h107.7v7.2h-107.7zM-444.3 20.8h65.2v7.2h-65.2zM-91.7 20.8h6.1v7.2h-6.1zM110.1 20.8h334.2v7.2h-334.2zM-445 13.9h65.3v7.2h-65.3zM-91.9 13.9h12.3v7.2h-12.3zM104.1 13.9h340.9v7.2h-340.9zM-445.5 6.9h83.7v7.2h-83.7zM-196.2 6.9h61.3v7.2h-61.3zM-92 6.9h12.3v7.2h-12.3zM85.8 6.9h359.7v7.2h-359.7zM-445.8 0h891.6v7.2h-891.6zM-445.8 -6.9h891.6v7.2h-891.6zM-445.5 -13.9h891v7.2h-891zM-445 -20.8h890v7.2h-890zM-444.3 -27.8h888.6v7.2h-888.6zM-443.4 -34.7h886.7v7.2h-886.7zM-442.2 -41.7h545.6v7.2h-545.6zM133.9 -41.7h308.3v7.2h-308.3zM-440.7 -48.6h404.3v7.2h-404.3zM-24.3 -48.6h18.2v7.2h-18.2zM84.9 -48.6h6.1v7.2h-6.1zM139.5 -48.6h301.2v7.2h-301.2zM-439 -55.6h82.5v7.2h-82.5zM-296 -55.6h175.2v7.2h-175.2zM151 -55.6h287.9v7.2h-287.9zM-437.1 -62.5h46.1v7.2h-46.1zM-385 -62.5h18v7.2h-18zM-270.7 -62.5h126.3v7.2h-126.3zM156.4 -62.5h222.6v7.2h-222.6zM427.1 -62.5h10v7.2h-10zM-269.4 -69.5h113.8v7.2h-113.8zM155.7 -69.5h203.6v7.2h-203.6zM-416.8 -76.4h11.9v7.2h-11.9zM-262 -76.4h107.2v7.2h-107.2zM160.8 -76.4h190.5v7.2h-190.5zM-429.8 -83.4h33.6v7.2h-33.6zM-260.2 -83.4h112.4v7.2h-112.4zM159.7 -83.4h207v7.2h-207zM408.1 -83.4h21.7v7.2h-21.7zM-426.5 -90.3h50.9v7.2h-50.9zM-258.2 -90.3h123.2v7.2h-123.2zM164.3 -90.3h262.2v7.2h-262.2zM-422.6 -97.3h62.1v7.2h-62.1zM-255.8 -97.3h145.4v7.2h-145.4zM215.1 -97.3h207.5v7.2h-207.5zM-418.4 -104.2h73.1v7.2h-73.1zM-253.3 -104.2h207.2v7.2h-207.2zM218.7 -104.2h199.7v7.2h-199.7zM-413.8 -111.1h89.4v7.2h-89.4zM-256.1 -111.1h233.3v7.2h-233.3zM216.3 -111.1h197.5v7.2h-197.5zM-408.6 -118h127.6v7.2h-127.6zM-252.9 -118h247.3v7.2h-247.3zM207.9 -118h200.7v7.2h-200.7zM-403 -124.8h137v7.2h-137zM-260.4 -124.8h354.6v7.2h-354.6zM171.8 -124.8h231.2v7.2h-231.2zM-397 -131.7h511.7v7.1h-511.7zM141.9 -131.7h255.1v7.1h-255.1zM-390.8 -138.4h781.6v7.1h-781.6zM-384.1 -145.1h768.2v7h-768.2zM-376.8 -151.7h753.6v6.9h-753.6zM-369.1 -158.2h738.2v6.8h-738.2zM-361 -164.6h722.1v6.7h-722.1zM-352.7 -170.9h705.4v6.6h-705.4zM-344.1 -177.1h688.2v6.5h-688.2zM-335.3 -183.1h670.5v6.3h-670.5zM-326.2 -189h232.2v6.2h-232.2zM-49.2 -189h375.4v6.2h-375.4zM-316.8 -194.7h216.9v6h-216.9zM-39.1 -194.7h355.9v6h-355.9zM-306.8 -200.3h201.7v5.8h-201.7zM-29.4 -200.3h336.2v5.8h-336.2z"/><path fill="#482878" d="M-326.2 183.1h652.4v6.2h-652.4zM-335.3 177.1h670.5v6.3h-670.5zM-344.1 170.9h688.2v6.5h-688.2zM-352.7 164.6h705.4v6.6h-705.4zM-361 158.2h722.1v6.7h-722.1zM-369.1 151.7h738.2v6.8h-738.2zM-376.8 145.1h753.6v6.9h-753.6zM-384.1 138.4h768.2v7h-768.2zM-390.8 131.7h781.6v7.1h-781.6zM-397 124.8h794.1v7.1h-794.1zM-403 118h805.9v7.2h-805.9zM-408.6 111.1h817.2v7.2h-817.2zM-413.8 104.2h827.5v7.2h-827.5zM-418.4 97.3h836.8v7.2h-836.8zM-422.6 90.3h463.3v7.2h-463.3zM81.4 90.3h341.2v7.2h-341.2zM-426.5 83.4h449.9v7.2h-449.9zM99.8 83.4h187.8v7.2h-187.8zM322.7 83.4h103.8v7.2h-103.8zM-429.8 76.4h163.7v7.2h-163.7zM-183.4 76.4h183.4v7.2h-183.4zM130.1 76.4h141.9v7.2h-141.9zM354.9 76.4h75v7.2h-75zM-432.7 69.5h135v7.2h-135zM-148.9 69.5h95.3v7.2h-95.3zM375.1 69.5h57.6v7.2h-57.6zM-435.1 62.5h111.8v7.2h-111.8zM-131.7 62.5h18v7.2h-18zM395.2 62.5h39.9v7.2h-39.9zM-437.1 55.6h94.2v7.2h-94.2zM397 55.6h40.1v7.2h-40.1zM-439 48.6h76.5v7.2h-76.5zM392.7 48.6h46.3v7.2h-46.3zM-440.7 41.7h58.6v7.2h-58.6zM382.1 41.7h58.6v7.2h-58.6zM-442.2 34.7h58.8v7.2h-58.8zM194.7 34.7h48.7v7.2h-48.7zM359.1 34.7h83.1v7.2h-83.1zM-443.4 27.8h58.9v7.2h-58.9zM134.3 27.8h140.4v7.2h-140.4zM347.8 27.8h95.5v7.2h-95.5zM-444.3 20.8h59v7.2h-59zM-91.7 20.8h6.1v7.2h-6.1zM116.2 20.8h207.9v7.2h-207.9zM330.2 20.8h114.1v7.2h-114.1zM-445 13.9h59.1v7.2h-59.1zM-91.9 13.9h6.1v7.2h-6.1zM110.3 13.9h334.8v7.2h-334.8zM-445.5 6.9h59.2v7.2h-59.2zM-184 6.9h42.9v7.2h-42.9zM-92 6.9h6.1v7.2h-6.1zM110.4 6.9h335.1v7.2h-335.1zM-445.8 0h114.5v7.2h-114.5zM-202.5 0h85.9v7.2h-85.9zM-92 0h6.1v7.2h-6.1zM85.9 0h359.9v7.2h-359.9zM-445.8 -6.9h891.6v7.2h-891.6zM-445.5 -13.9h891v7.2h-891zM-445 -20.8h890v7.2h-890zM-444.3 -27.8h888.6v7.2h-888.6zM-443.4 -34.7h547.1v7.2h-547.1zM128.2 -34.7h315.2v7.2h-315.2zM-442.2 -41.7h539.6v7.2h-539.6zM140 -41.7h302.2v7.2h-302.2zM-440.7 -48.6h319.4v7.2h-319.4zM145.6 -48.6h295.1v7.2h-295.1zM-386.6 -55.6h18.1v7.2h-18.1zM-271.8 -55.6h126.9v7.2h-126.9zM151 -55.6h241.6v7.2h-241.6zM-379 -62.5h6v7.2h-6zM-270.7 -62.5h108.3v7.2h-108.3zM156.4 -62.5h198.5v7.2h-198.5zM-263.4 -69.5h95.8v7.2h-95.8zM161.7 -69.5h179.6v7.2h-179.6zM-262 -76.4h29.8v7.2h-29.8zM-226.3 -76.4h59.5v7.2h-59.5zM166.7 -76.4h172.7v7.2h-172.7zM-254.3 -83.4h94.6v7.2h-94.6zM165.6 -83.4h177.4v7.2h-177.4zM-252.3 -90.3h111.5v7.2h-111.5zM170.2 -90.3h217.1v7.2h-217.1zM-422.6 -97.3h44.7v7.2h-44.7zM-250 -97.3h127.9v7.2h-127.9zM221 -97.3h201.7v7.2h-201.7zM-418.4 -104.2h61.6v7.2h-61.6zM-247.5 -104.2h149.7v7.2h-149.7zM224.5 -104.2h193.9v7.2h-193.9zM-413.8 -111.1h72.3v7.2h-72.3zM-250.4 -111.1h199.2v7.2h-199.2zM222 -111.1h191.8v7.2h-191.8zM-408.6 -118h88.3v7.2h-88.3zM-247.3 -118h219.2v7.2h-219.2zM213.5 -118h195.1v7.2h-195.1zM-403 -124.8h120.4v7.2h-120.4zM-249.4 -124.8h288.1v7.2h-288.1zM199.5 -124.8h203.5v7.2h-203.5zM-397 -131.7h495.3v7.1h-495.3zM163.8 -131.7h233.3v7.1h-233.3zM-390.8 -138.4h781.6v7.1h-781.6zM-384.1 -145.1h768.2v7h-768.2zM-376.8 -151.7h753.6v6.9h-753.6zM-369.1 -158.2h738.2v6.8h-738.2zM-361 -164.6h722.1v6.7h-722.1zM-352.7 -170.9h705.4v6.6h-705.4zM-344.1 -177.1h688.2v6.5h-688.2zM-335.3 -183.1h234.1v6.3h-234.1zM-46 -183.1h381.3v6.3h-381.3zM-326.2 -189h205.4v6.2h-205.4zM-22.4 -189h348.6v6.2h-348.6z"/><path fill="#46307e" d="M-335.3 177.1h670.5v6.3h-670.5zM-344.1 170.9h688.2v6.5h-688.2zM-352.7 164.6h705.4v6.6h-705.4zM-361 158.2h722.1v6.7h-722.1zM-369.1 151.7h738.2v6.8h-738.2zM-376.8 145.1h753.6v6.9h-753.6zM-384.1 138.4h768.2v7h-768.2zM-390.8 131.7h781.6v7.1h-781.6zM-397 124.8h794.1v7.1h-794.1zM-403 118h805.9v7.2h-805.9zM-408.6 111.1h817.2v7.2h-817.2zM-413.8 104.2h827.5v7.2h-827.5zM-418.4 97.3h458.7v7.2h-458.7zM80.6 97.3h337.8v7.2h-337.8zM-422.6 90.3h445.9v7.2h-445.9zM98.8 90.3h191.9v7.2h-191.9zM314 90.3h108.7v7.2h-108.7zM-426.5 83.4h185.9v7.2h-185.9zM-187.8 83.4h193.6v7.2h-193.6zM123.2 83.4h158.4v7.2h-158.4zM346.2 83.4h80.3v7.2h-80.3zM-429.8 76.4h145.9v7.2h-145.9zM-153.8 76.4h130.1v7.2h-130.1zM378.5 76.4h51.3v7.2h-51.3zM-432.7 69.5h117.1v7.2h-117.1zM-142.9 69.5h41.7v7.2h-41.7zM398.9 69.5h33.8v7.2h-33.8zM-435.1 62.5h93.8v7.2h-93.8zM407.1 62.5h27.9v7.2h-27.9zM-437.1 55.6h76.2v7.2h-76.2zM403 55.6h34.1v7.2h-34.1zM-439 48.6h58.4v7.2h-58.4zM404.7 48.6h34.2v7.2h-34.2zM-440.7 41.7h46.5v7.2h-46.5zM394.2 41.7h46.5v7.2h-46.5zM-442.2 34.7h46.6v7.2h-46.6zM365.2 34.7h77v7.2h-77zM-443.4 27.8h52.8v7.2h-52.8zM146.5 27.8h115.9v7.2h-115.9zM353.9 27.8h89.4v7.2h-89.4zM-444.3 20.8h52.9v7.2h-52.9zM128.4 20.8h159v7.2h-159zM348.6 20.8h95.7v7.2h-95.7zM-445 13.9h53v7.2h-53zM-91.9 13.9h6.1v7.2h-6.1zM122.5 13.9h322.5v7.2h-322.5zM-445.5 6.9h53.1v7.2h-53.1zM-177.8 6.9h30.7v7.2h-30.7zM116.5 6.9h329v7.2h-329zM-445.8 0h65.4v7.2h-65.4zM-196.4 0h67.5v7.2h-67.5zM116.6 0h329.2v7.2h-329.2zM-445.8 -6.9h151.3v7.2h-151.3zM-214.8 -6.9h178v7.2h-178zM-24.5 -6.9h470.4v7.2h-470.4zM-445.5 -13.9h891v7.2h-891zM-445 -20.8h890v7.2h-890zM-444.3 -27.8h888.6v7.2h-888.6zM-443.4 -34.7h547.1v7.2h-547.1zM140.4 -34.7h303v7.2h-303zM-442.2 -41.7h539.6v7.2h-539.6zM146.1 -41.7h296.1v7.2h-296.1zM-297.2 -48.6h151.6v7.2h-151.6zM151.6 -48.6h254.7v7.2h-254.7zM-380.6 -55.6h6v7.2h-6zM-271.8 -55.6h114.8v7.2h-114.8zM157.1 -55.6h211.4v7.2h-211.4zM-379 -62.5h6v7.2h-6zM-264.7 -62.5h90.2v7.2h-90.2zM162.4 -62.5h186.5v7.2h-186.5zM-263.4 -69.5h29.9v7.2h-29.9zM-215.5 -69.5h35.9v7.2h-35.9zM167.6 -69.5h167.6v7.2h-167.6zM-262 -76.4h23.8v7.2h-23.8zM-220.3 -76.4h47.6v7.2h-47.6zM166.7 -76.4h160.8v7.2h-160.8zM-254.3 -83.4h17.7v7.2h-17.7zM-218.8 -83.4h53.2v7.2h-53.2zM165.6 -83.4h165.6v7.2h-165.6zM-246.4 -90.3h5.9v7.2h-5.9zM-223 -90.3h70.4v7.2h-70.4zM176 -90.3h170.2v7.2h-170.2zM-422.6 -97.3h21.4v7.2h-21.4zM-244.2 -97.3h110.5v7.2h-110.5zM226.8 -97.3h195.9v7.2h-195.9zM-418.4 -104.2h44.3v7.2h-44.3zM-241.7 -104.2h126.6v7.2h-126.6zM230.2 -104.2h188.2v7.2h-188.2zM-413.8 -111.1h60.9v7.2h-60.9zM-244.7 -111.1h159.4v7.2h-159.4zM227.6 -111.1h186.1v7.2h-186.1zM-408.6 -118h71.4v7.2h-71.4zM-247.3 -118h196.7v7.2h-196.7zM224.8 -118h183.8v7.2h-183.8zM-403 -124.8h81.6v7.2h-81.6zM-243.8 -124.8h216.1v7.2h-216.1zM210.6 -124.8h192.4v7.2h-192.4zM-397 -131.7h118.6v7.1h-118.6zM-245.7 -131.7h316.6v7.1h-316.6zM191.1 -131.7h206v7.1h-206zM-390.8 -138.4h492.9v7.1h-492.9zM150.4 -138.4h240.4v7.1h-240.4zM-384.1 -145.1h768.2v7h-768.2zM-376.8 -151.7h753.6v6.9h-753.6zM-369.1 -158.2h738.2v6.8h-738.2zM-361 -164.6h722.1v6.7h-722.1zM-352.7 -170.9h705.4v6.6h-705.4zM-344.1 -177.1h230.7v6.5h-230.7zM-37.8 -177.1h381.9v6.5h-381.9zM9.2 -183.1h170.2v6.3h-170.2z"/><path fill="#453882" d="M-352.7 164.6h705.4v6.6h-705.4zM-361 158.2h722.1v6.7h-722.1zM-369.1 151.7h738.2v6.8h-738.2zM-376.8 145.1h753.6v6.9h-753.6zM-384.1 138.4h768.2v7h-768.2zM-390.8 131.7h781.6v7.1h-781.6zM-397 124.8h794.1v7.1h-794.1zM-403 118h805.9v7.2h-805.9zM-408.6 111.1h817.2v7.2h-817.2zM-413.8 104.2h453.6v7.2h-453.6zM79.7 104.2h334.1v7.2h-334.1zM-418.4 97.3h441.4v7.2h-441.4zM103.6 97.3h314.8v7.2h-314.8zM-422.6 90.3h213.3v7.2h-213.3zM-180.3 90.3h191.9v7.2h-191.9zM127.9 90.3h151.2v7.2h-151.2zM343.1 90.3h79.6v7.2h-79.6zM-426.5 83.4h162.4v7.2h-162.4zM-176 83.4h5.9v7.2h-5.9zM-152.6 83.4h146.7v7.2h-146.7zM258.2 83.4h17.6v7.2h-17.6zM375.5 83.4h50.9v7.2h-50.9zM-429.8 76.4h134.1v7.2h-134.1zM-141.9 76.4h88.7v7.2h-88.7zM408.1 76.4h21.7v7.2h-21.7zM-432.7 69.5h111.2v7.2h-111.2zM-137 69.5h23.8v7.2h-23.8zM410.9 69.5h21.9v7.2h-21.9zM-435.1 62.5h87.8v7.2h-87.8zM413.1 62.5h22v7.2h-22zM-437.1 55.6h64.2v7.2h-64.2zM409 55.6h28.1v7.2h-28.1zM-439 48.6h52.3v7.2h-52.3zM410.8 48.6h28.2v7.2h-28.2zM-440.7 41.7h40.4v7.2h-40.4zM400.3 41.7h40.4v7.2h-40.4zM-442.2 34.7h40.5v7.2h-40.5zM371.2 34.7h70.9v7.2h-70.9zM-443.4 27.8h46.7v7.2h-46.7zM164.8 27.8h85.4v7.2h-85.4zM360 27.8h83.3v7.2h-83.3zM-444.3 20.8h46.8v7.2h-46.8zM134.5 20.8h140.7v7.2h-140.7zM354.7 20.8h89.6v7.2h-89.6zM-445 13.9h46.9v7.2h-46.9zM128.6 13.9h316.4v7.2h-316.4zM-445.5 6.9h40.8v7.2h-40.8zM128.8 6.9h316.7v7.2h-316.7zM-445.8 0h40.8v7.2h-40.8zM-196.4 0h67.5v7.2h-67.5zM135 0h310.8v7.2h-310.8zM-445.8 -6.9h96v7.2h-96zM-202.5 -6.9h104.3v7.2h-104.3zM-92 -6.9h6.1v7.2h-6.1zM12.3 -6.9h18.4v7.2h-18.4zM85.9 -6.9h6.1v7.2h-6.1zM128.9 -6.9h317v7.2h-317zM-445.5 -13.9h549.7v7.2h-549.7zM122.6 -13.9h322.9v7.2h-322.9zM-445 -20.8h555.3v7.2h-555.3zM122.5 -20.8h322.5v7.2h-322.5zM-444.3 -27.8h548.3v7.2h-548.3zM134.5 -27.8h309.8v7.2h-309.8zM-443.4 -34.7h541v7.2h-541zM140.4 -34.7h303v7.2h-303zM-442.2 -41.7h308.3v7.2h-308.3zM-54.8 -41.7h121.7v7.2h-121.7zM85.2 -41.7h6.1v7.2h-6.1zM146.1 -41.7h296.1v7.2h-296.1zM-272.9 -48.6h115.2v7.2h-115.2zM157.7 -48.6h230.5v7.2h-230.5zM-380.6 -55.6h6v7.2h-6zM-265.8 -55.6h96.7v7.2h-96.7zM163.1 -55.6h199.4v7.2h-199.4zM-379 -62.5h6v7.2h-6zM-264.7 -62.5h78.2v7.2h-78.2zM162.4 -62.5h180.5v7.2h-180.5zM-263.4 -69.5h23.9v7.2h-23.9zM-209.6 -69.5h23.9v7.2h-23.9zM167.6 -69.5h161.7v7.2h-161.7zM-256 -76.4h17.9v7.2h-17.9zM-214.4 -76.4h35.7v7.2h-35.7zM166.7 -76.4h154.8v7.2h-154.8zM-254.3 -83.4h11.8v7.2h-11.8zM-218.8 -83.4h47.3v7.2h-47.3zM171.5 -83.4h153.8v7.2h-153.8zM-217.1 -90.3h58.7v7.2h-58.7zM181.9 -90.3h152.6v7.2h-152.6zM-226.8 -97.3h87.2v7.2h-87.2zM232.6 -97.3h157v7.2h-157zM-418.4 -104.2h32.8v7.2h-32.8zM-236 -104.2h115.1v7.2h-115.1zM230.2 -104.2h188.2v7.2h-188.2zM-413.8 -111.1h49.5v7.2h-49.5zM-239 -111.1h136.6v7.2h-136.6zM233.3 -111.1h180.4v7.2h-180.4zM-408.6 -118h60.2v7.2h-60.2zM-241.6 -118h168.6v7.2h-168.6zM230.4 -118h178.2v7.2h-178.2zM-403 -124.8h65v7.2h-65zM-238.3 -124.8h182.9v7.2h-182.9zM221.6 -124.8h181.3v7.2h-181.3zM-397 -131.7h75v7.1h-75zM-240.2 -131.7h207.4v7.1h-207.4zM0 -131.7h43.7v7.1h-43.7zM207.4 -131.7h189.6v7.1h-189.6zM-390.8 -138.4h116.8v7.1h-116.8zM-241.8 -138.4h322.3v7.1h-322.3zM177.3 -138.4h213.5v7.1h-213.5zM-384.1 -145.1h494.9v7h-494.9zM137.3 -145.1h246.8v7h-246.8zM-376.8 -151.7h753.6v6.9h-753.6zM-369.1 -158.2h738.2v6.8h-738.2zM-361 -164.6h722.1v6.7h-722.1zM-295.4 -170.9h67.8v6.6h-67.8zM-159.8 -170.9h19.4v6.6h-19.4zM-14.5 -170.9h300.3v6.6h-300.3zM14.2 -177.1h160.6v6.5h-160.6z"/><path fill="#424086" d="M-361 158.2h722.1v6.7h-722.1zM-369.1 151.7h738.2v6.8h-738.2zM-376.8 145.1h753.6v6.9h-753.6zM-384.1 138.4h768.2v7h-768.2zM-390.8 131.7h781.6v7.1h-781.6zM-397 124.8h794.1v7.1h-794.1zM-403 118h805.9v7.2h-805.9zM-408.6 111.1h436.7v7.2h-436.7zM89.9 111.1h318.7v7.2h-318.7zM-413.8 104.2h430.8v7.2h-430.8zM108.1 104.2h305.6v7.2h-305.6zM-418.4 97.3h222.7v7.2h-222.7zM-178.4 97.3h184.2v7.2h-184.2zM149.7 97.3h86.3v7.2h-86.3zM247.5 97.3h28.8v7.2h-28.8zM333.8 97.3h84.6v7.2h-84.6zM-422.6 90.3h184.3v7.2h-184.3zM-174.4 90.3h11.6v7.2h-11.6zM-145.4 90.3h145.4v7.2h-145.4zM255.8 90.3h23.3v7.2h-23.3zM401.2 90.3h21.4v7.2h-21.4zM-426.5 83.4h144.8v7.2h-144.8zM-140.8 83.4h117.4v7.2h-117.4zM416.6 83.4h9.9v7.2h-9.9zM-429.8 76.4h122.3v7.2h-122.3zM-141.9 76.4h41.4v7.2h-41.4zM419.9 76.4h9.9v7.2h-9.9zM-432.7 69.5h99.3v7.2h-99.3zM-131 69.5h11.9v7.2h-11.9zM422.8 69.5h10v7.2h-10zM-435.1 62.5h75.8v7.2h-75.8zM419.1 62.5h16v7.2h-16zM-437.1 55.6h58.1v7.2h-58.1zM415.1 55.6h22v7.2h-22zM-439 48.6h40.2v7.2h-40.2zM416.8 48.6h22.1v7.2h-22.1zM-440.7 41.7h34.3v7.2h-34.3zM412.4 41.7h28.3v7.2h-28.3zM-442.2 34.7h34.4v7.2h-34.4zM383.4 34.7h58.8v7.2h-58.8zM-443.4 27.8h40.6v7.2h-40.6zM183.1 27.8h61v7.2h-61zM360 27.8h83.3v7.2h-83.3zM-444.3 20.8h40.7v7.2h-40.7zM140.7 20.8h128.4v7.2h-128.4zM354.7 20.8h89.6v7.2h-89.6zM-445 13.9h40.8v7.2h-40.8zM134.8 13.9h202.1v7.2h-202.1zM349.1 13.9h95.9v7.2h-95.9zM-445.5 6.9h34.7v7.2h-34.7zM134.9 6.9h310.6v7.2h-310.6zM-445.8 0h22.4v7.2h-22.4zM-190.2 0h55.2v7.2h-55.2zM141.1 0h304.7v7.2h-304.7zM-445.8 -6.9h40.8v7.2h-40.8zM-196.4 -6.9h79.8v7.2h-79.8zM147.3 -6.9h298.5v7.2h-298.5zM-445.5 -13.9h543.6v7.2h-543.6zM141 -13.9h304.5v7.2h-304.5zM-445 -20.8h549.1v7.2h-549.1zM140.9 -20.8h304.1v7.2h-304.1zM-444.3 -27.8h548.3v7.2h-548.3zM140.7 -27.8h303.7v7.2h-303.7zM-443.4 -34.7h541v7.2h-541zM146.5 -34.7h296.9v7.2h-296.9zM-432.1 -41.7h273.9v7.2h-273.9zM-42.6 -41.7h18.3v7.2h-18.3zM-18.3 -41.7h54.8v7.2h-54.8zM85.2 -41.7h6.1v7.2h-6.1zM152.1 -41.7h255.6v7.2h-255.6zM-266.9 -48.6h91v7.2h-91zM157.7 -48.6h218.3v7.2h-218.3zM-380.6 -55.6h6v7.2h-6zM-265.8 -55.6h72.5v7.2h-72.5zM163.1 -55.6h193.3v7.2h-193.3zM-379 -62.5h6v7.2h-6zM-264.7 -62.5h36.1v7.2h-36.1zM168.4 -62.5h168.4v7.2h-168.4zM-263.4 -69.5h23.9v7.2h-23.9zM-209.6 -69.5h18v7.2h-18zM167.6 -69.5h155.7v7.2h-155.7zM-256 -76.4h17.9v7.2h-17.9zM-214.4 -76.4h35.7v7.2h-35.7zM172.7 -76.4h142.9v7.2h-142.9zM-212.9 -83.4h41.4v7.2h-41.4zM171.5 -83.4h147.9v7.2h-147.9zM-211.2 -90.3h46.9v7.2h-46.9zM187.8 -90.3h23.5v7.2h-23.5zM228.8 -90.3h93.9v7.2h-93.9zM-215.1 -97.3h69.8v7.2h-69.8zM232.6 -97.3h122.1v7.2h-122.1zM-418.4 -104.2h15.5v7.2h-15.5zM-230.2 -104.2h103.6v7.2h-103.6zM236 -104.2h182.4v7.2h-182.4zM-413.8 -111.1h43.8v7.2h-43.8zM-233.3 -111.1h125.2v7.2h-125.2zM239 -111.1h174.7v7.2h-174.7zM-408.6 -118h54.6v7.2h-54.6zM-236 -118h146.1v7.2h-146.1zM236 -118h172.6v7.2h-172.6zM-403 -124.8h59.4v7.2h-59.4zM-232.7 -124.8h166.2v7.2h-166.2zM227.2 -124.8h175.8v7.2h-175.8zM-397 -131.7h64v7.1h-64zM-234.7 -131.7h180.1v7.1h-180.1zM5.5 -131.7h32.8v7.1h-32.8zM223.8 -131.7h173.2v7.1h-173.2zM-390.8 -138.4h63.1v7.1h-63.1zM-231 -138.4h188v7.1h-188zM0 -138.4h48.4v7.1h-48.4zM209.5 -138.4h181.3v7.1h-181.3zM-384.1 -145.1h62.1v7h-62.1zM-227 -145.1h190v7h-190zM-5.3 -145.1h89.7v7h-89.7zM174.2 -145.1h209.9v7h-209.9zM-376.8 -151.7h55.8v6.9h-55.8zM-300.3 -151.7h36.2v6.9h-36.2zM-207.1 -151.7h165.7v6.9h-165.7zM0 -151.7h376.8v6.9h-376.8zM-299.2 -158.2h50.7v6.8h-50.7zM-177.5 -158.2h45.6v6.8h-45.6zM-76.1 -158.2h25.4v6.8h-25.4zM0 -158.2h299.2v6.8h-299.2zM-292.6 -164.6h49.6v6.7h-49.6zM5 -164.6h272.7v6.7h-272.7zM-271.2 -170.9h19.4v6.6h-19.4zM19.4 -170.9h159.8v6.6h-159.8z"/><path fill="#3f4788" d="M-319.5 151.7h157.2v6.8h-157.2zM-367.6 145.1h238.2v6.9h-238.2zM-384.1 138.4h389.4v7h-389.4zM105.6 138.4h278.5v7h-278.5zM-390.8 131.7h406.9v7.1h-406.9zM91.3 131.7h299.5v7.1h-299.5zM-397 124.8h408v7.1h-408zM109.2 124.8h287.9v7.1h-287.9zM-403 118h408.5v7.2h-408.5zM133 118h133v7.2h-133zM304.8 118h98.2v7.2h-98.2zM-408.6 111.1h414.2v7.2h-414.2zM185.4 111.1h11.2v7.2h-11.2zM252.9 111.1h11.2v7.2h-11.2zM314.7 111.1h33.7v7.2h-33.7zM365.3 111.1h43.3v7.2h-43.3zM-398.4 104.2h210.6v7.2h-210.6zM-176.4 104.2h17.1v7.2h-17.1zM-142.3 104.2h148v7.2h-148zM250.4 104.2h17.1v7.2h-17.1zM324.4 104.2h22.8v7.2h-22.8zM381.3 104.2h11.4v7.2h-11.4zM-397.1 97.3h184.2v7.2h-184.2zM-172.7 97.3h11.5v7.2h-11.5zM-138.1 97.3h138.1v7.2h-138.1zM253.3 97.3h17.3v7.2h-17.3zM-407 90.3h151.2v7.2h-151.2zM-174.4 90.3h5.8v7.2h-5.8zM-139.5 90.3h127.9v7.2h-127.9zM261.7 90.3h11.6v7.2h-11.6zM-416.6 83.4h129.1v7.2h-129.1zM-140.8 83.4h105.6v7.2h-105.6zM-419.9 76.4h100.5v7.2h-100.5zM-136 76.4h29.6v7.2h-29.6zM-432.7 69.5h93.3v7.2h-93.3zM-435.1 62.5h69.9v7.2h-69.9zM425.1 62.5h10v7.2h-10zM-437.1 55.6h46.1v7.2h-46.1zM421.1 55.6h16v7.2h-16zM-439 48.6h34.2v7.2h-34.2zM422.9 48.6h16.1v7.2h-16.1zM-440.7 41.7h28.3v7.2h-28.3zM418.5 41.7h22.2v7.2h-22.2zM-442.2 34.7h28.3v7.2h-28.3zM389.5 34.7h52.7v7.2h-52.7zM-443.4 27.8h40.6v7.2h-40.6zM189.2 27.8h48.8v7.2h-48.8zM366.1 27.8h77.2v7.2h-77.2zM-444.3 20.8h40.7v7.2h-40.7zM146.8 20.8h116.2v7.2h-116.2zM354.7 20.8h89.6v7.2h-89.6zM-445 13.9h34.6v7.2h-34.6zM140.9 13.9h147v7.2h-147zM306.3 13.9h12.3v7.2h-12.3zM324.6 13.9h6.1v7.2h-6.1zM355.3 13.9h89.8v7.2h-89.8zM-445.5 6.9h28.5v7.2h-28.5zM141 6.9h304.5v7.2h-304.5zM-178 0h36.8v7.2h-36.8zM153.4 0h282.3v7.2h-282.3zM-196.4 -6.9h73.6v7.2h-73.6zM153.4 -6.9h276.1v7.2h-276.1zM-445.5 -13.9h237v7.2h-237zM-196.2 -13.9h294.3v7.2h-294.3zM147.2 -13.9h298.3v7.2h-298.3zM-445 -20.8h543v7.2h-543zM147 -20.8h298v7.2h-298zM-444.3 -27.8h542.1v7.2h-542.1zM146.8 -27.8h297.5v7.2h-297.5zM-443.4 -34.7h541v7.2h-541zM152.6 -34.7h290.8v7.2h-290.8zM-346.9 -41.7h158.2v7.2h-158.2zM152.1 -41.7h237.4v7.2h-237.4zM-266.9 -48.6h72.8v7.2h-72.8zM163.8 -48.6h206.2v7.2h-206.2zM-380.6 -55.6h6v7.2h-6zM-265.8 -55.6h66.5v7.2h-66.5zM169.1 -55.6h181.2v7.2h-181.2zM-379 -62.5h6v7.2h-6zM-264.7 -62.5h30.1v7.2h-30.1zM168.4 -62.5h162.4v7.2h-162.4zM-257.5 -69.5h18v7.2h-18zM167.6 -69.5h149.7v7.2h-149.7zM-256 -76.4h11.9v7.2h-11.9zM-208.4 -76.4h23.8v7.2h-23.8zM172.7 -76.4h142.9v7.2h-142.9zM-212.9 -83.4h35.5v7.2h-35.5zM171.5 -83.4h147.9v7.2h-147.9zM-211.2 -90.3h46.9v7.2h-46.9zM228.8 -90.3h93.9v7.2h-93.9zM-209.3 -97.3h58.1v7.2h-58.1zM232.6 -97.3h104.7v7.2h-104.7zM-207.2 -104.2h74.8v7.2h-74.8zM241.7 -104.2h161.2v7.2h-161.2zM-413.8 -111.1h32.5v7.2h-32.5zM-227.6 -111.1h113.8v7.2h-113.8zM244.7 -111.1h169v7.2h-169zM-408.6 -118h49v7.2h-49zM-230.4 -118h134.9v7.2h-134.9zM241.6 -118h167v7.2h-167zM-403 -124.8h53.9v7.2h-53.9zM-227.2 -124.8h149.6v7.2h-149.6zM232.7 -124.8h170.2v7.2h-170.2zM-397 -131.7h58.6v7.1h-58.6zM-223.8 -131.7h158.3v7.1h-158.3zM10.9 -131.7h21.8v7.1h-21.8zM229.3 -131.7h167.8v7.1h-167.8zM-390.8 -138.4h57.7v7.1h-57.7zM-214.9 -138.4h161.2v7.1h-161.2zM5.4 -138.4h32.2v7.1h-32.2zM225.6 -138.4h165.2v7.1h-165.2zM-384.1 -145.1h46.2v7h-46.2zM-195.3 -145.1h142.5v7h-142.5zM10.6 -145.1h26.4v7h-26.4zM221.7 -145.1h84.5v7h-84.5zM332.6 -145.1h51.5v7h-51.5zM-160.5 -151.7h10.4v6.9h-10.4zM-77.7 -151.7h25.9v6.9h-25.9zM25.9 -151.7h51.8v6.9h-51.8zM217.5 -151.7h72.5v6.9h-72.5zM-289 -158.2h25.4v6.8h-25.4zM25.4 -158.2h76.1v6.8h-76.1zM131.8 -158.2h40.6v6.8h-40.6zM218 -158.2h60.8v6.8h-60.8zM-282.7 -164.6h29.8v6.7h-29.8zM29.8 -164.6h138.8v6.7h-138.8zM233.1 -164.6h19.8v6.7h-19.8zM48.4 -170.9h14.5v6.6h-14.5z"/><path fill="#3d4e8a" d="M-269.2 145.1h82.8v6.9h-82.8zM-311.5 138.4h137.3v7h-137.3zM-158.4 138.4h5.3v7h-5.3zM-333.1 131.7h161.2v7.1h-161.2zM-166.5 131.7h16.1v7.1h-16.1zM360 131.7h10.7v7.1h-10.7zM-343.9 124.8h169.2v7.1h-169.2zM-169.2 124.8h16.4v7.1h-16.4zM360.3 124.8h16.4v7.1h-16.4zM-349.1 118h166.2v7.2h-166.2zM-171.8 118h16.6v7.2h-16.6zM-94.2 118h72v7.2h-72zM321.4 118h11.1v7.2h-11.1zM365.7 118h16.6v7.2h-16.6zM-359.6 111.1h168.6v7.2h-168.6zM-174.2 111.1h16.9v7.2h-16.9zM-112.4 111.1h101.2v7.2h-101.2zM320.3 111.1h16.9v7.2h-16.9zM376.5 111.1h11.2v7.2h-11.2zM-369.9 104.2h165v7.2h-165zM-176.4 104.2h17.1v7.2h-17.1zM-125.2 104.2h119.5v7.2h-119.5zM330.1 104.2h11.4v7.2h-11.4zM-379.9 97.3h143.9v7.2h-143.9zM-172.7 97.3h5.8v7.2h-5.8zM-132.4 97.3h120.9v7.2h-120.9zM259 97.3h11.5v7.2h-11.5zM-395.4 90.3h122.1v7.2h-122.1zM-174.4 90.3h5.8v7.2h-5.8zM-133.7 90.3h110.5v7.2h-110.5zM261.7 90.3h11.6v7.2h-11.6zM-404.9 83.4h105.6v7.2h-105.6zM-135 83.4h35.2v7.2h-35.2zM-414 76.4h88.7v7.2h-88.7zM-130.1 76.4h17.7v7.2h-17.7zM-422.8 69.5h71.5v7.2h-71.5zM-435.1 62.5h57.9v7.2h-57.9zM-437.1 55.6h40.1v7.2h-40.1zM-439 48.6h22.1v7.2h-22.1zM428.9 48.6h10v7.2h-10zM-440.7 41.7h16.1v7.2h-16.1zM424.6 41.7h16.1v7.2h-16.1zM-442.2 34.7h28.3v7.2h-28.3zM401.7 34.7h40.5v7.2h-40.5zM-443.4 27.8h34.5v7.2h-34.5zM201.4 27.8h24.4v7.2h-24.4zM366.1 27.8h77.2v7.2h-77.2zM-444.3 20.8h34.6v7.2h-34.6zM159 20.8h97.8v7.2h-97.8zM360.8 20.8h83.5v7.2h-83.5zM-445 13.9h28.5v7.2h-28.5zM147 13.9h134.8v7.2h-134.8zM355.3 13.9h89.8v7.2h-89.8zM-445.5 6.9h16.3v7.2h-16.3zM153.3 6.9h292.2v7.2h-292.2zM-178 0h36.8v7.2h-36.8zM165.7 0h239.3v7.2h-239.3zM-196.4 -6.9h67.5v7.2h-67.5zM178 -6.9h214.8v7.2h-214.8zM-445.5 -13.9h145v7.2h-145zM-233 -13.9h12.3v7.2h-12.3zM-196.2 -13.9h165.6v7.2h-165.6zM-12.3 -13.9h79.7v7.2h-79.7zM85.8 -13.9h6.1v7.2h-6.1zM159.4 -13.9h24.5v7.2h-24.5zM196.2 -13.9h249.3v7.2h-249.3zM-445 -20.8h543v7.2h-543zM147 -20.8h298v7.2h-298zM-444.3 -27.8h542.1v7.2h-542.1zM146.8 -27.8h297.5v7.2h-297.5zM-443.4 -34.7h309.1v7.2h-309.1zM-103.7 -34.7h201.4v7.2h-201.4zM152.6 -34.7h290.8v7.2h-290.8zM-328.6 -41.7h133.9v7.2h-133.9zM158.2 -41.7h225.2v7.2h-225.2zM-266.9 -48.6h66.7v7.2h-66.7zM169.8 -48.6h194.1v7.2h-194.1zM-380.6 -55.6h6v7.2h-6zM-265.8 -55.6h60.4v7.2h-60.4zM169.1 -55.6h175.2v7.2h-175.2zM-264.7 -62.5h30.1v7.2h-30.1zM168.4 -62.5h156.4v7.2h-156.4zM-257.5 -69.5h18v7.2h-18zM173.6 -69.5h137.7v7.2h-137.7zM-256 -76.4h11.9v7.2h-11.9zM-208.4 -76.4h23.8v7.2h-23.8zM172.7 -76.4h137v7.2h-137zM-207 -83.4h29.6v7.2h-29.6zM177.4 -83.4h136v7.2h-136zM-205.4 -90.3h35.2v7.2h-35.2zM234.7 -90.3h82.1v7.2h-82.1zM-203.5 -97.3h52.3v7.2h-52.3zM238.4 -97.3h87.2v7.2h-87.2zM-195.7 -104.2h57.6v7.2h-57.6zM241.7 -104.2h138.1v7.2h-138.1zM-413.8 -111.1h21.1v7.2h-21.1zM-187.8 -111.1h68.3v7.2h-68.3zM244.7 -111.1h169v7.2h-169zM-408.6 -118h37.7v7.2h-37.7zM-219.2 -118h28.1v7.2h-28.1zM-185.4 -118h78.7v7.2h-78.7zM241.6 -118h167v7.2h-167zM-403 -124.8h48.3v7.2h-48.3zM-216.1 -124.8h127.4v7.2h-127.4zM243.8 -124.8h159.2v7.2h-159.2zM-397 -131.7h47.7v7.1h-47.7zM-202 -131.7h131v7.1h-131zM16.4 -131.7h10.9v7.1h-10.9zM240.2 -131.7h54.6v7.1h-54.6zM311.2 -131.7h85.9v7.1h-85.9zM-390.8 -138.4h47v7.1h-47zM-182.7 -138.4h123.6v7.1h-123.6zM10.7 -138.4h21.5v7.1h-21.5zM236.4 -138.4h53.7v7.1h-53.7zM327.7 -138.4h63.1v7.1h-63.1zM-84.5 -145.1h26.4v7h-26.4zM232.3 -145.1h58.1v7h-58.1zM233 -151.7h46.6v6.9h-46.6zM243.4 -158.2h15.2v6.8h-15.2z"/><path fill="#39558c" d="M-258.7 138.4h68.6v7h-68.6zM-295.5 131.7h112.8v7.1h-112.8zM-161.2 131.7h5.4v7.1h-5.4zM360 131.7h5.4v7.1h-5.4zM-311.2 124.8h125.6v7.1h-125.6zM-163.8 124.8h10.9v7.1h-10.9zM365.7 124.8h10.9v7.1h-10.9zM-321.4 118h133v7.2h-133zM-171.8 118h16.6v7.2h-16.6zM365.7 118h16.6v7.2h-16.6zM-337.2 111.1h140.5v7.2h-140.5zM-174.2 111.1h16.9v7.2h-16.9zM-89.9 111.1h61.8v7.2h-61.8zM325.9 111.1h11.2v7.2h-11.2zM376.5 111.1h5.6v7.2h-5.6zM-352.9 104.2h136.6v7.2h-136.6zM-170.7 104.2h11.4v7.2h-11.4zM-102.4 104.2h85.4v7.2h-85.4zM-368.4 97.3h120.9v7.2h-120.9zM-172.7 97.3h5.8v7.2h-5.8zM-120.9 97.3h97.8v7.2h-97.8zM-383.8 90.3h98.8v7.2h-98.8zM-133.7 90.3h34.9v7.2h-34.9zM-87.2 90.3h52.3v7.2h-52.3zM-399 83.4h88v7.2h-88zM-135 83.4h29.3v7.2h-29.3zM-408.1 76.4h76.9v7.2h-76.9zM-130.1 76.4h17.7v7.2h-17.7zM-416.8 69.5h59.5v7.2h-59.5zM-419.1 62.5h35.9v7.2h-35.9zM-427.1 55.6h18v7.2h-18zM-442.2 34.7h22.3v7.2h-22.3zM407.8 34.7h34.4v7.2h-34.4zM-443.4 27.8h28.4v7.2h-28.4zM372.2 27.8h71.1v7.2h-71.1zM-444.3 20.8h34.6v7.2h-34.6zM165.1 20.8h85.6v7.2h-85.6zM360.8 20.8h83.5v7.2h-83.5zM-445 13.9h28.5v7.2h-28.5zM153.1 13.9h116.4v7.2h-116.4zM361.4 13.9h83.6v7.2h-83.6zM159.4 6.9h190.1v7.2h-190.1zM355.7 6.9h89.8v7.2h-89.8zM-171.8 0h24.5v7.2h-24.5zM171.8 0h214.8v7.2h-214.8zM-196.4 -6.9h67.5v7.2h-67.5zM196.4 -6.9h184.1v7.2h-184.1zM-445.5 -13.9h89.8v7.2h-89.8zM-196.2 -13.9h153.3v7.2h-153.3zM6.1 -13.9h30.7v7.2h-30.7zM208.5 -13.9h237v7.2h-237zM-445 -20.8h242.9v7.2h-242.9zM-196 -20.8h294v7.2h-294zM153.1 -20.8h30.6v7.2h-30.6zM196 -20.8h249v7.2h-249zM-444.3 -27.8h542.1v7.2h-542.1zM152.9 -27.8h36.7v7.2h-36.7zM195.7 -27.8h248.6v7.2h-248.6zM-443.4 -34.7h303v7.2h-303zM-97.6 -34.7h170.9v7.2h-170.9zM79.3 -34.7h18.3v7.2h-18.3zM158.7 -34.7h284.7v7.2h-284.7zM-316.5 -41.7h121.7v7.2h-121.7zM170.4 -41.7h206.9v7.2h-206.9zM-266.9 -48.6h66.7v7.2h-66.7zM169.8 -48.6h188v7.2h-188zM-265.8 -55.6h54.4v7.2h-54.4zM169.1 -55.6h169.1v7.2h-169.1zM-258.7 -62.5h24.1v7.2h-24.1zM168.4 -62.5h150.4v7.2h-150.4zM-257.5 -69.5h12v7.2h-12zM173.6 -69.5h125.7v7.2h-125.7zM-250.1 -76.4h6v7.2h-6zM-202.5 -76.4h11.9v7.2h-11.9zM178.6 -76.4h125v7.2h-125zM-207 -83.4h23.7v7.2h-23.7zM177.4 -83.4h136v7.2h-136zM-205.4 -90.3h29.3v7.2h-29.3zM234.7 -90.3h82.1v7.2h-82.1zM-197.7 -97.3h40.7v7.2h-40.7zM238.4 -97.3h81.4v7.2h-81.4zM-189.9 -104.2h46v7.2h-46zM247.5 -104.2h103.6v7.2h-103.6zM-182.1 -111.1h56.9v7.2h-56.9zM250.4 -111.1h163.4v7.2h-163.4zM-408.6 -118h32.1v7.2h-32.1zM-174.2 -118h61.8v7.2h-61.8zM247.3 -118h161.3v7.2h-161.3zM-403 -124.8h37.2v7.2h-37.2zM-160.7 -124.8h61v7.2h-61zM249.4 -124.8h38.8v7.2h-38.8zM310.3 -124.8h92.7v7.2h-92.7zM-397 -131.7h42.2v7.1h-42.2zM-141.9 -131.7h54.6v7.1h-54.6zM251.1 -131.7h27.3v7.1h-27.3zM322.1 -131.7h75v7.1h-75zM-91.3 -138.4h16.1v7.1h-16.1zM16.1 -138.4h10.7v7.1h-10.7zM247.1 -138.4h32.2v7.1h-32.2zM360 -138.4h16.1v7.1h-16.1zM248.1 -145.1h26.4v7h-26.4z"/><path fill="#365c8d" d="M-263.3 131.7h69.8v7.1h-69.8zM-161.2 131.7h5.4v7.1h-5.4zM-289.3 124.8h98.3v7.1h-98.3zM-163.8 124.8h5.5v7.1h-5.5zM365.7 124.8h5.5v7.1h-5.5zM-304.8 118h110.8v7.2h-110.8zM-166.2 118h11.1v7.2h-11.1zM371.3 118h11.1v7.2h-11.1zM-320.3 111.1h112.4v7.2h-112.4zM-168.6 111.1h11.2v7.2h-11.2zM-61.8 111.1h11.2v7.2h-11.2zM376.5 111.1h5.6v7.2h-5.6zM-341.5 104.2h113.8v7.2h-113.8zM-170.7 104.2h5.7v7.2h-5.7zM-85.4 104.2h56.9v7.2h-56.9zM-356.9 97.3h92.1v7.2h-92.1zM-172.7 97.3h5.8v7.2h-5.8zM-86.3 97.3h51.8v7.2h-51.8zM-377.9 90.3h87.2v7.2h-87.2zM-127.9 90.3h17.4v7.2h-17.4zM-69.8 90.3h17.4v7.2h-17.4zM-387.3 83.4h70.4v7.2h-70.4zM-129.1 83.4h17.6v7.2h-17.6zM-402.2 76.4h59.1v7.2h-59.1zM-404.9 69.5h35.7v7.2h-35.7zM-442.2 34.7h10.1v7.2h-10.1zM419.9 34.7h22.3v7.2h-22.3zM-443.4 27.8h28.4v7.2h-28.4zM372.2 27.8h71.1v7.2h-71.1zM-444.3 20.8h28.5v7.2h-28.5zM171.2 20.8h79.5v7.2h-79.5zM360.8 20.8h83.5v7.2h-83.5zM-445 13.9h22.4v7.2h-22.4zM159.3 13.9h104.1v7.2h-104.1zM361.4 13.9h83.6v7.2h-83.6zM165.6 6.9h184v7.2h-184zM361.8 6.9h67.5v7.2h-67.5zM-171.8 0h18.4v7.2h-18.4zM178 0h178v7.2h-178zM368.2 0h12.3v7.2h-12.3zM-196.4 -6.9h61.4v7.2h-61.4zM202.5 -6.9h165.7v7.2h-165.7zM-445.5 -13.9h46.9v7.2h-46.9zM-196.2 -13.9h147.2v7.2h-147.2zM6.1 -13.9h24.5v7.2h-24.5zM214.6 -13.9h230.9v7.2h-230.9zM-445 -20.8h242.9v7.2h-242.9zM-196 -20.8h294v7.2h-294zM171.5 -20.8h12.3v7.2h-12.3zM202.1 -20.8h242.9v7.2h-242.9zM-444.3 -27.8h542.1v7.2h-542.1zM159 -27.8h30.6v7.2h-30.6zM195.7 -27.8h248.6v7.2h-248.6zM-443.4 -34.7h248.1v7.2h-248.1zM-189.2 -34.7h6.1v7.2h-6.1zM-170.9 -34.7h18.3v7.2h-18.3zM-85.4 -34.7h158.7v7.2h-158.7zM85.4 -34.7h6.1v7.2h-6.1zM170.9 -34.7h18.3v7.2h-18.3zM195.3 -34.7h248.1v7.2h-248.1zM-310.4 -41.7h109.5v7.2h-109.5zM170.4 -41.7h200.8v7.2h-200.8zM-260.8 -48.6h60.7v7.2h-60.7zM169.8 -48.6h182v7.2h-182zM-259.8 -55.6h48.3v7.2h-48.3zM169.1 -55.6h163.1v7.2h-163.1zM-258.7 -62.5h18v7.2h-18zM168.4 -62.5h144.4v7.2h-144.4zM-257.5 -69.5h12v7.2h-12zM173.6 -69.5h119.7v7.2h-119.7zM-202.5 -76.4h6v7.2h-6zM178.6 -76.4h119.1v7.2h-119.1zM-207 -83.4h23.7v7.2h-23.7zM177.4 -83.4h136v7.2h-136zM-205.4 -90.3h29.3v7.2h-29.3zM240.6 -90.3h76.3v7.2h-76.3zM-197.7 -97.3h34.9v7.2h-34.9zM244.2 -97.3h69.8v7.2h-69.8zM-184.2 -104.2h40.3v7.2h-40.3zM253.3 -104.2h80.6v7.2h-80.6zM-176.4 -111.1h45.5v7.2h-45.5zM256.1 -111.1h136.6v7.2h-136.6zM-408.6 -118h20.9v7.2h-20.9zM-168.6 -118h50.6v7.2h-50.6zM258.5 -118h39.3v7.2h-39.3zM309.1 -118h99.5v7.2h-99.5zM-403 -124.8h26.2v7.2h-26.2zM-149.6 -124.8h44.3v7.2h-44.3zM254.9 -124.8h27.7v7.2h-27.7zM321.4 -124.8h81.6v7.2h-81.6zM-397 -131.7h20.4v7.1h-20.4zM338.5 -131.7h58.6v7.1h-58.6z"/><path fill="#33638d" d="M-267.5 124.8h65.5v7.1h-65.5zM-163.8 124.8h5.5v7.1h-5.5zM365.7 124.8h5.5v7.1h-5.5zM-288.1 118h83.1v7.2h-83.1zM-166.2 118h5.5v7.2h-5.5zM371.3 118h5.5v7.2h-5.5zM-309.1 111.1h95.5v7.2h-95.5zM-168.6 111.1h5.6v7.2h-5.6zM376.5 111.1h5.6v7.2h-5.6zM-330.1 104.2h85.4v7.2h-85.4zM-170.7 104.2h5.7v7.2h-5.7zM-68.3 104.2h22.8v7.2h-22.8zM-345.3 97.3h69.1v7.2h-69.1zM-172.7 97.3h5.8v7.2h-5.8zM-69.1 97.3h23v7.2h-23zM-366.3 90.3h64v7.2h-64zM-381.4 83.4h58.7v7.2h-58.7zM-129.1 83.4h11.7v7.2h-11.7zM-390.4 76.4h41.4v7.2h-41.4zM-393 69.5h11.9v7.2h-11.9zM-443.4 27.8h22.3v7.2h-22.3zM372.2 27.8h71.1v7.2h-71.1zM-444.3 20.8h22.3v7.2h-22.3zM177.3 20.8h67.3v7.2h-67.3zM360.8 20.8h83.5v7.2h-83.5zM-445 13.9h16.3v7.2h-16.3zM165.4 13.9h98v7.2h-98zM361.4 13.9h83.6v7.2h-83.6zM171.7 6.9h110.4v7.2h-110.4zM300.5 6.9h42.9v7.2h-42.9zM361.8 6.9h55.2v7.2h-55.2zM-165.7 0h6.1v7.2h-6.1zM184.1 0h171.8v7.2h-171.8zM-196.4 -6.9h61.4v7.2h-61.4zM214.8 -6.9h147.3v7.2h-147.3zM-196.2 -13.9h134.9v7.2h-134.9zM12.3 -13.9h18.4v7.2h-18.4zM226.9 -13.9h218.6v7.2h-218.6zM-445 -20.8h242.9v7.2h-242.9zM-196 -20.8h269.5v7.2h-269.5zM85.8 -20.8h6.1v7.2h-6.1zM177.6 -20.8h6.1v7.2h-6.1zM208.3 -20.8h236.8v7.2h-236.8zM-444.3 -27.8h242.5v7.2h-242.5zM-195.7 -27.8h293.5v7.2h-293.5zM171.2 -27.8h12.2v7.2h-12.2zM201.8 -27.8h242.5v7.2h-242.5zM-443.4 -34.7h242v7.2h-242zM-189.2 -34.7h6.1v7.2h-6.1zM-164.8 -34.7h6.1v7.2h-6.1zM-73.2 -34.7h140.4v7.2h-140.4zM85.4 -34.7h6.1v7.2h-6.1zM170.9 -34.7h18.3v7.2h-18.3zM195.3 -34.7h248.1v7.2h-248.1zM-304.3 -41.7h103.5v7.2h-103.5zM170.4 -41.7h18.3v7.2h-18.3zM194.7 -41.7h176.5v7.2h-176.5zM-260.8 -48.6h54.6v7.2h-54.6zM169.8 -48.6h182v7.2h-182zM-259.8 -55.6h42.3v7.2h-42.3zM169.1 -55.6h163.1v7.2h-163.1zM-258.7 -62.5h18v7.2h-18zM174.4 -62.5h132.3v7.2h-132.3zM-257.5 -69.5h12v7.2h-12zM173.6 -69.5h107.8v7.2h-107.8zM178.6 -76.4h113.1v7.2h-113.1zM-201.1 -83.4h17.7v7.2h-17.7zM177.4 -83.4h136v7.2h-136zM-199.5 -90.3h17.6v7.2h-17.6zM240.6 -90.3h76.3v7.2h-76.3zM-191.9 -97.3h23.3v7.2h-23.3zM244.2 -97.3h69.8v7.2h-69.8zM-178.4 -104.2h28.8v7.2h-28.8zM259 -104.2h51.8v7.2h-51.8zM-170.7 -111.1h34.1v7.2h-34.1zM267.5 -111.1h34.1v7.2h-34.1zM313 -111.1h62.6v7.2h-62.6zM-157.3 -118h33.7v7.2h-33.7zM269.7 -118h22.5v7.2h-22.5zM320.3 -118h88.3v7.2h-88.3zM-403 -124.8h15.1v7.2h-15.1zM-138.5 -124.8h22.2v7.2h-22.2zM332.5 -124.8h70.5v7.2h-70.5zM360.3 -131.7h10.9v7.1h-10.9z"/><path fill="#30698e" d="M-163.8 124.8h5.5v7.1h-5.5zM365.7 124.8h5.5v7.1h-5.5zM-266 118h49.9v7.2h-49.9zM-166.2 118h5.5v7.2h-5.5zM371.3 118h5.5v7.2h-5.5zM-292.2 111.1h61.8v7.2h-61.8zM-168.6 111.1h5.6v7.2h-5.6zM-313 104.2h51.2v7.2h-51.2zM-170.7 104.2h5.7v7.2h-5.7zM-333.8 97.3h40.3v7.2h-40.3zM-354.7 90.3h40.7v7.2h-40.7zM-369.7 83.4h35.2v7.2h-35.2zM-378.5 76.4h11.8v7.2h-11.8zM-443.4 27.8h16.2v7.2h-16.2zM378.3 27.8h65v7.2h-65zM-444.3 20.8h22.3v7.2h-22.3zM183.5 20.8h55v7.2h-55zM360.8 20.8h83.5v7.2h-83.5zM-445 13.9h10.1v7.2h-10.1zM171.5 13.9h85.8v7.2h-85.8zM361.4 13.9h83.6v7.2h-83.6zM171.7 6.9h104.2v7.2h-104.2zM306.6 6.9h36.8v7.2h-36.8zM361.8 6.9h36.8v7.2h-36.8zM190.2 0h159.5v7.2h-159.5zM-196.4 -6.9h12.3v7.2h-12.3zM-178 -6.9h36.8v7.2h-36.8zM227 -6.9h128.9v7.2h-128.9zM-196.2 -13.9h79.7v7.2h-79.7zM12.3 -13.9h18.4v7.2h-18.4zM233 -13.9h165.6v7.2h-165.6zM-445 -20.8h242.9v7.2h-242.9zM-196 -20.8h269.5v7.2h-269.5zM85.8 -20.8h6.1v7.2h-6.1zM177.6 -20.8h6.1v7.2h-6.1zM214.4 -20.8h230.6v7.2h-230.6zM-444.3 -27.8h242.5v7.2h-242.5zM-195.7 -27.8h293.5v7.2h-293.5zM171.2 -27.8h12.2v7.2h-12.2zM201.8 -27.8h242.5v7.2h-242.5zM-433.3 -34.7h231.9v7.2h-231.9zM-67.1 -34.7h128.2v7.2h-128.2zM170.9 -34.7h18.3v7.2h-18.3zM201.4 -34.7h195.3v7.2h-195.3zM-298.2 -41.7h97.4v7.2h-97.4zM170.4 -41.7h18.3v7.2h-18.3zM194.7 -41.7h170.4v7.2h-170.4zM-260.8 -48.6h54.6v7.2h-54.6zM169.8 -48.6h175.9v7.2h-175.9zM-259.8 -55.6h42.3v7.2h-42.3zM169.1 -55.6h157.1v7.2h-157.1zM-258.7 -62.5h18v7.2h-18zM174.4 -62.5h120.3v7.2h-120.3zM-257.5 -69.5h12v7.2h-12zM173.6 -69.5h101.8v7.2h-101.8zM184.6 -76.4h77.4v7.2h-77.4zM-201.1 -83.4h11.8v7.2h-11.8zM183.4 -83.4h47.3v7.2h-47.3zM242.5 -83.4h65.1v7.2h-65.1zM-199.5 -90.3h17.6v7.2h-17.6zM240.6 -90.3h76.3v7.2h-76.3zM250 -97.3h64v7.2h-64zM-172.7 -104.2h11.5v7.2h-11.5zM264.8 -104.2h46v7.2h-46zM-165 -111.1h22.8v7.2h-22.8zM273.2 -111.1h28.5v7.2h-28.5zM-151.7 -118h22.5v7.2h-22.5zM275.4 -118h11.2v7.2h-11.2zM331.5 -118h56.2v7.2h-56.2zM349.1 -124.8h38.8v7.2h-38.8z"/><path fill="#2e6f8e" d="M-163.8 124.8h5.5v7.1h-5.5zM365.7 124.8h5.5v7.1h-5.5zM-166.2 118h5.5v7.2h-5.5zM371.3 118h5.5v7.2h-5.5zM-168.6 111.1h5.6v7.2h-5.6zM-170.7 104.2h5.7v7.2h-5.7zM-443.4 27.8h10.1v7.2h-10.1zM402.8 27.8h40.6v7.2h-40.6zM-444.3 20.8h16.2v7.2h-16.2zM189.6 20.8h48.9v7.2h-48.9zM366.9 20.8h77.4v7.2h-77.4zM177.6 13.9h73.5v7.2h-73.5zM361.4 13.9h83.6v7.2h-83.6zM177.8 6.9h92v7.2h-92zM312.7 6.9h24.5v7.2h-24.5zM361.8 6.9h30.7v7.2h-30.7zM196.4 0h153.4v7.2h-153.4zM-196.4 -6.9h12.3v7.2h-12.3zM-178 -6.9h36.8v7.2h-36.8zM233.2 -6.9h122.7v7.2h-122.7zM-196.2 -13.9h67.5v7.2h-67.5zM12.3 -13.9h12.3v7.2h-12.3zM233 -13.9h153.3v7.2h-153.3zM-445 -20.8h242.9v7.2h-242.9zM-196 -20.8h263.4v7.2h-263.4zM177.6 -20.8h6.1v7.2h-6.1zM226.6 -20.8h218.4v7.2h-218.4zM-444.3 -27.8h242.5v7.2h-242.5zM-195.7 -27.8h61.2v7.2h-61.2zM-122.3 -27.8h195.7v7.2h-195.7zM85.6 -27.8h6.1v7.2h-6.1zM171.2 -27.8h12.2v7.2h-12.2zM207.9 -27.8h236.4v7.2h-236.4zM-408.9 -34.7h207.5v7.2h-207.5zM-61 -34.7h109.8v7.2h-109.8zM170.9 -34.7h12.2v7.2h-12.2zM201.4 -34.7h189.2v7.2h-189.2zM-286 -41.7h85.2v7.2h-85.2zM170.4 -41.7h18.3v7.2h-18.3zM194.7 -41.7h164.3v7.2h-164.3zM-260.8 -48.6h54.6v7.2h-54.6zM169.8 -48.6h169.8v7.2h-169.8zM-259.8 -55.6h36.2v7.2h-36.2zM169.1 -55.6h151v7.2h-151zM-258.7 -62.5h18v7.2h-18zM174.4 -62.5h120.3v7.2h-120.3zM-251.5 -69.5h6v7.2h-6zM173.6 -69.5h89.8v7.2h-89.8zM184.6 -76.4h71.5v7.2h-71.5zM183.4 -83.4h41.4v7.2h-41.4zM242.5 -83.4h59.1v7.2h-59.1zM246.4 -90.3h70.4v7.2h-70.4zM255.8 -97.3h58.1v7.2h-58.1zM270.5 -104.2h34.5v7.2h-34.5zM278.9 -111.1h22.8v7.2h-22.8z"/><path fill="#2b758e" d="M365.7 124.8h5.5v7.1h-5.5zM-166.2 118h5.5v7.2h-5.5zM371.3 118h5.5v7.2h-5.5zM-168.6 111.1h5.6v7.2h-5.6zM-170.7 104.2h5.7v7.2h-5.7zM415 27.8h18.3v7.2h-18.3zM-444.3 20.8h10.1v7.2h-10.1zM195.7 20.8h36.7v7.2h-36.7zM366.9 20.8h77.4v7.2h-77.4zM177.6 13.9h73.5v7.2h-73.5zM361.4 13.9h67.4v7.2h-67.4zM184 6.9h73.6v7.2h-73.6zM318.9 6.9h18.4v7.2h-18.4zM361.8 6.9h24.5v7.2h-24.5zM202.5 0h147.3v7.2h-147.3zM-190.2 -6.9h6.1v7.2h-6.1zM-178 -6.9h36.8v7.2h-36.8zM233.2 -6.9h116.6v7.2h-116.6zM-196.2 -13.9h61.3v7.2h-61.3zM12.3 -13.9h12.3v7.2h-12.3zM239.1 -13.9h141v7.2h-141zM-445 -20.8h242.9v7.2h-242.9zM-196 -20.8h263.4v7.2h-263.4zM232.8 -20.8h212.3v7.2h-212.3zM-444.3 -27.8h242.5v7.2h-242.5zM-195.7 -27.8h55v7.2h-55zM-116.2 -27.8h189.6v7.2h-189.6zM85.6 -27.8h6.1v7.2h-6.1zM177.3 -27.8h6.1v7.2h-6.1zM207.9 -27.8h236.4v7.2h-236.4zM-390.6 -34.7h189.2v7.2h-189.2zM-61 -34.7h36.6v7.2h-36.6zM-18.3 -34.7h54.9v7.2h-54.9zM170.9 -34.7h12.2v7.2h-12.2zM201.4 -34.7h183.1v7.2h-183.1zM-273.9 -41.7h73v7.2h-73zM170.4 -41.7h18.3v7.2h-18.3zM200.8 -41.7h158.2v7.2h-158.2zM-260.8 -48.6h54.6v7.2h-54.6zM169.8 -48.6h18.2v7.2h-18.2zM194.1 -48.6h145.6v7.2h-145.6zM-259.8 -55.6h30.2v7.2h-30.2zM169.1 -55.6h151v7.2h-151zM-258.7 -62.5h12v7.2h-12zM174.4 -62.5h114.3v7.2h-114.3zM185.6 -69.5h71.8v7.2h-71.8zM184.6 -76.4h59.5v7.2h-59.5zM183.4 -83.4h41.4v7.2h-41.4zM248.4 -83.4h53.2v7.2h-53.2zM246.4 -90.3h64.5v7.2h-64.5zM261.7 -97.3h52.3v7.2h-52.3zM276.3 -104.2h28.8v7.2h-28.8zM278.9 -111.1h17.1v7.2h-17.1z"/><path fill="#297b8e" d="M365.7 124.8h5.5v7.1h-5.5zM-166.2 118h5.5v7.2h-5.5zM371.3 118h5.5v7.2h-5.5zM-168.6 111.1h5.6v7.2h-5.6zM-170.7 104.2h5.7v7.2h-5.7zM201.8 20.8h24.5v7.2h-24.5zM366.9 20.8h77.4v7.2h-77.4zM183.8 13.9h61.3v7.2h-61.3zM361.4 13.9h61.3v7.2h-61.3zM190.1 6.9h67.5v7.2h-67.5zM318.9 6.9h18.4v7.2h-18.4zM367.9 6.9h18.4v7.2h-18.4zM214.8 0h61.4v7.2h-61.4zM300.7 0h49.1v7.2h-49.1zM-190.2 -6.9h6.1v7.2h-6.1zM-178 -6.9h30.7v7.2h-30.7zM239.3 -6.9h110.5v7.2h-110.5zM-196.2 -13.9h61.3v7.2h-61.3zM18.4 -13.9h6.1v7.2h-6.1zM239.1 -13.9h18.4v7.2h-18.4zM263.7 -13.9h110.4v7.2h-110.4zM-445 -20.8h236.8v7.2h-236.8zM-196 -20.8h171.5v7.2h-171.5zM-12.3 -20.8h55.1v7.2h-55.1zM245 -20.8h6.1v7.2h-6.1zM269.5 -20.8h175.5v7.2h-175.5zM-444.3 -27.8h242.5v7.2h-242.5zM-195.7 -27.8h55v7.2h-55zM-110.1 -27.8h183.5v7.2h-183.5zM177.3 -27.8h6.1v7.2h-6.1zM214 -27.8h230.3v7.2h-230.3zM-366.1 -34.7h164.8v7.2h-164.8zM-54.9 -34.7h30.5v7.2h-30.5zM-6.1 -34.7h30.5v7.2h-30.5zM170.9 -34.7h12.2v7.2h-12.2zM201.4 -34.7h177v7.2h-177zM-267.8 -41.7h66.9v7.2h-66.9zM170.4 -41.7h12.2v7.2h-12.2zM200.8 -41.7h152.1v7.2h-152.1zM-260.8 -48.6h48.5v7.2h-48.5zM169.8 -48.6h18.2v7.2h-18.2zM194.1 -48.6h139.5v7.2h-139.5zM-259.8 -55.6h30.2v7.2h-30.2zM175.2 -55.6h138.9v7.2h-138.9zM-258.7 -62.5h12v7.2h-12zM174.4 -62.5h114.3v7.2h-114.3zM185.6 -69.5h65.9v7.2h-65.9zM190.5 -76.4h47.6v7.2h-47.6zM183.4 -83.4h35.5v7.2h-35.5zM272.1 -83.4h23.7v7.2h-23.7zM252.3 -90.3h58.7v7.2h-58.7zM267.5 -97.3h46.5v7.2h-46.5zM282 -104.2h23v7.2h-23zM278.9 -111.1h17.1v7.2h-17.1z"/><path fill="#26828e" d="M-166.2 118h5.5v7.2h-5.5zM371.3 118h5.5v7.2h-5.5zM-168.6 111.1h5.6v7.2h-5.6zM366.9 20.8h61.2v7.2h-61.2zM189.9 13.9h55.1v7.2h-55.1zM361.4 13.9h42.9v7.2h-42.9zM190.1 6.9h61.3v7.2h-61.3zM325 6.9h12.3v7.2h-12.3zM367.9 6.9h18.4v7.2h-18.4zM233.2 0h24.5v7.2h-24.5zM306.8 0h36.8v7.2h-36.8zM-178 -6.9h30.7v7.2h-30.7zM239.3 -6.9h18.4v7.2h-18.4zM270 -6.9h79.8v7.2h-79.8zM-196.2 -13.9h55.2v7.2h-55.2zM239.1 -13.9h12.3v7.2h-12.3zM275.9 -13.9h92v7.2h-92zM-445 -20.8h236.8v7.2h-236.8zM-196 -20.8h61.3v7.2h-61.3zM-122.5 -20.8h98v7.2h-98zM0 -20.8h36.8v7.2h-36.8zM275.6 -20.8h169.4v7.2h-169.4zM-444.3 -27.8h242.5v7.2h-242.5zM-195.7 -27.8h48.9v7.2h-48.9zM-110.1 -27.8h177.3v7.2h-177.3zM177.3 -27.8h6.1v7.2h-6.1zM214 -27.8h42.8v7.2h-42.8zM275.2 -27.8h169.1v7.2h-169.1zM-353.9 -34.7h152.6v7.2h-152.6zM-48.8 -34.7h24.4v7.2h-24.4zM170.9 -34.7h12.2v7.2h-12.2zM207.5 -34.7h61v7.2h-61zM274.6 -34.7h97.6v7.2h-97.6zM-267.8 -41.7h66.9v7.2h-66.9zM170.4 -41.7h12.2v7.2h-12.2zM200.8 -41.7h152.1v7.2h-152.1zM-260.8 -48.6h48.5v7.2h-48.5zM169.8 -48.6h18.2v7.2h-18.2zM194.1 -48.6h139.5v7.2h-139.5zM-259.8 -55.6h24.2v7.2h-24.2zM175.2 -55.6h126.9v7.2h-126.9zM-258.7 -62.5h12v7.2h-12zM174.4 -62.5h114.3v7.2h-114.3zM185.6 -69.5h59.9v7.2h-59.9zM190.5 -76.4h47.6v7.2h-47.6zM189.3 -83.4h29.6v7.2h-29.6zM283.9 -83.4h5.9v7.2h-5.9zM258.2 -90.3h52.8v7.2h-52.8zM273.3 -97.3h40.7v7.2h-40.7zM282 -104.2h23v7.2h-23zM284.6 -111.1h11.4v7.2h-11.4z"/><path fill="#24878e" d="M371.3 118h5.5v7.2h-5.5zM-168.6 111.1h5.6v7.2h-5.6zM366.9 20.8h42.8v7.2h-42.8zM189.9 13.9h49v7.2h-49zM361.4 13.9h36.8v7.2h-36.8zM196.2 6.9h49.1v7.2h-49.1zM325 6.9h6.1v7.2h-6.1zM367.9 6.9h18.4v7.2h-18.4zM239.3 0h12.3v7.2h-12.3zM313 0h30.7v7.2h-30.7zM-171.8 -6.9h18.4v7.2h-18.4zM239.3 -6.9h12.3v7.2h-12.3zM300.7 -6.9h43v7.2h-43zM-196.2 -13.9h55.2v7.2h-55.2zM282.1 -13.9h79.7v7.2h-79.7zM-445 -20.8h230.6v7.2h-230.6zM-196 -20.8h61.3v7.2h-61.3zM-122.5 -20.8h91.9v7.2h-91.9zM6.1 -20.8h24.5v7.2h-24.5zM281.8 -20.8h163.3v7.2h-163.3zM-444.3 -27.8h242.5v7.2h-242.5zM-195.7 -27.8h42.8v7.2h-42.8zM-104 -27.8h165.1v7.2h-165.1zM177.3 -27.8h6.1v7.2h-6.1zM226.3 -27.8h18.3v7.2h-18.3zM281.3 -27.8h163v7.2h-163zM-347.8 -34.7h146.5v7.2h-146.5zM-48.8 -34.7h18.3v7.2h-18.3zM177 -34.7h6.1v7.2h-6.1zM207.5 -34.7h54.9v7.2h-54.9zM280.7 -34.7h85.4v7.2h-85.4zM-261.7 -41.7h60.9v7.2h-60.9zM170.4 -41.7h12.2v7.2h-12.2zM200.8 -41.7h66.9v7.2h-66.9zM280 -41.7h66.9v7.2h-66.9zM-254.7 -48.6h42.5v7.2h-42.5zM175.9 -48.6h6.1v7.2h-6.1zM194.1 -48.6h133.4v7.2h-133.4zM-259.8 -55.6h24.2v7.2h-24.2zM175.2 -55.6h120.8v7.2h-120.8zM-252.6 -62.5h6v7.2h-6zM174.4 -62.5h102.3v7.2h-102.3zM185.6 -69.5h59.9v7.2h-59.9zM190.5 -76.4h47.6v7.2h-47.6zM189.3 -83.4h29.6v7.2h-29.6zM264 -90.3h46.9v7.2h-46.9zM279.1 -97.3h29.1v7.2h-29.1zM282 -104.2h23v7.2h-23zM284.6 -111.1h11.4v7.2h-11.4z"/><path fill="#228d8d" d="M366.9 20.8h24.5v7.2h-24.5zM196 13.9h36.8v7.2h-36.8zM361.4 13.9h30.6v7.2h-30.6zM202.4 6.9h36.8v7.2h-36.8zM325 6.9h6.1v7.2h-6.1zM367.9 6.9h12.3v7.2h-12.3zM319.1 0h24.5v7.2h-24.5zM-171.8 -6.9h18.4v7.2h-18.4zM245.5 -6.9h6.1v7.2h-6.1zM313 -6.9h30.7v7.2h-30.7zM-196.2 -13.9h12.3v7.2h-12.3zM-177.8 -13.9h36.8v7.2h-36.8zM288.2 -13.9h67.5v7.2h-67.5zM-445 -20.8h230.6v7.2h-230.6zM-196 -20.8h55.1v7.2h-55.1zM-116.4 -20.8h85.8v7.2h-85.8zM6.1 -20.8h24.5v7.2h-24.5zM281.8 -20.8h163.3v7.2h-163.3zM-444.3 -27.8h242.5v7.2h-242.5zM-189.6 -27.8h36.7v7.2h-36.7zM-97.8 -27.8h152.9v7.2h-152.9zM177.3 -27.8h6.1v7.2h-6.1zM226.3 -27.8h12.2v7.2h-12.2zM281.3 -27.8h163v7.2h-163zM-335.6 -34.7h134.3v7.2h-134.3zM-42.7 -34.7h12.2v7.2h-12.2zM177 -34.7h6.1v7.2h-6.1zM207.5 -34.7h54.9v7.2h-54.9zM280.7 -34.7h85.4v7.2h-85.4zM-261.7 -41.7h60.9v7.2h-60.9zM176.5 -41.7h6.1v7.2h-6.1zM200.8 -41.7h66.9v7.2h-66.9zM280 -41.7h66.9v7.2h-66.9zM-254.7 -48.6h42.5v7.2h-42.5zM175.9 -48.6h6.1v7.2h-6.1zM200.2 -48.6h127.4v7.2h-127.4zM-253.7 -55.6h12.1v7.2h-12.1zM175.2 -55.6h6v7.2h-6zM193.3 -55.6h102.7v7.2h-102.7zM-252.6 -62.5h6v7.2h-6zM174.4 -62.5h6v7.2h-6zM186.5 -62.5h84.2v7.2h-84.2zM191.6 -69.5h47.9v7.2h-47.9zM190.5 -76.4h41.7v7.2h-41.7zM189.3 -83.4h23.7v7.2h-23.7zM269.9 -90.3h41.1v7.2h-41.1zM279.1 -97.3h29.1v7.2h-29.1zM282 -104.2h23v7.2h-23zM284.6 -111.1h5.7v7.2h-5.7z"/><path fill="#20938c" d="M366.9 20.8h18.3v7.2h-18.3zM196 13.9h36.8v7.2h-36.8zM361.4 13.9h30.6v7.2h-30.6zM202.4 6.9h24.5v7.2h-24.5zM325 6.9h6.1v7.2h-6.1zM367.9 6.9h12.3v7.2h-12.3zM319.1 0h18.4v7.2h-18.4zM-171.8 -6.9h18.4v7.2h-18.4zM325.2 -6.9h12.3v7.2h-12.3zM-196.2 -13.9h12.3v7.2h-12.3zM-177.8 -13.9h30.7v7.2h-30.7zM294.3 -13.9h55.2v7.2h-55.2zM-324.6 -20.8h104.1v7.2h-104.1zM-196 -20.8h55.1v7.2h-55.1zM-104.1 -20.8h73.5v7.2h-73.5zM6.1 -20.8h24.5v7.2h-24.5zM287.9 -20.8h147v7.2h-147zM-444.3 -27.8h242.5v7.2h-242.5zM-189.6 -27.8h6.1v7.2h-6.1zM-171.2 -27.8h18.3v7.2h-18.3zM-97.8 -27.8h73.4v7.2h-73.4zM-12.2 -27.8h48.9v7.2h-48.9zM177.3 -27.8h6.1v7.2h-6.1zM287.4 -27.8h156.9v7.2h-156.9zM-329.5 -34.7h128.2v7.2h-128.2zM177 -34.7h6.1v7.2h-6.1zM213.6 -34.7h42.7v7.2h-42.7zM286.8 -34.7h73.2v7.2h-73.2zM-261.7 -41.7h54.8v7.2h-54.8zM176.5 -41.7h6.1v7.2h-6.1zM206.9 -41.7h54.8v7.2h-54.8zM280 -41.7h60.9v7.2h-60.9zM-254.7 -48.6h42.5v7.2h-42.5zM175.9 -48.6h6.1v7.2h-6.1zM200.2 -48.6h66.7v7.2h-66.7zM279 -48.6h42.5v7.2h-42.5zM-253.7 -55.6h12.1v7.2h-12.1zM175.2 -55.6h6v7.2h-6zM193.3 -55.6h102.7v7.2h-102.7zM174.4 -62.5h6v7.2h-6zM186.5 -62.5h72.2v7.2h-72.2zM191.6 -69.5h47.9v7.2h-47.9zM190.5 -76.4h41.7v7.2h-41.7zM195.2 -83.4h17.7v7.2h-17.7zM275.8 -90.3h35.2v7.2h-35.2zM284.9 -97.3h23.3v7.2h-23.3zM282 -104.2h23v7.2h-23zM284.6 -111.1h5.7v7.2h-5.7z"/><path fill="#1f998a" d="M366.9 20.8h18.3v7.2h-18.3zM202.1 13.9h24.5v7.2h-24.5zM367.5 13.9h18.4v7.2h-18.4zM325 6.9h6.1v7.2h-6.1zM367.9 6.9h12.3v7.2h-12.3zM325.2 0h12.3v7.2h-12.3zM-171.8 -6.9h12.3v7.2h-12.3zM-196.2 -13.9h12.3v7.2h-12.3zM-177.8 -13.9h30.7v7.2h-30.7zM306.6 -13.9h42.9v7.2h-42.9zM-312.4 -20.8h85.8v7.2h-85.8zM-196 -20.8h49v7.2h-49zM-104.1 -20.8h67.4v7.2h-67.4zM12.3 -20.8h18.4v7.2h-18.4zM294 -20.8h91.9v7.2h-91.9zM-444.3 -27.8h242.5v7.2h-242.5zM-189.6 -27.8h6.1v7.2h-6.1zM-171.2 -27.8h12.2v7.2h-12.2zM-91.7 -27.8h67.3v7.2h-67.3zM0 -27.8h30.6v7.2h-30.6zM177.3 -27.8h6.1v7.2h-6.1zM287.4 -27.8h104v7.2h-104zM-329.5 -34.7h128.2v7.2h-128.2zM177 -34.7h6.1v7.2h-6.1zM213.6 -34.7h42.7v7.2h-42.7zM286.8 -34.7h73.2v7.2h-73.2zM-255.6 -41.7h6.1v7.2h-6.1zM-243.4 -41.7h36.5v7.2h-36.5zM176.5 -41.7h6.1v7.2h-6.1zM206.9 -41.7h54.8v7.2h-54.8zM280 -41.7h60.9v7.2h-60.9zM-236.5 -48.6h18.2v7.2h-18.2zM175.9 -48.6h6.1v7.2h-6.1zM200.2 -48.6h66.7v7.2h-66.7zM279 -48.6h36.4v7.2h-36.4zM-253.7 -55.6h6v7.2h-6zM175.2 -55.6h6v7.2h-6zM193.3 -55.6h102.7v7.2h-102.7zM174.4 -62.5h6v7.2h-6zM192.5 -62.5h60.2v7.2h-60.2zM191.6 -69.5h47.9v7.2h-47.9zM196.5 -76.4h35.7v7.2h-35.7zM195.2 -83.4h17.7v7.2h-17.7zM293.4 -90.3h17.6v7.2h-17.6zM284.9 -97.3h23.3v7.2h-23.3zM282 -104.2h17.3v7.2h-17.3z"/><path fill="#1fa088" d="M366.9 20.8h18.3v7.2h-18.3zM367.5 13.9h18.4v7.2h-18.4zM325 6.9h6.1v7.2h-6.1zM367.9 6.9h12.3v7.2h-12.3zM325.2 0h12.3v7.2h-12.3zM-171.8 -6.9h12.3v7.2h-12.3zM-196.2 -13.9h12.3v7.2h-12.3zM-177.8 -13.9h30.7v7.2h-30.7zM331.1 -13.9h12.3v7.2h-12.3zM-196 -20.8h49v7.2h-49zM-98 -20.8h61.3v7.2h-61.3zM12.3 -20.8h18.4v7.2h-18.4zM294 -20.8h85.8v7.2h-85.8zM-409.7 -27.8h207.9v7.2h-207.9zM-189.6 -27.8h6.1v7.2h-6.1zM-171.2 -27.8h12.2v7.2h-12.2zM-85.6 -27.8h61.2v7.2h-61.2zM6.1 -27.8h24.5v7.2h-24.5zM177.3 -27.8h6.1v7.2h-6.1zM287.4 -27.8h97.8v7.2h-97.8zM-323.4 -34.7h122v7.2h-122zM177 -34.7h6.1v7.2h-6.1zM219.7 -34.7h30.5v7.2h-30.5zM286.8 -34.7h67.1v7.2h-67.1zM-243.4 -41.7h36.5v7.2h-36.5zM176.5 -41.7h6.1v7.2h-6.1zM206.9 -41.7h54.8v7.2h-54.8zM286 -41.7h48.7v7.2h-48.7zM-236.5 -48.6h18.2v7.2h-18.2zM175.9 -48.6h6.1v7.2h-6.1zM200.2 -48.6h60.7v7.2h-60.7zM279 -48.6h18.2v7.2h-18.2zM-253.7 -55.6h6v7.2h-6zM175.2 -55.6h6v7.2h-6zM193.3 -55.6h78.5v7.2h-78.5zM277.9 -55.6h12.1v7.2h-12.1zM174.4 -62.5h6v7.2h-6zM192.5 -62.5h60.2v7.2h-60.2zM191.6 -69.5h47.9v7.2h-47.9zM196.5 -76.4h35.7v7.2h-35.7zM201.1 -83.4h5.9v7.2h-5.9zM299.3 -90.3h11.7v7.2h-11.7zM284.9 -97.3h23.3v7.2h-23.3zM287.8 -104.2h11.5v7.2h-11.5z"/><path fill="#21a585" d="M373 20.8h6.1v7.2h-6.1zM367.5 13.9h18.4v7.2h-18.4zM325 6.9h6.1v7.2h-6.1zM367.9 6.9h12.3v7.2h-12.3zM325.2 0h6.1v7.2h-6.1zM-196.2 -13.9h12.3v7.2h-12.3zM-177.8 -13.9h24.5v7.2h-24.5zM-196 -20.8h42.9v7.2h-42.9zM-85.8 -20.8h42.9v7.2h-42.9zM12.3 -20.8h12.3v7.2h-12.3zM300.1 -20.8h73.5v7.2h-73.5zM-391.4 -27.8h189.6v7.2h-189.6zM-189.6 -27.8h6.1v7.2h-6.1zM-171.2 -27.8h12.2v7.2h-12.2zM-79.5 -27.8h55v7.2h-55zM6.1 -27.8h24.5v7.2h-24.5zM293.5 -27.8h85.6v7.2h-85.6zM-323.4 -34.7h122v7.2h-122zM177 -34.7h6.1v7.2h-6.1zM219.7 -34.7h24.4v7.2h-24.4zM286.8 -34.7h67.1v7.2h-67.1zM-237.4 -41.7h24.3v7.2h-24.3zM176.5 -41.7h6.1v7.2h-6.1zM206.9 -41.7h54.8v7.2h-54.8zM286 -41.7h42.6v7.2h-42.6zM-230.5 -48.6h12.1v7.2h-12.1zM175.9 -48.6h6.1v7.2h-6.1zM200.2 -48.6h60.7v7.2h-60.7zM279 -48.6h18.2v7.2h-18.2zM175.2 -55.6h6v7.2h-6zM199.4 -55.6h66.5v7.2h-66.5zM283.9 -55.6h6v7.2h-6zM192.5 -62.5h54.1v7.2h-54.1zM191.6 -69.5h47.9v7.2h-47.9zM196.5 -76.4h35.7v7.2h-35.7zM299.3 -90.3h11.7v7.2h-11.7zM290.7 -97.3h17.4v7.2h-17.4zM287.8 -104.2h11.5v7.2h-11.5z"/><path fill="#25ab82" d="M373 20.8h6.1v7.2h-6.1zM367.5 13.9h18.4v7.2h-18.4zM325 6.9h6.1v7.2h-6.1zM325.2 0h6.1v7.2h-6.1zM-196.2 -13.9h12.3v7.2h-12.3zM-177.8 -13.9h24.5v7.2h-24.5zM-196 -20.8h42.9v7.2h-42.9zM-73.5 -20.8h30.6v7.2h-30.6zM12.3 -20.8h12.3v7.2h-12.3zM306.3 -20.8h61.3v7.2h-61.3zM-366.9 -27.8h165.1v7.2h-165.1zM-189.6 -27.8h6.1v7.2h-6.1zM-171.2 -27.8h12.2v7.2h-12.2zM-73.4 -27.8h48.9v7.2h-48.9zM12.2 -27.8h12.2v7.2h-12.2zM293.5 -27.8h79.5v7.2h-79.5zM-317.3 -34.7h115.9v7.2h-115.9zM177 -34.7h6.1v7.2h-6.1zM225.8 -34.7h18.3v7.2h-18.3zM286.8 -34.7h61v7.2h-61zM-237.4 -41.7h24.3v7.2h-24.3zM176.5 -41.7h6.1v7.2h-6.1zM213 -41.7h42.6v7.2h-42.6zM286 -41.7h42.6v7.2h-42.6zM175.9 -48.6h6.1v7.2h-6.1zM206.2 -48.6h54.6v7.2h-54.6zM285.1 -48.6h12.1v7.2h-12.1zM175.2 -55.6h6v7.2h-6zM199.4 -55.6h60.4v7.2h-60.4zM283.9 -55.6h6v7.2h-6zM192.5 -62.5h54.1v7.2h-54.1zM197.6 -69.5h41.9v7.2h-41.9zM196.5 -76.4h35.7v7.2h-35.7zM299.3 -90.3h11.7v7.2h-11.7zM290.7 -97.3h17.4v7.2h-17.4zM287.8 -104.2h11.5v7.2h-11.5z"/><path fill="#2cb17e" d="M367.5 13.9h18.4v7.2h-18.4zM325.2 0h6.1v7.2h-6.1zM-190.1 -13.9h6.1v7.2h-6.1zM-177.8 -13.9h24.5v7.2h-24.5zM-196 -20.8h12.3v7.2h-12.3zM-177.6 -20.8h24.5v7.2h-24.5zM-61.3 -20.8h12.3v7.2h-12.3zM12.3 -20.8h12.3v7.2h-12.3zM312.4 -20.8h49v7.2h-49zM-354.7 -27.8h152.9v7.2h-152.9zM-189.6 -27.8h6.1v7.2h-6.1zM-171.2 -27.8h12.2v7.2h-12.2zM-67.3 -27.8h36.7v7.2h-36.7zM12.2 -27.8h12.2v7.2h-12.2zM299.7 -27.8h67.3v7.2h-67.3zM-317.3 -34.7h115.9v7.2h-115.9zM177 -34.7h6.1v7.2h-6.1zM225.8 -34.7h12.2v7.2h-12.2zM292.9 -34.7h54.9v7.2h-54.9zM-237.4 -41.7h24.3v7.2h-24.3zM176.5 -41.7h6.1v7.2h-6.1zM213 -41.7h42.6v7.2h-42.6zM286 -41.7h12.2v7.2h-12.2zM304.3 -41.7h18.3v7.2h-18.3zM175.9 -48.6h6.1v7.2h-6.1zM206.2 -48.6h54.6v7.2h-54.6zM285.1 -48.6h12.1v7.2h-12.1zM175.2 -55.6h6v7.2h-6zM199.4 -55.6h60.4v7.2h-60.4zM283.9 -55.6h6v7.2h-6zM192.5 -62.5h48.1v7.2h-48.1zM197.6 -69.5h35.9v7.2h-35.9zM196.5 -76.4h35.7v7.2h-35.7zM305.1 -90.3h5.9v7.2h-5.9zM290.7 -97.3h17.4v7.2h-17.4zM287.8 -104.2h11.5v7.2h-11.5z"/><path fill="#34b679" d="M367.5 13.9h18.4v7.2h-18.4zM325.2 0h6.1v7.2h-6.1zM-190.1 -13.9h6.1v7.2h-6.1zM-171.7 -13.9h18.4v7.2h-18.4zM-196 -20.8h12.3v7.2h-12.3zM-177.6 -20.8h24.5v7.2h-24.5zM12.3 -20.8h12.3v7.2h-12.3zM318.5 -20.8h36.8v7.2h-36.8zM-348.6 -27.8h146.8v7.2h-146.8zM-67.3 -27.8h36.7v7.2h-36.7zM12.2 -27.8h12.2v7.2h-12.2zM299.7 -27.8h61.2v7.2h-61.2zM-311.2 -34.7h109.8v7.2h-109.8zM177 -34.7h6.1v7.2h-6.1zM225.8 -34.7h12.2v7.2h-12.2zM299 -34.7h42.7v7.2h-42.7zM-231.3 -41.7h18.3v7.2h-18.3zM176.5 -41.7h6.1v7.2h-6.1zM219.1 -41.7h36.5v7.2h-36.5zM286 -41.7h12.2v7.2h-12.2zM175.9 -48.6h6.1v7.2h-6.1zM206.2 -48.6h48.5v7.2h-48.5zM285.1 -48.6h12.1v7.2h-12.1zM175.2 -55.6h6v7.2h-6zM199.4 -55.6h54.4v7.2h-54.4zM283.9 -55.6h6v7.2h-6zM198.5 -62.5h42.1v7.2h-42.1zM197.6 -69.5h35.9v7.2h-35.9zM196.5 -76.4h29.8v7.2h-29.8zM290.7 -97.3h17.4v7.2h-17.4zM287.8 -104.2h11.5v7.2h-11.5z"/><path fill="#3fbc73" d="M367.5 13.9h12.3v7.2h-12.3zM-190.1 -13.9h6.1v7.2h-6.1zM-171.7 -13.9h18.4v7.2h-18.4zM-189.9 -20.8h6.1v7.2h-6.1zM-177.6 -20.8h24.5v7.2h-24.5zM18.4 -20.8h6.1v7.2h-6.1zM330.8 -20.8h24.5v7.2h-24.5zM-336.3 -27.8h134.5v7.2h-134.5zM-61.2 -27.8h30.6v7.2h-30.6zM305.8 -27.8h55v7.2h-55zM-311.2 -34.7h109.8v7.2h-109.8zM177 -34.7h6.1v7.2h-6.1zM225.8 -34.7h12.2v7.2h-12.2zM305.1 -34.7h30.5v7.2h-30.5zM-231.3 -41.7h12.2v7.2h-12.2zM176.5 -41.7h6.1v7.2h-6.1zM219.1 -41.7h30.4v7.2h-30.4zM286 -41.7h12.2v7.2h-12.2zM175.9 -48.6h6.1v7.2h-6.1zM212.3 -48.6h42.5v7.2h-42.5zM285.1 -48.6h12.1v7.2h-12.1zM175.2 -55.6h6v7.2h-6zM199.4 -55.6h54.4v7.2h-54.4zM283.9 -55.6h6v7.2h-6zM198.5 -62.5h42.1v7.2h-42.1zM197.6 -69.5h35.9v7.2h-35.9zM202.5 -76.4h23.8v7.2h-23.8zM296.5 -97.3h11.6v7.2h-11.6z"/><path fill="#4ac16d" d="M367.5 13.9h12.3v7.2h-12.3zM-190.1 -13.9h6.1v7.2h-6.1zM-171.7 -13.9h12.3v7.2h-12.3zM-189.9 -20.8h6.1v7.2h-6.1zM-171.5 -20.8h18.4v7.2h-18.4zM18.4 -20.8h6.1v7.2h-6.1zM330.8 -20.8h18.4v7.2h-18.4zM-330.2 -27.8h128.4v7.2h-128.4zM-61.2 -27.8h30.6v7.2h-30.6zM311.9 -27.8h42.8v7.2h-42.8zM-305.1 -34.7h103.7v7.2h-103.7zM177 -34.7h6.1v7.2h-6.1zM231.9 -34.7h6.1v7.2h-6.1zM311.2 -34.7h18.3v7.2h-18.3zM-231.3 -41.7h12.2v7.2h-12.2zM176.5 -41.7h6.1v7.2h-6.1zM219.1 -41.7h30.4v7.2h-30.4zM286 -41.7h6.1v7.2h-6.1zM175.9 -48.6h6.1v7.2h-6.1zM212.3 -48.6h42.5v7.2h-42.5zM285.1 -48.6h6.1v7.2h-6.1zM175.2 -55.6h6v7.2h-6zM205.4 -55.6h48.3v7.2h-48.3zM283.9 -55.6h6v7.2h-6zM198.5 -62.5h42.1v7.2h-42.1zM197.6 -69.5h35.9v7.2h-35.9zM202.5 -76.4h23.8v7.2h-23.8zM296.5 -97.3h11.6v7.2h-11.6z"/><path fill="#56c667" d="M367.5 13.9h12.3v7.2h-12.3zM-190.1 -13.9h6.1v7.2h-6.1zM-171.7 -13.9h12.3v7.2h-12.3zM-189.9 -20.8h6.1v7.2h-6.1zM-171.5 -20.8h12.3v7.2h-12.3zM-324.1 -27.8h116.2v7.2h-116.2zM-55 -27.8h24.5v7.2h-24.5zM318 -27.8h30.6v7.2h-30.6zM-305.1 -34.7h103.7v7.2h-103.7zM177 -34.7h6.1v7.2h-6.1zM-231.3 -41.7h12.2v7.2h-12.2zM176.5 -41.7h6.1v7.2h-6.1zM219.1 -41.7h24.3v7.2h-24.3zM286 -41.7h6.1v7.2h-6.1zM175.9 -48.6h6.1v7.2h-6.1zM212.3 -48.6h42.5v7.2h-42.5zM285.1 -48.6h6.1v7.2h-6.1zM175.2 -55.6h6v7.2h-6zM205.4 -55.6h42.3v7.2h-42.3zM283.9 -55.6h6v7.2h-6zM204.5 -62.5h36.1v7.2h-36.1zM197.6 -69.5h35.9v7.2h-35.9zM202.5 -76.4h23.8v7.2h-23.8zM296.5 -97.3h11.6v7.2h-11.6z"/><path fill="#65cb5e" d="M367.5 13.9h12.3v7.2h-12.3zM-171.7 -13.9h12.3v7.2h-12.3zM-189.9 -20.8h6.1v7.2h-6.1zM-171.5 -20.8h12.3v7.2h-12.3zM-324.1 -27.8h104v7.2h-104zM-55 -27.8h18.3v7.2h-18.3zM330.2 -27.8h12.2v7.2h-12.2zM-299 -34.7h79.3v7.2h-79.3zM-213.6 -34.7h6.1v7.2h-6.1zM177 -34.7h6.1v7.2h-6.1zM176.5 -41.7h6.1v7.2h-6.1zM225.2 -41.7h18.3v7.2h-18.3zM286 -41.7h6.1v7.2h-6.1zM175.9 -48.6h6.1v7.2h-6.1zM218.3 -48.6h30.3v7.2h-30.3zM285.1 -48.6h6.1v7.2h-6.1zM175.2 -55.6h6v7.2h-6zM205.4 -55.6h42.3v7.2h-42.3zM283.9 -55.6h6v7.2h-6zM204.5 -62.5h36.1v7.2h-36.1zM203.6 -69.5h29.9v7.2h-29.9zM202.5 -76.4h23.8v7.2h-23.8zM296.5 -97.3h11.6v7.2h-11.6z"/><path fill="#73d056" d="M367.5 13.9h12.3v7.2h-12.3zM-171.7 -13.9h12.3v7.2h-12.3zM-189.9 -20.8h6.1v7.2h-6.1zM-171.5 -20.8h12.3v7.2h-12.3zM-318 -27.8h97.8v7.2h-97.8zM-48.9 -27.8h12.2v7.2h-12.2zM-292.9 -34.7h73.2v7.2h-73.2zM177 -34.7h6.1v7.2h-6.1zM176.5 -41.7h6.1v7.2h-6.1zM225.2 -41.7h18.3v7.2h-18.3zM286 -41.7h6.1v7.2h-6.1zM175.9 -48.6h6.1v7.2h-6.1zM218.3 -48.6h30.3v7.2h-30.3zM285.1 -48.6h6.1v7.2h-6.1zM175.2 -55.6h6v7.2h-6zM211.4 -55.6h30.2v7.2h-30.2zM204.5 -62.5h36.1v7.2h-36.1zM203.6 -69.5h29.9v7.2h-29.9zM202.5 -76.4h23.8v7.2h-23.8zM296.5 -97.3h11.6v7.2h-11.6z"/><path fill="#84d44b" d="M367.5 13.9h12.3v7.2h-12.3zM-171.7 -13.9h12.3v7.2h-12.3zM-189.9 -20.8h6.1v7.2h-6.1zM-171.5 -20.8h12.3v7.2h-12.3zM-318 -27.8h97.8v7.2h-97.8zM-286.8 -34.7h36.6v7.2h-36.6zM-238 -34.7h18.3v7.2h-18.3zM177 -34.7h6.1v7.2h-6.1zM176.5 -41.7h6.1v7.2h-6.1zM225.2 -41.7h18.3v7.2h-18.3zM286 -41.7h6.1v7.2h-6.1zM175.9 -48.6h6.1v7.2h-6.1zM218.3 -48.6h30.3v7.2h-30.3zM285.1 -48.6h6.1v7.2h-6.1zM217.5 -55.6h24.2v7.2h-24.2zM216.6 -62.5h24.1v7.2h-24.1zM203.6 -69.5h29.9v7.2h-29.9zM202.5 -76.4h23.8v7.2h-23.8zM302.4 -97.3h5.8v7.2h-5.8z"/><path fill="#93d741" d="M367.5 13.9h12.3v7.2h-12.3zM-171.7 -13.9h12.3v7.2h-12.3zM-189.9 -20.8h6.1v7.2h-6.1zM-171.5 -20.8h12.3v7.2h-12.3zM-311.9 -27.8h91.7v7.2h-91.7zM-268.5 -34.7h18.3v7.2h-18.3zM-231.9 -34.7h12.2v7.2h-12.2zM176.5 -41.7h6.1v7.2h-6.1zM225.2 -41.7h18.3v7.2h-18.3zM286 -41.7h6.1v7.2h-6.1zM175.9 -48.6h6.1v7.2h-6.1zM218.3 -48.6h24.3v7.2h-24.3zM285.1 -48.6h6.1v7.2h-6.1zM217.5 -55.6h24.2v7.2h-24.2zM216.6 -62.5h18v7.2h-18zM203.6 -69.5h29.9v7.2h-29.9zM202.5 -76.4h23.8v7.2h-23.8z"/><path fill="#a2da37" d="M367.5 13.9h12.3v7.2h-12.3zM-171.7 -13.9h12.3v7.2h-12.3zM-189.9 -20.8h6.1v7.2h-6.1zM-171.5 -20.8h12.3v7.2h-12.3zM-311.9 -27.8h85.6v7.2h-85.6zM-262.4 -34.7h6.1v7.2h-6.1zM-231.9 -34.7h6.1v7.2h-6.1zM176.5 -41.7h6.1v7.2h-6.1zM225.2 -41.7h12.2v7.2h-12.2zM286 -41.7h6.1v7.2h-6.1zM175.9 -48.6h6.1v7.2h-6.1zM224.4 -48.6h18.2v7.2h-18.2zM285.1 -48.6h6.1v7.2h-6.1zM217.5 -55.6h24.2v7.2h-24.2zM222.6 -62.5h12v7.2h-12zM203.6 -69.5h29.9v7.2h-29.9zM202.5 -76.4h17.9v7.2h-17.9z"/><path fill="#b5de2b" d="M367.5 13.9h12.3v7.2h-12.3zM-171.7 -13.9h12.3v7.2h-12.3zM-189.9 -20.8h6.1v7.2h-6.1zM-171.5 -20.8h12.3v7.2h-12.3zM-305.8 -27.8h73.4v7.2h-73.4zM176.5 -41.7h6.1v7.2h-6.1zM225.2 -41.7h12.2v7.2h-12.2zM175.9 -48.6h6.1v7.2h-6.1zM224.4 -48.6h18.2v7.2h-18.2zM285.1 -48.6h6.1v7.2h-6.1zM217.5 -55.6h24.2v7.2h-24.2zM222.6 -62.5h12v7.2h-12zM203.6 -69.5h29.9v7.2h-29.9zM208.4 -76.4h11.9v7.2h-11.9z"/><path fill="#c5e021" d="M367.5 13.9h12.3v7.2h-12.3zM-171.7 -13.9h6.1v7.2h-6.1zM-171.5 -20.8h12.3v7.2h-12.3zM-299.7 -27.8h55v7.2h-55zM176.5 -41.7h6.1v7.2h-6.1zM225.2 -41.7h12.2v7.2h-12.2zM175.9 -48.6h6.1v7.2h-6.1zM224.4 -48.6h18.2v7.2h-18.2zM285.1 -48.6h6.1v7.2h-6.1zM223.5 -55.6h18.1v7.2h-18.1zM222.6 -62.5h12v7.2h-12zM209.6 -69.5h18v7.2h-18zM208.4 -76.4h11.9v7.2h-11.9z"/><path fill="#d8e219" d="M373.6 13.9h6.1v7.2h-6.1zM-171.5 -20.8h12.3v7.2h-12.3zM-293.5 -27.8h42.8v7.2h-42.8zM176.5 -41.7h6.1v7.2h-6.1zM225.2 -41.7h12.2v7.2h-12.2zM175.9 -48.6h6.1v7.2h-6.1zM224.4 -48.6h18.2v7.2h-18.2zM285.1 -48.6h6.1v7.2h-6.1zM223.5 -55.6h18.1v7.2h-18.1zM222.6 -62.5h12v7.2h-12zM209.6 -69.5h18v7.2h-18zM208.4 -76.4h11.9v7.2h-11.9z"/><path fill="#e7e419" d="M-171.5 -20.8h12.3v7.2h-12.3zM-269.1 -27.8h6.1v7.2h-6.1zM176.5 -41.7h6.1v7.2h-6.1zM231.3 -41.7h6.1v7.2h-6.1zM175.9 -48.6h6.1v7.2h-6.1zM224.4 -48.6h18.2v7.2h-18.2zM285.1 -48.6h6.1v7.2h-6.1zM223.5 -55.6h18.1v7.2h-18.1zM222.6 -62.5h12v7.2h-12zM209.6 -69.5h18v7.2h-18zM208.4 -76.4h11.9v7.2h-11.9z"/><path fill="#f6e620" d="M-171.5 -20.8h6.1v7.2h-6.1zM176.5 -41.7h6.1v7.2h-6.1zM231.3 -41.7h6.1v7.2h-6.1zM175.9 -48.6h6.1v7.2h-6.1zM224.4 -48.6h18.2v7.2h-18.2zM285.1 -48.6h6.1v7.2h-6.1zM223.5 -55.6h18.1v7.2h-18.1zM222.6 -62.5h12v7.2h-12zM209.6 -69.5h18v7.2h-18z"/></g></g>
<use href="#ov"/>
<text x="0" y="-239.4" font-size="50" text-anchor="middle">month = 7</text>
<g transform="translate(0.0 0)"><path d="M497.1 223.0V-201.1L508.25 -221.8L519.4 -201.1V223.0Z" fill="url(#vg)" stroke="#000" stroke-width="2.4" stroke-linejoin="miter"/><path d="M519.4 223.0h14.3" stroke="#000" stroke-width="2.6"/><text x="544.0" y="238.0" font-size="34">0.0</text><path d="M519.4 152.3h14.3" stroke="#000" stroke-width="2.6"/><text x="544.0" y="167.3" font-size="34">2.5</text><path d="M519.4 81.6h14.3" stroke="#000" stroke-width="2.6"/><text x="544.0" y="96.6" font-size="34">5.0</text><path d="M519.4 10.9h14.3" stroke="#000" stroke-width="2.6"/><text x="544.0" y="25.9" font-size="34">7.5</text><path d="M519.4 -59.7h14.3" stroke="#000" stroke-width="2.6"/><text x="544.0" y="-44.7" font-size="34">10.0</text><path d="M519.4 -130.4h14.3" stroke="#000" stroke-width="2.6"/><text x="544.0" y="-115.4" font-size="34">12.5</text><path d="M519.4 -201.1h14.3" stroke="#000" stroke-width="2.6"/><text x="544.0" y="-186.1" font-size="34">15.0</text><text transform="translate(663.0 13.2) rotate(-90)" font-size="41.7" text-anchor="middle">GPCP Climatology</text><text transform="translate(712.0 15.0) rotate(-90)" font-size="41.7" text-anchor="middle">(mm/day)</text></g>
</g>
<g transform="translate(1639.0 917.3)">
<g clip-path="url(#cp)"><use href="#ol" fill="#450559"/>
<g shape-rendering="crispEdges"><path fill="#470e61" d="M100.8 210.5h44.8v4.7h-44.8zM-284.4 205.6h568.7v5.3h-568.7zM-295.9 200.3h591.8v5.6h-591.8zM-306.8 194.7h613.6v5.8h-613.6zM-316.8 189h633.6v6h-633.6zM-326.2 183.1h652.4v6.2h-652.4zM-335.3 177.1h670.5v6.3h-670.5zM-344.1 170.9h688.2v6.5h-688.2zM-352.7 164.6h705.4v6.6h-705.4zM-361 158.2h722.1v6.7h-722.1zM-369.1 151.7h738.2v6.8h-738.2zM-376.8 145.1h753.6v6.9h-753.6zM-384.1 138.4h768.2v7h-768.2zM-390.8 131.7h781.6v7.1h-781.6zM-397 124.8h794.1v7.1h-794.1zM-403 118h805.9v7.2h-805.9zM-408.6 111.1h817.2v7.2h-817.2zM-413.8 104.2h827.5v7.2h-827.5zM-418.4 97.3h836.8v7.2h-836.8zM-422.6 90.3h845.3v7.2h-845.3zM-426.5 83.4h853v7.2h-853zM-429.8 76.4h859.7v7.2h-859.7zM-432.7 69.5h474.4v7.2h-474.4zM47.6 69.5h244.1v7.2h-244.1zM321.5 69.5h111.2v7.2h-111.2zM-435.1 62.5h471v7.2h-471zM53.9 62.5h233.5v7.2h-233.5zM329.3 62.5h105.8v7.2h-105.8zM-437.1 55.6h172.4v7.2h-172.4zM-216.6 55.6h186.5v7.2h-186.5zM-6 55.6h42.1v7.2h-42.1zM54.1 55.6h240.6v7.2h-240.6zM330.8 55.6h106.3v7.2h-106.3zM-439 48.6h155v7.2h-155zM-199.4 48.6h151v7.2h-151zM12.1 48.6h426.9v7.2h-426.9zM-440.7 41.7h149.6v7.2h-149.6zM-200.2 41.7h139.5v7.2h-139.5zM12.1 41.7h428.6v7.2h-428.6zM-442.2 34.7h150.1v7.2h-150.1zM-200.8 34.7h140v7.2h-140zM12.2 34.7h430v7.2h-430zM-443.4 27.8h150.5v7.2h-150.5zM-207.5 27.8h115.9v7.2h-115.9zM-85.4 27.8h36.6v7.2h-36.6zM0 27.8h443.4v7.2h-443.4zM-444.3 20.8h163v7.2h-163zM-220.2 20.8h122.3v7.2h-122.3zM-79.5 20.8h523.8v7.2h-523.8zM-445 13.9h347v7.2h-347zM-85.8 13.9h530.8v7.2h-530.8zM-445.5 6.9h891v7.2h-891zM-445.8 0h891.6v7.2h-891.6zM-445.8 -6.9h891.6v7.2h-891.6zM-445.5 -13.9h891v7.2h-891zM-445 -20.8h890v7.2h-890zM-444.3 -27.8h888.6v7.2h-888.6zM-443.4 -34.7h886.7v7.2h-886.7zM-442.2 -41.7h884.4v7.2h-884.4zM-440.7 -48.6h549.9v7.2h-549.9zM127.4 -48.6h313.3v7.2h-313.3zM-439 -55.6h426.9v7.2h-426.9zM66.5 -55.6h12.1v7.2h-12.1zM145 -55.6h294v7.2h-294zM-437.1 -62.5h389v7.2h-389zM156.4 -62.5h280.7v7.2h-280.7zM-435.1 -69.5h99.8v7.2h-99.8zM-305.4 -69.5h257.5v7.2h-257.5zM155.7 -69.5h279.4v7.2h-279.4zM-432.7 -76.4h99.3v7.2h-99.3zM-309.6 -76.4h279.9v7.2h-279.9zM148.9 -76.4h283.9v7.2h-283.9zM-429.8 -83.4h441.7v7.2h-441.7zM41.4 -83.4h47.3v7.2h-47.3zM136 -83.4h293.8v7.2h-293.8zM-426.5 -90.3h162.4v7.2h-162.4zM-258.2 -90.3h684.7v7.2h-684.7zM-422.6 -97.3h161v7.2h-161zM-250 -97.3h672.7v7.2h-672.7zM-418.4 -104.2h836.8v7.2h-836.8zM-413.8 -111.1h827.5v7.2h-827.5zM-408.6 -118h817.2v7.2h-817.2zM-403 -124.8h608v7.2h-608zM238.3 -124.8h164.7v7.2h-164.7zM-397 -131.7h599v7.1h-599zM234.7 -131.7h162.3v7.1h-162.3zM-390.8 -138.4h781.6v7.1h-781.6zM-384.1 -145.1h768.2v7h-768.2zM-376.8 -151.7h753.6v6.9h-753.6zM-369.1 -158.2h738.2v6.8h-738.2zM-361 -164.6h722.1v6.7h-722.1zM-352.7 -170.9h705.4v6.6h-705.4zM-344.1 -177.1h688.2v6.5h-688.2zM-335.3 -183.1h670.5v6.3h-670.5zM-326.2 -189h652.4v6.2h-652.4zM-316.8 -194.7h633.6v6h-633.6zM-306.8 -200.3h613.6v5.8h-613.6zM-295.9 -205.6h591.8v5.6h-591.8zM-284.4 -210.5h568.7v5.3h-568.7zM-272.9 -214.9h545.7v4.7h-545.7zM-262 -218.7h524v4.1h-524zM-252 -221.8h504v3.4h-504zM-243.1 -224.1h486.2v2.6h-486.2z"/><path fill="#48186a" d="M-306.8 194.7h613.6v5.8h-613.6zM-316.8 189h633.6v6h-633.6zM-326.2 183.1h652.4v6.2h-652.4zM-335.3 177.1h670.5v6.3h-670.5zM-344.1 170.9h688.2v6.5h-688.2zM-352.7 164.6h705.4v6.6h-705.4zM-361 158.2h722.1v6.7h-722.1zM-369.1 151.7h738.2v6.8h-738.2zM-376.8 145.1h753.6v6.9h-753.6zM-384.1 138.4h768.2v7h-768.2zM-390.8 131.7h781.6v7.1h-781.6zM-397 124.8h794.1v7.1h-794.1zM-403 118h805.9v7.2h-805.9zM-408.6 111.1h817.2v7.2h-817.2zM-413.8 104.2h827.5v7.2h-827.5zM-418.4 97.3h836.8v7.2h-836.8zM-422.6 90.3h845.3v7.2h-845.3zM-426.5 83.4h853v7.2h-853zM-429.8 76.4h465.3v7.2h-465.3zM47.3 76.4h236.6v7.2h-236.6zM331.2 76.4h98.6v7.2h-98.6zM-432.7 69.5h456.5v7.2h-456.5zM53.6 69.5h214.4v7.2h-214.4zM345.4 69.5h87.4v7.2h-87.4zM-435.1 62.5h159.7v7.2h-159.7zM-191.6 62.5h143.7v7.2h-143.7zM59.9 62.5h107.8v7.2h-107.8zM221.5 62.5h35.9v7.2h-35.9zM353.3 62.5h81.8v7.2h-81.8zM-437.1 55.6h142.4v7.2h-142.4zM-180.5 55.6h114.3v7.2h-114.3zM60.2 55.6h96.2v7.2h-96.2zM234.6 55.6h24.1v7.2h-24.1zM354.9 55.6h82.2v7.2h-82.2zM-439 48.6h130.9v7.2h-130.9zM-181.2 48.6h102.7v7.2h-102.7zM60.4 48.6h108.7v7.2h-108.7zM217.5 48.6h48.3v7.2h-48.3zM350.4 48.6h88.6v7.2h-88.6zM-440.7 41.7h125.3v7.2h-125.3zM-188 41.7h97v7.2h-97zM48.5 41.7h230.5v7.2h-230.5zM339.7 41.7h101v7.2h-101zM-442.2 34.7h119.6v7.2h-119.6zM-188.7 34.7h91.3v7.2h-91.3zM24.3 34.7h417.8v7.2h-417.8zM-443.4 27.8h113.8v7.2h-113.8zM-195.3 27.8h91.5v7.2h-91.5zM12.2 27.8h431.2v7.2h-431.2zM-444.3 20.8h95.7v7.2h-95.7zM-201.8 20.8h97.8v7.2h-97.8zM6.1 20.8h438.2v7.2h-438.2zM-445 13.9h83.6v7.2h-83.6zM-214.4 13.9h110.3v7.2h-110.3zM-67.4 13.9h18.4v7.2h-18.4zM-12.3 13.9h457.3v7.2h-457.3zM-445.5 6.9h145v7.2h-145zM-239.1 6.9h141v7.2h-141zM-85.8 6.9h531.4v7.2h-531.4zM-445.8 0h891.6v7.2h-891.6zM-445.8 -6.9h891.6v7.2h-891.6zM-445.5 -13.9h891v7.2h-891zM-445 -20.8h890v7.2h-890zM-444.3 -27.8h888.6v7.2h-888.6zM-443.4 -34.7h886.7v7.2h-886.7zM-442.2 -41.7h545.6v7.2h-545.6zM133.9 -41.7h308.3v7.2h-308.3zM-440.7 -48.6h422.5v7.2h-422.5zM151.6 -48.6h289.1v7.2h-289.1zM-439 -55.6h324.2v7.2h-324.2zM181.2 -55.6h257.7v7.2h-257.7zM-437.1 -62.5h70.2v7.2h-70.2zM-270.7 -62.5h132.3v7.2h-132.3zM186.5 -62.5h250.6v7.2h-250.6zM-435.1 -69.5h63.9v7.2h-63.9zM-251.5 -69.5h113.8v7.2h-113.8zM191.6 -69.5h243.5v7.2h-243.5zM-432.7 -76.4h69.5v7.2h-69.5zM-244.1 -76.4h125v7.2h-125zM184.6 -76.4h248.1v7.2h-248.1zM-429.8 -83.4h80.9v7.2h-80.9zM-242.5 -83.4h177.4v7.2h-177.4zM177.4 -83.4h252.4v7.2h-252.4zM-426.5 -90.3h127.2v7.2h-127.2zM-240.6 -90.3h240.6v7.2h-240.6zM146.7 -90.3h279.8v7.2h-279.8zM-422.6 -97.3h143.5v7.2h-143.5zM-238.4 -97.3h348.9v7.2h-348.9zM116.3 -97.3h306.4v7.2h-306.4zM-418.4 -104.2h147.9v7.2h-147.9zM-236 -104.2h654.4v7.2h-654.4zM-413.8 -111.1h152v7.2h-152zM-239 -111.1h652.8v7.2h-652.8zM-408.6 -118h610.9v7.2h-610.9zM247.3 -118h161.3v7.2h-161.3zM-403 -124.8h591.4v7.2h-591.4zM254.9 -124.8h148.1v7.2h-148.1zM-397 -131.7h582.6v7.1h-582.6zM251.1 -131.7h145.9v7.1h-145.9zM-390.8 -138.4h578.9v7.1h-578.9zM241.8 -138.4h149.1v7.1h-149.1zM-384.1 -145.1h595.2v7h-595.2zM216.4 -145.1h167.6v7h-167.6zM-376.8 -151.7h753.6v6.9h-753.6zM-369.1 -158.2h738.2v6.8h-738.2zM-361 -164.6h722.1v6.7h-722.1zM-352.7 -170.9h705.4v6.6h-705.4zM-344.1 -177.1h688.2v6.5h-688.2zM-335.3 -183.1h670.5v6.3h-670.5zM-326.2 -189h652.4v6.2h-652.4zM-316.8 -194.7h633.6v6h-633.6zM-306.8 -200.3h613.6v5.8h-613.6zM-295.9 -205.6h591.8v5.6h-591.8zM-284.4 -210.5h451.8v5.3h-451.8zM206.4 -210.5h78v5.3h-78z"/><path fill="#482071" d="M-326.2 183.1h652.4v6.2h-652.4zM-335.3 177.1h670.5v6.3h-670.5zM-344.1 170.9h688.2v6.5h-688.2zM-352.7 164.6h705.4v6.6h-705.4zM-361 158.2h722.1v6.7h-722.1zM-369.1 151.7h738.2v6.8h-738.2zM-376.8 145.1h753.6v6.9h-753.6zM-384.1 138.4h768.2v7h-768.2zM-390.8 131.7h781.6v7.1h-781.6zM-397 124.8h794.1v7.1h-794.1zM-403 118h805.9v7.2h-805.9zM-408.6 111.1h817.2v7.2h-817.2zM-413.8 104.2h827.5v7.2h-827.5zM-418.4 97.3h836.8v7.2h-836.8zM-422.6 90.3h845.3v7.2h-845.3zM-426.5 83.4h461.7v7.2h-461.7zM46.9 83.4h228.8v7.2h-228.8zM334.5 83.4h92v7.2h-92zM-429.8 76.4h447.6v7.2h-447.6zM53.2 76.4h207v7.2h-207zM349 76.4h80.9v7.2h-80.9zM-432.7 69.5h158.8v7.2h-158.8zM-172.7 69.5h131v7.2h-131zM59.5 69.5h89.3v7.2h-89.3zM363.2 69.5h69.5v7.2h-69.5zM-435.1 62.5h141.7v7.2h-141.7zM-155.7 62.5h83.8v7.2h-83.8zM65.9 62.5h59.9v7.2h-59.9zM371.2 62.5h63.9v7.2h-63.9zM-437.1 55.6h130.3v7.2h-130.3zM-162.4 55.6h78.2v7.2h-78.2zM66.2 55.6h48.1v7.2h-48.1zM372.9 55.6h64.2v7.2h-64.2zM-439 48.6h118.8v7.2h-118.8zM-169.1 48.6h78.5v7.2h-78.5zM66.5 48.6h42.3v7.2h-42.3zM368.5 48.6h70.5v7.2h-70.5zM-440.7 41.7h107.1v7.2h-107.1zM-175.9 41.7h78.8v7.2h-78.8zM66.7 41.7h54.6v7.2h-54.6zM363.9 41.7h76.8v7.2h-76.8zM-442.2 34.7h101.4v7.2h-101.4zM-182.6 34.7h79.1v7.2h-79.1zM36.5 34.7h225.2v7.2h-225.2zM346.9 34.7h95.3v7.2h-95.3zM-443.4 27.8h89.4v7.2h-89.4zM-195.3 27.8h85.4v7.2h-85.4zM24.4 27.8h419v7.2h-419zM-444.3 20.8h71.3v7.2h-71.3zM-201.8 20.8h91.7v7.2h-91.7zM12.2 20.8h432.1v7.2h-432.1zM-445 13.9h59.1v7.2h-59.1zM-202.1 13.9h91.9v7.2h-91.9zM0 13.9h445v7.2h-445zM-445.5 6.9h65.3v7.2h-65.3zM-214.6 6.9h104.2v7.2h-104.2zM-12.3 6.9h457.8v7.2h-457.8zM-445.8 0h891.6v7.2h-891.6zM-445.8 -6.9h891.6v7.2h-891.6zM-445.5 -13.9h891v7.2h-891zM-445 -20.8h890v7.2h-890zM-444.3 -27.8h888.6v7.2h-888.6zM-443.4 -34.7h886.7v7.2h-886.7zM-442.2 -41.7h448.3v7.2h-448.3zM18.3 -41.7h54.8v7.2h-54.8zM152.1 -41.7h290v7.2h-290zM-440.7 -48.6h325.5v7.2h-325.5zM175.9 -48.6h264.8v7.2h-264.8zM-439 -55.6h70.5v7.2h-70.5zM-265.8 -55.6h114.8v7.2h-114.8zM187.3 -55.6h251.7v7.2h-251.7zM-385 -62.5h18v7.2h-18zM-246.6 -62.5h72.2v7.2h-72.2zM192.5 -62.5h210.5v7.2h-210.5zM-227.5 -69.5h59.9v7.2h-59.9zM191.6 -69.5h215.5v7.2h-215.5zM-432.7 -76.4h39.7v7.2h-39.7zM-220.3 -76.4h71.5v7.2h-71.5zM196.5 -76.4h236.2v7.2h-236.2zM-429.8 -83.4h51.3v7.2h-51.3zM-224.8 -83.4h100.5v7.2h-100.5zM195.2 -83.4h234.7v7.2h-234.7zM-426.5 -90.3h74.4v7.2h-74.4zM-223 -90.3h146.7v7.2h-146.7zM187.8 -90.3h238.7v7.2h-238.7zM-422.6 -97.3h120.3v7.2h-120.3zM-226.8 -97.3h284.9v7.2h-284.9zM151.2 -97.3h271.5v7.2h-271.5zM-418.4 -104.2h136.4v7.2h-136.4zM-230.2 -104.2h449v7.2h-449zM241.7 -104.2h176.7v7.2h-176.7zM-413.8 -111.1h140.6v7.2h-140.6zM-227.6 -111.1h421.2v7.2h-421.2zM261.8 -111.1h152v7.2h-152zM-408.6 -118h144.5v7.2h-144.5zM-230.4 -118h410.2v7.2h-410.2zM264.1 -118h144.5v7.2h-144.5zM-403 -124.8h153.6v7.2h-153.6zM-232.7 -124.8h404.5v7.2h-404.5zM271.5 -124.8h131.4v7.2h-131.4zM-397 -131.7h571.7v7.1h-571.7zM267.5 -131.7h129.6v7.1h-129.6zM-390.8 -138.4h562.7v7.1h-562.7zM257.9 -138.4h132.9v7.1h-132.9zM-384.1 -145.1h563.6v7h-563.6zM248.1 -145.1h136v7h-136zM-376.8 -151.7h568.4v6.9h-568.4zM238.2 -151.7h138.6v6.9h-138.6zM-369.1 -158.2h577v6.8h-577zM228.2 -158.2h140.9v6.8h-140.9zM-361 -164.6h574.3v6.7h-574.3zM238 -164.6h123v6.7h-123zM-352.7 -170.9h556.1v6.6h-556.1zM251.8 -170.9h100.9v6.6h-100.9zM-344.1 -177.1h533v6.5h-533zM255.1 -177.1h89v6.5h-89zM-335.3 -183.1h510.1v6.3h-510.1zM262.3 -183.1h73v6.3h-73zM-326.2 -189h478.4v6.2h-478.4zM277.5 -189h48.8v6.2h-48.8zM-316.8 -194.7h99.6v6h-99.6zM-147.7 -194.7h273.7v6h-273.7zM-12.6 -200.3h25.2v5.8h-25.2z"/><path fill="#482878" d="M-335.3 177.1h670.5v6.3h-670.5zM-344.1 170.9h688.2v6.5h-688.2zM-352.7 164.6h705.4v6.6h-705.4zM-361 158.2h722.1v6.7h-722.1zM-369.1 151.7h738.2v6.8h-738.2zM-376.8 145.1h753.6v6.9h-753.6zM-384.1 138.4h768.2v7h-768.2zM-390.8 131.7h781.6v7.1h-781.6zM-397 124.8h794.1v7.1h-794.1zM-403 118h805.9v7.2h-805.9zM-408.6 111.1h817.2v7.2h-817.2zM-413.8 104.2h827.5v7.2h-827.5zM-418.4 97.3h836.8v7.2h-836.8zM-422.6 90.3h457.5v7.2h-457.5zM46.5 90.3h226.8v7.2h-226.8zM331.4 90.3h91.2v7.2h-91.2zM-426.5 83.4h444.1v7.2h-444.1zM52.8 83.4h199.5v7.2h-199.5zM352.1 83.4h74.4v7.2h-74.4zM-429.8 76.4h169.6v7.2h-169.6zM-153.8 76.4h124.2v7.2h-124.2zM59.1 76.4h100.5v7.2h-100.5zM372.6 76.4h57.2v7.2h-57.2zM-432.7 69.5h146.9v7.2h-146.9zM-148.9 69.5h89.3v7.2h-89.3zM65.5 69.5h53.6v7.2h-53.6zM393 69.5h39.7v7.2h-39.7zM-435.1 62.5h129.7v7.2h-129.7zM-143.7 62.5h53.9v7.2h-53.9zM65.9 62.5h29.9v7.2h-29.9zM413.1 62.5h22v7.2h-22zM-437.1 55.6h118.3v7.2h-118.3zM-150.4 55.6h60.2v7.2h-60.2zM72.2 55.6h18v7.2h-18zM397 55.6h40.1v7.2h-40.1zM-439 48.6h106.7v7.2h-106.7zM-157.1 48.6h60.4v7.2h-60.4zM386.6 48.6h52.3v7.2h-52.3zM-440.7 41.7h101v7.2h-101zM-169.8 41.7h66.7v7.2h-66.7zM376 41.7h64.7v7.2h-64.7zM-442.2 34.7h89.2v7.2h-89.2zM-182.6 34.7h79.1v7.2h-79.1zM54.8 34.7h42.6v7.2h-42.6zM146.1 34.7h91.3v7.2h-91.3zM359.1 34.7h83.1v7.2h-83.1zM-443.4 27.8h77.2v7.2h-77.2zM-189.2 27.8h79.3v7.2h-79.3zM30.5 27.8h238v7.2h-238zM341.7 27.8h101.6v7.2h-101.6zM-444.3 20.8h59v7.2h-59zM-195.7 20.8h85.6v7.2h-85.6zM18.3 20.8h426v7.2h-426zM-445 13.9h46.9v7.2h-46.9zM-202.1 13.9h85.8v7.2h-85.8zM6.1 13.9h438.9v7.2h-438.9zM-445.5 6.9h46.9v7.2h-46.9zM-208.5 6.9h98.1v7.2h-98.1zM0 6.9h445.5v7.2h-445.5zM-445.8 0h83.8v7.2h-83.8zM-214.8 0h110.5v7.2h-110.5zM-73.6 0h519.4v7.2h-519.4zM-445.8 -6.9h891.6v7.2h-891.6zM-445.5 -13.9h891v7.2h-891zM-445 -20.8h890v7.2h-890zM-444.3 -27.8h888.6v7.2h-888.6zM-443.4 -34.7h534.9v7.2h-534.9zM146.5 -34.7h296.9v7.2h-296.9zM-442.2 -41.7h399.6v7.2h-399.6zM170.4 -41.7h271.8v7.2h-271.8zM-440.7 -48.6h76.8v7.2h-76.8zM-285.1 -48.6h133.4v7.2h-133.4zM182 -48.6h258.7v7.2h-258.7zM-380.6 -55.6h12.1v7.2h-12.1zM-247.7 -55.6h66.5v7.2h-66.5zM193.3 -55.6h205.4v7.2h-205.4zM-379 -62.5h6v7.2h-6zM-234.6 -62.5h36.1v7.2h-36.1zM198.5 -62.5h186.5v7.2h-186.5zM197.6 -69.5h185.6v7.2h-185.6zM-190.5 -76.4h23.8v7.2h-23.8zM196.5 -76.4h47.6v7.2h-47.6zM250.1 -76.4h160.8v7.2h-160.8zM-429.8 -83.4h27.7v7.2h-27.7zM-201.1 -83.4h53.2v7.2h-53.2zM201.1 -83.4h29.6v7.2h-29.6zM266.2 -83.4h163.7v7.2h-163.7zM-426.5 -90.3h56.8v7.2h-56.8zM-205.4 -90.3h88v7.2h-88zM211.2 -90.3h5.9v7.2h-5.9zM269.9 -90.3h156.6v7.2h-156.6zM-422.6 -97.3h79.6v7.2h-79.6zM-215.1 -97.3h151.2v7.2h-151.2zM273.3 -97.3h149.4v7.2h-149.4zM-418.4 -104.2h124.9v7.2h-124.9zM-218.7 -104.2h287.8v7.2h-287.8zM276.3 -104.2h142.1v7.2h-142.1zM-413.8 -111.1h134.9v7.2h-134.9zM-222 -111.1h392.7v7.2h-392.7zM278.9 -111.1h134.9v7.2h-134.9zM-408.6 -118h138.9v7.2h-138.9zM-219.2 -118h382.1v7.2h-382.1zM281 -118h127.6v7.2h-127.6zM-403 -124.8h137v7.2h-137zM-216.1 -124.8h376.8v7.2h-376.8zM282.6 -124.8h120.4v7.2h-120.4zM-397 -131.7h140.5v7.1h-140.5zM-212.9 -131.7h371.2v7.1h-371.2zM278.4 -131.7h118.6v7.1h-118.6zM-390.8 -138.4h138.3v7.1h-138.3zM-209.5 -138.4h370.7v7.1h-370.7zM274 -138.4h116.8v7.1h-116.8zM-384.1 -145.1h136v7h-136zM-200.6 -145.1h364.2v7h-364.2zM269.2 -145.1h114.9v7h-114.9zM-376.8 -151.7h133.4v6.9h-133.4zM-196.8 -151.7h362.4v6.9h-362.4zM269.2 -151.7h107.6v6.9h-107.6zM-369.1 -158.2h130.8v6.8h-130.8zM-192.7 -158.2h365.1v6.8h-365.1zM273.8 -158.2h95.3v6.8h-95.3zM-361 -164.6h132.9v6.7h-132.9zM-188.4 -164.6h362v6.7h-362zM282.7 -164.6h78.4v6.7h-78.4zM-352.7 -170.9h129.9v6.6h-129.9zM-184 -170.9h348.7v6.6h-348.7zM290.6 -170.9h62.1v6.6h-62.1zM-344.1 -177.1h117.4v6.5h-117.4zM-170 -177.1h325.9v6.5h-325.9zM302.3 -177.1h41.8v6.5h-41.8zM-266.9 -183.1h32.2v6.3h-32.2zM-92 -183.1h225.5v6.3h-225.5zM-44.8 -189h67.1v6.2h-67.1zM-8.7 -194.7h17.4v6h-17.4z"/><path fill="#46307e" d="M-344.1 170.9h688.2v6.5h-688.2zM-352.7 164.6h705.4v6.6h-705.4zM-361 158.2h722.1v6.7h-722.1zM-369.1 151.7h738.2v6.8h-738.2zM-376.8 145.1h753.6v6.9h-753.6zM-384.1 138.4h768.2v7h-768.2zM-390.8 131.7h781.6v7.1h-781.6zM-397 124.8h794.1v7.1h-794.1zM-403 118h805.9v7.2h-805.9zM-408.6 111.1h817.2v7.2h-817.2zM-413.8 104.2h827.5v7.2h-827.5zM-418.4 97.3h458.7v7.2h-458.7zM46 97.3h213v7.2h-213zM333.8 97.3h84.6v7.2h-84.6zM-422.6 90.3h207.5v7.2h-207.5zM-180.3 90.3h197.7v7.2h-197.7zM52.3 90.3h186.1v7.2h-186.1zM360.5 90.3h62.1v7.2h-62.1zM-426.5 83.4h180v7.2h-180zM-140.8 83.4h135v7.2h-135zM58.7 83.4h117.4v7.2h-117.4zM387.3 83.4h39.2v7.2h-39.2zM-402.2 76.4h130.1v7.2h-130.1zM-141.9 76.4h94.6v7.2h-94.6zM65.1 76.4h65.1v7.2h-65.1zM-404.9 69.5h107.2v7.2h-107.2zM-142.9 69.5h65.5v7.2h-65.5zM65.5 69.5h35.7v7.2h-35.7zM-419.1 62.5h107.8v7.2h-107.8zM-143.7 62.5h47.9v7.2h-47.9zM71.8 62.5h18v7.2h-18zM-437.1 55.6h112.3v7.2h-112.3zM-144.4 55.6h48.1v7.2h-48.1zM427.1 55.6h10v7.2h-10zM-439 48.6h100.7v7.2h-100.7zM-151 48.6h54.4v7.2h-54.4zM404.7 48.6h34.2v7.2h-34.2zM-440.7 41.7h88.9v7.2h-88.9zM-163.8 41.7h60.7v7.2h-60.7zM382.1 41.7h58.6v7.2h-58.6zM-442.2 34.7h83.1v7.2h-83.1zM-176.5 34.7h66.9v7.2h-66.9zM365.2 34.7h77v7.2h-77zM-443.4 27.8h65v7.2h-65zM-183.1 27.8h67.1v7.2h-67.1zM36.6 27.8h219.7v7.2h-219.7zM347.8 27.8h95.5v7.2h-95.5zM-444.3 20.8h52.9v7.2h-52.9zM-189.6 20.8h73.4v7.2h-73.4zM24.5 20.8h263v7.2h-263zM318 20.8h126.3v7.2h-126.3zM-445 13.9h40.8v7.2h-40.8zM-196 13.9h79.6v7.2h-79.6zM12.3 13.9h432.8v7.2h-432.8zM-445.5 6.9h34.7v7.2h-34.7zM-202.4 6.9h85.8v7.2h-85.8zM6.1 6.9h439.4v7.2h-439.4zM-445.8 0h40.8v7.2h-40.8zM-208.6 0h98.2v7.2h-98.2zM-6.1 0h451.9v7.2h-451.9zM-445.8 -6.9h157.4v7.2h-157.4zM-220.9 -6.9h666.7v7.2h-666.7zM-445.5 -13.9h891v7.2h-891zM-445 -20.8h890v7.2h-890zM-444.3 -27.8h554.4v7.2h-554.4zM134.5 -27.8h309.8v7.2h-309.8zM-443.4 -34.7h443.4v7.2h-443.4zM12.2 -34.7h61v7.2h-61zM164.8 -34.7h278.6v7.2h-278.6zM-442.2 -41.7h308.3v7.2h-308.3zM176.5 -41.7h265.7v7.2h-265.7zM-254.7 -48.6h78.8v7.2h-78.8zM182 -48.6h224.4v7.2h-224.4zM-380.6 -55.6h6v7.2h-6zM-241.6 -55.6h54.4v7.2h-54.4zM193.3 -55.6h193.3v7.2h-193.3zM-379 -62.5h6v7.2h-6zM198.5 -62.5h174.4v7.2h-174.4zM203.6 -69.5h35.9v7.2h-35.9zM251.5 -69.5h119.7v7.2h-119.7zM202.5 -76.4h29.8v7.2h-29.8zM256 -76.4h6v7.2h-6zM279.9 -76.4h113.1v7.2h-113.1zM-429.8 -83.4h9.9v7.2h-9.9zM-183.4 -83.4h23.7v7.2h-23.7zM207 -83.4h17.7v7.2h-17.7zM289.8 -83.4h140v7.2h-140zM-426.5 -90.3h39.2v7.2h-39.2zM-193.6 -90.3h58.7v7.2h-58.7zM299.3 -90.3h127.2v7.2h-127.2zM-422.6 -97.3h68v7.2h-68zM-203.5 -97.3h104.7v7.2h-104.7zM296.5 -97.3h126.1v7.2h-126.1zM-418.4 -104.2h96.1v7.2h-96.1zM-207.2 -104.2h161.2v7.2h-161.2zM-28.8 -104.2h17.3v7.2h-17.3zM293.5 -104.2h124.9v7.2h-124.9zM-413.8 -111.1h123.5v7.2h-123.5zM-210.6 -111.1h290.3v7.2h-290.3zM295.9 -111.1h117.8v7.2h-117.8zM-408.6 -118h127.6v7.2h-127.6zM-207.9 -118h342.8v7.2h-342.8zM292.2 -118h116.4v7.2h-116.4zM-403 -124.8h131.4v7.2h-131.4zM-205 -124.8h343.6v7.2h-343.6zM293.7 -124.8h109.3v7.2h-109.3zM-397 -131.7h129.6v7.1h-129.6zM-202 -131.7h343.9v7.1h-343.9zM294.8 -131.7h102.3v7.1h-102.3zM-390.8 -138.4h132.9v7.1h-132.9zM-193.4 -138.4h338.5v7.1h-338.5zM290.1 -138.4h100.7v7.1h-100.7zM-384.1 -145.1h130.7v7h-130.7zM-184.8 -145.1h332.6v7h-332.6zM290.3 -145.1h93.7v7h-93.7zM-376.8 -151.7h123.1v6.9h-123.1zM-181.2 -151.7h331.4v6.9h-331.4zM295.1 -151.7h81.7v6.9h-81.7zM-369.1 -158.2h120.6v6.8h-120.6zM-172.4 -158.2h324.5v6.8h-324.5zM309.3 -158.2h59.8v6.8h-59.8zM-361 -164.6h118.1v6.7h-118.1zM-163.6 -164.6h312.4v6.7h-312.4zM322.3 -164.6h38.7v6.7h-38.7zM-334.2 -170.9h92v6.6h-92zM-130.8 -170.9h276.1v6.6h-276.1zM-297.6 -177.1h56.7v6.5h-56.7zM-94.5 -177.1h222v6.5h-222zM-50.6 -183.1h73.6v6.3h-73.6zM69 -183.1h23v6.3h-23zM-17.9 -189h31.3v6.2h-31.3z"/><path fill="#453882" d="M-352.7 164.6h705.4v6.6h-705.4zM-361 158.2h722.1v6.7h-722.1zM-369.1 151.7h738.2v6.8h-738.2zM-376.8 145.1h753.6v6.9h-753.6zM-384.1 138.4h768.2v7h-768.2zM-390.8 131.7h781.6v7.1h-781.6zM-397 124.8h794.1v7.1h-794.1zM-403 118h805.9v7.2h-805.9zM-408.6 111.1h684v7.2h-684zM309.1 111.1h99.5v7.2h-99.5zM-413.8 104.2h226v7.2h-226zM-182.1 104.2h216.3v7.2h-216.3zM51.2 104.2h193.5v7.2h-193.5zM324.4 104.2h17.1v7.2h-17.1zM352.9 104.2h60.9v7.2h-60.9zM-362.6 97.3h149.7v7.2h-149.7zM-178.4 97.3h17.3v7.2h-17.3zM-126.6 97.3h149.7v7.2h-149.7zM57.6 97.3h172.7v7.2h-172.7zM-366.3 90.3h133.7v7.2h-133.7zM-133.7 90.3h139.5v7.2h-139.5zM58.1 90.3h139.5v7.2h-139.5zM-375.5 83.4h117.4v7.2h-117.4zM-135 83.4h105.6v7.2h-105.6zM64.5 83.4h82.1v7.2h-82.1zM-384.4 76.4h100.5v7.2h-100.5zM-136 76.4h76.9v7.2h-76.9zM65.1 76.4h41.4v7.2h-41.4zM-393 69.5h89.3v7.2h-89.3zM-137 69.5h47.6v7.2h-47.6zM71.5 69.5h17.9v7.2h-17.9zM-407.1 62.5h89.8v7.2h-89.8zM-137.7 62.5h41.9v7.2h-41.9zM-427.1 55.6h96.2v7.2h-96.2zM-138.4 55.6h36.1v7.2h-36.1zM-439 48.6h94.6v7.2h-94.6zM-145 48.6h42.3v7.2h-42.3zM416.8 48.6h22.1v7.2h-22.1zM-440.7 41.7h82.8v7.2h-82.8zM-157.7 41.7h48.5v7.2h-48.5zM394.2 41.7h46.5v7.2h-46.5zM-442.2 34.7h70.9v7.2h-70.9zM-170.4 34.7h60.9v7.2h-60.9zM377.3 34.7h64.9v7.2h-64.9zM-443.4 27.8h58.9v7.2h-58.9zM-183.1 27.8h67.1v7.2h-67.1zM42.7 27.8h48.8v7.2h-48.8zM134.3 27.8h115.9v7.2h-115.9zM353.9 27.8h89.4v7.2h-89.4zM-444.3 20.8h46.8v7.2h-46.8zM-189.6 20.8h73.4v7.2h-73.4zM24.5 20.8h244.6v7.2h-244.6zM324.1 20.8h120.2v7.2h-120.2zM-445 13.9h28.5v7.2h-28.5zM-196 13.9h79.6v7.2h-79.6zM18.4 13.9h426.6v7.2h-426.6zM-445.5 6.9h22.4v7.2h-22.4zM-202.4 6.9h79.7v7.2h-79.7zM12.3 6.9h433.2v7.2h-433.2zM-445.8 0h22.4v7.2h-22.4zM-202.5 0h79.8v7.2h-79.8zM0 0h445.8v7.2h-445.8zM-445.8 -6.9h96v7.2h-96zM-208.6 -6.9h654.4v7.2h-654.4zM-445.5 -13.9h891v7.2h-891zM-445 -20.8h561.4v7.2h-561.4zM134.8 -20.8h310.3v7.2h-310.3zM-444.3 -27.8h542.1v7.2h-542.1zM159 -27.8h285.3v7.2h-285.3zM-443.4 -34.7h425.1v7.2h-425.1zM170.9 -34.7h272.5v7.2h-272.5zM-442.2 -41.7h271.8v7.2h-271.8zM176.5 -41.7h265.7v7.2h-265.7zM-248.7 -48.6h66.7v7.2h-66.7zM188 -48.6h200.2v7.2h-200.2zM-380.6 -55.6h6v7.2h-6zM-241.6 -55.6h48.3v7.2h-48.3zM199.4 -55.6h175.2v7.2h-175.2zM-379 -62.5h6v7.2h-6zM204.5 -62.5h42.1v7.2h-42.1zM252.6 -62.5h114.3v7.2h-114.3zM203.6 -69.5h29.9v7.2h-29.9zM257.5 -69.5h6v7.2h-6zM281.4 -69.5h83.8v7.2h-83.8zM202.5 -76.4h23.8v7.2h-23.8zM291.8 -76.4h83.4v7.2h-83.4zM307.6 -83.4h106.5v7.2h-106.5zM-426.5 -90.3h27.5v7.2h-27.5zM-187.8 -90.3h41.1v7.2h-41.1zM311 -90.3h115.5v7.2h-115.5zM-422.6 -97.3h50.5v7.2h-50.5zM-191.9 -97.3h75.6v7.2h-75.6zM308.2 -97.3h114.5v7.2h-114.5zM-418.4 -104.2h78.8v7.2h-78.8zM-195.7 -104.2h109.4v7.2h-109.4zM305.1 -104.2h113.4v7.2h-113.4zM-413.8 -111.1h106.4v7.2h-106.4zM-199.2 -111.1h250.4v7.2h-250.4zM301.6 -111.1h112.1v7.2h-112.1zM-408.6 -118h116.4v7.2h-116.4zM-196.7 -118h275.4v7.2h-275.4zM303.5 -118h105.2v7.2h-105.2zM-403 -124.8h125.9v7.2h-125.9zM-193.9 -124.8h288.1v7.2h-288.1zM304.8 -124.8h98.2v7.2h-98.2zM-397 -131.7h129.6v7.1h-129.6zM-185.6 -131.7h300.2v7.1h-300.2zM305.7 -131.7h91.3v7.1h-91.3zM-390.8 -138.4h127.6v7.1h-127.6zM-177.3 -138.4h300.9v7.1h-300.9zM306.2 -138.4h84.6v7.1h-84.6zM-384.1 -145.1h125.4v7h-125.4zM-168.9 -145.1h295.6v7h-295.6zM316.7 -145.1h67.3v7h-67.3zM-376.8 -151.7h123.1v6.9h-123.1zM-155.3 -151.7h284.8v6.9h-284.8zM336.6 -151.7h40.2v6.9h-40.2zM-354.9 -158.2h101.4v6.8h-101.4zM-126.8 -158.2h263.7v6.8h-263.7zM-327.3 -164.6h79.3v6.7h-79.3zM-104.1 -164.6h238v6.7h-238zM-314.8 -170.9h67.8v6.6h-67.8zM-96.9 -170.9h125.9v6.6h-125.9zM38.7 -170.9h87.2v6.6h-87.2zM-278.7 -177.1h4.7v6.5h-4.7zM-264.5 -177.1h18.9v6.5h-18.9zM-89.7 -177.1h18.9v6.5h-18.9zM-56.7 -177.1h80.3v6.5h-80.3zM61.4 -177.1h42.5v6.5h-42.5zM-46 -183.1h64.4v6.3h-64.4z"/><path fill="#424086" d="M-369.1 151.7h738.2v6.8h-738.2zM-376.8 145.1h753.6v6.9h-753.6zM-384.1 138.4h768.2v7h-768.2zM-284.7 131.7h102.1v7.1h-102.1zM-171.9 131.7h26.9v7.1h-26.9zM-75.2 131.7h118.2v7.1h-118.2zM75.2 131.7h161.2v7.1h-161.2zM354.6 131.7h16.1v7.1h-16.1zM-283.9 124.8h92.8v7.1h-92.8zM-169.2 124.8h16.4v7.1h-16.4zM-76.4 124.8h114.6v7.1h-114.6zM76.4 124.8h158.3v7.1h-158.3zM311.2 124.8h10.9v7.1h-10.9zM360.3 124.8h16.4v7.1h-16.4zM-299.2 118h105.3v7.2h-105.3zM-171.8 118h16.6v7.2h-16.6zM-88.7 118h121.9v7.2h-121.9zM72 118h160.7v7.2h-160.7zM315.8 118h16.6v7.2h-16.6zM365.7 118h16.6v7.2h-16.6zM-309.1 111.1h106.8v7.2h-106.8zM-174.2 111.1h16.9v7.2h-16.9zM-101.2 111.1h134.9v7.2h-134.9zM67.4 111.1h163v7.2h-163zM320.3 111.1h16.9v7.2h-16.9zM370.9 111.1h16.9v7.2h-16.9zM-324.4 104.2h113.8v7.2h-113.8zM-176.4 104.2h17.1v7.2h-17.1zM-108.1 104.2h130.9v7.2h-130.9zM62.6 104.2h165v7.2h-165zM381.3 104.2h5.7v7.2h-5.7zM-333.8 97.3h109.4v7.2h-109.4zM-172.7 97.3h5.8v7.2h-5.8zM-115.1 97.3h126.6v7.2h-126.6zM63.3 97.3h143.9v7.2h-143.9zM-348.9 90.3h104.7v7.2h-104.7zM-122.1 90.3h110.5v7.2h-110.5zM64 90.3h98.8v7.2h-98.8zM-357.9 83.4h88v7.2h-88zM-135 83.4h93.9v7.2h-93.9zM64.5 83.4h64.5v7.2h-64.5zM-372.6 76.4h82.8v7.2h-82.8zM-136 76.4h59.1v7.2h-59.1zM65.1 76.4h29.6v7.2h-29.6zM-387 69.5h77.4v7.2h-77.4zM-137 69.5h35.7v7.2h-35.7zM71.5 69.5h11.9v7.2h-11.9zM-401.2 62.5h77.8v7.2h-77.8zM-137.7 62.5h35.9v7.2h-35.9zM-415.1 55.6h78.2v7.2h-78.2zM-138.4 55.6h36.1v7.2h-36.1zM-439 48.6h88.6v7.2h-88.6zM-138.9 48.6h36.2v7.2h-36.2zM-440.7 41.7h82.8v7.2h-82.8zM-151.6 41.7h42.5v7.2h-42.5zM406.4 41.7h34.3v7.2h-34.3zM-442.2 34.7h70.9v7.2h-70.9zM-164.3 34.7h48.7v7.2h-48.7zM383.4 34.7h58.8v7.2h-58.8zM-443.4 27.8h52.8v7.2h-52.8zM-177 27.8h61v7.2h-61zM54.9 27.8h18.3v7.2h-18.3zM164.8 27.8h73.2v7.2h-73.2zM360 27.8h83.3v7.2h-83.3zM-444.3 20.8h40.7v7.2h-40.7zM-189.6 20.8h67.3v7.2h-67.3zM30.6 20.8h73.4v7.2h-73.4zM116.2 20.8h146.8v7.2h-146.8zM330.2 20.8h114.1v7.2h-114.1zM-445 13.9h22.4v7.2h-22.4zM-196 13.9h73.5v7.2h-73.5zM18.4 13.9h426.6v7.2h-426.6zM-445.5 6.9h16.3v7.2h-16.3zM-196.2 6.9h73.6v7.2h-73.6zM12.3 6.9h433.2v7.2h-433.2zM-445.8 0h16.3v7.2h-16.3zM-202.5 0h73.6v7.2h-73.6zM6.1 0h439.7v7.2h-439.7zM-445.8 -6.9h28.5v7.2h-28.5zM-208.6 -6.9h165.7v7.2h-165.7zM-24.5 -6.9h470.4v7.2h-470.4zM-445.5 -13.9h224.8v7.2h-224.8zM-214.6 -13.9h325v7.2h-325zM134.9 -13.9h310.6v7.2h-310.6zM-445 -20.8h549.1v7.2h-549.1zM159.3 -20.8h285.8v7.2h-285.8zM-444.3 -27.8h529.9v7.2h-529.9zM171.2 -27.8h273.1v7.2h-273.1zM-443.4 -34.7h412.9v7.2h-412.9zM177 -34.7h266.4v7.2h-266.4zM-426 -41.7h249.5v7.2h-249.5zM182.6 -41.7h219.1v7.2h-219.1zM-242.6 -48.6h60.7v7.2h-60.7zM188 -48.6h194.1v7.2h-194.1zM-380.6 -55.6h6v7.2h-6zM-235.6 -55.6h42.3v7.2h-42.3zM199.4 -55.6h169.1v7.2h-169.1zM-379 -62.5h6v7.2h-6zM204.5 -62.5h36.1v7.2h-36.1zM252.6 -62.5h108.3v7.2h-108.3zM203.6 -69.5h29.9v7.2h-29.9zM257.5 -69.5h6v7.2h-6zM287.4 -69.5h71.8v7.2h-71.8zM208.4 -76.4h17.9v7.2h-17.9zM309.6 -76.4h59.5v7.2h-59.5zM313.5 -83.4h82.8v7.2h-82.8zM-426.5 -90.3h15.7v7.2h-15.7zM-176 -90.3h17.6v7.2h-17.6zM311 -90.3h115.5v7.2h-115.5zM-422.6 -97.3h44.7v7.2h-44.7zM-186.1 -97.3h58.1v7.2h-58.1zM314 -97.3h108.7v7.2h-108.7zM-418.4 -104.2h67.3v7.2h-67.3zM-189.9 -104.2h92.1v7.2h-92.1zM310.8 -104.2h107.6v7.2h-107.6zM-413.8 -111.1h95.1v7.2h-95.1zM-187.8 -111.1h119.5v7.2h-119.5zM-28.5 -111.1h17.1v7.2h-17.1zM307.3 -111.1h106.4v7.2h-106.4zM-408.6 -118h110.8v7.2h-110.8zM-185.4 -118h241.6v7.2h-241.6zM309.1 -118h99.5v7.2h-99.5zM-403 -124.8h120.4v7.2h-120.4zM-177.3 -124.8h238.3v7.2h-238.3zM310.3 -124.8h92.7v7.2h-92.7zM-397 -131.7h124.1v7.1h-124.1zM-169.2 -131.7h229.3v7.1h-229.3zM316.6 -131.7h80.4v7.1h-80.4zM-390.8 -138.4h127.6v7.1h-127.6zM-161.2 -138.4h225.6v7.1h-225.6zM327.7 -138.4h63.1v7.1h-63.1zM-384.1 -145.1h125.4v7h-125.4zM-147.8 -145.1h174.2v7h-174.2zM47.5 -145.1h42.2v7h-42.2zM348.4 -145.1h35.7v7h-35.7zM-352.1 -151.7h93.2v6.9h-93.2zM-119.1 -151.7h139.8v6.9h-139.8zM51.8 -151.7h57v6.9h-57zM-324.5 -158.2h71v6.8h-71zM-101.4 -158.2h126.8v6.8h-126.8zM50.7 -158.2h65.9v6.8h-65.9zM-317.4 -164.6h64.5v6.7h-64.5zM-99.2 -164.6h124v6.7h-124zM49.6 -164.6h69.4v6.7h-69.4zM-310 -170.9h63v6.6h-63zM-96.9 -170.9h29.1v6.6h-29.1zM-58.1 -170.9h82.3v6.6h-82.3zM63 -170.9h43.6v6.6h-43.6zM-259.8 -177.1h14.2v6.5h-14.2zM-89.7 -177.1h14.2v6.5h-14.2zM-52 -177.1h70.9v6.5h-70.9zM-41.4 -183.1h55.2v6.3h-55.2z"/><path fill="#3f4788" d="M-155.3 145.1h5.2v6.9h-5.2zM-158.4 138.4h10.6v7h-10.6zM-236.4 131.7h32.2v7.1h-32.2zM-166.5 131.7h16.1v7.1h-16.1zM-10.7 131.7h26.9v7.1h-26.9zM177.3 131.7h32.2v7.1h-32.2zM360 131.7h5.4v7.1h-5.4zM-256.6 124.8h54.6v7.1h-54.6zM-169.2 124.8h16.4v7.1h-16.4zM-32.8 124.8h54.6v7.1h-54.6zM141.9 124.8h76.4v7.1h-76.4zM360.3 124.8h16.4v7.1h-16.4zM-271.5 118h66.5v7.2h-66.5zM-171.8 118h16.6v7.2h-16.6zM-55.4 118h77.6v7.2h-77.6zM105.3 118h116.4v7.2h-116.4zM315.8 118h11.1v7.2h-11.1zM365.7 118h16.6v7.2h-16.6zM-292.2 111.1h84.3v7.2h-84.3zM-174.2 111.1h16.9v7.2h-16.9zM-78.7 111.1h101.2v7.2h-101.2zM84.3 111.1h134.9v7.2h-134.9zM320.3 111.1h16.9v7.2h-16.9zM376.5 111.1h11.2v7.2h-11.2zM-307.3 104.2h85.4v7.2h-85.4zM-170.7 104.2h5.7v7.2h-5.7zM-91.1 104.2h102.4v7.2h-102.4zM74 104.2h136.6v7.2h-136.6zM-322.3 97.3h86.3v7.2h-86.3zM-103.6 97.3h103.6v7.2h-103.6zM69.1 97.3h109.4v7.2h-109.4zM-337.2 90.3h81.4v7.2h-81.4zM-116.3 90.3h93v7.2h-93zM64 90.3h81.4v7.2h-81.4zM-352.1 83.4h70.4v7.2h-70.4zM-129.1 83.4h76.3v7.2h-76.3zM70.4 83.4h41.1v7.2h-41.1zM-366.7 76.4h71v7.2h-71zM-136 76.4h47.3v7.2h-47.3zM71 76.4h17.7v7.2h-17.7zM-375.1 69.5h59.5v7.2h-59.5zM-137 69.5h35.7v7.2h-35.7zM-389.2 62.5h59.9v7.2h-59.9zM-137.7 62.5h29.9v7.2h-29.9zM-409 55.6h66.2v7.2h-66.2zM-132.3 55.6h24.1v7.2h-24.1zM-428.9 48.6h78.5v7.2h-78.5zM-132.9 48.6h24.2v7.2h-24.2zM-440.7 41.7h76.8v7.2h-76.8zM-151.6 41.7h36.4v7.2h-36.4zM418.5 41.7h22.2v7.2h-22.2zM-442.2 34.7h64.9v7.2h-64.9zM-164.3 34.7h48.7v7.2h-48.7zM389.5 34.7h52.7v7.2h-52.7zM-443.4 27.8h46.7v7.2h-46.7zM-177 27.8h54.9v7.2h-54.9zM195.3 27.8h30.5v7.2h-30.5zM366.1 27.8h77.2v7.2h-77.2zM-444.3 20.8h34.6v7.2h-34.6zM-183.5 20.8h61.2v7.2h-61.2zM36.7 20.8h55v7.2h-55zM128.4 20.8h128.4v7.2h-128.4zM336.3 20.8h108v7.2h-108zM-445 13.9h16.3v7.2h-16.3zM-189.9 13.9h67.4v7.2h-67.4zM24.5 13.9h269.5v7.2h-269.5zM306.3 13.9h138.8v7.2h-138.8zM-445.5 6.9h10.1v7.2h-10.1zM-196.2 6.9h67.5v7.2h-67.5zM18.4 6.9h427.1v7.2h-427.1zM-202.5 0h73.6v7.2h-73.6zM12.3 0h433.5v7.2h-433.5zM-445.8 -6.9h10.1v7.2h-10.1zM-202.5 -6.9h67.5v7.2h-67.5zM-12.3 -6.9h122.7v7.2h-122.7zM128.9 -6.9h317v7.2h-317zM-445.5 -13.9h181.8v7.2h-181.8zM-214.6 -13.9h318.9v7.2h-318.9zM159.4 -13.9h286.1v7.2h-286.1zM-445 -20.8h543v7.2h-543zM171.5 -20.8h273.5v7.2h-273.5zM-444.3 -27.8h511.6v7.2h-511.6zM177.3 -27.8h267v7.2h-267zM-443.4 -34.7h309.1v7.2h-309.1zM-115.9 -34.7h79.3v7.2h-79.3zM177 -34.7h266.4v7.2h-266.4zM-395.6 -41.7h48.7v7.2h-48.7zM-286 -41.7h109.5v7.2h-109.5zM182.6 -41.7h206.9v7.2h-206.9zM-242.6 -48.6h54.6v7.2h-54.6zM194.1 -48.6h182v7.2h-182zM-380.6 -55.6h6v7.2h-6zM-235.6 -55.6h36.2v7.2h-36.2zM199.4 -55.6h163.1v7.2h-163.1zM204.5 -62.5h30.1v7.2h-30.1zM252.6 -62.5h18v7.2h-18zM282.7 -62.5h72.2v7.2h-72.2zM209.6 -69.5h18v7.2h-18zM257.5 -69.5h6v7.2h-6zM293.4 -69.5h53.9v7.2h-53.9zM321.5 -76.4h35.7v7.2h-35.7zM319.4 -83.4h65.1v7.2h-65.1zM316.9 -90.3h109.6v7.2h-109.6zM-422.6 -97.3h33.1v7.2h-33.1zM-180.3 -97.3h40.7v7.2h-40.7zM314 -97.3h108.7v7.2h-108.7zM-418.4 -104.2h55.8v7.2h-55.8zM-184.2 -104.2h74.8v7.2h-74.8zM310.8 -104.2h107.6v7.2h-107.6zM-413.8 -111.1h83.7v7.2h-83.7zM-182.1 -111.1h96.8v7.2h-96.8zM-22.8 -111.1h5.7v7.2h-5.7zM313 -111.1h100.8v7.2h-100.8zM-408.6 -118h99.5v7.2h-99.5zM-179.8 -118h118v7.2h-118zM-33.7 -118h28.1v7.2h-28.1zM5.6 -118h39.3v7.2h-39.3zM314.7 -118h93.9v7.2h-93.9zM-403 -124.8h109.3v7.2h-109.3zM-171.8 -124.8h127.4v7.2h-127.4zM-33.2 -124.8h27.7v7.2h-27.7zM0 -124.8h49.9v7.2h-49.9zM321.4 -124.8h81.6v7.2h-81.6zM-397 -131.7h124.1v7.1h-124.1zM-158.3 -131.7h152.8v7.1h-152.8zM5.5 -131.7h38.2v7.1h-38.2zM327.5 -131.7h69.5v7.1h-69.5zM-390.8 -138.4h127.6v7.1h-127.6zM-145.1 -138.4h145.1v7.1h-145.1zM349.2 -138.4h41.6v7.1h-41.6zM-369.5 -145.1h110.9v7h-110.9zM-126.7 -145.1h132v7h-132zM-331.4 -151.7h72.5v6.9h-72.5zM-103.6 -151.7h119.1v6.9h-119.1zM-314.4 -158.2h60.8v6.8h-60.8zM-96.3 -158.2h116.6v6.8h-116.6zM-312.4 -164.6h59.5v6.7h-59.5zM-99.2 -164.6h119v6.7h-119zM84.3 -164.6h5v6.7h-5zM-305.1 -170.9h58.1v6.6h-58.1zM-92 -170.9h19.4v6.6h-19.4zM-53.3 -170.9h72.6v6.6h-72.6zM-255.1 -177.1h4.7v6.5h-4.7zM-85 -177.1h4.7v6.5h-4.7zM-47.2 -177.1h66.1v6.5h-66.1zM-9.2 -183.1h23v6.3h-23z"/><path fill="#3d4e8a" d="M-158.4 138.4h5.3v7h-5.3zM-161.2 131.7h5.4v7.1h-5.4zM360 131.7h5.4v7.1h-5.4zM-240.2 124.8h27.3v7.1h-27.3zM-163.8 124.8h10.9v7.1h-10.9zM-5.5 124.8h5.5v7.1h-5.5zM365.7 124.8h10.9v7.1h-10.9zM-260.4 118h49.9v7.2h-49.9zM-166.2 118h11.1v7.2h-11.1zM-38.8 118h55.4v7.2h-55.4zM149.6 118h61v7.2h-61zM321.4 118h5.5v7.2h-5.5zM365.7 118h16.6v7.2h-16.6zM-275.4 111.1h56.2v7.2h-56.2zM-168.6 111.1h5.6v7.2h-5.6zM-61.8 111.1h73.1v7.2h-73.1zM106.8 111.1h101.2v7.2h-101.2zM325.9 111.1h5.6v7.2h-5.6zM376.5 111.1h5.6v7.2h-5.6zM-295.9 104.2h68.3v7.2h-68.3zM-170.7 104.2h5.7v7.2h-5.7zM-79.7 104.2h85.4v7.2h-85.4zM85.4 104.2h102.4v7.2h-102.4zM-310.8 97.3h63.3v7.2h-63.3zM-92.1 97.3h80.6v7.2h-80.6zM74.8 97.3h80.6v7.2h-80.6zM-325.6 90.3h58.1v7.2h-58.1zM-104.7 90.3h69.8v7.2h-69.8zM69.8 90.3h58.1v7.2h-58.1zM-346.2 83.4h58.7v7.2h-58.7zM-129.1 83.4h58.7v7.2h-58.7zM70.4 83.4h23.5v7.2h-23.5zM-354.9 76.4h47.3v7.2h-47.3zM-136 76.4h29.6v7.2h-29.6zM76.9 76.4h5.9v7.2h-5.9zM-369.2 69.5h47.6v7.2h-47.6zM-137 69.5h29.8v7.2h-29.8zM-383.2 62.5h47.9v7.2h-47.9zM-131.7 62.5h23.9v7.2h-23.9zM-403 55.6h54.1v7.2h-54.1zM-132.3 55.6h24.1v7.2h-24.1zM-422.9 48.6h66.5v7.2h-66.5zM-440.7 41.7h70.7v7.2h-70.7zM-145.6 41.7h24.3v7.2h-24.3zM430.6 41.7h10.1v7.2h-10.1zM-442.2 34.7h58.8v7.2h-58.8zM-158.2 34.7h36.5v7.2h-36.5zM401.7 34.7h40.5v7.2h-40.5zM-443.4 27.8h46.7v7.2h-46.7zM-170.9 27.8h48.8v7.2h-48.8zM372.2 27.8h71.1v7.2h-71.1zM-444.3 20.8h28.5v7.2h-28.5zM-183.5 20.8h61.2v7.2h-61.2zM42.8 20.8h42.8v7.2h-42.8zM140.7 20.8h116.2v7.2h-116.2zM348.6 20.8h95.7v7.2h-95.7zM-445 13.9h10.1v7.2h-10.1zM-189.9 13.9h61.3v7.2h-61.3zM30.6 13.9h67.4v7.2h-67.4zM122.5 13.9h159.3v7.2h-159.3zM312.4 13.9h132.6v7.2h-132.6zM-196.2 6.9h67.5v7.2h-67.5zM18.4 6.9h92v7.2h-92zM116.5 6.9h318.9v7.2h-318.9zM-196.4 0h61.4v7.2h-61.4zM12.3 0h98.2v7.2h-98.2zM122.7 0h306.8v7.2h-306.8zM-202.5 -6.9h61.4v7.2h-61.4zM12.3 -6.9h92v7.2h-92zM147.3 -6.9h282.3v7.2h-282.3zM-445.5 -13.9h151.2v7.2h-151.2zM-208.5 -13.9h73.6v7.2h-73.6zM-128.8 -13.9h226.9v7.2h-226.9zM171.7 -13.9h273.8v7.2h-273.8zM-445 -20.8h536.9v7.2h-536.9zM177.6 -20.8h267.4v7.2h-267.4zM-444.3 -27.8h444.3v7.2h-444.3zM12.2 -27.8h18.3v7.2h-18.3zM177.3 -27.8h267v7.2h-267zM-443.4 -34.7h266.4v7.2h-266.4zM-152.6 -34.7h6.1v7.2h-6.1zM-109.8 -34.7h67.1v7.2h-67.1zM177 -34.7h266.4v7.2h-266.4zM-255.6 -41.7h73v7.2h-73zM182.6 -41.7h200.8v7.2h-200.8zM-242.6 -48.6h54.6v7.2h-54.6zM194.1 -48.6h175.9v7.2h-175.9zM-235.6 -55.6h36.2v7.2h-36.2zM205.4 -55.6h151v7.2h-151zM210.5 -62.5h18v7.2h-18zM252.6 -62.5h12v7.2h-12zM288.7 -62.5h60.2v7.2h-60.2zM209.6 -69.5h18v7.2h-18zM323.3 -69.5h18v7.2h-18zM327.5 -76.4h23.8v7.2h-23.8zM325.3 -83.4h53.2v7.2h-53.2zM322.7 -90.3h88v7.2h-88zM-422.6 -97.3h27.3v7.2h-27.3zM-174.4 -97.3h29.1v7.2h-29.1zM319.8 -97.3h102.8v7.2h-102.8zM-418.4 -104.2h50v7.2h-50zM-178.4 -104.2h57.6v7.2h-57.6zM316.6 -104.2h101.8v7.2h-101.8zM-413.8 -111.1h72.3v7.2h-72.3zM-176.4 -111.1h79.7v7.2h-79.7zM318.7 -111.1h95.1v7.2h-95.1zM-408.6 -118h93.9v7.2h-93.9zM-174.2 -118h101.2v7.2h-101.2zM-28.1 -118h16.9v7.2h-16.9zM16.9 -118h22.5v7.2h-22.5zM320.3 -118h88.3v7.2h-88.3zM-403 -124.8h103.7v7.2h-103.7zM-160.7 -124.8h105.3v7.2h-105.3zM-27.7 -124.8h16.6v7.2h-16.6zM11.1 -124.8h33.2v7.2h-33.2zM326.9 -124.8h76v7.2h-76zM-397 -131.7h124.1v7.1h-124.1zM-152.8 -131.7h114.6v7.1h-114.6zM-27.3 -131.7h16.4v7.1h-16.4zM21.8 -131.7h5.5v7.1h-5.5zM343.9 -131.7h53.1v7.1h-53.1zM-390.8 -138.4h122.2v7.1h-122.2zM-134.3 -138.4h123.6v7.1h-123.6zM381.4 -138.4h9.4v7.1h-9.4zM-348.4 -145.1h84.5v7h-84.5zM-110.9 -145.1h110.9v7h-110.9zM-321 -151.7h62.1v6.9h-62.1zM-98.4 -151.7h103.6v6.9h-103.6zM-304.2 -158.2h45.6v6.8h-45.6zM-96.3 -158.2h111.6v6.8h-111.6zM-312.4 -164.6h59.5v6.7h-59.5zM-94.2 -164.6h19.8v6.7h-19.8zM-59.5 -164.6h79.3v6.7h-79.3zM-300.3 -170.9h53.3v6.6h-53.3zM-92 -170.9h19.4v6.6h-19.4zM-48.4 -170.9h67.8v6.6h-67.8zM-47.2 -177.1h66.1v6.5h-66.1zM4.6 -183.1h4.6v6.3h-4.6z"/><path fill="#39558c" d="M-161.2 131.7h5.4v7.1h-5.4zM360 131.7h5.4v7.1h-5.4zM-163.8 124.8h5.5v7.1h-5.5zM365.7 124.8h10.9v7.1h-10.9zM-243.8 118h22.2v7.2h-22.2zM-166.2 118h5.5v7.2h-5.5zM321.4 118h5.5v7.2h-5.5zM371.3 118h11.1v7.2h-11.1zM-264.1 111.1h39.3v7.2h-39.3zM-168.6 111.1h5.6v7.2h-5.6zM-45 111.1h45v7.2h-45zM325.9 111.1h5.6v7.2h-5.6zM376.5 111.1h5.6v7.2h-5.6zM-284.6 104.2h45.5v7.2h-45.5zM-68.3 104.2h62.6v7.2h-62.6zM108.1 104.2h45.5v7.2h-45.5zM-299.3 97.3h40.3v7.2h-40.3zM-80.6 97.3h57.6v7.2h-57.6zM86.3 97.3h46v7.2h-46zM-319.8 90.3h40.7v7.2h-40.7zM-93 90.3h40.7v7.2h-40.7zM75.6 90.3h17.4v7.2h-17.4zM-334.5 83.4h35.2v7.2h-35.2zM-123.2 83.4h11.7v7.2h-11.7zM76.3 83.4h5.9v7.2h-5.9zM-349 76.4h35.5v7.2h-35.5zM-130.1 76.4h23.7v7.2h-23.7zM-363.2 69.5h35.7v7.2h-35.7zM-137 69.5h29.8v7.2h-29.8zM-377.2 62.5h35.9v7.2h-35.9zM-131.7 62.5h18v7.2h-18zM-397 55.6h48.1v7.2h-48.1zM-126.3 55.6h12v7.2h-12zM-410.8 48.6h48.3v7.2h-48.3zM-440.7 41.7h64.7v7.2h-64.7zM-139.5 41.7h6.1v7.2h-6.1zM-442.2 34.7h52.7v7.2h-52.7zM-158.2 34.7h36.5v7.2h-36.5zM407.8 34.7h34.4v7.2h-34.4zM-443.4 27.8h40.6v7.2h-40.6zM-170.9 27.8h48.8v7.2h-48.8zM378.3 27.8h65v7.2h-65zM-444.3 20.8h22.3v7.2h-22.3zM-177.3 20.8h48.9v7.2h-48.9zM48.9 20.8h24.5v7.2h-24.5zM146.8 20.8h104v7.2h-104zM354.7 20.8h89.6v7.2h-89.6zM-189.9 13.9h61.3v7.2h-61.3zM30.6 13.9h61.3v7.2h-61.3zM128.6 13.9h134.8v7.2h-134.8zM318.5 13.9h126.5v7.2h-126.5zM-190.1 6.9h55.2v7.2h-55.2zM24.5 6.9h73.6v7.2h-73.6zM122.6 6.9h306.6v7.2h-306.6zM-196.4 0h55.2v7.2h-55.2zM18.4 0h85.9v7.2h-85.9zM135 0h282.3v7.2h-282.3zM-202.5 -6.9h55.2v7.2h-55.2zM12.3 -6.9h85.9v7.2h-85.9zM159.5 -6.9h251.6v7.2h-251.6zM-445.5 -13.9h138.9v7.2h-138.9zM-208.5 -13.9h67.5v7.2h-67.5zM-122.6 -13.9h214.6v7.2h-214.6zM177.8 -13.9h267.7v7.2h-267.7zM-445 -20.8h524.6v7.2h-524.6zM177.6 -20.8h267.4v7.2h-267.4zM-444.3 -27.8h438.2v7.2h-438.2zM18.3 -27.8h6.1v7.2h-6.1zM177.3 -27.8h267v7.2h-267zM-443.4 -34.7h266.4v7.2h-266.4zM-103.7 -34.7h48.8v7.2h-48.8zM183.1 -34.7h260.3v7.2h-260.3zM-243.4 -41.7h60.9v7.2h-60.9zM188.7 -41.7h188.7v7.2h-188.7zM-236.5 -48.6h48.5v7.2h-48.5zM200.2 -48.6h163.8v7.2h-163.8zM-229.6 -55.6h30.2v7.2h-30.2zM205.4 -55.6h36.2v7.2h-36.2zM253.7 -55.6h102.7v7.2h-102.7zM210.5 -62.5h18v7.2h-18zM258.7 -62.5h6v7.2h-6zM294.7 -62.5h42.1v7.2h-42.1zM215.5 -69.5h6v7.2h-6zM331.2 -83.4h35.5v7.2h-35.5zM322.7 -90.3h82.1v7.2h-82.1zM-422.6 -97.3h15.6v7.2h-15.6zM-162.8 -97.3h5.8v7.2h-5.8zM319.8 -97.3h102.8v7.2h-102.8zM-418.4 -104.2h44.3v7.2h-44.3zM-172.7 -104.2h46v7.2h-46zM316.6 -104.2h101.8v7.2h-101.8zM-413.8 -111.1h66.6v7.2h-66.6zM-170.7 -111.1h68.3v7.2h-68.3zM318.7 -111.1h95.1v7.2h-95.1zM-408.6 -118h88.3v7.2h-88.3zM-168.6 -118h84.3v7.2h-84.3zM-28.1 -118h11.2v7.2h-11.2zM325.9 -118h82.7v7.2h-82.7zM-403 -124.8h98.2v7.2h-98.2zM-155.2 -124.8h88.7v7.2h-88.7zM-27.7 -124.8h16.6v7.2h-16.6zM16.6 -124.8h16.6v7.2h-16.6zM332.5 -124.8h70.5v7.2h-70.5zM-397 -131.7h107.7v7.1h-107.7zM-283.9 -131.7h5.5v7.1h-5.5zM-141.9 -131.7h92.8v7.1h-92.8zM354.8 -131.7h42.2v7.1h-42.2zM-370.7 -138.4h102.1v7.1h-102.1zM-123.6 -138.4h96.7v7.1h-96.7zM-337.9 -145.1h73.9v7h-73.9zM-100.3 -145.1h95v7h-95zM-310.7 -151.7h51.8v6.9h-51.8zM-88 -151.7h88v6.9h-88zM-299.2 -158.2h40.6v6.8h-40.6zM-91.3 -158.2h15.2v6.8h-15.2zM-65.9 -158.2h81.1v6.8h-81.1zM-307.4 -164.6h54.5v6.7h-54.5zM-94.2 -164.6h19.8v6.7h-19.8zM-49.6 -164.6h69.4v6.7h-69.4zM-295.4 -170.9h43.6v6.6h-43.6zM-92 -170.9h14.5v6.6h-14.5zM-43.6 -170.9h63v6.6h-63zM-42.5 -177.1h18.9v6.5h-18.9zM-18.9 -177.1h33.1v6.5h-33.1z"/><path fill="#365c8d" d="M-161.2 131.7h5.4v7.1h-5.4zM-163.8 124.8h5.5v7.1h-5.5zM365.7 124.8h5.5v7.1h-5.5zM-166.2 118h5.5v7.2h-5.5zM371.3 118h5.5v7.2h-5.5zM-168.6 111.1h5.6v7.2h-5.6zM376.5 111.1h5.6v7.2h-5.6zM-45.5 104.2h22.8v7.2h-22.8zM-63.3 97.3h17.3v7.2h-17.3zM-322.7 83.4h11.7v7.2h-11.7zM-337.1 76.4h11.8v7.2h-11.8zM-130.1 76.4h17.7v7.2h-17.7zM-351.3 69.5h17.9v7.2h-17.9zM-131 69.5h17.9v7.2h-17.9zM-371.2 62.5h23.9v7.2h-23.9zM-131.7 62.5h18v7.2h-18zM-385 55.6h24.1v7.2h-24.1zM-404.7 48.6h36.2v7.2h-36.2zM-430.6 41.7h48.5v7.2h-48.5zM-442.2 34.7h46.6v7.2h-46.6zM-152.1 34.7h24.3v7.2h-24.3zM419.9 34.7h22.3v7.2h-22.3zM-443.4 27.8h34.5v7.2h-34.5zM-164.8 27.8h36.6v7.2h-36.6zM384.5 27.8h58.9v7.2h-58.9zM-444.3 20.8h16.2v7.2h-16.2zM-177.3 20.8h48.9v7.2h-48.9zM55 20.8h6.1v7.2h-6.1zM165.1 20.8h79.5v7.2h-79.5zM360.8 20.8h83.5v7.2h-83.5zM-183.8 13.9h55.1v7.2h-55.1zM36.8 13.9h49v7.2h-49zM134.8 13.9h128.6v7.2h-128.6zM318.5 13.9h116.4v7.2h-116.4zM-190.1 6.9h55.2v7.2h-55.2zM24.5 6.9h73.6v7.2h-73.6zM134.9 6.9h288.2v7.2h-288.2zM-196.4 0h49.1v7.2h-49.1zM18.4 0h79.8v7.2h-79.8zM141.1 0h263.9v7.2h-263.9zM-196.4 -6.9h49.1v7.2h-49.1zM12.3 -6.9h85.9v7.2h-85.9zM171.8 -6.9h227v7.2h-227zM-445.5 -13.9h126.6v7.2h-126.6zM-208.5 -13.9h61.3v7.2h-61.3zM-122.6 -13.9h214.6v7.2h-214.6zM184 -13.9h261.5v7.2h-261.5zM-445 -20.8h224.5v7.2h-224.5zM-214.4 -20.8h79.6v7.2h-79.6zM-128.6 -20.8h196v7.2h-196zM177.6 -20.8h267.4v7.2h-267.4zM-444.3 -27.8h309.8v7.2h-309.8zM-128.4 -27.8h116.2v7.2h-116.2zM18.3 -27.8h6.1v7.2h-6.1zM177.3 -27.8h267v7.2h-267zM-443.4 -34.7h260.3v7.2h-260.3zM-91.5 -34.7h30.5v7.2h-30.5zM183.1 -34.7h260.3v7.2h-260.3zM-243.4 -41.7h60.9v7.2h-60.9zM188.7 -41.7h182.6v7.2h-182.6zM-236.5 -48.6h42.5v7.2h-42.5zM200.2 -48.6h157.7v7.2h-157.7zM-223.5 -55.6h18.1v7.2h-18.1zM211.4 -55.6h24.2v7.2h-24.2zM253.7 -55.6h96.7v7.2h-96.7zM210.5 -62.5h12v7.2h-12zM258.7 -62.5h6v7.2h-6zM294.7 -62.5h18v7.2h-18zM337.1 -83.4h23.7v7.2h-23.7zM328.6 -90.3h64.5v7.2h-64.5zM-422.6 -97.3h9.8v7.2h-9.8zM325.6 -97.3h97v7.2h-97zM-418.4 -104.2h32.8v7.2h-32.8zM-166.9 -104.2h28.8v7.2h-28.8zM322.3 -104.2h96.1v7.2h-96.1zM-413.8 -111.1h60.9v7.2h-60.9zM-170.7 -111.1h56.9v7.2h-56.9zM324.4 -111.1h89.4v7.2h-89.4zM-408.6 -118h77.1v7.2h-77.1zM-163 -118h73.1v7.2h-73.1zM-22.5 -118h5.6v7.2h-5.6zM325.9 -118h82.7v7.2h-82.7zM-403 -124.8h92.7v7.2h-92.7zM-149.6 -124.8h77.6v7.2h-77.6zM-22.2 -124.8h5.5v7.2h-5.5zM343.6 -124.8h59.4v7.2h-59.4zM-397 -131.7h102.3v7.1h-102.3zM-131 -131.7h76.4v7.1h-76.4zM376.7 -131.7h20.4v7.1h-20.4zM-354.6 -138.4h86v7.1h-86zM-112.8 -138.4h75.2v7.1h-75.2zM-327.3 -145.1h63.3v7h-63.3zM-95 -145.1h84.5v7h-84.5zM-305.5 -151.7h46.6v6.9h-46.6zM-77.7 -151.7h72.5v6.9h-72.5zM-289 -158.2h30.4v6.8h-30.4zM-86.2 -158.2h5.1v6.8h-5.1zM-60.8 -158.2h76.1v6.8h-76.1zM-302.5 -164.6h49.6v6.7h-49.6zM-94.2 -164.6h14.9v6.7h-14.9zM-44.6 -164.6h64.5v6.7h-64.5zM-295.4 -170.9h19.4v6.6h-19.4zM-266.4 -170.9h14.5v6.6h-14.5zM-87.2 -170.9h9.7v6.6h-9.7zM-38.7 -170.9h58.1v6.6h-58.1zM-14.2 -177.1h9.4v6.5h-9.4zM0 -177.1h14.2v6.5h-14.2z"/><path fill="#33638d" d="M-163.8 124.8h5.5v7.1h-5.5zM365.7 124.8h5.5v7.1h-5.5zM-166.2 118h5.5v7.2h-5.5zM371.3 118h5.5v7.2h-5.5zM376.5 111.1h5.6v7.2h-5.6zM-130.1 76.4h17.7v7.2h-17.7zM-131 69.5h17.9v7.2h-17.9zM-131.7 62.5h18v7.2h-18zM-398.7 48.6h18.1v7.2h-18.1zM-418.5 41.7h30.3v7.2h-30.3zM-442.2 34.7h40.5v7.2h-40.5zM-146.1 34.7h18.3v7.2h-18.3zM432.1 34.7h10.1v7.2h-10.1zM-443.4 27.8h28.4v7.2h-28.4zM-164.8 27.8h36.6v7.2h-36.6zM396.7 27.8h46.7v7.2h-46.7zM-444.3 20.8h10.1v7.2h-10.1zM-177.3 20.8h48.9v7.2h-48.9zM177.3 20.8h67.3v7.2h-67.3zM360.8 20.8h83.5v7.2h-83.5zM-183.8 13.9h49v7.2h-49zM36.8 13.9h49v7.2h-49zM140.9 13.9h116.4v7.2h-116.4zM324.6 13.9h104.1v7.2h-104.1zM-190.1 6.9h49.1v7.2h-49.1zM30.7 6.9h61.3v7.2h-61.3zM141 6.9h269.8v7.2h-269.8zM-196.4 0h49.1v7.2h-49.1zM18.4 0h73.6v7.2h-73.6zM153.4 0h245.5v7.2h-245.5zM-196.4 -6.9h43v7.2h-43zM12.3 -6.9h79.8v7.2h-79.8zM178 -6.9h208.6v7.2h-208.6zM-445.5 -13.9h40.8v7.2h-40.8zM-367.9 -13.9h24.5v7.2h-24.5zM-202.4 -13.9h49.1v7.2h-49.1zM-122.6 -13.9h122.6v7.2h-122.6zM12.3 -13.9h73.6v7.2h-73.6zM184 -13.9h261.5v7.2h-261.5zM-445 -20.8h224.5v7.2h-224.5zM-214.4 -20.8h73.5v7.2h-73.5zM-128.6 -20.8h134.8v7.2h-134.8zM12.3 -20.8h42.9v7.2h-42.9zM183.8 -20.8h261.3v7.2h-261.3zM-444.3 -27.8h267v7.2h-267zM-159 -27.8h18.3v7.2h-18.3zM-122.3 -27.8h104v7.2h-104zM183.5 -27.8h260.8v7.2h-260.8zM-443.4 -34.7h260.3v7.2h-260.3zM183.1 -34.7h260.3v7.2h-260.3zM-237.4 -41.7h48.7v7.2h-48.7zM188.7 -41.7h176.5v7.2h-176.5zM-236.5 -48.6h42.5v7.2h-42.5zM206.2 -48.6h151.6v7.2h-151.6zM211.4 -55.6h18.1v7.2h-18.1zM253.7 -55.6h18.1v7.2h-18.1zM283.9 -55.6h60.4v7.2h-60.4zM258.7 -62.5h6v7.2h-6zM300.8 -62.5h6v7.2h-6zM328.6 -90.3h58.7v7.2h-58.7zM325.6 -97.3h97v7.2h-97zM-418.4 -104.2h27v7.2h-27zM-161.2 -104.2h11.5v7.2h-11.5zM322.3 -104.2h96.1v7.2h-96.1zM-413.8 -111.1h49.5v7.2h-49.5zM-165 -111.1h45.5v7.2h-45.5zM324.4 -111.1h89.4v7.2h-89.4zM-408.6 -118h71.4v7.2h-71.4zM-157.3 -118h56.2v7.2h-56.2zM331.5 -118h77.1v7.2h-77.1zM-403 -124.8h87.1v7.2h-87.1zM-144.1 -124.8h61v7.2h-61zM349.1 -124.8h53.9v7.2h-53.9zM-387.6 -131.7h87.3v7.1h-87.3zM-125.6 -131.7h60v7.1h-60zM-343.8 -138.4h75.2v7.1h-75.2zM-102.1 -138.4h53.7v7.1h-53.7zM-322 -145.1h58.1v7h-58.1zM-84.5 -145.1h52.8v7h-52.8zM-15.8 -145.1h5.3v7h-5.3zM-300.3 -151.7h36.2v6.9h-36.2zM-67.3 -151.7h62.1v6.9h-62.1zM-284 -158.2h25.4v6.8h-25.4zM-50.7 -158.2h50.7v6.8h-50.7zM-302.5 -164.6h49.6v6.7h-49.6zM-89.3 -164.6h9.9v6.7h-9.9zM-39.7 -164.6h54.5v6.7h-54.5zM-290.6 -170.9h9.7v6.6h-9.7zM-266.4 -170.9h14.5v6.6h-14.5zM-87.2 -170.9h9.7v6.6h-9.7zM-24.2 -170.9h38.7v6.6h-38.7zM4.7 -177.1h9.4v6.5h-9.4z"/><path fill="#30698e" d="M365.7 124.8h5.5v7.1h-5.5zM-166.2 118h5.5v7.2h-5.5zM371.3 118h5.5v7.2h-5.5zM-130.1 76.4h11.8v7.2h-11.8zM-131 69.5h17.9v7.2h-17.9zM-131.7 62.5h12v7.2h-12zM-432.1 34.7h24.3v7.2h-24.3zM-443.4 27.8h16.2v7.2h-16.2zM-158.7 27.8h30.5v7.2h-30.5zM415 27.8h28.4v7.2h-28.4zM-171.2 20.8h36.7v7.2h-36.7zM189.6 20.8h48.9v7.2h-48.9zM366.9 20.8h67.3v7.2h-67.3zM-183.8 13.9h49v7.2h-49zM42.9 13.9h36.8v7.2h-36.8zM153.1 13.9h104.1v7.2h-104.1zM324.6 13.9h91.9v7.2h-91.9zM-190.1 6.9h49.1v7.2h-49.1zM30.7 6.9h55.2v7.2h-55.2zM147.2 6.9h147.2v7.2h-147.2zM312.7 6.9h92v7.2h-92zM-196.4 0h49.1v7.2h-49.1zM18.4 0h73.6v7.2h-73.6zM159.5 0h233.2v7.2h-233.2zM-196.4 -6.9h43v7.2h-43zM12.3 -6.9h79.8v7.2h-79.8zM184.1 -6.9h171.8v7.2h-171.8zM-445.5 -13.9h10.1v7.2h-10.1zM-202.4 -13.9h49.1v7.2h-49.1zM-116.5 -13.9h85.8v7.2h-85.8zM-18.4 -13.9h12.3v7.2h-12.3zM12.3 -13.9h67.5v7.2h-67.5zM184 -13.9h261.5v7.2h-261.5zM-445 -20.8h224.5v7.2h-224.5zM-208.3 -20.8h61.3v7.2h-61.3zM-122.5 -20.8h122.5v7.2h-122.5zM12.3 -20.8h18.4v7.2h-18.4zM183.8 -20.8h261.3v7.2h-261.3zM-444.3 -27.8h260.8v7.2h-260.8zM-122.3 -27.8h97.8v7.2h-97.8zM183.5 -27.8h260.8v7.2h-260.8zM-443.4 -34.7h260.3v7.2h-260.3zM183.1 -34.7h201.4v7.2h-201.4zM421.1 -34.7h22.3v7.2h-22.3zM-237.4 -41.7h48.7v7.2h-48.7zM194.7 -41.7h164.3v7.2h-164.3zM-230.5 -48.6h36.4v7.2h-36.4zM206.2 -48.6h42.5v7.2h-42.5zM254.7 -48.6h97v7.2h-97zM217.5 -55.6h6v7.2h-6zM253.7 -55.6h18.1v7.2h-18.1zM290 -55.6h42.3v7.2h-42.3zM258.7 -62.5h6v7.2h-6zM334.5 -90.3h46.9v7.2h-46.9zM331.4 -97.3h75.6v7.2h-75.6zM-418.4 -104.2h21.3v7.2h-21.3zM328.1 -104.2h90.3v7.2h-90.3zM-413.8 -111.1h43.8v7.2h-43.8zM-159.4 -111.1h28.5v7.2h-28.5zM330.1 -111.1h83.7v7.2h-83.7zM-408.6 -118h65.8v7.2h-65.8zM-151.7 -118h39.3v7.2h-39.3zM337.2 -118h71.4v7.2h-71.4zM-403 -124.8h81.6v7.2h-81.6zM-133 -124.8h38.8v7.2h-38.8zM360.2 -124.8h42.8v7.2h-42.8zM-371.2 -131.7h65.5v7.1h-65.5zM-109.2 -131.7h32.8v7.1h-32.8zM-338.5 -138.4h69.8v7.1h-69.8zM-91.3 -138.4h32.2v7.1h-32.2zM-316.7 -145.1h52.8v7h-52.8zM-79.2 -145.1h37v7h-37zM-295.1 -151.7h31.1v6.9h-31.1zM-62.1 -151.7h57v6.9h-57zM-284 -158.2h25.4v6.8h-25.4zM-45.6 -158.2h40.6v6.8h-40.6zM-297.5 -164.6h9.9v6.7h-9.9zM-277.7 -164.6h19.8v6.7h-19.8zM-89.3 -164.6h9.9v6.7h-9.9zM-29.8 -164.6h44.6v6.7h-44.6zM-266.4 -170.9h14.5v6.6h-14.5zM-19.4 -170.9h14.5v6.6h-14.5zM0 -170.9h14.5v6.6h-14.5zM4.7 -177.1h9.4v6.5h-9.4z"/><path fill="#2e6f8e" d="M365.7 124.8h5.5v7.1h-5.5zM371.3 118h5.5v7.2h-5.5zM-124.2 76.4h5.9v7.2h-5.9zM-131 69.5h17.9v7.2h-17.9zM-125.7 62.5h6v7.2h-6zM-152.6 27.8h18.3v7.2h-18.3zM-171.2 20.8h36.7v7.2h-36.7zM195.7 20.8h30.6v7.2h-30.6zM373 20.8h36.7v7.2h-36.7zM-177.6 13.9h36.8v7.2h-36.8zM42.9 13.9h24.5v7.2h-24.5zM159.3 13.9h91.9v7.2h-91.9zM324.6 13.9h85.8v7.2h-85.8zM-184 6.9h36.8v7.2h-36.8zM30.7 6.9h55.2v7.2h-55.2zM153.3 6.9h134.9v7.2h-134.9zM312.7 6.9h85.8v7.2h-85.8zM-190.2 0h36.8v7.2h-36.8zM24.5 0h61.4v7.2h-61.4zM171.8 0h190.2v7.2h-190.2zM374.3 0h6.1v7.2h-6.1zM-196.4 -6.9h36.8v7.2h-36.8zM18.4 -6.9h67.5v7.2h-67.5zM184.1 -6.9h165.7v7.2h-165.7zM-196.2 -13.9h36.8v7.2h-36.8zM-116.5 -13.9h79.7v7.2h-79.7zM12.3 -13.9h55.2v7.2h-55.2zM190.1 -13.9h220.8v7.2h-220.8zM-445 -20.8h218.4v7.2h-218.4zM-208.3 -20.8h42.9v7.2h-42.9zM-122.5 -20.8h122.5v7.2h-122.5zM12.3 -20.8h18.4v7.2h-18.4zM183.8 -20.8h261.3v7.2h-261.3zM-444.3 -27.8h260.8v7.2h-260.8zM-122.3 -27.8h91.7v7.2h-91.7zM183.5 -27.8h260.8v7.2h-260.8zM-443.4 -34.7h260.3v7.2h-260.3zM183.1 -34.7h195.3v7.2h-195.3zM-237.4 -41.7h48.7v7.2h-48.7zM200.8 -41.7h158.2v7.2h-158.2zM-230.5 -48.6h36.4v7.2h-36.4zM212.3 -48.6h24.3v7.2h-24.3zM254.7 -48.6h91v7.2h-91zM253.7 -55.6h18.1v7.2h-18.1zM290 -55.6h30.2v7.2h-30.2zM258.7 -62.5h6v7.2h-6zM340.3 -90.3h29.3v7.2h-29.3zM331.4 -97.3h69.8v7.2h-69.8zM-418.4 -104.2h15.5v7.2h-15.5zM328.1 -104.2h90.3v7.2h-90.3zM-413.8 -111.1h32.5v7.2h-32.5zM330.1 -111.1h83.7v7.2h-83.7zM-408.6 -118h54.6v7.2h-54.6zM-140.5 -118h11.2v7.2h-11.2zM342.8 -118h65.8v7.2h-65.8zM-403 -124.8h76v7.2h-76zM376.8 -124.8h26.2v7.2h-26.2zM-349.4 -131.7h38.2v7.1h-38.2zM-327.7 -138.4h53.7v7.1h-53.7zM-306.2 -145.1h42.2v7h-42.2zM-290 -151.7h25.9v6.9h-25.9zM-20.7 -151.7h15.5v6.9h-15.5zM-284 -158.2h25.4v6.8h-25.4zM-25.4 -158.2h20.3v6.8h-20.3zM-272.7 -164.6h14.9v6.7h-14.9zM-24.8 -164.6h19.8v6.7h-19.8zM5 -164.6h9.9v6.7h-9.9zM-261.5 -170.9h9.7v6.6h-9.7zM-14.5 -170.9h9.7v6.6h-9.7zM4.8 -170.9h9.7v6.6h-9.7zM4.7 -177.1h9.4v6.5h-9.4z"/><path fill="#2b758e" d="M365.7 124.8h5.5v7.1h-5.5zM371.3 118h5.5v7.2h-5.5zM-124.2 76.4h5.9v7.2h-5.9zM-131 69.5h11.9v7.2h-11.9zM-125.7 62.5h6v7.2h-6zM-152.6 27.8h12.2v7.2h-12.2zM-165.1 20.8h30.6v7.2h-30.6zM207.9 20.8h12.2v7.2h-12.2zM373 20.8h24.5v7.2h-24.5zM-177.6 13.9h36.8v7.2h-36.8zM55.1 13.9h6.1v7.2h-6.1zM165.4 13.9h85.8v7.2h-85.8zM324.6 13.9h79.6v7.2h-79.6zM-184 6.9h36.8v7.2h-36.8zM36.8 6.9h42.9v7.2h-42.9zM159.4 6.9h98.1v7.2h-98.1zM269.8 6.9h18.4v7.2h-18.4zM318.9 6.9h79.7v7.2h-79.7zM-190.2 0h36.8v7.2h-36.8zM30.7 0h55.2v7.2h-55.2zM178 0h178v7.2h-178zM-196.4 -6.9h36.8v7.2h-36.8zM18.4 -6.9h61.4v7.2h-61.4zM190.2 -6.9h153.4v7.2h-153.4zM-196.2 -13.9h36.8v7.2h-36.8zM-110.4 -13.9h61.3v7.2h-61.3zM12.3 -13.9h18.4v7.2h-18.4zM36.8 -13.9h24.5v7.2h-24.5zM190.1 -13.9h196.2v7.2h-196.2zM-445 -20.8h218.4v7.2h-218.4zM-208.3 -20.8h30.6v7.2h-30.6zM-122.5 -20.8h116.4v7.2h-116.4zM12.3 -20.8h18.4v7.2h-18.4zM183.8 -20.8h261.3v7.2h-261.3zM-444.3 -27.8h260.8v7.2h-260.8zM-116.2 -27.8h85.6v7.2h-85.6zM183.5 -27.8h260.8v7.2h-260.8zM-433.3 -34.7h250.2v7.2h-250.2zM189.2 -34.7h177v7.2h-177zM-231.3 -41.7h42.6v7.2h-42.6zM200.8 -41.7h152.1v7.2h-152.1zM-230.5 -48.6h30.3v7.2h-30.3zM212.3 -48.6h12.1v7.2h-12.1zM254.7 -48.6h84.9v7.2h-84.9zM253.7 -55.6h12.1v7.2h-12.1zM296 -55.6h18.1v7.2h-18.1zM258.7 -62.5h6v7.2h-6zM337.2 -97.3h58.1v7.2h-58.1zM333.8 -104.2h84.6v7.2h-84.6zM-413.8 -111.1h26.8v7.2h-26.8zM335.8 -111.1h78v7.2h-78zM-408.6 -118h43.3v7.2h-43.3zM348.4 -118h60.2v7.2h-60.2zM-382.3 -124.8h33.2v7.2h-33.2zM-338.5 -131.7h21.8v7.1h-21.8zM-317 -138.4h10.7v7.1h-10.7zM-290.1 -138.4h5.4v7.1h-5.4zM-279.4 -138.4h5.4v7.1h-5.4zM-295.6 -145.1h26.4v7h-26.4zM-290 -151.7h25.9v6.9h-25.9zM-20.7 -151.7h10.4v6.9h-10.4zM-278.9 -158.2h20.3v6.8h-20.3zM-20.3 -158.2h15.2v6.8h-15.2zM-272.7 -164.6h14.9v6.7h-14.9zM-19.8 -164.6h14.9v6.7h-14.9zM5 -164.6h9.9v6.7h-9.9zM-261.5 -170.9h4.8v6.6h-4.8zM-14.5 -170.9h4.8v6.6h-4.8zM4.8 -170.9h9.7v6.6h-9.7z"/><path fill="#297b8e" d="M365.7 124.8h5.5v7.1h-5.5zM371.3 118h5.5v7.2h-5.5zM-125 69.5h6v7.2h-6zM-165.1 20.8h24.5v7.2h-24.5zM-177.6 13.9h30.6v7.2h-30.6zM177.6 13.9h73.5v7.2h-73.5zM330.8 13.9h67.4v7.2h-67.4zM-184 6.9h30.7v7.2h-30.7zM36.8 6.9h36.8v7.2h-36.8zM171.7 6.9h85.8v7.2h-85.8zM275.9 6.9h6.1v7.2h-6.1zM318.9 6.9h73.6v7.2h-73.6zM-190.2 0h30.7v7.2h-30.7zM36.8 0h43v7.2h-43zM178 0h122.7v7.2h-122.7zM313 0h43v7.2h-43zM-196.4 -6.9h36.8v7.2h-36.8zM18.4 -6.9h55.2v7.2h-55.2zM196.4 -6.9h135v7.2h-135zM-196.2 -13.9h30.7v7.2h-30.7zM-104.2 -13.9h49.1v7.2h-49.1zM12.3 -13.9h18.4v7.2h-18.4zM208.5 -13.9h147.2v7.2h-147.2zM-445 -20.8h212.3v7.2h-212.3zM-208.3 -20.8h24.5v7.2h-24.5zM-122.5 -20.8h110.3v7.2h-110.3zM12.3 -20.8h18.4v7.2h-18.4zM189.9 -20.8h255.1v7.2h-255.1zM-444.3 -27.8h224.2v7.2h-224.2zM-214 -27.8h30.6v7.2h-30.6zM-116.2 -27.8h79.5v7.2h-79.5zM183.5 -27.8h260.8v7.2h-260.8zM-421.1 -34.7h231.9v7.2h-231.9zM189.2 -34.7h170.9v7.2h-170.9zM-231.3 -41.7h36.5v7.2h-36.5zM206.9 -41.7h42.6v7.2h-42.6zM255.6 -41.7h91.3v7.2h-91.3zM-224.4 -48.6h24.3v7.2h-24.3zM254.7 -48.6h18.2v7.2h-18.2zM285.1 -48.6h42.5v7.2h-42.5zM259.8 -55.6h6v7.2h-6zM296 -55.6h12.1v7.2h-12.1zM258.7 -62.5h6v7.2h-6zM337.2 -97.3h52.3v7.2h-52.3zM333.8 -104.2h74.8v7.2h-74.8zM-413.8 -111.1h15.4v7.2h-15.4zM341.5 -111.1h72.3v7.2h-72.3zM-408.6 -118h26.5v7.2h-26.5zM354 -118h54.6v7.2h-54.6zM-290.3 -145.1h21.1v7h-21.1zM-284.8 -151.7h20.7v6.9h-20.7zM-15.5 -151.7h5.2v6.9h-5.2zM-278.9 -158.2h15.2v6.8h-15.2zM-20.3 -158.2h15.2v6.8h-15.2zM-272.7 -164.6h14.9v6.7h-14.9zM-19.8 -164.6h14.9v6.7h-14.9zM5 -164.6h9.9v6.7h-9.9zM-261.5 -170.9h4.8v6.6h-4.8zM4.8 -170.9h9.7v6.6h-9.7z"/><path fill="#26828e" d="M365.7 124.8h5.5v7.1h-5.5zM371.3 118h5.5v7.2h-5.5zM-125 69.5h6v7.2h-6zM-152.9 20.8h6.1v7.2h-6.1zM-171.5 13.9h18.4v7.2h-18.4zM183.8 13.9h67.4v7.2h-67.4zM330.8 13.9h24.5v7.2h-24.5zM367.5 13.9h24.5v7.2h-24.5zM-184 6.9h30.7v7.2h-30.7zM42.9 6.9h24.5v7.2h-24.5zM177.8 6.9h79.7v7.2h-79.7zM318.9 6.9h67.5v7.2h-67.5zM-190.2 0h30.7v7.2h-30.7zM36.8 0h36.8v7.2h-36.8zM184.1 0h110.5v7.2h-110.5zM319.1 0h30.7v7.2h-30.7zM-196.4 -6.9h30.7v7.2h-30.7zM18.4 -6.9h12.3v7.2h-12.3zM36.8 -6.9h30.7v7.2h-30.7zM196.4 -6.9h116.6v7.2h-116.6zM-196.2 -13.9h24.5v7.2h-24.5zM-92 -13.9h30.7v7.2h-30.7zM12.3 -13.9h18.4v7.2h-18.4zM233 -13.9h110.4v7.2h-110.4zM-445 -20.8h193.9v7.2h-193.9zM-208.3 -20.8h24.5v7.2h-24.5zM-122.5 -20.8h98v7.2h-98zM18.4 -20.8h12.3v7.2h-12.3zM189.9 -20.8h12.3v7.2h-12.3zM208.3 -20.8h18.4v7.2h-18.4zM238.9 -20.8h206.1v7.2h-206.1zM-444.3 -27.8h224.2v7.2h-224.2zM-214 -27.8h30.6v7.2h-30.6zM-116.2 -27.8h79.5v7.2h-79.5zM183.5 -27.8h48.9v7.2h-48.9zM244.6 -27.8h199.7v7.2h-199.7zM-415 -34.7h225.8v7.2h-225.8zM189.2 -34.7h48.8v7.2h-48.8zM250.2 -34.7h103.7v7.2h-103.7zM-231.3 -41.7h36.5v7.2h-36.5zM213 -41.7h18.3v7.2h-18.3zM255.6 -41.7h85.2v7.2h-85.2zM-224.4 -48.6h24.3v7.2h-24.3zM254.7 -48.6h18.2v7.2h-18.2zM291.1 -48.6h24.3v7.2h-24.3zM259.8 -55.6h6v7.2h-6zM296 -55.6h12.1v7.2h-12.1zM258.7 -62.5h6v7.2h-6zM343.1 -97.3h34.9v7.2h-34.9zM339.6 -104.2h63.3v7.2h-63.3zM-413.8 -111.1h9.7v7.2h-9.7zM347.2 -111.1h66.6v7.2h-66.6zM370.9 -118h37.7v7.2h-37.7zM-290.3 -145.1h21.1v7h-21.1zM-284.8 -151.7h20.7v6.9h-20.7zM-15.5 -151.7h5.2v6.9h-5.2zM-278.9 -158.2h15.2v6.8h-15.2zM-20.3 -158.2h15.2v6.8h-15.2zM-272.7 -164.6h14.9v6.7h-14.9zM-19.8 -164.6h14.9v6.7h-14.9zM-261.5 -170.9h4.8v6.6h-4.8zM4.8 -170.9h9.7v6.6h-9.7z"/><path fill="#24878e" d="M371.3 118h5.5v7.2h-5.5zM-171.5 13.9h12.3v7.2h-12.3zM189.9 13.9h55.1v7.2h-55.1zM330.8 13.9h18.4v7.2h-18.4zM373.6 13.9h12.3v7.2h-12.3zM-177.8 6.9h18.4v7.2h-18.4zM49.1 6.9h12.3v7.2h-12.3zM177.8 6.9h79.7v7.2h-79.7zM325 6.9h36.8v7.2h-36.8zM-184.1 0h24.5v7.2h-24.5zM43 0h24.5v7.2h-24.5zM190.2 0h67.5v7.2h-67.5zM263.9 0h30.7v7.2h-30.7zM325.2 0h24.5v7.2h-24.5zM-196.4 -6.9h30.7v7.2h-30.7zM18.4 -6.9h12.3v7.2h-12.3zM43 -6.9h18.4v7.2h-18.4zM202.5 -6.9h98.2v7.2h-98.2zM-196.2 -13.9h18.4v7.2h-18.4zM18.4 -13.9h12.3v7.2h-12.3zM239.1 -13.9h73.6v7.2h-73.6zM-445 -20.8h163.3v7.2h-163.3zM-208.3 -20.8h24.5v7.2h-24.5zM-116.4 -20.8h85.8v7.2h-85.8zM18.4 -20.8h12.3v7.2h-12.3zM189.9 -20.8h6.1v7.2h-6.1zM238.9 -20.8h206.1v7.2h-206.1zM-444.3 -27.8h224.2v7.2h-224.2zM-214 -27.8h30.6v7.2h-30.6zM-110.1 -27.8h67.3v7.2h-67.3zM189.6 -27.8h36.7v7.2h-36.7zM250.7 -27.8h193.6v7.2h-193.6zM-408.9 -34.7h219.7v7.2h-219.7zM189.2 -34.7h12.2v7.2h-12.2zM207.5 -34.7h18.3v7.2h-18.3zM256.3 -34.7h91.5v7.2h-91.5zM-225.2 -41.7h30.4v7.2h-30.4zM213 -41.7h6.1v7.2h-6.1zM255.6 -41.7h66.9v7.2h-66.9zM-224.4 -48.6h24.3v7.2h-24.3zM254.7 -48.6h18.2v7.2h-18.2zM291.1 -48.6h24.3v7.2h-24.3zM259.8 -55.6h6v7.2h-6zM302.1 -55.6h6v7.2h-6zM348.9 -97.3h17.4v7.2h-17.4zM345.3 -104.2h51.8v7.2h-51.8zM352.9 -111.1h51.2v7.2h-51.2zM-290.3 -145.1h15.8v7h-15.8zM-284.8 -151.7h15.5v6.9h-15.5zM-278.9 -158.2h15.2v6.8h-15.2zM-15.2 -158.2h5.1v6.8h-5.1zM-272.7 -164.6h14.9v6.7h-14.9zM-14.9 -164.6h5v6.7h-5zM4.8 -170.9h9.7v6.6h-9.7z"/><path fill="#228d8d" d="M371.3 118h5.5v7.2h-5.5zM189.9 13.9h55.1v7.2h-55.1zM336.9 13.9h12.3v7.2h-12.3zM-177.8 6.9h18.4v7.2h-18.4zM184 6.9h67.5v7.2h-67.5zM325 6.9h30.7v7.2h-30.7zM-184.1 0h18.4v7.2h-18.4zM43 0h18.4v7.2h-18.4zM190.2 0h67.5v7.2h-67.5zM270 0h24.5v7.2h-24.5zM325.2 0h24.5v7.2h-24.5zM-196.4 -6.9h30.7v7.2h-30.7zM18.4 -6.9h6.1v7.2h-6.1zM214.8 -6.9h6.1v7.2h-6.1zM233.2 -6.9h61.4v7.2h-61.4zM-196.2 -13.9h12.3v7.2h-12.3zM18.4 -13.9h12.3v7.2h-12.3zM239.1 -13.9h55.2v7.2h-55.2zM300.5 -13.9h12.3v7.2h-12.3zM-445 -20.8h157.1v7.2h-157.1zM-208.3 -20.8h24.5v7.2h-24.5zM-116.4 -20.8h85.8v7.2h-85.8zM18.4 -20.8h6.1v7.2h-6.1zM245 -20.8h200v7.2h-200zM-444.3 -27.8h224.2v7.2h-224.2zM-207.9 -27.8h24.5v7.2h-24.5zM-110.1 -27.8h67.3v7.2h-67.3zM189.6 -27.8h12.2v7.2h-12.2zM207.9 -27.8h12.2v7.2h-12.2zM256.8 -27.8h187.5v7.2h-187.5zM-396.7 -34.7h103.7v7.2h-103.7zM-262.4 -34.7h42.7v7.2h-42.7zM-213.6 -34.7h24.4v7.2h-24.4zM207.5 -34.7h18.3v7.2h-18.3zM256.3 -34.7h85.4v7.2h-85.4zM-225.2 -41.7h30.4v7.2h-30.4zM255.6 -41.7h66.9v7.2h-66.9zM-218.3 -48.6h18.2v7.2h-18.2zM254.7 -48.6h18.2v7.2h-18.2zM291.1 -48.6h24.3v7.2h-24.3zM259.8 -55.6h6v7.2h-6zM351.1 -104.2h34.5v7.2h-34.5zM358.5 -111.1h34.1v7.2h-34.1zM-290.3 -145.1h15.8v7h-15.8zM-284.8 -151.7h15.5v6.9h-15.5zM-278.9 -158.2h15.2v6.8h-15.2zM-15.2 -158.2h5.1v6.8h-5.1zM-272.7 -164.6h14.9v6.7h-14.9zM-14.9 -164.6h5v6.7h-5z"/><path fill="#20938c" d="M196 13.9h36.8v7.2h-36.8zM-177.8 6.9h12.3v7.2h-12.3zM190.1 6.9h61.3v7.2h-61.3zM325 6.9h30.7v7.2h-30.7zM-178 0h12.3v7.2h-12.3zM196.4 0h61.4v7.2h-61.4zM270 0h24.5v7.2h-24.5zM325.2 0h18.4v7.2h-18.4zM-196.4 -6.9h12.3v7.2h-12.3zM-178 -6.9h6.1v7.2h-6.1zM18.4 -6.9h6.1v7.2h-6.1zM233.2 -6.9h24.5v7.2h-24.5zM263.9 -6.9h30.7v7.2h-30.7zM-196.2 -13.9h12.3v7.2h-12.3zM18.4 -13.9h12.3v7.2h-12.3zM239.1 -13.9h55.2v7.2h-55.2zM-445 -20.8h151v7.2h-151zM-208.3 -20.8h24.5v7.2h-24.5zM-116.4 -20.8h79.6v7.2h-79.6zM18.4 -20.8h6.1v7.2h-6.1zM245 -20.8h12.3v7.2h-12.3zM263.4 -20.8h24.5v7.2h-24.5zM294 -20.8h151v7.2h-151zM-444.3 -27.8h224.2v7.2h-224.2zM-207.9 -27.8h24.5v7.2h-24.5zM-110.1 -27.8h61.2v7.2h-61.2zM189.6 -27.8h6.1v7.2h-6.1zM256.8 -27.8h187.5v7.2h-187.5zM-390.6 -34.7h73.2v7.2h-73.2zM-244.1 -34.7h24.4v7.2h-24.4zM-213.6 -34.7h24.4v7.2h-24.4zM256.3 -34.7h67.1v7.2h-67.1zM-225.2 -41.7h30.4v7.2h-30.4zM255.6 -41.7h24.3v7.2h-24.3zM292.1 -41.7h24.3v7.2h-24.3zM-218.3 -48.6h12.1v7.2h-12.1zM254.7 -48.6h18.2v7.2h-18.2zM297.2 -48.6h18.2v7.2h-18.2zM259.8 -55.6h6v7.2h-6zM-285.1 -145.1h10.6v7h-10.6zM-284.8 -151.7h15.5v6.9h-15.5zM-278.9 -158.2h15.2v6.8h-15.2zM-15.2 -158.2h5.1v6.8h-5.1zM-272.7 -164.6h14.9v6.7h-14.9z"/><path fill="#1f998a" d="M202.1 13.9h24.5v7.2h-24.5zM190.1 6.9h61.3v7.2h-61.3zM325 6.9h30.7v7.2h-30.7zM-178 0h12.3v7.2h-12.3zM202.5 0h55.2v7.2h-55.2zM270 0h18.4v7.2h-18.4zM331.4 0h12.3v7.2h-12.3zM-196.4 -6.9h12.3v7.2h-12.3zM18.4 -6.9h6.1v7.2h-6.1zM233.2 -6.9h24.5v7.2h-24.5zM263.9 -6.9h30.7v7.2h-30.7zM-196.2 -13.9h12.3v7.2h-12.3zM18.4 -13.9h12.3v7.2h-12.3zM239.1 -13.9h18.4v7.2h-18.4zM269.8 -13.9h24.5v7.2h-24.5zM-445 -20.8h144.9v7.2h-144.9zM-208.3 -20.8h24.5v7.2h-24.5zM-116.4 -20.8h79.6v7.2h-79.6zM18.4 -20.8h6.1v7.2h-6.1zM245 -20.8h12.3v7.2h-12.3zM263.4 -20.8h24.5v7.2h-24.5zM300.1 -20.8h18.4v7.2h-18.4zM324.6 -20.8h120.4v7.2h-120.4zM-444.3 -27.8h218v7.2h-218zM-207.9 -27.8h24.5v7.2h-24.5zM-104 -27.8h55v7.2h-55zM263 -27.8h104v7.2h-104zM403.6 -27.8h40.7v7.2h-40.7zM-378.3 -34.7h48.8v7.2h-48.8zM-231.9 -34.7h12.2v7.2h-12.2zM-213.6 -34.7h18.3v7.2h-18.3zM256.3 -34.7h61v7.2h-61zM-219.1 -41.7h24.3v7.2h-24.3zM255.6 -41.7h18.3v7.2h-18.3zM292.1 -41.7h24.3v7.2h-24.3zM-212.3 -48.6h6.1v7.2h-6.1zM254.7 -48.6h12.1v7.2h-12.1zM297.2 -48.6h12.1v7.2h-12.1zM259.8 -55.6h6v7.2h-6zM-285.1 -145.1h5.3v7h-5.3zM-284.8 -151.7h15.5v6.9h-15.5zM-278.9 -158.2h15.2v6.8h-15.2zM-267.8 -164.6h9.9v6.7h-9.9z"/><path fill="#1fa088" d="M196.2 6.9h55.2v7.2h-55.2zM325 6.9h24.5v7.2h-24.5zM202.5 0h49.1v7.2h-49.1zM270 0h18.4v7.2h-18.4zM-190.2 -6.9h6.1v7.2h-6.1zM18.4 -6.9h6.1v7.2h-6.1zM239.3 -6.9h18.4v7.2h-18.4zM270 -6.9h24.5v7.2h-24.5zM-196.2 -13.9h12.3v7.2h-12.3zM18.4 -13.9h12.3v7.2h-12.3zM239.1 -13.9h18.4v7.2h-18.4zM269.8 -13.9h18.4v7.2h-18.4zM-445 -20.8h138.8v7.2h-138.8zM-208.3 -20.8h6.1v7.2h-6.1zM-196 -20.8h12.3v7.2h-12.3zM-110.3 -20.8h67.4v7.2h-67.4zM18.4 -20.8h6.1v7.2h-6.1zM269.5 -20.8h12.3v7.2h-12.3zM300.1 -20.8h12.3v7.2h-12.3zM330.8 -20.8h18.4v7.2h-18.4zM410.4 -20.8h34.6v7.2h-34.6zM-444.3 -27.8h218v7.2h-218zM-207.9 -27.8h24.5v7.2h-24.5zM-104 -27.8h48.9v7.2h-48.9zM263 -27.8h24.5v7.2h-24.5zM293.5 -27.8h61.2v7.2h-61.2zM415.8 -27.8h28.5v7.2h-28.5zM-360 -34.7h18.3v7.2h-18.3zM-207.5 -34.7h12.2v7.2h-12.2zM256.3 -34.7h30.5v7.2h-30.5zM292.9 -34.7h24.4v7.2h-24.4zM-219.1 -41.7h24.3v7.2h-24.3zM255.6 -41.7h18.3v7.2h-18.3zM292.1 -41.7h24.3v7.2h-24.3zM260.8 -48.6h6.1v7.2h-6.1zM297.2 -48.6h12.1v7.2h-12.1zM259.8 -55.6h6v7.2h-6zM-285.1 -145.1h5.3v7h-5.3zM-284.8 -151.7h15.5v6.9h-15.5zM-278.9 -158.2h15.2v6.8h-15.2zM-267.8 -164.6h9.9v6.7h-9.9z"/><path fill="#21a585" d="M202.4 6.9h49.1v7.2h-49.1zM325 6.9h24.5v7.2h-24.5zM214.8 0h6.1v7.2h-6.1zM233.2 0h18.4v7.2h-18.4zM270 0h18.4v7.2h-18.4zM-190.2 -6.9h6.1v7.2h-6.1zM239.3 -6.9h18.4v7.2h-18.4zM270 -6.9h24.5v7.2h-24.5zM-196.2 -13.9h12.3v7.2h-12.3zM18.4 -13.9h6.1v7.2h-6.1zM245.3 -13.9h12.3v7.2h-12.3zM269.8 -13.9h18.4v7.2h-18.4zM-445 -20.8h132.6v7.2h-132.6zM-196 -20.8h12.3v7.2h-12.3zM-110.3 -20.8h67.4v7.2h-67.4zM18.4 -20.8h6.1v7.2h-6.1zM275.6 -20.8h6.1v7.2h-6.1zM300.1 -20.8h12.3v7.2h-12.3zM428.8 -20.8h16.3v7.2h-16.3zM-444.3 -27.8h218v7.2h-218zM-207.9 -27.8h24.5v7.2h-24.5zM-97.8 -27.8h42.8v7.2h-42.8zM263 -27.8h18.3v7.2h-18.3zM293.5 -27.8h24.5v7.2h-24.5zM422 -27.8h22.3v7.2h-22.3zM-207.5 -34.7h12.2v7.2h-12.2zM262.4 -34.7h18.3v7.2h-18.3zM292.9 -34.7h24.4v7.2h-24.4zM-213 -41.7h12.2v7.2h-12.2zM255.6 -41.7h18.3v7.2h-18.3zM292.1 -41.7h24.3v7.2h-24.3zM260.8 -48.6h6.1v7.2h-6.1zM297.2 -48.6h12.1v7.2h-12.1zM259.8 -55.6h6v7.2h-6zM-284.8 -151.7h15.5v6.9h-15.5zM-278.9 -158.2h15.2v6.8h-15.2zM-267.8 -164.6h9.9v6.7h-9.9z"/><path fill="#25ab82" d="M202.4 6.9h42.9v7.2h-42.9zM331.1 6.9h18.4v7.2h-18.4zM233.2 0h18.4v7.2h-18.4zM276.1 0h12.3v7.2h-12.3zM-190.2 -6.9h6.1v7.2h-6.1zM239.3 -6.9h12.3v7.2h-12.3zM270 -6.9h18.4v7.2h-18.4zM-196.2 -13.9h12.3v7.2h-12.3zM18.4 -13.9h6.1v7.2h-6.1zM245.3 -13.9h6.1v7.2h-6.1zM269.8 -13.9h18.4v7.2h-18.4zM-434.9 -20.8h122.5v7.2h-122.5zM-196 -20.8h12.3v7.2h-12.3zM-110.3 -20.8h61.3v7.2h-61.3zM18.4 -20.8h6.1v7.2h-6.1zM-444.3 -27.8h218v7.2h-218zM-207.9 -27.8h18.3v7.2h-18.3zM-91.7 -27.8h30.6v7.2h-30.6zM263 -27.8h6.1v7.2h-6.1zM299.7 -27.8h18.3v7.2h-18.3zM428.1 -27.8h16.2v7.2h-16.2zM-207.5 -34.7h12.2v7.2h-12.2zM262.4 -34.7h12.2v7.2h-12.2zM292.9 -34.7h24.4v7.2h-24.4zM-213 -41.7h12.2v7.2h-12.2zM261.7 -41.7h12.2v7.2h-12.2zM298.2 -41.7h12.2v7.2h-12.2zM260.8 -48.6h6.1v7.2h-6.1zM297.2 -48.6h12.1v7.2h-12.1zM259.8 -55.6h6v7.2h-6zM-279.6 -151.7h10.4v6.9h-10.4zM-278.9 -158.2h15.2v6.8h-15.2zM-267.8 -164.6h5v6.7h-5z"/><path fill="#2cb17e" d="M214.6 6.9h6.1v7.2h-6.1zM239.1 6.9h6.1v7.2h-6.1zM331.1 6.9h18.4v7.2h-18.4zM239.3 0h12.3v7.2h-12.3zM276.1 0h12.3v7.2h-12.3zM-190.2 -6.9h6.1v7.2h-6.1zM239.3 -6.9h12.3v7.2h-12.3zM270 -6.9h18.4v7.2h-18.4zM-196.2 -13.9h12.3v7.2h-12.3zM18.4 -13.9h6.1v7.2h-6.1zM245.3 -13.9h6.1v7.2h-6.1zM275.9 -13.9h12.3v7.2h-12.3zM-392 -20.8h73.5v7.2h-73.5zM-196 -20.8h12.3v7.2h-12.3zM-104.1 -20.8h55.1v7.2h-55.1zM18.4 -20.8h6.1v7.2h-6.1zM-444.3 -27.8h211.9v7.2h-211.9zM-207.9 -27.8h18.3v7.2h-18.3zM-91.7 -27.8h24.5v7.2h-24.5zM263 -27.8h6.1v7.2h-6.1zM299.7 -27.8h12.2v7.2h-12.2zM-207.5 -34.7h12.2v7.2h-12.2zM262.4 -34.7h12.2v7.2h-12.2zM292.9 -34.7h18.3v7.2h-18.3zM-206.9 -41.7h6.1v7.2h-6.1zM261.7 -41.7h6.1v7.2h-6.1zM298.2 -41.7h12.2v7.2h-12.2zM260.8 -48.6h6.1v7.2h-6.1zM259.8 -55.6h6v7.2h-6zM-279.6 -151.7h10.4v6.9h-10.4zM-273.8 -158.2h10.1v6.8h-10.1zM-267.8 -164.6h5v6.7h-5z"/><path fill="#34b679" d="M331.1 6.9h12.3v7.2h-12.3zM239.3 0h12.3v7.2h-12.3zM276.1 0h6.1v7.2h-6.1zM239.3 -6.9h12.3v7.2h-12.3zM270 -6.9h18.4v7.2h-18.4zM-196.2 -13.9h12.3v7.2h-12.3zM18.4 -13.9h6.1v7.2h-6.1zM275.9 -13.9h6.1v7.2h-6.1zM-379.8 -20.8h55.1v7.2h-55.1zM-196 -20.8h12.3v7.2h-12.3zM-104.1 -20.8h49v7.2h-49zM-434.2 -27.8h152.9v7.2h-152.9zM-207.9 -27.8h18.3v7.2h-18.3zM263 -27.8h6.1v7.2h-6.1zM299.7 -27.8h12.2v7.2h-12.2zM-207.5 -34.7h12.2v7.2h-12.2zM262.4 -34.7h6.1v7.2h-6.1zM299 -34.7h12.2v7.2h-12.2zM-206.9 -41.7h6.1v7.2h-6.1zM261.7 -41.7h6.1v7.2h-6.1zM298.2 -41.7h12.2v7.2h-12.2zM260.8 -48.6h6.1v7.2h-6.1zM259.8 -55.6h6v7.2h-6zM-279.6 -151.7h10.4v6.9h-10.4zM-273.8 -158.2h10.1v6.8h-10.1zM-267.8 -164.6h5v6.7h-5z"/><path fill="#3fbc73" d="M331.1 6.9h12.3v7.2h-12.3zM239.3 0h12.3v7.2h-12.3zM276.1 0h6.1v7.2h-6.1zM245.5 -6.9h6.1v7.2h-6.1zM270 -6.9h18.4v7.2h-18.4zM-196.2 -13.9h12.3v7.2h-12.3zM18.4 -13.9h6.1v7.2h-6.1zM275.9 -13.9h6.1v7.2h-6.1zM-367.5 -20.8h36.8v7.2h-36.8zM-196 -20.8h12.3v7.2h-12.3zM-98 -20.8h42.9v7.2h-42.9zM-428.1 -27.8h140.7v7.2h-140.7zM-207.9 -27.8h12.2v7.2h-12.2zM299.7 -27.8h12.2v7.2h-12.2zM-207.5 -34.7h12.2v7.2h-12.2zM262.4 -34.7h6.1v7.2h-6.1zM299 -34.7h12.2v7.2h-12.2zM-206.9 -41.7h6.1v7.2h-6.1zM261.7 -41.7h6.1v7.2h-6.1zM298.2 -41.7h12.2v7.2h-12.2zM260.8 -48.6h6.1v7.2h-6.1zM259.8 -55.6h6v7.2h-6zM-279.6 -151.7h5.2v6.9h-5.2zM-273.8 -158.2h10.1v6.8h-10.1zM-267.8 -164.6h5v6.7h-5z"/><path fill="#4ac16d" d="M337.3 6.9h6.1v7.2h-6.1zM239.3 0h6.1v7.2h-6.1zM245.5 -6.9h6.1v7.2h-6.1zM276.1 -6.9h12.3v7.2h-12.3zM-196.2 -13.9h12.3v7.2h-12.3zM18.4 -13.9h6.1v7.2h-6.1zM275.9 -13.9h6.1v7.2h-6.1zM-196 -20.8h12.3v7.2h-12.3zM-98 -20.8h36.8v7.2h-36.8zM-422 -27.8h128.4v7.2h-128.4zM-207.9 -27.8h12.2v7.2h-12.2zM299.7 -27.8h12.2v7.2h-12.2zM-207.5 -34.7h12.2v7.2h-12.2zM262.4 -34.7h6.1v7.2h-6.1zM299 -34.7h12.2v7.2h-12.2zM261.7 -41.7h6.1v7.2h-6.1zM298.2 -41.7h12.2v7.2h-12.2zM260.8 -48.6h6.1v7.2h-6.1zM259.8 -55.6h6v7.2h-6zM-279.6 -151.7h5.2v6.9h-5.2zM-273.8 -158.2h10.1v6.8h-10.1z"/><path fill="#56c667" d="M276.1 -6.9h12.3v7.2h-12.3zM-196.2 -13.9h12.3v7.2h-12.3zM18.4 -13.9h6.1v7.2h-6.1zM-196 -20.8h12.3v7.2h-12.3zM-91.9 -20.8h30.6v7.2h-30.6zM-415.8 -27.8h116.2v7.2h-116.2zM-207.9 -27.8h12.2v7.2h-12.2zM-207.5 -34.7h12.2v7.2h-12.2zM262.4 -34.7h6.1v7.2h-6.1zM299 -34.7h12.2v7.2h-12.2zM261.7 -41.7h6.1v7.2h-6.1zM298.2 -41.7h12.2v7.2h-12.2zM260.8 -48.6h6.1v7.2h-6.1zM259.8 -55.6h6v7.2h-6zM-279.6 -151.7h5.2v6.9h-5.2zM-273.8 -158.2h5.1v6.8h-5.1z"/><path fill="#65cb5e" d="M276.1 -6.9h6.1v7.2h-6.1zM-196.2 -13.9h12.3v7.2h-12.3zM18.4 -13.9h6.1v7.2h-6.1zM-196 -20.8h12.3v7.2h-12.3zM-85.8 -20.8h18.4v7.2h-18.4zM-409.7 -27.8h104v7.2h-104zM-207.9 -27.8h6.1v7.2h-6.1zM-207.5 -34.7h6.1v7.2h-6.1zM262.4 -34.7h6.1v7.2h-6.1zM299 -34.7h12.2v7.2h-12.2zM261.7 -41.7h6.1v7.2h-6.1zM260.8 -48.6h6.1v7.2h-6.1zM259.8 -55.6h6v7.2h-6zM-279.6 -151.7h5.2v6.9h-5.2zM-273.8 -158.2h5.1v6.8h-5.1z"/><path fill="#73d056" d="M276.1 -6.9h6.1v7.2h-6.1zM-196.2 -13.9h12.3v7.2h-12.3zM18.4 -13.9h6.1v7.2h-6.1zM-196 -20.8h12.3v7.2h-12.3zM-397.5 -27.8h85.6v7.2h-85.6zM-207.9 -27.8h6.1v7.2h-6.1zM-207.5 -34.7h6.1v7.2h-6.1zM262.4 -34.7h6.1v7.2h-6.1zM299 -34.7h12.2v7.2h-12.2zM261.7 -41.7h6.1v7.2h-6.1zM260.8 -48.6h6.1v7.2h-6.1zM-273.8 -158.2h5.1v6.8h-5.1z"/><path fill="#84d44b" d="M276.1 -6.9h6.1v7.2h-6.1zM-196.2 -13.9h12.3v7.2h-12.3zM18.4 -13.9h6.1v7.2h-6.1zM-196 -20.8h12.3v7.2h-12.3zM-391.4 -27.8h79.5v7.2h-79.5zM-207.9 -27.8h6.1v7.2h-6.1zM-207.5 -34.7h6.1v7.2h-6.1zM262.4 -34.7h6.1v7.2h-6.1zM261.7 -41.7h6.1v7.2h-6.1zM260.8 -48.6h6.1v7.2h-6.1zM-273.8 -158.2h5.1v6.8h-5.1z"/><path fill="#93d741" d="M-190.1 -13.9h6.1v7.2h-6.1zM-196 -20.8h12.3v7.2h-12.3zM-385.3 -27.8h67.3v7.2h-67.3zM-207.9 -27.8h6.1v7.2h-6.1zM-207.5 -34.7h6.1v7.2h-6.1zM262.4 -34.7h6.1v7.2h-6.1zM261.7 -41.7h6.1v7.2h-6.1zM260.8 -48.6h6.1v7.2h-6.1z"/><path fill="#a2da37" d="M-190.1 -13.9h6.1v7.2h-6.1zM-196 -20.8h12.3v7.2h-12.3zM-379.1 -27.8h55v7.2h-55zM261.7 -41.7h6.1v7.2h-6.1zM260.8 -48.6h6.1v7.2h-6.1z"/><path fill="#b5de2b" d="M-373 -27.8h42.8v7.2h-42.8zM261.7 -41.7h6.1v7.2h-6.1zM260.8 -48.6h6.1v7.2h-6.1z"/><path fill="#c5e021" d="M-360.8 -27.8h24.5v7.2h-24.5zM261.7 -41.7h6.1v7.2h-6.1zM260.8 -48.6h6.1v7.2h-6.1z"/><path fill="#d8e219" d="M261.7 -41.7h6.1v7.2h-6.1zM260.8 -48.6h6.1v7.2h-6.1z"/><path fill="#e7e419" d="M261.7 -41.7h6.1v7.2h-6.1zM260.8 -48.6h6.1v7.2h-6.1z"/><path fill="#f6e620" d="M261.7 -41.7h6.1v7.2h-6.1zM260.8 -48.6h6.1v7.2h-6.1z"/></g></g>
<use href="#ov"/>
<text x="0" y="-239.4" font-size="50" text-anchor="middle">month = 10</text>
<g transform="translate(0.7 0)"><path d="M497.1 223.0V-201.1L508.25 -221.8L519.4 -201.1V223.0Z" fill="url(#vg)" stroke="#000" stroke-width="2.4" stroke-linejoin="miter"/><path d="M519.4 223.0h14.3" stroke="#000" stroke-width="2.6"/><text x="544.0" y="238.0" font-size="34">0.0</text><path d="M519.4 152.3h14.3" stroke="#000" stroke-width="2.6"/><text x="544.0" y="167.3" font-size="34">2.5</text><path d="M519.4 81.6h14.3" stroke="#000" stroke-width="2.6"/><text x="544.0" y="96.6" font-size="34">5.0</text><path d="M519.4 10.9h14.3" stroke="#000" stroke-width="2.6"/><text x="544.0" y="25.9" font-size="34">7.5</text><path d="M519.4 -59.7h14.3" stroke="#000" stroke-width="2.6"/><text x="544.0" y="-44.7" font-size="34">10.0</text><path d="M519.4 -130.4h14.3" stroke="#000" stroke-width="2.6"/><text x="544.0" y="-115.4" font-size="34">12.5</text><path d="M519.4 -201.1h14.3" stroke="#000" stroke-width="2.6"/><text x="544.0" y="-186.1" font-size="34">15.0</text><text transform="translate(663.0 13.2) rotate(-90)" font-size="41.7" text-anchor="middle">GPCP Climatology</text><text transform="translate(712.0 15.0) rotate(-90)" font-size="41.7" text-anchor="middle">(mm/day)</text></g>
</g>
</svg></body></html>
